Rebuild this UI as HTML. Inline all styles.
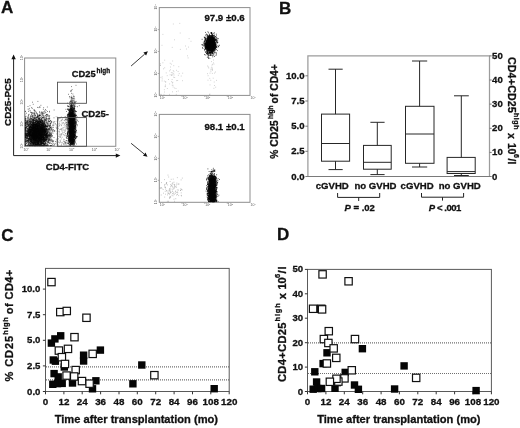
<!DOCTYPE html><html><head><meta charset="utf-8"><title>Figure</title>
<style>html,body{margin:0;padding:0;background:#fff}svg{display:block;filter:blur(0.4px)}text{font-family:"Liberation Sans",sans-serif;font-weight:bold;fill:#111;stroke:#111;stroke-width:0.3px}</style></head><body>
<svg width="520" height="428" viewBox="0 0 520 428">
<rect width="520" height="428" fill="#fff"/>
<g opacity="0.999">
<text x="0.9" y="13" font-size="17">A</text>
<text x="278.9" y="14" font-size="17">B</text>
<text x="1.2" y="240.8" font-size="17">C</text>
<text x="276.9" y="240" font-size="17">D</text>
<path d="M46.3 130.4h0.8M37.1 136.2h0.8M32.5 133.5h0.8M36.9 121.9h0.8M42.6 137.5h0.8M33.4 132.4h0.8M39.7 131.8h0.8M35.5 123.9h0.8M40.0 134.3h0.8M38.4 123.4h0.8M46.1 134.5h0.8M34.7 145.7h0.8M36.6 123.9h0.8M34.6 118.4h0.8M42.8 130.8h0.8M32.7 140.6h0.8M27.6 137.0h0.8M25.3 129.1h0.8M30.1 143.1h0.8M46.8 131.3h0.8M41.6 132.3h0.8M40.1 128.5h0.8M27.3 121.6h0.8M39.0 145.7h0.8M38.4 130.0h0.8M47.6 135.1h0.8M37.4 135.2h0.8M36.1 131.5h0.8M28.8 136.8h0.8M36.3 141.4h0.8M34.8 120.9h0.8M36.3 144.7h0.8M34.7 127.6h0.8M30.2 126.6h0.8M35.2 125.7h0.8M45.3 131.6h0.8M37.5 143.0h0.8M45.3 132.1h0.8M38.7 138.4h0.8M35.8 121.8h0.8M40.5 139.4h0.8M39.2 127.4h0.8M35.8 129.6h0.8M35.2 142.1h0.8M45.4 137.9h0.8M39.9 138.0h0.8M36.8 133.0h0.8M33.1 133.1h0.8M49.5 139.2h0.8M35.0 130.4h0.8M32.0 136.0h0.8M39.1 124.0h0.8M39.6 129.7h0.8M44.9 134.5h0.8M46.5 130.5h0.8M35.3 135.5h0.8M42.8 137.2h0.8M30.0 134.7h0.8M37.0 130.7h0.8M33.2 145.0h0.8M34.7 127.9h0.8M40.4 134.4h0.8M36.5 138.7h0.8M39.6 135.9h0.8M42.3 135.4h0.8M33.4 131.1h0.8M34.0 134.9h0.8M30.8 121.4h0.8M37.4 124.7h0.8M25.9 136.0h0.8M32.9 136.8h0.8M33.9 126.1h0.8M29.9 130.1h0.8M35.3 128.1h0.8M35.3 123.4h0.8M37.0 121.7h0.8M35.8 138.1h0.8M43.0 144.8h0.8M28.2 138.5h0.8M43.6 140.0h0.8M31.7 136.2h0.8M47.3 123.6h0.8M39.5 140.8h0.8M33.0 137.3h0.8M30.9 128.1h0.8M32.3 134.8h0.8M36.4 139.8h0.8M31.6 132.6h0.8M42.3 137.2h0.8M29.5 137.9h0.8M34.2 136.0h0.8M38.6 141.5h0.8M37.5 121.3h0.8M29.2 138.3h0.8M35.4 141.0h0.8M38.4 128.6h0.8M42.9 128.2h0.8M25.4 145.7h0.8M26.2 137.7h0.8M42.1 134.5h0.8M27.4 140.2h0.8M28.8 124.6h0.8M34.8 138.7h0.8M38.6 138.9h0.8M34.4 132.4h0.8M30.5 131.4h0.8M40.2 131.5h0.8M39.5 129.7h0.8M33.6 133.8h0.8M35.8 137.4h0.8M37.9 145.0h0.8M35.6 132.0h0.8M31.1 133.7h0.8M40.7 128.6h0.8M36.6 138.2h0.8M36.2 130.1h0.8M42.3 134.1h0.8M39.1 141.2h0.8M43.3 131.2h0.8M33.9 135.4h0.8M36.1 121.0h0.8M44.0 133.6h0.8M41.0 125.8h0.8M44.1 129.6h0.8M36.3 124.3h0.8M35.9 132.0h0.8M35.8 136.4h0.8M37.2 139.9h0.8M34.3 126.9h0.8M36.8 137.6h0.8M43.8 138.9h0.8M27.0 136.0h0.8M45.1 133.9h0.8M34.0 135.5h0.8M34.1 137.7h0.8M36.8 142.7h0.8M39.7 128.7h0.8M40.3 139.7h0.8M33.7 130.7h0.8M24.8 139.5h0.8M33.6 119.5h0.8M27.0 132.0h0.8M41.1 132.9h0.8M39.5 126.2h0.8M29.4 139.3h0.8M39.6 133.3h0.8M44.1 127.2h0.8M34.5 140.3h0.8M47.2 133.6h0.8M46.3 129.5h0.8M38.7 132.4h0.8M28.0 135.2h0.8M42.1 132.5h0.8M36.5 142.7h0.8M29.9 123.6h0.8M33.2 125.6h0.8M44.4 135.5h0.8M32.0 129.4h0.8M52.9 129.5h0.8M32.6 135.5h0.8M40.4 135.0h0.8M31.8 125.8h0.8M40.2 133.1h0.8M27.7 141.2h0.8M41.2 131.9h0.8M35.4 135.0h0.8M33.0 124.6h0.8M38.7 124.0h0.8M39.1 124.0h0.8M36.3 132.6h0.8M46.9 126.5h0.8M29.0 129.2h0.8M30.6 129.6h0.8M39.2 138.6h0.8M46.2 128.6h0.8M51.7 145.7h0.8M35.7 118.4h0.8M36.4 134.0h0.8M24.8 134.0h0.8M35.8 128.3h0.8M40.4 140.1h0.8M34.2 135.0h0.8M33.2 128.3h0.8M37.3 137.0h0.8M33.7 118.9h0.8M40.2 123.0h0.8M37.6 145.2h0.8M36.8 125.6h0.8M28.7 141.2h0.8M36.8 137.1h0.8M42.1 133.2h0.8M35.1 127.2h0.8M24.8 123.5h0.8M36.5 132.3h0.8M39.1 132.7h0.8M37.8 138.7h0.8M31.9 131.6h0.8M27.9 139.9h0.8M37.1 136.7h0.8M45.5 140.6h0.8M36.5 138.7h0.8M28.9 136.4h0.8M37.7 122.8h0.8M44.4 128.9h0.8M40.7 130.7h0.8M42.4 142.2h0.8M32.2 123.4h0.8M36.1 139.1h0.8M34.8 129.5h0.8M39.6 115.3h0.8M33.2 124.4h0.8M38.5 128.6h0.8M30.6 131.2h0.8M28.7 133.4h0.8M33.1 131.0h0.8M32.9 139.5h0.8M36.3 137.0h0.8M39.6 128.2h0.8M40.1 135.8h0.8M38.6 130.9h0.8M34.5 138.7h0.8M49.1 128.0h0.8M39.9 131.1h0.8M41.3 136.4h0.8M42.8 115.1h0.8M33.5 127.0h0.8M36.3 128.7h0.8M33.3 138.0h0.8M47.5 114.9h0.8M35.1 135.6h0.8M36.9 131.2h0.8M29.3 127.3h0.8M40.9 140.6h0.8M37.4 128.0h0.8M37.4 131.9h0.8M39.9 134.3h0.8M33.4 134.8h0.8M30.3 138.9h0.8M43.5 125.7h0.8M39.2 127.0h0.8M42.9 139.5h0.8M35.6 140.1h0.8M34.5 129.3h0.8M33.7 132.6h0.8M35.1 134.5h0.8M33.4 138.5h0.8M42.6 130.2h0.8M28.9 138.3h0.8M43.3 132.4h0.8M29.7 135.3h0.8M45.4 121.1h0.8M39.6 131.4h0.8M32.1 136.8h0.8M29.6 135.5h0.8M44.2 134.7h0.8M32.0 121.8h0.8M29.7 121.3h0.8M45.8 131.9h0.8M31.0 124.9h0.8M30.9 131.3h0.8M29.7 144.6h0.8M32.7 128.3h0.8M38.6 143.1h0.8M44.3 130.3h0.8M38.3 134.5h0.8M39.8 135.2h0.8M31.6 125.2h0.8M37.9 125.7h0.8M44.5 133.8h0.8M31.1 131.4h0.8M34.0 132.6h0.8M42.2 124.0h0.8M26.4 135.7h0.8M35.9 134.6h0.8M39.4 132.3h0.8M41.4 127.6h0.8M37.2 128.0h0.8M30.5 137.6h0.8M40.1 120.7h0.8M30.6 135.4h0.8M42.9 129.1h0.8M35.8 124.2h0.8M50.9 136.6h0.8M41.9 137.8h0.8M42.1 137.5h0.8M35.0 138.4h0.8M37.3 142.1h0.8M32.8 129.9h0.8M40.6 141.9h0.8M37.7 128.8h0.8M36.2 130.2h0.8M47.5 139.4h0.8M44.0 135.5h0.8M33.8 141.2h0.8M46.1 137.3h0.8M36.7 140.6h0.8M34.8 138.5h0.8M32.9 127.1h0.8M40.0 135.7h0.8M47.5 131.7h0.8M37.0 126.0h0.8M26.4 121.7h0.8M39.5 125.7h0.8M43.2 142.9h0.8M35.3 144.4h0.8M38.1 140.9h0.8M35.6 139.8h0.8M31.6 137.6h0.8M34.3 132.6h0.8M40.4 134.6h0.8M36.5 138.3h0.8M41.4 124.4h0.8M40.0 137.9h0.8M32.7 136.0h0.8M29.5 143.0h0.8M35.5 133.0h0.8M43.6 132.6h0.8M40.2 126.6h0.8M33.7 124.3h0.8M35.7 140.3h0.8M38.1 139.3h0.8M31.1 127.7h0.8M34.3 137.3h0.8M38.9 133.4h0.8M40.4 132.5h0.8M36.8 142.1h0.8M33.6 134.7h0.8M45.9 134.2h0.8M40.8 129.5h0.8M47.8 118.7h0.8M30.5 126.5h0.8M45.9 135.8h0.8M35.4 125.0h0.8M38.9 134.3h0.8M33.0 123.7h0.8M30.7 134.9h0.8M38.6 134.0h0.8M36.0 121.8h0.8M37.1 126.7h0.8M37.1 136.6h0.8M33.1 126.7h0.8M42.4 135.8h0.8M33.3 113.7h0.8M36.6 137.7h0.8M43.2 129.0h0.8M33.3 130.6h0.8M41.6 125.7h0.8M36.2 127.4h0.8M38.4 123.2h0.8M39.0 130.2h0.8M35.6 137.0h0.8M43.3 122.3h0.8M42.5 137.2h0.8M35.2 142.8h0.8M37.9 142.0h0.8M33.6 127.8h0.8M43.7 145.7h0.8M40.4 139.4h0.8M34.2 124.8h0.8M35.6 143.4h0.8M26.5 130.2h0.8M26.2 134.2h0.8M41.8 125.3h0.8M34.6 142.2h0.8M36.4 125.3h0.8M29.5 120.2h0.8M41.2 128.6h0.8M42.8 139.2h0.8M33.2 130.0h0.8M41.2 134.5h0.8M38.4 122.6h0.8M41.9 127.7h0.8M24.8 129.4h0.8M39.2 145.7h0.8M34.8 124.7h0.8M48.8 134.6h0.8M35.4 126.4h0.8M31.3 143.3h0.8M35.4 130.0h0.8M34.0 143.8h0.8M33.6 137.6h0.8M38.4 135.1h0.8M32.0 137.8h0.8M45.9 133.2h0.8M31.7 125.0h0.8M37.9 131.7h0.8M36.3 133.6h0.8M28.6 138.7h0.8M38.2 133.0h0.8M38.2 139.6h0.8M37.2 127.9h0.8M43.4 130.6h0.8M32.8 123.2h0.8M36.9 126.6h0.8M34.0 136.5h0.8M37.1 140.2h0.8M38.6 130.8h0.8M35.0 130.2h0.8M40.5 133.6h0.8M34.6 139.1h0.8M37.4 130.4h0.8M28.4 136.4h0.8M38.2 133.8h0.8M34.4 128.0h0.8M35.6 135.0h0.8M36.2 132.5h0.8M34.3 135.7h0.8M38.2 128.5h0.8M41.1 138.7h0.8M41.4 132.6h0.8M35.8 125.8h0.8M41.1 119.4h0.8M34.7 131.3h0.8M41.7 133.5h0.8M31.5 124.1h0.8M32.8 134.2h0.8M37.2 132.2h0.8M33.0 132.1h0.8M42.5 126.2h0.8M37.1 144.2h0.8M40.0 130.5h0.8M40.6 128.5h0.8M36.9 143.8h0.8M47.5 122.2h0.8M40.8 145.7h0.8M33.8 135.2h0.8M45.3 130.2h0.8M39.4 133.1h0.8M26.1 135.8h0.8M35.8 139.6h0.8M48.6 138.0h0.8M34.8 136.5h0.8M38.0 140.3h0.8M28.8 125.8h0.8M25.4 137.5h0.8M36.8 129.3h0.8M32.8 129.7h0.8M31.7 131.4h0.8M34.1 142.7h0.8M38.7 128.1h0.8M33.6 141.4h0.8M39.4 135.4h0.8M40.9 144.0h0.8M30.1 128.6h0.8M27.1 136.8h0.8M34.8 129.1h0.8M32.6 138.1h0.8M36.1 130.0h0.8M43.9 126.6h0.8M29.8 145.7h0.8M34.8 129.9h0.8M32.8 132.6h0.8M41.3 138.5h0.8M39.9 131.7h0.8M28.5 135.4h0.8M45.4 140.6h0.8M35.9 138.8h0.8M34.7 133.1h0.8M30.0 131.4h0.8M37.7 132.4h0.8M41.2 145.7h0.8M44.3 131.5h0.8M32.8 129.2h0.8M31.4 133.7h0.8M39.2 134.7h0.8M38.0 134.5h0.8M36.1 128.6h0.8M46.5 140.4h0.8M31.8 127.5h0.8M33.6 133.7h0.8M43.9 140.2h0.8M42.9 140.7h0.8M43.1 138.4h0.8M39.4 132.7h0.8M27.1 132.6h0.8M47.0 129.9h0.8M33.4 140.2h0.8M37.3 130.3h0.8M45.6 137.6h0.8M41.1 129.8h0.8M39.7 136.0h0.8M41.2 141.1h0.8M43.2 134.6h0.8M40.7 125.9h0.8M40.5 138.0h0.8M34.7 128.4h0.8M36.5 125.5h0.8M38.8 135.4h0.8M31.6 133.8h0.8M42.9 140.5h0.8M42.5 132.5h0.8M35.0 130.9h0.8M40.2 145.7h0.8M44.7 144.0h0.8M44.4 122.9h0.8M35.8 130.6h0.8M43.9 144.6h0.8M33.2 133.8h0.8M40.0 130.3h0.8M33.4 129.0h0.8M41.8 127.5h0.8M43.2 134.1h0.8M41.1 143.7h0.8M33.1 128.1h0.8M39.3 126.7h0.8M32.8 132.8h0.8M37.8 125.3h0.8M34.7 137.3h0.8M44.4 120.6h0.8M44.2 139.3h0.8M30.8 123.8h0.8M39.2 130.7h0.8M37.6 139.2h0.8M34.8 134.6h0.8M39.5 139.3h0.8M46.7 144.7h0.8M38.2 131.9h0.8M50.1 137.7h0.8M39.3 126.3h0.8M41.2 128.4h0.8M34.3 124.7h0.8M34.0 133.9h0.8M28.5 127.6h0.8M36.4 125.2h0.8M29.9 128.0h0.8M29.0 137.5h0.8M31.3 138.6h0.8M42.0 125.6h0.8M37.1 130.4h0.8M30.5 131.3h0.8M35.5 138.2h0.8M42.6 126.3h0.8M34.6 137.0h0.8M43.4 117.4h0.8M44.0 132.4h0.8M45.4 130.7h0.8M32.2 133.8h0.8M43.4 133.7h0.8M24.8 138.0h0.8M27.9 127.1h0.8M30.4 121.4h0.8M29.9 127.0h0.8M33.5 133.1h0.8M35.0 123.7h0.8M35.9 139.9h0.8M42.2 134.4h0.8M40.3 139.4h0.8M44.5 144.7h0.8M35.1 131.7h0.8M45.1 143.8h0.8M45.5 118.0h0.8M35.6 112.0h0.8M41.0 133.9h0.8M37.2 132.6h0.8M44.2 131.6h0.8M42.7 137.2h0.8M38.9 136.6h0.8M37.5 126.3h0.8M40.9 138.2h0.8M36.1 138.3h0.8M41.9 125.0h0.8M36.1 130.6h0.8M31.8 135.6h0.8M32.2 130.6h0.8M38.2 135.8h0.8M38.7 145.7h0.8M34.1 135.2h0.8M30.1 136.7h0.8M43.3 141.5h0.8M33.3 131.7h0.8M43.9 132.9h0.8M42.2 127.1h0.8M44.6 140.3h0.8M39.5 128.2h0.8M36.0 134.5h0.8M38.4 132.8h0.8M35.7 134.8h0.8M44.7 120.2h0.8M29.2 123.3h0.8M33.0 122.0h0.8M40.0 134.1h0.8M35.5 129.0h0.8M37.8 134.7h0.8M38.7 128.7h0.8M40.5 123.8h0.8M43.9 113.2h0.8M33.6 125.6h0.8M41.3 123.7h0.8M47.1 123.3h0.8M48.2 136.5h0.8M37.0 136.4h0.8M49.2 139.4h0.8M24.8 141.4h0.8M38.2 122.8h0.8M41.1 125.5h0.8M37.9 135.0h0.8M33.2 137.8h0.8M31.2 134.8h0.8M33.8 132.3h0.8M47.6 134.2h0.8M30.8 132.7h0.8M32.6 133.7h0.8M37.8 134.1h0.8M37.3 129.9h0.8M39.4 140.5h0.8M33.4 133.1h0.8M37.2 141.8h0.8M42.9 128.7h0.8M37.3 123.6h0.8M31.5 133.6h0.8M40.4 139.8h0.8M35.1 124.6h0.8M39.1 132.4h0.8M39.2 134.6h0.8M40.9 137.8h0.8M41.6 130.5h0.8M42.4 130.2h0.8M37.4 145.7h0.8M38.9 125.8h0.8M45.2 140.1h0.8M43.3 134.8h0.8M38.8 132.0h0.8M33.0 143.6h0.8M34.8 130.3h0.8M34.4 145.7h0.8M41.8 131.1h0.8M36.6 136.9h0.8M41.8 122.9h0.8M41.9 132.1h0.8M33.0 130.9h0.8M41.3 145.1h0.8M37.7 137.2h0.8M32.3 136.7h0.8M41.5 123.7h0.8M34.0 138.7h0.8M27.0 131.0h0.8M40.2 122.3h0.8M34.7 133.9h0.8M41.9 125.1h0.8M43.1 135.5h0.8M43.6 141.2h0.8M38.8 136.7h0.8M27.1 124.6h0.8M31.2 131.2h0.8M42.1 121.7h0.8M35.1 124.8h0.8M28.2 143.2h0.8M37.4 144.3h0.8M43.5 127.4h0.8M26.5 145.7h0.8M34.6 125.9h0.8M40.7 134.4h0.8M33.1 131.2h0.8M37.8 134.0h0.8M41.1 131.2h0.8M35.0 137.5h0.8M38.6 140.7h0.8M35.5 132.9h0.8M30.4 143.4h0.8M29.1 134.8h0.8M31.9 135.7h0.8M41.0 122.7h0.8M35.7 121.9h0.8M44.7 130.6h0.8M28.0 128.9h0.8M44.2 143.3h0.8M44.0 128.3h0.8M36.0 144.3h0.8M32.8 131.3h0.8M31.5 125.8h0.8M43.6 137.7h0.8M39.4 137.3h0.8M42.6 143.5h0.8M36.8 131.3h0.8M31.1 140.6h0.8M34.0 123.6h0.8M35.4 133.7h0.8M41.5 140.1h0.8M32.8 128.2h0.8M35.0 125.5h0.8M36.3 136.5h0.8M37.1 122.9h0.8M30.2 142.0h0.8M31.2 138.4h0.8M40.4 131.4h0.8M31.3 134.9h0.8M31.9 132.3h0.8M37.5 128.8h0.8M35.6 131.5h0.8M30.0 132.2h0.8M33.3 121.5h0.8M35.0 131.6h0.8M33.5 119.9h0.8M41.2 138.0h0.8M40.5 135.6h0.8M29.8 134.3h0.8M31.7 145.7h0.8M34.0 137.9h0.8M28.2 125.7h0.8M33.9 138.1h0.8M39.9 135.4h0.8M26.5 141.0h0.8M31.7 144.2h0.8M47.3 139.0h0.8M42.4 125.2h0.8M51.3 134.9h0.8M42.5 127.8h0.8M36.5 125.7h0.8M35.5 133.6h0.8M38.3 142.7h0.8M39.6 135.1h0.8M37.1 145.7h0.8M33.6 141.3h0.8M25.9 127.7h0.8M39.2 132.4h0.8M53.7 145.7h0.8M28.4 126.4h0.8M36.1 145.0h0.8M43.2 135.7h0.8M29.0 127.9h0.8M24.8 123.4h0.8M39.3 138.7h0.8M29.6 134.2h0.8M46.0 134.6h0.8M35.2 137.6h0.8M39.9 134.1h0.8M33.9 130.7h0.8M37.4 129.9h0.8M44.4 139.4h0.8M43.0 145.7h0.8M45.7 142.9h0.8M39.0 132.3h0.8M49.8 129.1h0.8M33.4 127.8h0.8M38.1 136.3h0.8M42.7 132.0h0.8M27.2 135.6h0.8M42.4 133.7h0.8M36.2 137.2h0.8M44.9 133.1h0.8M28.9 129.8h0.8M36.0 121.6h0.8M41.2 128.5h0.8M39.7 134.8h0.8M35.1 144.3h0.8M33.7 129.1h0.8M38.5 139.1h0.8M36.9 127.0h0.8M40.8 137.5h0.8M48.5 132.1h0.8M38.1 129.8h0.8M28.5 134.0h0.8M41.6 126.8h0.8M33.1 125.7h0.8M44.4 129.3h0.8M40.1 127.8h0.8M37.3 129.4h0.8M24.8 134.0h0.8M39.8 119.7h0.8M35.9 130.6h0.8M30.8 131.8h0.8M26.0 135.2h0.8M43.5 125.2h0.8M36.5 142.9h0.8M37.6 130.1h0.8M31.8 134.7h0.8M36.1 137.7h0.8M28.4 140.6h0.8M34.6 137.7h0.8M32.8 124.9h0.8M33.7 127.2h0.8M34.8 137.8h0.8M42.9 134.8h0.8M33.8 130.5h0.8M40.2 141.0h0.8M35.1 132.7h0.8M32.7 134.9h0.8M42.2 114.3h0.8M38.3 129.9h0.8M24.8 135.6h0.8M36.4 135.9h0.8M29.2 145.7h0.8M37.5 131.2h0.8M45.4 137.8h0.8M41.5 141.2h0.8M25.3 144.5h0.8M34.9 135.4h0.8M42.0 128.8h0.8M38.7 138.5h0.8M36.6 136.8h0.8M27.9 125.6h0.8M30.4 135.9h0.8M36.0 133.1h0.8M42.4 138.2h0.8M30.5 140.2h0.8M36.7 138.9h0.8M25.7 123.2h0.8M40.2 121.6h0.8M39.1 135.7h0.8M37.7 135.8h0.8M38.4 136.5h0.8M34.6 133.4h0.8M53.3 141.0h0.8M40.3 136.1h0.8M32.8 135.0h0.8M35.5 139.7h0.8M31.8 117.9h0.8M33.7 138.1h0.8M50.6 140.3h0.8M31.4 132.1h0.8M31.5 132.3h0.8M31.9 122.6h0.8M39.4 134.8h0.8M35.9 135.8h0.8M48.3 134.3h0.8M34.8 139.2h0.8M27.7 138.5h0.8M32.5 128.1h0.8M37.5 144.5h0.8M32.7 139.8h0.8M39.0 124.3h0.8M42.0 128.0h0.8M28.6 128.3h0.8M32.8 137.4h0.8M32.8 143.4h0.8M38.1 128.8h0.8M32.2 135.0h0.8M25.5 119.1h0.8M31.9 137.7h0.8M37.9 133.6h0.8M35.7 119.1h0.8M35.1 121.8h0.8M41.6 133.4h0.8M36.4 136.1h0.8M38.7 135.0h0.8M38.8 129.6h0.8M29.4 135.8h0.8M45.0 140.2h0.8M35.7 137.5h0.8M34.4 136.0h0.8M33.5 134.4h0.8M48.1 138.6h0.8M45.3 128.4h0.8M33.0 133.2h0.8M40.0 132.1h0.8M42.5 129.9h0.8M44.5 139.9h0.8M30.6 137.3h0.8M35.6 140.2h0.8M33.9 135.6h0.8M39.9 115.3h0.8M26.3 134.3h0.8M36.2 140.2h0.8M38.1 125.1h0.8M38.7 128.5h0.8M35.6 130.1h0.8M38.8 124.1h0.8M30.6 118.8h0.8M48.9 126.9h0.8M32.0 125.9h0.8M33.3 130.6h0.8M40.3 134.7h0.8M38.7 129.6h0.8M36.5 141.5h0.8M36.7 135.5h0.8M25.5 136.9h0.8M38.3 142.0h0.8M24.8 133.6h0.8M36.2 134.0h0.8M33.3 134.8h0.8M40.7 133.7h0.8M35.1 132.0h0.8M34.6 133.6h0.8M32.8 120.2h0.8M44.4 121.8h0.8M36.1 124.7h0.8M35.1 127.0h0.8M36.5 127.8h0.8M29.5 135.3h0.8M44.2 135.6h0.8M37.3 126.3h0.8M36.2 136.2h0.8M33.0 139.2h0.8M36.4 135.6h0.8M33.9 130.0h0.8M37.9 135.8h0.8M38.6 126.5h0.8M32.5 133.1h0.8M26.2 140.1h0.8M38.4 133.5h0.8M32.6 138.6h0.8M35.1 145.7h0.8M38.8 123.3h0.8M40.7 129.7h0.8M33.7 131.6h0.8M35.9 134.8h0.8M40.8 136.1h0.8M32.5 124.2h0.8M32.0 135.5h0.8M41.4 145.0h0.8M29.0 133.6h0.8M35.3 130.5h0.8M37.3 131.5h0.8M35.1 128.8h0.8M38.8 140.1h0.8M45.7 129.6h0.8M30.6 131.4h0.8M31.9 139.9h0.8M32.0 133.6h0.8M29.0 130.8h0.8M37.6 143.2h0.8M32.7 135.5h0.8M24.9 125.1h0.8M32.0 129.8h0.8M38.9 137.3h0.8M27.5 136.6h0.8M30.3 145.2h0.8M38.3 134.1h0.8M35.5 132.9h0.8M36.5 128.5h0.8M40.7 134.9h0.8M40.7 132.7h0.8M40.3 128.1h0.8M56.5 128.4h0.8M34.0 139.4h0.8M43.4 127.8h0.8M27.2 123.8h0.8M31.0 127.9h0.8M35.6 139.9h0.8M42.6 129.0h0.8M39.5 138.9h0.8M44.4 132.0h0.8M32.3 138.0h0.8M45.0 129.6h0.8M47.4 144.4h0.8M35.0 122.7h0.8M33.2 130.7h0.8M39.5 122.0h0.8M50.1 145.7h0.8M32.4 120.8h0.8M35.5 135.8h0.8M44.0 137.7h0.8M35.4 120.1h0.8M39.3 138.6h0.8M34.7 134.9h0.8M37.6 131.4h0.8M30.0 135.3h0.8M28.5 142.3h0.8M31.4 136.3h0.8M32.4 135.5h0.8M35.3 136.5h0.8M32.0 122.3h0.8M34.9 130.7h0.8M28.0 128.5h0.8M27.1 133.8h0.8M34.4 133.1h0.8M51.0 134.1h0.8M38.5 137.1h0.8M35.7 129.1h0.8M41.4 139.8h0.8M24.8 131.9h0.8M34.6 129.3h0.8M43.4 129.5h0.8M41.3 129.4h0.8M34.2 137.8h0.8M32.3 131.9h0.8M30.3 127.1h0.8M40.5 136.8h0.8M30.0 125.2h0.8M50.7 128.7h0.8M31.6 136.4h0.8M32.1 130.6h0.8M41.4 139.6h0.8M35.3 141.8h0.8M35.6 131.4h0.8M36.4 130.9h0.8M39.4 134.8h0.8M32.1 134.2h0.8M33.4 129.2h0.8M35.6 139.7h0.8M38.0 141.3h0.8M45.2 132.7h0.8M33.0 127.8h0.8M38.0 138.7h0.8M45.3 124.3h0.8M41.6 140.0h0.8M50.1 134.2h0.8M36.3 123.0h0.8M32.1 125.7h0.8M30.8 127.1h0.8M27.9 132.4h0.8M38.6 138.0h0.8M35.9 140.0h0.8M42.5 123.0h0.8M35.0 124.8h0.8M31.0 134.3h0.8M35.8 142.7h0.8M48.0 135.8h0.8M35.4 132.1h0.8M36.5 136.9h0.8M32.4 136.9h0.8M35.2 140.1h0.8M44.2 144.6h0.8M35.7 124.2h0.8M27.1 131.2h0.8M28.6 122.3h0.8M34.6 126.6h0.8M40.4 145.7h0.8M35.3 135.2h0.8M27.8 134.4h0.8M32.7 125.9h0.8M26.2 143.7h0.8M27.6 125.2h0.8M36.7 135.1h0.8M38.3 133.9h0.8M31.6 138.3h0.8M37.7 123.6h0.8M45.6 131.0h0.8M42.0 123.6h0.8M30.0 129.4h0.8M32.8 139.9h0.8M27.6 134.3h0.8M31.0 136.7h0.8M37.8 129.6h0.8M49.1 133.0h0.8M42.8 124.5h0.8M36.0 133.9h0.8M37.5 131.0h0.8M32.0 112.9h0.8M33.5 127.2h0.8M35.3 139.0h0.8M49.1 136.8h0.8M42.4 137.5h0.8M40.8 137.2h0.8M35.3 131.2h0.8M38.6 145.2h0.8M41.1 144.0h0.8M29.5 135.1h0.8M39.0 136.8h0.8M29.1 121.2h0.8M24.9 130.8h0.8M49.9 134.9h0.8M30.0 135.7h0.8M35.1 134.6h0.8M34.3 124.9h0.8M33.9 138.2h0.8M38.6 141.5h0.8M30.9 140.4h0.8M37.2 134.8h0.8M43.9 132.7h0.8M38.4 137.8h0.8M40.6 139.0h0.8M44.2 137.1h0.8M34.5 145.7h0.8M36.8 136.2h0.8M32.9 119.3h0.8M32.7 134.1h0.8M40.0 133.9h0.8M41.5 140.3h0.8M42.6 133.8h0.8M37.5 132.3h0.8M32.2 143.2h0.8M30.1 133.3h0.8M38.4 119.6h0.8M41.3 131.5h0.8M38.4 131.6h0.8M28.5 135.1h0.8M37.7 140.4h0.8M39.8 122.7h0.8M43.3 139.0h0.8M41.4 137.0h0.8M33.2 137.3h0.8M35.1 145.7h0.8M35.8 126.5h0.8M35.2 143.3h0.8M33.9 117.7h0.8M45.3 135.9h0.8M34.3 138.5h0.8M31.9 126.0h0.8M42.5 130.4h0.8M40.1 133.9h0.8M41.8 134.5h0.8M25.6 138.3h0.8M34.5 139.6h0.8M37.7 143.2h0.8M35.4 120.2h0.8M35.3 137.2h0.8M35.2 130.7h0.8M45.4 132.8h0.8M43.0 134.8h0.8M29.0 127.6h0.8M35.3 135.8h0.8M32.6 124.4h0.8M31.4 130.3h0.8M32.1 129.9h0.8M47.5 135.6h0.8M32.5 133.7h0.8M45.9 138.0h0.8M36.5 124.8h0.8M27.6 131.5h0.8M36.5 123.0h0.8M29.6 133.5h0.8M24.8 122.4h0.8M36.8 137.4h0.8M38.9 140.3h0.8M45.9 139.7h0.8M35.6 145.7h0.8M46.5 140.0h0.8M32.5 136.4h0.8M25.4 131.6h0.8M24.8 131.0h0.8M42.9 133.9h0.8M46.2 133.8h0.8M37.7 131.8h0.8M40.1 133.6h0.8M43.9 144.5h0.8M39.3 126.4h0.8M40.3 142.8h0.8M40.8 135.8h0.8M42.5 142.6h0.8M24.8 143.9h0.8M41.5 137.1h0.8M34.1 135.4h0.8M40.6 124.1h0.8M41.4 134.4h0.8M45.4 138.4h0.8M36.2 134.3h0.8M40.8 134.9h0.8M40.3 129.2h0.8M30.2 130.1h0.8M29.2 128.8h0.8M39.2 123.1h0.8M30.3 138.8h0.8M34.2 133.8h0.8M30.3 127.0h0.8M35.5 144.7h0.8M39.7 122.8h0.8M39.7 140.0h0.8M41.1 125.8h0.8M36.8 145.7h0.8M32.0 136.1h0.8M33.0 125.5h0.8M34.8 140.7h0.8M43.7 128.1h0.8M34.6 128.0h0.8M25.6 137.9h0.8M45.9 143.8h0.8M34.6 142.7h0.8M43.3 131.7h0.8M37.2 131.5h0.8M38.6 145.7h0.8M32.1 126.1h0.8M42.1 134.3h0.8M26.7 127.3h0.8M32.6 130.0h0.8M39.1 140.5h0.8M36.4 135.0h0.8M33.1 140.7h0.8M44.8 132.3h0.8M33.2 145.7h0.8M42.5 128.1h0.8M27.8 132.1h0.8M44.0 130.4h0.8M35.9 130.8h0.8M41.0 143.2h0.8M30.3 132.1h0.8M36.2 129.9h0.8M30.6 139.5h0.8M38.2 138.8h0.8M45.8 131.6h0.8M40.4 131.4h0.8M36.9 136.3h0.8M36.4 124.1h0.8M45.8 135.1h0.8M30.9 119.5h0.8M37.2 138.4h0.8M43.0 141.5h0.8M35.2 138.3h0.8M28.7 135.1h0.8M42.5 130.1h0.8M36.5 134.8h0.8M38.1 143.9h0.8M31.3 142.9h0.8M30.4 129.7h0.8M33.0 133.5h0.8M34.6 137.3h0.8M37.4 145.7h0.8M39.5 132.4h0.8M39.5 138.0h0.8M36.3 126.7h0.8M32.9 135.3h0.8M42.1 137.3h0.8M36.9 137.8h0.8M34.6 135.8h0.8M45.3 141.5h0.8M45.0 131.6h0.8M38.5 127.4h0.8M42.5 131.3h0.8M30.0 130.8h0.8M38.8 119.5h0.8M29.4 140.6h0.8M37.9 133.8h0.8M28.3 144.5h0.8M43.1 138.7h0.8M31.1 137.9h0.8M43.8 131.9h0.8M36.0 130.9h0.8M40.7 132.5h0.8M35.6 124.5h0.8M28.0 140.2h0.8M46.2 139.8h0.8M45.3 130.5h0.8M37.1 136.5h0.8M36.4 145.1h0.8M29.9 130.2h0.8M35.4 129.4h0.8M42.0 120.8h0.8M43.7 140.0h0.8M39.1 143.2h0.8M50.5 135.2h0.8M41.4 136.6h0.8M40.3 130.7h0.8M33.3 138.1h0.8M34.5 140.2h0.8M41.8 131.2h0.8M39.4 134.6h0.8M36.6 141.6h0.8M37.6 135.7h0.8M26.6 138.1h0.8M29.4 131.6h0.8M46.4 145.7h0.8M35.3 125.9h0.8M39.7 131.5h0.8M39.3 125.3h0.8M43.7 144.4h0.8M29.4 129.1h0.8M33.6 139.0h0.8M26.5 135.6h0.8M36.2 129.0h0.8M41.4 121.3h0.8M29.8 129.0h0.8M41.4 131.9h0.8M32.8 137.4h0.8M34.8 130.0h0.8M35.8 136.5h0.8M52.6 127.1h0.8M39.1 133.2h0.8M36.1 144.3h0.8M41.9 138.7h0.8M35.0 128.7h0.8M39.2 132.4h0.8M34.4 138.7h0.8M30.8 129.5h0.8M42.0 133.8h0.8M41.3 128.7h0.8M41.5 129.7h0.8M45.2 139.6h0.8M40.2 144.5h0.8M39.6 130.2h0.8M46.3 136.7h0.8M44.5 135.4h0.8M44.2 128.7h0.8M30.6 125.2h0.8M42.0 121.5h0.8M27.7 125.1h0.8M39.0 137.4h0.8M33.2 139.7h0.8M39.5 142.5h0.8M43.0 130.0h0.8M38.9 133.4h0.8M40.3 135.9h0.8M37.9 139.2h0.8M38.1 139.4h0.8M38.0 133.5h0.8M42.9 140.9h0.8M44.7 138.7h0.8M36.6 135.8h0.8M38.7 123.0h0.8M31.5 144.6h0.8M37.5 115.8h0.8M37.1 135.6h0.8M30.9 145.7h0.8M44.1 139.9h0.8M36.7 137.7h0.8M42.5 137.7h0.8M34.0 135.8h0.8M38.5 136.5h0.8M31.9 136.3h0.8M37.8 136.1h0.8M38.9 125.0h0.8M42.5 139.4h0.8M30.2 133.8h0.8M32.9 131.5h0.8M43.3 137.9h0.8M48.7 135.0h0.8M31.4 135.1h0.8M24.8 145.7h0.8M39.0 137.2h0.8M38.4 128.7h0.8M36.8 129.1h0.8M34.6 136.4h0.8M30.7 144.9h0.8M31.4 139.5h0.8M33.8 125.9h0.8M39.4 135.1h0.8M36.0 133.5h0.8M33.7 136.7h0.8M34.5 134.0h0.8M43.3 125.1h0.8M33.9 129.3h0.8M32.6 124.9h0.8M35.5 134.7h0.8M36.4 123.2h0.8M40.8 138.2h0.8M37.4 127.0h0.8M32.2 145.7h0.8M46.5 136.7h0.8M31.8 141.8h0.8M37.9 144.5h0.8M33.7 136.6h0.8M35.7 138.5h0.8M33.4 139.5h0.8M34.8 127.7h0.8M40.1 135.1h0.8M25.1 133.2h0.8M37.5 134.7h0.8M48.3 129.3h0.8M36.8 122.4h0.8M28.8 129.8h0.8M36.2 132.2h0.8M40.4 138.3h0.8M42.5 132.4h0.8M39.6 128.8h0.8M38.9 136.7h0.8M34.1 112.3h0.8M33.2 145.7h0.8M36.3 129.3h0.8M37.5 140.8h0.8M38.7 132.1h0.8M29.7 131.5h0.8M30.2 135.8h0.8M45.3 140.4h0.8M33.5 127.0h0.8M29.1 136.4h0.8M40.0 138.7h0.8M38.7 125.5h0.8M26.1 140.8h0.8M32.1 145.7h0.8M25.0 126.1h0.8M31.6 135.2h0.8M40.5 129.8h0.8M40.1 124.8h0.8M34.0 125.4h0.8M33.7 129.2h0.8M38.5 145.7h0.8M29.1 132.0h0.8M40.6 133.8h0.8M44.7 126.6h0.8M41.1 128.2h0.8M41.3 134.5h0.8M38.1 129.5h0.8M26.4 126.1h0.8M40.7 131.6h0.8M40.9 124.6h0.8M40.3 140.0h0.8M24.8 135.5h0.8M47.6 128.4h0.8M42.4 133.6h0.8M41.6 130.8h0.8M32.4 130.6h0.8M34.7 129.5h0.8M31.9 140.7h0.8M33.5 125.4h0.8M31.6 136.6h0.8M24.8 136.7h0.8M40.8 141.8h0.8M34.3 128.0h0.8M37.8 134.4h0.8M44.2 133.8h0.8M34.4 124.7h0.8M35.7 133.9h0.8M43.4 134.1h0.8M44.4 141.6h0.8M32.6 125.9h0.8M33.3 131.9h0.8M32.3 138.1h0.8M40.6 141.4h0.8M38.4 130.6h0.8M39.1 127.5h0.8M37.7 128.5h0.8M43.3 115.9h0.8M41.6 139.3h0.8M36.6 135.7h0.8M38.0 142.0h0.8M46.1 133.6h0.8M46.0 129.3h0.8M39.2 136.4h0.8M29.8 135.7h0.8M33.1 138.7h0.8M31.9 121.8h0.8M29.6 133.6h0.8M38.6 135.7h0.8M32.6 138.7h0.8M33.8 132.0h0.8M42.4 132.4h0.8M26.4 138.2h0.8M36.9 130.9h0.8M44.1 129.3h0.8M40.5 134.4h0.8M51.4 121.6h0.8M38.0 135.8h0.8M43.0 130.7h0.8M33.3 142.7h0.8M34.5 135.3h0.8M36.6 136.0h0.8M29.3 129.9h0.8M36.6 134.2h0.8M43.0 136.8h0.8M40.1 133.1h0.8M43.9 129.5h0.8M36.3 123.7h0.8M31.0 139.1h0.8M36.6 121.2h0.8M36.6 131.9h0.8M30.5 135.7h0.8M35.3 133.5h0.8M42.1 129.4h0.8M42.9 131.7h0.8M35.4 142.0h0.8M39.0 130.8h0.8M36.2 134.9h0.8M28.7 137.8h0.8M36.8 124.9h0.8M31.6 139.1h0.8M29.8 145.7h0.8M30.9 134.8h0.8M24.8 132.9h0.8M33.9 136.6h0.8M37.9 131.2h0.8M48.8 138.4h0.8M32.7 135.6h0.8M24.8 129.5h0.8M43.7 129.6h0.8M37.5 125.7h0.8M41.1 134.0h0.8M36.7 139.4h0.8M45.8 138.5h0.8M26.9 135.8h0.8M38.1 125.6h0.8M27.6 130.5h0.8M34.9 132.7h0.8M32.5 134.2h0.8M38.2 131.2h0.8M38.7 129.2h0.8M27.7 133.1h0.8M41.5 145.7h0.8M24.8 129.8h0.8M31.6 134.9h0.8M31.6 133.9h0.8M42.1 128.2h0.8M36.1 143.8h0.8M41.5 122.4h0.8M48.2 128.6h0.8M38.3 130.4h0.8M34.0 128.6h0.8M40.1 128.0h0.8M29.5 129.4h0.8M36.6 119.9h0.8M41.0 128.4h0.8M40.7 142.3h0.8M38.4 136.7h0.8M34.1 128.8h0.8M26.0 131.9h0.8M33.6 117.6h0.8M38.1 143.2h0.8M38.9 140.9h0.8M35.1 126.5h0.8M37.0 130.9h0.8M30.3 140.0h0.8M37.6 128.9h0.8M37.7 132.2h0.8M40.1 143.8h0.8M33.2 125.4h0.8M44.4 145.7h0.8M33.2 127.2h0.8M29.9 133.2h0.8M37.3 131.5h0.8M41.4 127.9h0.8M33.4 125.0h0.8M44.4 140.4h0.8M44.0 127.7h0.8M44.2 135.2h0.8M40.7 137.1h0.8M34.9 132.2h0.8M28.1 129.7h0.8M35.5 125.7h0.8M37.3 141.8h0.8M34.0 127.0h0.8M32.0 134.6h0.8M46.5 134.4h0.8M37.1 125.2h0.8M38.6 137.5h0.8M34.5 133.2h0.8M33.1 138.2h0.8M44.2 135.9h0.8M39.6 133.7h0.8M33.2 128.3h0.8M34.5 134.1h0.8M36.7 140.0h0.8M40.9 143.2h0.8M41.1 131.8h0.8M37.3 122.7h0.8M46.1 129.6h0.8M34.5 145.4h0.8M30.8 129.3h0.8M36.4 129.6h0.8M37.3 135.0h0.8M40.3 132.7h0.8M40.7 131.2h0.8M40.2 141.2h0.8M27.2 132.0h0.8M37.8 121.0h0.8M24.8 135.5h0.8M33.2 138.6h0.8M36.8 133.3h0.8M34.9 134.1h0.8M31.8 130.1h0.8M41.2 131.8h0.8M39.6 133.4h0.8M34.9 127.1h0.8M41.5 128.0h0.8M38.9 123.2h0.8M38.3 136.0h0.8M33.3 122.8h0.8M35.9 134.1h0.8M33.9 129.0h0.8M41.9 132.7h0.8M34.5 139.0h0.8M36.7 128.8h0.8M41.7 131.1h0.8M42.0 129.0h0.8M38.6 141.5h0.8M39.3 136.7h0.8M39.3 139.0h0.8M37.3 136.4h0.8M35.6 145.7h0.8M32.0 138.8h0.8M31.4 137.0h0.8M44.1 126.3h0.8M46.6 127.2h0.8M32.3 135.6h0.8M30.7 139.8h0.8M39.5 115.7h0.8M28.9 128.7h0.8M39.1 126.4h0.8M32.8 137.5h0.8M31.3 135.3h0.8M29.2 139.9h0.8M44.7 125.9h0.8M24.8 122.4h0.8M42.1 129.6h0.8M42.6 124.6h0.8M31.5 132.6h0.8M42.6 131.9h0.8M31.0 135.3h0.8M37.2 136.6h0.8M35.7 129.3h0.8M36.8 117.2h0.8M38.2 141.3h0.8M39.8 127.1h0.8M28.2 141.9h0.8M33.9 131.9h0.8M38.0 129.5h0.8M36.9 143.1h0.8M34.0 145.7h0.8M38.8 135.4h0.8M42.0 139.3h0.8M42.6 137.0h0.8M33.5 143.9h0.8M35.9 127.9h0.8M41.7 137.6h0.8M36.6 133.8h0.8M40.0 145.7h0.8M36.3 125.1h0.8M33.6 136.7h0.8M35.6 129.0h0.8M40.8 138.1h0.8M35.6 135.2h0.8M33.2 129.4h0.8M34.8 124.5h0.8M38.6 132.8h0.8M33.9 134.0h0.8M37.4 128.4h0.8M33.4 128.1h0.8M44.1 122.3h0.8M36.2 138.6h0.8M30.6 126.9h0.8M31.1 121.3h0.8M43.0 131.3h0.8M30.2 128.6h0.8M37.2 130.5h0.8M31.2 135.9h0.8M31.2 130.0h0.8M37.0 127.8h0.8M36.5 128.3h0.8M50.8 129.8h0.8M39.8 126.9h0.8M29.8 131.6h0.8M34.0 130.2h0.8M35.8 138.1h0.8M46.5 145.5h0.8M36.2 144.3h0.8M45.3 128.2h0.8M33.1 131.6h0.8M46.6 131.3h0.8M34.4 141.2h0.8M34.7 131.1h0.8M39.0 133.2h0.8M24.8 123.9h0.8M39.6 122.7h0.8M42.4 131.6h0.8M37.0 133.8h0.8M25.7 127.4h0.8M29.8 133.6h0.8M44.1 130.5h0.8M36.0 119.3h0.8M33.5 130.4h0.8M34.6 135.9h0.8M43.4 131.9h0.8M37.8 121.8h0.8M39.0 132.3h0.8M25.9 134.3h0.8M32.0 138.7h0.8M38.2 132.6h0.8M45.2 131.0h0.8M34.0 132.3h0.8M36.3 126.6h0.8M38.9 134.9h0.8M32.8 122.0h0.8M42.5 140.8h0.8M40.8 138.8h0.8M45.9 134.7h0.8M45.1 131.7h0.8M31.4 132.8h0.8M34.5 136.0h0.8M46.4 135.6h0.8M42.2 145.7h0.8M46.4 133.6h0.8M32.7 145.7h0.8M30.5 121.1h0.8M25.4 140.7h0.8M28.3 131.4h0.8M35.8 141.6h0.8M28.8 133.4h0.8M38.2 142.3h0.8M35.2 134.9h0.8M35.0 140.3h0.8M41.8 130.5h0.8M39.6 123.4h0.8M36.9 127.3h0.8M34.2 139.8h0.8M48.6 134.5h0.8M35.8 131.0h0.8M40.8 132.0h0.8M42.1 143.3h0.8M40.1 130.7h0.8M40.9 128.7h0.8M26.8 140.8h0.8M47.4 142.0h0.8M34.6 111.0h0.8M32.6 137.3h0.8M34.4 142.4h0.8M32.1 136.4h0.8M37.9 134.9h0.8M28.7 132.5h0.8M38.1 130.5h0.8M29.2 129.9h0.8M31.2 135.4h0.8M42.0 135.3h0.8M38.6 131.9h0.8M37.6 120.2h0.8M36.9 138.9h0.8M33.5 137.6h0.8M28.1 133.4h0.8M35.4 136.1h0.8M37.3 145.7h0.8M24.8 123.4h0.8M32.7 133.6h0.8M32.8 128.5h0.8M27.6 124.0h0.8M31.6 143.0h0.8M31.9 145.7h0.8M42.4 131.1h0.8M41.0 139.8h0.8M29.7 122.3h0.8M44.7 126.7h0.8M41.3 137.5h0.8M27.1 137.3h0.8M39.6 141.5h0.8M36.3 136.0h0.8M38.6 131.5h0.8M45.7 139.4h0.8M45.1 135.4h0.8M43.0 126.7h0.8M33.0 139.7h0.8M35.2 130.4h0.8M37.4 122.5h0.8M37.4 136.3h0.8M34.7 125.6h0.8M46.3 135.8h0.8M30.7 129.1h0.8M27.4 121.5h0.8M25.7 127.5h0.8M38.8 137.9h0.8M35.8 139.8h0.8M39.7 125.4h0.8M31.7 134.9h0.8M40.3 140.2h0.8M28.7 120.1h0.8M47.8 131.2h0.8M42.1 133.3h0.8M28.7 142.4h0.8M39.2 142.9h0.8M40.0 126.6h0.8M36.4 139.8h0.8M32.7 134.4h0.8M43.1 125.0h0.8M34.5 134.4h0.8M42.0 132.6h0.8M32.6 136.9h0.8M33.2 136.0h0.8M38.7 131.9h0.8M41.5 141.1h0.8M29.3 136.7h0.8M35.8 131.3h0.8M37.2 141.1h0.8M35.9 131.2h0.8M29.7 132.2h0.8M36.7 127.0h0.8M35.0 136.5h0.8M44.6 131.5h0.8M48.0 140.0h0.8M41.7 137.4h0.8M37.4 129.4h0.8M36.5 134.0h0.8M37.8 143.8h0.8M48.2 137.2h0.8M42.6 129.1h0.8M25.9 133.0h0.8M38.4 143.0h0.8M50.6 135.5h0.8M44.4 141.1h0.8M38.3 139.3h0.8M39.3 144.1h0.8M31.2 118.5h0.8M37.9 140.0h0.8M43.1 130.1h0.8M40.2 129.6h0.8M41.0 129.0h0.8M31.2 140.1h0.8M30.2 124.2h0.8M41.7 134.6h0.8M24.8 141.7h0.8M30.3 130.9h0.8M36.6 145.7h0.8M37.1 139.9h0.8M36.5 137.3h0.8M29.3 133.9h0.8M33.8 127.2h0.8M38.9 140.8h0.8M39.9 131.8h0.8M41.3 126.6h0.8M39.0 137.4h0.8M36.7 132.3h0.8M37.9 130.2h0.8M36.0 138.8h0.8M26.5 142.2h0.8M39.8 135.3h0.8M31.6 131.2h0.8M33.9 138.4h0.8M40.7 141.5h0.8M37.5 120.5h0.8M31.8 131.4h0.8M39.0 123.9h0.8M36.0 134.2h0.8M33.8 132.5h0.8M49.8 133.6h0.8M48.1 135.3h0.8M33.1 137.3h0.8M34.8 133.3h0.8M24.8 136.0h0.8M33.8 141.1h0.8M37.6 131.1h0.8M31.1 133.7h0.8M34.9 128.5h0.8M47.3 132.6h0.8M41.9 143.2h0.8M39.2 137.7h0.8M39.7 139.8h0.8M40.1 136.8h0.8M37.7 130.4h0.8M34.5 129.4h0.8M38.0 142.1h0.8M31.7 129.5h0.8M31.4 133.1h0.8M42.6 131.3h0.8M38.6 118.3h0.8M36.1 136.7h0.8M33.5 122.8h0.8M39.4 132.8h0.8M46.9 129.7h0.8M36.0 131.0h0.8M37.4 121.6h0.8M44.4 137.6h0.8M35.6 131.1h0.8M39.7 135.8h0.8M34.5 132.4h0.8M38.8 130.7h0.8M35.0 130.7h0.8M34.9 125.0h0.8M31.7 135.9h0.8M41.2 133.2h0.8M24.8 123.8h0.8M39.1 144.5h0.8M43.6 132.2h0.8M34.9 130.7h0.8M46.5 135.0h0.8M31.8 139.7h0.8M41.5 120.4h0.8M33.4 140.1h0.8M41.9 125.5h0.8M36.9 139.3h0.8M38.8 126.7h0.8M35.9 137.9h0.8M39.7 127.3h0.8M49.9 135.0h0.8M28.7 131.5h0.8M24.8 129.2h0.8M36.8 145.7h0.8M38.1 136.0h0.8M41.2 135.0h0.8M33.7 142.5h0.8M39.9 143.7h0.8M42.7 127.6h0.8M34.5 131.1h0.8M34.9 136.6h0.8M36.1 128.6h0.8M45.2 142.6h0.8M37.3 126.9h0.8M33.7 128.9h0.8M32.2 127.5h0.8M38.4 135.7h0.8M39.5 127.8h0.8M38.8 145.7h0.8M38.4 131.3h0.8M52.1 135.8h0.8M33.7 139.5h0.8M33.2 131.5h0.8M42.7 129.9h0.8M29.0 138.4h0.8M41.7 124.9h0.8M35.2 140.9h0.8M38.5 139.2h0.8M36.5 129.8h0.8M34.1 131.9h0.8M38.2 116.5h0.8M26.7 134.0h0.8M40.9 129.7h0.8M37.3 127.0h0.8M29.7 135.0h0.8M36.9 130.7h0.8M30.1 134.4h0.8M36.9 132.3h0.8M36.6 131.6h0.8M40.1 136.5h0.8M47.0 143.0h0.8M37.0 126.0h0.8M40.6 130.0h0.8M45.5 124.3h0.8M34.8 143.7h0.8M37.1 138.4h0.8M40.7 130.6h0.8M41.7 128.2h0.8M35.3 145.7h0.8M36.1 136.1h0.8M31.2 142.3h0.8M32.1 129.0h0.8M33.8 127.6h0.8M29.3 131.8h0.8M34.4 133.0h0.8M31.7 127.9h0.8M35.3 133.6h0.8M31.9 133.4h0.8M35.7 140.4h0.8M40.4 136.8h0.8M42.4 129.5h0.8M44.3 134.8h0.8M34.3 136.2h0.8M31.1 145.0h0.8M38.3 124.0h0.8M30.8 130.3h0.8M33.9 136.5h0.8M41.7 140.1h0.8M39.9 127.6h0.8M43.0 141.4h0.8M26.4 129.9h0.8M35.0 128.6h0.8M42.6 136.5h0.8M37.2 125.7h0.8M25.8 127.6h0.8M32.4 127.8h0.8M25.4 123.7h0.8M34.5 135.6h0.8M34.0 132.0h0.8M36.4 133.0h0.8M43.4 128.3h0.8M37.9 125.0h0.8M43.2 138.1h0.8M42.2 134.2h0.8M36.2 125.2h0.8M38.5 142.2h0.8M24.8 144.7h0.8M32.4 136.5h0.8M32.4 132.5h0.8M41.3 132.3h0.8M46.7 133.7h0.8M40.4 129.5h0.8M34.1 130.9h0.8M39.6 144.2h0.8M37.0 125.2h0.8M33.5 124.7h0.8M39.5 133.7h0.8M31.0 131.2h0.8M42.0 136.5h0.8M33.8 138.3h0.8M39.0 130.0h0.8M37.9 145.6h0.8M30.9 140.1h0.8M36.1 137.6h0.8M39.1 135.3h0.8M36.0 133.5h0.8M40.6 136.5h0.8M28.9 136.4h0.8M44.0 139.3h0.8M38.0 121.8h0.8M40.1 137.8h0.8M44.9 127.4h0.8M35.6 130.1h0.8M35.4 122.4h0.8M34.3 130.7h0.8M34.8 143.7h0.8M33.4 130.6h0.8M43.0 129.8h0.8M43.4 136.3h0.8M33.4 128.9h0.8M37.6 132.2h0.8M37.3 129.7h0.8M40.0 129.1h0.8M34.2 132.2h0.8M29.9 131.4h0.8M35.7 124.1h0.8M27.0 141.4h0.8M35.3 132.5h0.8M33.3 143.6h0.8M35.6 121.8h0.8M39.4 127.1h0.8M39.1 132.5h0.8M43.7 136.5h0.8M34.7 142.6h0.8M51.8 130.0h0.8M42.8 135.9h0.8M39.3 125.4h0.8M31.5 142.6h0.8M37.7 130.0h0.8M46.8 141.4h0.8M40.9 127.2h0.8M36.8 143.1h0.8M25.7 123.2h0.8M32.5 139.8h0.8M38.2 136.6h0.8M38.0 134.2h0.8M43.6 145.7h0.8M39.5 142.1h0.8M34.5 144.0h0.8M37.5 134.7h0.8M34.4 128.6h0.8M33.9 127.2h0.8M29.8 145.6h0.8M39.4 140.0h0.8M39.8 124.3h0.8M37.1 127.8h0.8M32.5 132.8h0.8M37.9 134.2h0.8M37.7 131.7h0.8M37.1 141.8h0.8M49.1 140.9h0.8M35.7 136.2h0.8M42.3 140.2h0.8M43.8 141.7h0.8M39.2 131.8h0.8M28.4 140.6h0.8M40.4 128.0h0.8M37.0 130.9h0.8M34.5 145.0h0.8M34.9 145.7h0.8M36.2 128.8h0.8M37.6 145.7h0.8M36.0 136.9h0.8M24.8 137.4h0.8M29.2 132.7h0.8M44.5 131.9h0.8M40.9 132.0h0.8M35.0 135.3h0.8M42.9 134.1h0.8M36.8 127.2h0.8M27.4 134.3h0.8M35.8 135.3h0.8M42.7 138.9h0.8M32.0 135.2h0.8M38.4 131.9h0.8M24.8 128.2h0.8M36.3 138.4h0.8M35.1 124.2h0.8M44.4 133.2h0.8M34.2 136.9h0.8M40.7 132.9h0.8M33.5 129.6h0.8M41.2 132.5h0.8M39.5 120.8h0.8M34.0 130.8h0.8M34.1 120.5h0.8M34.2 143.7h0.8M38.4 129.8h0.8M32.7 124.4h0.8M38.0 128.1h0.8M34.5 139.2h0.8M42.0 137.4h0.8M27.4 129.6h0.8M43.3 125.5h0.8M43.7 133.1h0.8M42.0 130.5h0.8M30.1 126.6h0.8M44.8 131.1h0.8M29.8 138.6h0.8M28.0 132.2h0.8M38.5 135.2h0.8M39.0 132.6h0.8M24.8 134.8h0.8M36.4 131.9h0.8M39.4 138.3h0.8M37.8 143.1h0.8M48.9 135.1h0.8M34.7 124.7h0.8M39.9 121.5h0.8M46.1 139.7h0.8M33.7 137.7h0.8M31.7 125.9h0.8M40.9 126.5h0.8M38.0 132.4h0.8M45.4 135.3h0.8M45.5 138.9h0.8M32.3 125.5h0.8M24.8 133.4h0.8M24.8 127.8h0.8M24.8 129.1h0.8M40.5 127.4h0.8M33.5 130.1h0.8M38.1 123.4h0.8M37.2 132.5h0.8M30.8 126.6h0.8M43.3 137.9h0.8M38.9 127.6h0.8M34.6 124.5h0.8M26.7 130.0h0.8M33.2 124.8h0.8M29.7 135.5h0.8M33.9 122.6h0.8M47.9 121.6h0.8M37.7 126.4h0.8M40.3 133.5h0.8M42.2 132.6h0.8M32.2 142.6h0.8M36.2 131.6h0.8M35.6 128.2h0.8M38.4 144.1h0.8M44.8 135.0h0.8M40.1 138.0h0.8M32.9 142.9h0.8M37.9 121.0h0.8M39.9 127.0h0.8M38.1 137.5h0.8M34.7 134.8h0.8M44.0 123.9h0.8M25.9 132.2h0.8M35.1 145.7h0.8M42.0 136.5h0.8M35.9 120.2h0.8M29.0 130.8h0.8M37.4 130.1h0.8M37.0 137.5h0.8M32.4 130.1h0.8M30.9 140.9h0.8M25.0 136.8h0.8M40.7 119.5h0.8M33.6 140.0h0.8M31.3 129.0h0.8M36.1 141.5h0.8M39.8 128.3h0.8M28.6 122.9h0.8M38.2 118.5h0.8M33.0 136.7h0.8M29.5 130.6h0.8M35.6 137.7h0.8M28.7 133.2h0.8M35.9 133.4h0.8M27.4 136.1h0.8M31.5 132.0h0.8M31.5 145.5h0.8M36.6 145.7h0.8M32.7 130.9h0.8M44.5 130.3h0.8M38.7 140.4h0.8M34.2 128.3h0.8M34.9 139.5h0.8M38.7 141.3h0.8M34.8 129.7h0.8M30.0 130.8h0.8M33.0 132.0h0.8M31.0 128.1h0.8M34.5 139.2h0.8M34.4 129.0h0.8M42.0 141.7h0.8M34.6 131.1h0.8M26.2 122.5h0.8M36.0 142.0h0.8M46.6 138.2h0.8M33.6 136.2h0.8M28.1 132.3h0.8M29.7 132.9h0.8M44.3 145.7h0.8M37.5 135.5h0.8M27.1 128.5h0.8M44.8 140.5h0.8M41.0 135.8h0.8M45.5 131.2h0.8M35.3 145.7h0.8M31.5 135.8h0.8M34.2 142.7h0.8M34.9 130.6h0.8M34.6 138.2h0.8M30.7 123.1h0.8M35.7 130.5h0.8M39.4 130.6h0.8M32.9 134.8h0.8M38.7 139.6h0.8M36.7 120.9h0.8M36.1 132.9h0.8M35.8 136.4h0.8M34.8 140.2h0.8M34.7 142.1h0.8M30.1 117.3h0.8M30.9 145.7h0.8M34.9 132.2h0.8M37.9 130.1h0.8M37.9 133.7h0.8M48.0 140.9h0.8M37.9 137.6h0.8M39.8 125.8h0.8M42.7 128.8h0.8M40.9 134.0h0.8M41.6 142.4h0.8M39.8 129.9h0.8M34.7 136.8h0.8M34.2 130.5h0.8M35.8 130.7h0.8M39.4 130.1h0.8M37.0 128.2h0.8M26.8 138.3h0.8M42.0 129.8h0.8M41.0 135.1h0.8M30.0 140.9h0.8M25.3 132.7h0.8M40.6 125.8h0.8M45.5 129.2h0.8M43.6 131.9h0.8M40.4 132.8h0.8M49.9 135.9h0.8M42.4 138.0h0.8M37.7 131.6h0.8M39.0 139.9h0.8M41.8 136.9h0.8M36.0 138.0h0.8M31.2 133.3h0.8M25.3 128.9h0.8M35.9 124.1h0.8M30.4 139.7h0.8M39.7 140.7h0.8M43.5 137.8h0.8M41.4 135.5h0.8M44.1 123.5h0.8M36.0 140.4h0.8M41.7 134.1h0.8M35.1 139.2h0.8M36.0 126.2h0.8M43.5 131.1h0.8M38.0 122.9h0.8M24.8 136.6h0.8M46.3 118.6h0.8M34.1 137.3h0.8M38.0 134.0h0.8M36.8 127.3h0.8M43.1 140.0h0.8M39.0 118.5h0.8M46.4 133.3h0.8M39.9 145.7h0.8M44.3 133.0h0.8M43.0 137.6h0.8M33.7 134.5h0.8M27.1 123.3h0.8M38.1 143.0h0.8M31.5 141.6h0.8M37.9 145.5h0.8M35.0 145.7h0.8M39.6 132.1h0.8M38.5 121.6h0.8M39.0 131.6h0.8M39.9 131.5h0.8M24.8 116.4h0.8M33.3 125.2h0.8M41.9 126.5h0.8M39.5 132.5h0.8M45.6 134.2h0.8M38.1 126.8h0.8M39.0 138.0h0.8M36.3 138.3h0.8M31.1 132.1h0.8M39.2 131.5h0.8M43.8 137.8h0.8M33.4 127.4h0.8M36.9 128.7h0.8M34.7 126.1h0.8M41.3 134.7h0.8M38.6 139.0h0.8M24.8 133.8h0.8M35.5 138.1h0.8M39.8 137.0h0.8M44.2 121.2h0.8M30.9 141.6h0.8M45.0 128.2h0.8M43.2 139.3h0.8M29.2 129.5h0.8M38.8 133.1h0.8M47.0 137.6h0.8M42.0 129.2h0.8M30.0 129.5h0.8M44.8 145.7h0.8M32.4 132.6h0.8M24.8 142.1h0.8M29.8 139.5h0.8M44.1 124.7h0.8M32.0 138.3h0.8M44.6 130.1h0.8M31.0 135.8h0.8M44.0 126.2h0.8M32.5 141.2h0.8M38.0 128.1h0.8M36.9 136.7h0.8M42.6 135.5h0.8M36.8 122.4h0.8M39.9 136.9h0.8M38.0 133.6h0.8M37.6 139.8h0.8M34.8 125.5h0.8M41.9 131.0h0.8M35.3 136.3h0.8M35.4 133.0h0.8M30.6 142.1h0.8M29.3 142.2h0.8M29.7 128.8h0.8M34.5 139.3h0.8M38.0 130.4h0.8M29.8 140.0h0.8M37.0 136.2h0.8M35.8 130.1h0.8M40.6 135.4h0.8M43.2 134.7h0.8M28.9 138.5h0.8M37.1 131.9h0.8M24.8 127.7h0.8M37.8 129.3h0.8M38.3 137.4h0.8M36.7 127.3h0.8M39.3 135.9h0.8M35.5 120.9h0.8M29.9 138.7h0.8M35.4 121.6h0.8M35.8 133.7h0.8M40.4 136.3h0.8M38.9 128.3h0.8M27.4 129.3h0.8M44.5 123.4h0.8M41.8 123.4h0.8M29.4 134.0h0.8M32.2 131.7h0.8M30.3 134.2h0.8M41.5 123.6h0.8M39.8 135.8h0.8M41.1 118.2h0.8M41.7 125.6h0.8M35.3 130.3h0.8M31.0 127.5h0.8M32.6 134.4h0.8M40.7 131.3h0.8M41.0 134.2h0.8M43.1 124.5h0.8M37.4 132.9h0.8M37.4 135.5h0.8M41.1 134.2h0.8M39.5 131.3h0.8M35.8 129.1h0.8M42.6 138.4h0.8M43.8 130.1h0.8M35.6 145.7h0.8M42.6 123.7h0.8M40.7 135.5h0.8M34.7 131.4h0.8M31.9 129.7h0.8M32.3 125.5h0.8M34.5 127.4h0.8M40.6 140.0h0.8M35.7 131.0h0.8M40.2 132.4h0.8M47.9 115.8h0.8M24.8 125.9h0.8M39.3 138.3h0.8M34.0 133.3h0.8M35.0 136.4h0.8M47.9 118.3h0.8M49.1 140.2h0.8M34.9 136.5h0.8M36.5 136.4h0.8M39.3 138.4h0.8M31.1 137.3h0.8M33.0 131.3h0.8M41.2 130.4h0.8M38.4 135.5h0.8M37.3 125.3h0.8M39.5 134.6h0.8M49.2 126.5h0.8M42.7 130.6h0.8M35.1 144.7h0.8M36.0 138.7h0.8M37.5 127.4h0.8M35.6 130.5h0.8M35.6 145.7h0.8M39.4 122.0h0.8M47.4 135.9h0.8M41.9 143.8h0.8M32.2 135.7h0.8M36.0 131.2h0.8M35.2 134.2h0.8M43.4 138.6h0.8M38.5 141.4h0.8M24.8 133.8h0.8M38.9 135.6h0.8M44.8 134.7h0.8M44.6 132.4h0.8M40.8 134.3h0.8M35.5 137.0h0.8M40.2 127.7h0.8M42.3 131.9h0.8M37.5 115.8h0.8M36.8 121.0h0.8M41.8 128.4h0.8M34.5 132.4h0.8M29.5 133.8h0.8M30.1 132.2h0.8M41.7 142.0h0.8M45.0 132.1h0.8M31.6 136.8h0.8M45.7 127.8h0.8M44.5 132.7h0.8M24.8 134.0h0.8M47.5 138.3h0.8M42.9 136.2h0.8M27.5 118.0h0.8M31.0 131.0h0.8M31.3 128.2h0.8M41.3 143.2h0.8M27.4 126.5h0.8M36.4 132.2h0.8M24.8 145.7h0.8M40.9 135.9h0.8M26.1 135.5h0.8M30.3 136.9h0.8M38.6 133.8h0.8M39.3 129.7h0.8M37.9 117.6h0.8M41.0 132.3h0.8M51.2 134.2h0.8M24.8 143.7h0.8M32.8 126.0h0.8M36.6 142.0h0.8M47.8 131.0h0.8M38.1 135.0h0.8M33.2 130.2h0.8M36.1 133.1h0.8M42.9 120.7h0.8M39.6 136.0h0.8M44.6 130.9h0.8M34.8 134.2h0.8M33.7 129.5h0.8M33.1 129.1h0.8M31.1 129.4h0.8M32.4 128.6h0.8M29.3 139.7h0.8M38.6 133.1h0.8M30.7 137.7h0.8M35.4 132.7h0.8M37.3 132.7h0.8M42.3 128.2h0.8M33.1 134.4h0.8M35.7 137.0h0.8M42.0 142.5h0.8M42.2 131.6h0.8M35.9 131.0h0.8M43.3 131.9h0.8M32.1 126.6h0.8M41.0 127.7h0.8M24.8 138.2h0.8M38.7 138.5h0.8M42.4 136.9h0.8M39.1 133.9h0.8M32.5 119.5h0.8M25.9 136.0h0.8M41.4 133.7h0.8M32.6 137.7h0.8M36.8 133.6h0.8M34.9 125.8h0.8M31.3 136.1h0.8M46.0 145.2h0.8M35.9 136.5h0.8M36.4 134.6h0.8M39.3 139.5h0.8M30.6 145.3h0.8M36.2 127.1h0.8M49.9 127.7h0.8M36.7 128.8h0.8M43.6 115.9h0.8M38.8 123.1h0.8M45.7 145.7h0.8M41.8 128.5h0.8M43.5 145.7h0.8M38.4 131.1h0.8M45.2 124.8h0.8M35.3 133.2h0.8M37.6 140.9h0.8M36.1 126.3h0.8M29.1 132.6h0.8M39.6 139.9h0.8M40.4 124.5h0.8M40.1 129.2h0.8M44.2 131.6h0.8M35.4 129.9h0.8M42.4 132.9h0.8M52.4 141.3h0.8M30.4 133.4h0.8M42.8 138.9h0.8M40.4 135.3h0.8M28.3 123.7h0.8M41.5 129.5h0.8M37.1 137.9h0.8M26.4 121.2h0.8M40.0 129.8h0.8M35.0 141.1h0.8M35.5 133.2h0.8M38.6 122.2h0.8M46.7 136.3h0.8M33.9 141.1h0.8M31.7 129.0h0.8M30.0 132.0h0.8M32.7 135.3h0.8M33.2 135.3h0.8M39.4 136.1h0.8M39.0 134.1h0.8M32.3 120.4h0.8M38.9 124.3h0.8M38.8 133.2h0.8M36.6 133.6h0.8M40.1 127.1h0.8M38.7 140.6h0.8M41.3 140.8h0.8M35.3 133.0h0.8M47.4 136.8h0.8M38.3 140.1h0.8M32.0 132.6h0.8M39.4 133.1h0.8M45.3 136.4h0.8M41.8 128.1h0.8M36.8 133.3h0.8M39.8 136.7h0.8M36.9 137.3h0.8M48.6 133.7h0.8M33.3 141.5h0.8M45.2 134.8h0.8M42.3 120.1h0.8M39.6 132.4h0.8M49.2 135.1h0.8M47.2 132.4h0.8M35.4 130.1h0.8M30.4 129.9h0.8M43.1 123.5h0.8M37.5 140.9h0.8M38.4 137.0h0.8M38.9 137.0h0.8M26.3 143.5h0.8M39.0 130.0h0.8M35.3 132.7h0.8M40.8 125.9h0.8M30.0 125.1h0.8M42.0 127.7h0.8M37.7 126.2h0.8M36.7 130.4h0.8M33.0 141.1h0.8M37.6 127.4h0.8M50.4 127.5h0.8M30.5 122.7h0.8M46.0 135.1h0.8M38.9 141.0h0.8M37.8 138.5h0.8M46.4 135.4h0.8M41.6 135.2h0.8M37.9 143.2h0.8M40.4 135.7h0.8M26.6 128.0h0.8M33.3 133.7h0.8M39.3 134.9h0.8M36.3 136.1h0.8M39.1 139.7h0.8M27.3 140.5h0.8M48.0 141.3h0.8M34.8 127.9h0.8M36.8 142.7h0.8M38.7 120.6h0.8M24.8 135.1h0.8M50.4 123.3h0.8M33.5 133.8h0.8M38.8 139.4h0.8M28.1 134.3h0.8M33.3 139.0h0.8M39.1 140.9h0.8M30.1 126.2h0.8M32.9 130.4h0.8M32.9 125.2h0.8M33.6 122.7h0.8M42.3 130.2h0.8M29.7 134.5h0.8M27.8 135.8h0.8M34.8 144.8h0.8M39.8 128.2h0.8M41.7 134.2h0.8M40.5 113.1h0.8M34.2 130.4h0.8M43.9 126.2h0.8M38.7 132.2h0.8M29.0 129.6h0.8M39.8 132.0h0.8M35.7 132.8h0.8M37.2 135.4h0.8M36.2 123.6h0.8M35.5 133.8h0.8M45.8 126.6h0.8M45.4 129.7h0.8M45.6 119.7h0.8M35.1 117.8h0.8M28.5 130.3h0.8M39.3 128.0h0.8M37.9 127.7h0.8M45.6 129.3h0.8M47.6 145.0h0.8M31.5 136.6h0.8M34.0 142.8h0.8M38.4 145.2h0.8M35.6 131.2h0.8M32.2 134.0h0.8M38.9 133.6h0.8M38.3 138.1h0.8M36.2 128.9h0.8M31.0 129.5h0.8M34.7 139.9h0.8M41.7 128.4h0.8M40.0 127.3h0.8M41.3 122.6h0.8M42.1 132.1h0.8M38.0 132.5h0.8M30.8 134.1h0.8M36.7 138.3h0.8M40.2 141.4h0.8M39.8 125.8h0.8M41.1 125.4h0.8M32.7 133.8h0.8M32.1 130.7h0.8M42.4 129.3h0.8M31.7 124.8h0.8M52.5 130.4h0.8M36.9 133.7h0.8M43.0 129.6h0.8M31.7 130.8h0.8M32.4 123.9h0.8M26.3 133.6h0.8M34.4 142.5h0.8M33.9 131.0h0.8M43.5 122.3h0.8M41.1 127.9h0.8M30.4 135.8h0.8M37.4 125.9h0.8M38.1 143.6h0.8M41.3 134.2h0.8M33.7 132.8h0.8M39.4 131.9h0.8M39.3 139.8h0.8M28.5 134.5h0.8M39.6 131.6h0.8M33.2 143.3h0.8M36.3 132.8h0.8M33.8 131.4h0.8M35.1 132.7h0.8M28.4 122.8h0.8M33.3 131.1h0.8M33.5 138.0h0.8M36.6 138.1h0.8M38.0 118.7h0.8M39.4 142.9h0.8M37.6 132.9h0.8M30.3 134.9h0.8M31.0 121.9h0.8M38.0 138.8h0.8M35.2 132.2h0.8M33.0 143.8h0.8M38.9 131.1h0.8M35.1 134.2h0.8M42.8 129.8h0.8M31.8 135.4h0.8M36.0 123.7h0.8M36.0 131.2h0.8M34.4 134.3h0.8M38.0 144.3h0.8M40.2 138.8h0.8M34.2 133.3h0.8M33.0 128.7h0.8M41.3 145.7h0.8M40.6 135.9h0.8M39.7 138.5h0.8M36.3 132.9h0.8M40.2 143.8h0.8M37.1 122.4h0.8M41.0 134.6h0.8M32.3 127.8h0.8M24.8 128.2h0.8M35.5 136.6h0.8M36.4 126.8h0.8M34.4 133.6h0.8M40.0 135.2h0.8M41.4 120.7h0.8M37.8 135.2h0.8M31.5 134.7h0.8M33.9 125.4h0.8M29.6 136.9h0.8M40.0 140.5h0.8M40.9 136.5h0.8M30.8 132.1h0.8M35.3 145.7h0.8M32.0 125.0h0.8M31.2 140.0h0.8M33.3 138.2h0.8M34.0 140.2h0.8M28.3 130.5h0.8M40.1 131.9h0.8M31.8 142.8h0.8M29.0 127.9h0.8M43.1 144.6h0.8M36.8 125.2h0.8M29.7 127.8h0.8M36.3 142.2h0.8M41.9 139.7h0.8M34.1 138.3h0.8M41.3 139.0h0.8M36.8 130.8h0.8M43.0 143.7h0.8M35.6 135.8h0.8M42.9 143.5h0.8M46.6 133.7h0.8M44.0 125.7h0.8M24.8 130.7h0.8M38.9 123.7h0.8M36.1 134.7h0.8M36.8 135.3h0.8M43.1 131.8h0.8M34.3 137.1h0.8M42.8 130.7h0.8M44.4 138.4h0.8M34.8 133.3h0.8M32.5 138.0h0.8M37.5 145.7h0.8M24.8 125.6h0.8M34.1 136.9h0.8M34.9 128.8h0.8M39.2 130.7h0.8M38.2 139.3h0.8M42.3 123.4h0.8M32.8 136.4h0.8M35.9 128.5h0.8M40.2 134.1h0.8M39.4 139.4h0.8M34.8 140.2h0.8M37.9 135.3h0.8M42.6 123.1h0.8M27.8 126.1h0.8M41.7 134.3h0.8M33.9 126.8h0.8M27.6 135.5h0.8M36.8 136.0h0.8M41.9 135.4h0.8M44.3 130.9h0.8M45.2 136.3h0.8M34.0 134.7h0.8M48.8 125.4h0.8M33.6 130.8h0.8M37.8 133.9h0.8M47.1 132.2h0.8M40.5 130.2h0.8M30.8 132.5h0.8M35.5 137.8h0.8M44.1 130.6h0.8M42.8 126.9h0.8M46.4 124.0h0.8M34.1 135.1h0.8M34.8 126.2h0.8M40.7 127.0h0.8M42.1 124.0h0.8M42.5 138.7h0.8M39.6 140.1h0.8M35.7 133.0h0.8M43.1 126.7h0.8M35.3 132.0h0.8M35.5 131.6h0.8M24.8 133.2h0.8M38.2 141.3h0.8M41.0 129.5h0.8M35.2 127.3h0.8M34.7 129.3h0.8M42.6 135.7h0.8M39.9 130.9h0.8M35.8 136.5h0.8M32.3 136.6h0.8M41.4 129.5h0.8M36.7 127.8h0.8M45.7 136.2h0.8M42.7 131.9h0.8M32.0 132.8h0.8M44.3 143.8h0.8M41.0 133.3h0.8M39.0 140.4h0.8M31.3 139.2h0.8M32.4 135.2h0.8M40.9 135.3h0.8M37.5 141.8h0.8M34.8 131.3h0.8M31.9 134.8h0.8M41.1 132.9h0.8M26.6 136.4h0.8M40.4 128.1h0.8M35.7 133.8h0.8M32.8 135.3h0.8M37.4 126.2h0.8M24.8 127.6h0.8M44.6 141.2h0.8M35.2 126.7h0.8M44.8 138.0h0.8M43.7 145.4h0.8M39.3 134.1h0.8M32.8 134.5h0.8M31.5 140.4h0.8M35.7 143.6h0.8M35.0 136.4h0.8M32.6 139.2h0.8M32.4 141.9h0.8M39.9 121.7h0.8M29.4 135.1h0.8M36.6 145.7h0.8M32.1 132.2h0.8M36.9 135.0h0.8M46.3 133.0h0.8M28.2 143.7h0.8M39.2 124.0h0.8M33.3 131.6h0.8M37.6 138.7h0.8M35.6 130.2h0.8M31.6 132.5h0.8M37.3 136.6h0.8M25.1 127.8h0.8M39.5 144.4h0.8M41.9 118.8h0.8M26.3 137.2h0.8M37.1 133.9h0.8M47.7 126.7h0.8M43.5 134.2h0.8M33.7 120.1h0.8M30.5 143.4h0.8M37.4 138.7h0.8M40.1 132.5h0.8M41.5 135.6h0.8M35.9 131.5h0.8M32.9 135.4h0.8M35.9 140.7h0.8M35.2 127.7h0.8M26.7 138.4h0.8M50.6 133.3h0.8M24.8 139.5h0.8M33.2 138.0h0.8M38.9 138.1h0.8M37.6 131.8h0.8M42.8 131.7h0.8M43.3 129.7h0.8M37.7 128.7h0.8M42.0 129.2h0.8M32.4 139.6h0.8M38.7 133.0h0.8M31.4 133.2h0.8M39.1 137.8h0.8M33.0 136.7h0.8M26.5 133.9h0.8M31.9 138.1h0.8M34.5 145.7h0.8M37.7 135.5h0.8M24.8 124.5h0.8M42.4 129.0h0.8M42.9 128.8h0.8M40.1 128.2h0.8M39.2 137.7h0.8M41.7 128.6h0.8M29.7 137.0h0.8M38.0 137.7h0.8M30.2 138.2h0.8M35.9 126.5h0.8M34.3 139.3h0.8M37.7 134.4h0.8M37.3 130.9h0.8M43.5 133.6h0.8M28.9 124.1h0.8M33.8 131.0h0.8M40.8 116.6h0.8M41.0 141.1h0.8M34.2 141.6h0.8M33.1 132.4h0.8M34.1 143.9h0.8M43.2 140.6h0.8M30.6 134.1h0.8M30.6 134.5h0.8M40.0 142.5h0.8M36.1 135.0h0.8M36.1 126.5h0.8M46.1 136.0h0.8M44.9 139.0h0.8M29.9 129.5h0.8M40.7 139.1h0.8M40.7 133.6h0.8M41.7 127.1h0.8M35.5 126.0h0.8M42.4 136.0h0.8M40.8 131.8h0.8M24.8 128.3h0.8M37.7 133.9h0.8M42.0 140.9h0.8M33.8 138.7h0.8M27.2 137.9h0.8M25.1 136.8h0.8M24.8 136.8h0.8M45.8 132.4h0.8M40.8 140.8h0.8M24.8 120.8h0.8M37.0 126.3h0.8M34.6 145.7h0.8M47.4 137.8h0.8M33.1 137.2h0.8M38.9 132.5h0.8M46.3 120.9h0.8M45.9 130.8h0.8M44.4 132.8h0.8M33.8 129.2h0.8M38.5 136.0h0.8M54.2 144.3h0.8M36.8 125.5h0.8M37.6 137.6h0.8M27.4 133.8h0.8M44.4 130.6h0.8M27.9 138.8h0.8M46.2 132.3h0.8M38.0 141.6h0.8M40.2 129.1h0.8M35.2 133.2h0.8M37.1 141.7h0.8M31.3 136.5h0.8M36.3 119.9h0.8M41.3 134.8h0.8M29.8 121.8h0.8M42.5 145.1h0.8M37.7 132.3h0.8M41.3 129.4h0.8M34.2 140.2h0.8M30.6 141.6h0.8M38.8 142.6h0.8M26.5 142.6h0.8M36.6 138.1h0.8M32.5 126.9h0.8M43.7 137.1h0.8M40.3 138.4h0.8M40.6 123.2h0.8M35.4 131.5h0.8M48.7 142.9h0.8M32.1 123.8h0.8M41.3 137.8h0.8M45.1 126.1h0.8M46.8 135.2h0.8M44.6 135.8h0.8M34.8 128.5h0.8M45.1 112.1h0.8M43.5 138.6h0.8M33.2 139.1h0.8M36.5 125.1h0.8M35.5 137.8h0.8M37.4 128.7h0.8M41.1 138.8h0.8M44.2 135.3h0.8M45.8 128.9h0.8M34.6 124.0h0.8M36.7 134.1h0.8M36.9 125.0h0.8M42.8 122.1h0.8M31.5 113.5h0.8M42.9 139.0h0.8M35.8 135.8h0.8M29.7 126.2h0.8M31.3 135.7h0.8M34.6 134.7h0.8M30.7 124.3h0.8M39.3 135.5h0.8M39.4 129.2h0.8M38.4 122.9h0.8M30.6 135.7h0.8M31.4 125.2h0.8M31.4 144.8h0.8M34.4 135.6h0.8M36.0 145.7h0.8M36.4 140.8h0.8M42.5 136.6h0.8M37.1 123.3h0.8M40.3 145.7h0.8M40.2 145.7h0.8M41.3 140.1h0.8M34.4 133.0h0.8M40.0 141.6h0.8M31.2 124.1h0.8M36.5 133.1h0.8M39.9 145.5h0.8M33.9 145.7h0.8M40.5 134.0h0.8M27.4 144.0h0.8M47.4 137.1h0.8M40.1 130.9h0.8M26.0 128.4h0.8M28.7 124.4h0.8M32.2 129.8h0.8M40.0 142.6h0.8M35.8 139.1h0.8M35.0 131.5h0.8M39.0 129.3h0.8M38.4 130.3h0.8M31.9 129.0h0.8M45.7 135.2h0.8M34.3 134.7h0.8M32.5 130.3h0.8M34.8 122.1h0.8M35.9 136.4h0.8M38.4 132.4h0.8M42.9 127.9h0.8M43.2 140.0h0.8M38.0 143.6h0.8M32.3 135.1h0.8M36.0 128.3h0.8M35.0 136.2h0.8M39.1 137.7h0.8M33.0 132.8h0.8M36.2 129.0h0.8M36.7 119.2h0.8M30.2 130.1h0.8M34.7 137.7h0.8M33.6 144.6h0.8M28.5 145.6h0.8M31.4 125.8h0.8M32.6 129.2h0.8M35.1 130.3h0.8M39.3 138.5h0.8M30.8 141.6h0.8M38.1 133.4h0.8M41.5 132.7h0.8M44.9 125.3h0.8M43.6 130.2h0.8M40.9 130.4h0.8M46.1 135.9h0.8M41.0 126.3h0.8M28.5 135.0h0.8M45.3 134.5h0.8M28.5 144.7h0.8M33.9 138.4h0.8M32.2 128.7h0.8M38.4 115.9h0.8M31.2 130.6h0.8M34.4 122.5h0.8M42.9 131.8h0.8M35.7 120.7h0.8M36.1 137.4h0.8M41.3 137.0h0.8M36.1 131.5h0.8M37.5 137.4h0.8M35.2 131.5h0.8M38.6 131.3h0.8M37.9 133.8h0.8M31.3 142.8h0.8M40.1 127.0h0.8M31.1 129.7h0.8M33.0 126.4h0.8M37.6 130.7h0.8M31.0 142.9h0.8M34.4 134.9h0.8M28.9 125.6h0.8M30.7 138.9h0.8M40.2 131.2h0.8M34.6 134.9h0.8M31.4 131.1h0.8M41.5 126.9h0.8M39.8 132.0h0.8M37.2 131.7h0.8M40.9 138.4h0.8M39.2 122.1h0.8M36.9 140.4h0.8M30.6 122.7h0.8M35.0 138.0h0.8M29.1 134.9h0.8M34.6 132.4h0.8M38.4 131.5h0.8M33.0 133.8h0.8M44.7 136.6h0.8M40.0 126.7h0.8M33.4 124.1h0.8M41.3 139.3h0.8M38.6 137.8h0.8M33.9 130.4h0.8M43.0 130.2h0.8M41.9 143.6h0.8M30.0 127.1h0.8M45.7 139.3h0.8M45.0 143.9h0.8M34.7 145.7h0.8M44.1 139.7h0.8M38.3 130.7h0.8M32.2 123.7h0.8M31.8 128.0h0.8M37.5 128.5h0.8M26.7 134.1h0.8M25.1 130.8h0.8M40.2 123.0h0.8M29.7 132.6h0.8M43.8 132.1h0.8M33.9 134.7h0.8M26.7 123.1h0.8M40.2 138.2h0.8M39.7 133.9h0.8M38.9 121.5h0.8M30.4 130.4h0.8M41.8 134.3h0.8M36.6 125.6h0.8M37.1 135.5h0.8M39.7 132.2h0.8M47.9 125.4h0.8M41.5 124.7h0.8M29.4 137.8h0.8M34.3 128.2h0.8M36.8 145.7h0.8M33.3 131.0h0.8M43.5 129.6h0.8M50.1 124.9h0.8M35.5 139.8h0.8M35.4 130.1h0.8M28.8 132.4h0.8M41.5 131.6h0.8M31.2 142.1h0.8M41.5 137.1h0.8M35.5 127.6h0.8M43.1 133.7h0.8M34.6 132.1h0.8M38.8 138.8h0.8M36.5 130.7h0.8M30.3 131.4h0.8M35.5 135.3h0.8M36.5 129.7h0.8M36.0 137.3h0.8M36.1 132.1h0.8M35.2 131.0h0.8M38.5 137.2h0.8M35.0 132.0h0.8M38.8 138.1h0.8M44.3 124.5h0.8M41.3 130.1h0.8M40.1 139.2h0.8M46.9 130.0h0.8M42.3 117.4h0.8M37.0 118.9h0.8M32.7 125.9h0.8M28.6 133.1h0.8M30.6 125.7h0.8M32.2 129.8h0.8M39.4 130.3h0.8M31.4 122.0h0.8M39.8 135.0h0.8M40.0 128.8h0.8M43.2 136.8h0.8M49.1 130.8h0.8M41.2 143.7h0.8M35.3 133.0h0.8M33.8 131.4h0.8M41.1 134.5h0.8M30.8 145.7h0.8M32.7 140.8h0.8M37.0 137.7h0.8M39.9 138.5h0.8M41.1 144.6h0.8M33.0 124.8h0.8M27.5 120.0h0.8M39.5 121.9h0.8M27.8 134.9h0.8M35.1 133.8h0.8M24.8 124.9h0.8M28.1 133.0h0.8M36.3 135.7h0.8M43.3 145.7h0.8M33.7 137.7h0.8M41.6 132.4h0.8M31.1 138.8h0.8M41.6 136.8h0.8M32.6 118.6h0.8M30.8 141.1h0.8M43.2 126.5h0.8M38.0 141.7h0.8M44.0 127.2h0.8M35.6 132.8h0.8M30.5 144.6h0.8M26.8 135.9h0.8M42.4 136.2h0.8M40.8 118.5h0.8M37.0 135.3h0.8M38.3 124.7h0.8M35.4 127.9h0.8M44.5 129.0h0.8M36.0 132.2h0.8M35.6 144.5h0.8M44.9 135.9h0.8M34.9 130.5h0.8M26.4 133.9h0.8M38.5 132.3h0.8M31.6 141.2h0.8M41.1 134.5h0.8M45.6 135.1h0.8M47.0 132.3h0.8M37.7 129.6h0.8M41.9 130.3h0.8M39.1 134.4h0.8M32.7 145.7h0.8M43.0 132.0h0.8M41.6 135.8h0.8M34.5 145.6h0.8M41.6 137.6h0.8M39.9 138.0h0.8M41.2 135.3h0.8M38.1 134.5h0.8M28.6 132.5h0.8M43.9 143.8h0.8M38.2 128.5h0.8M42.7 128.4h0.8M31.3 124.5h0.8M25.7 145.7h0.8M37.2 114.9h0.8M32.4 122.4h0.8M41.7 129.3h0.8M32.7 137.7h0.8M45.8 128.4h0.8M36.5 127.0h0.8M41.9 135.0h0.8M37.5 128.0h0.8M45.0 131.4h0.8M43.3 141.4h0.8M30.4 132.1h0.8M38.2 126.3h0.8M36.2 135.5h0.8M27.6 131.4h0.8M38.5 130.3h0.8M33.5 124.2h0.8M36.8 134.7h0.8M36.2 142.3h0.8M36.8 130.6h0.8M46.4 138.0h0.8M42.9 141.9h0.8M33.9 127.1h0.8M46.0 121.0h0.8M33.9 143.9h0.8M33.1 138.4h0.8M32.4 145.7h0.8M36.4 138.8h0.8M29.5 138.3h0.8M40.7 130.5h0.8M40.7 132.1h0.8M39.1 130.2h0.8M34.4 125.4h0.8M39.4 132.2h0.8M33.0 144.3h0.8M37.0 132.6h0.8M32.9 139.7h0.8M37.8 128.1h0.8M35.5 137.4h0.8M37.5 141.2h0.8M42.6 145.7h0.8M33.3 133.3h0.8M35.6 132.0h0.8M37.3 131.3h0.8M42.0 125.5h0.8M37.3 137.7h0.8M42.5 133.5h0.8M38.7 134.0h0.8M39.7 132.5h0.8M41.0 142.5h0.8M48.6 131.5h0.8M41.7 135.5h0.8M39.4 130.8h0.8M37.7 137.4h0.8M37.2 131.1h0.8M43.9 134.5h0.8M35.8 133.9h0.8M35.9 128.8h0.8M39.9 132.2h0.8M30.1 140.3h0.8M35.1 124.2h0.8M36.5 129.0h0.8M38.0 125.8h0.8M34.6 122.8h0.8M29.3 134.1h0.8M33.7 143.4h0.8M32.8 134.5h0.8M29.8 143.1h0.8M37.0 123.5h0.8M38.1 130.2h0.8M48.7 140.6h0.8M32.5 138.1h0.8M39.5 131.2h0.8M35.0 131.8h0.8M31.5 135.4h0.8M34.1 132.9h0.8M34.9 128.8h0.8M47.5 135.4h0.8M40.6 145.7h0.8M36.7 128.9h0.8M27.4 124.2h0.8M40.4 124.5h0.8M25.6 133.8h0.8M36.4 144.5h0.8M28.9 140.2h0.8M24.8 141.8h0.8M38.4 127.3h0.8M43.7 134.6h0.8M40.2 133.8h0.8M43.2 137.8h0.8M31.6 127.8h0.8M32.2 138.7h0.8M40.3 135.4h0.8M35.7 129.8h0.8M38.8 139.0h0.8M41.2 144.2h0.8M46.5 131.2h0.8M51.0 143.4h0.8M38.6 136.0h0.8M40.0 130.2h0.8M33.3 133.9h0.8M34.9 115.0h0.8M40.5 121.2h0.8M38.8 131.3h0.8M33.5 138.6h0.8M32.4 127.3h0.8M38.6 135.0h0.8M33.1 128.6h0.8M32.9 135.7h0.8M39.3 138.9h0.8M36.3 127.7h0.8M40.9 145.7h0.8M45.8 126.9h0.8M41.1 132.8h0.8M36.3 131.8h0.8M32.4 123.7h0.8M39.4 126.9h0.8M33.9 131.1h0.8M37.5 130.7h0.8M36.1 130.8h0.8M38.4 135.9h0.8M45.1 137.3h0.8M33.8 137.3h0.8M42.1 129.9h0.8M33.9 118.9h0.8M45.3 134.6h0.8M44.5 123.7h0.8M24.8 135.7h0.8M32.3 134.8h0.8M32.7 139.0h0.8M35.2 132.6h0.8M39.7 130.8h0.8M34.9 141.8h0.8M36.5 135.2h0.8M39.8 134.4h0.8M39.9 145.7h0.8M43.1 124.6h0.8M24.9 128.0h0.8M24.8 116.1h0.8M31.3 127.4h0.8M38.0 136.7h0.8M49.1 129.0h0.8M33.7 135.1h0.8M43.1 132.0h0.8M32.0 116.1h0.8M41.7 132.1h0.8M45.6 145.5h0.8M47.5 136.7h0.8M41.9 124.9h0.8M39.4 131.3h0.8M42.8 130.1h0.8M35.7 128.2h0.8M47.1 134.4h0.8M31.4 131.0h0.8M29.8 141.5h0.8M43.8 134.6h0.8M38.6 124.1h0.8M45.6 133.3h0.8M48.3 129.8h0.8M39.6 139.3h0.8M41.4 132.8h0.8M42.9 136.1h0.8M37.1 126.8h0.8M44.1 133.8h0.8M39.6 133.2h0.8M38.9 131.2h0.8M51.2 145.4h0.8M40.7 135.4h0.8M40.7 128.0h0.8M40.3 133.0h0.8M34.6 129.1h0.8M33.2 136.7h0.8M37.0 128.4h0.8M39.2 134.5h0.8M36.4 143.0h0.8M35.5 124.9h0.8M37.8 127.1h0.8M41.5 137.3h0.8M35.2 136.8h0.8M34.7 130.6h0.8M27.1 120.0h0.8M34.6 144.9h0.8M30.3 133.0h0.8M33.3 136.9h0.8M32.3 132.8h0.8M39.1 130.2h0.8M36.0 132.1h0.8M39.7 137.5h0.8M41.0 136.3h0.8M31.4 130.8h0.8M39.7 133.8h0.8M41.6 125.3h0.8M32.0 128.1h0.8M38.5 129.4h0.8M32.0 135.6h0.8M34.6 126.5h0.8M39.1 132.8h0.8M39.5 137.1h0.8M33.6 131.6h0.8M36.1 137.7h0.8M36.6 140.1h0.8M33.8 133.4h0.8M43.8 124.5h0.8M30.0 137.8h0.8M40.9 139.6h0.8M41.3 140.0h0.8M34.1 133.5h0.8M39.8 125.8h0.8M30.0 129.7h0.8M42.1 138.2h0.8M29.9 129.8h0.8M33.8 133.9h0.8M37.8 133.4h0.8M31.8 140.3h0.8M42.3 126.8h0.8M35.9 140.1h0.8M38.6 136.3h0.8M34.4 142.4h0.8M31.0 139.2h0.8M46.2 128.7h0.8M44.0 138.7h0.8M33.4 134.4h0.8M44.4 130.7h0.8M34.5 115.5h0.8M28.0 131.0h0.8M36.1 137.2h0.8M41.5 145.7h0.8M40.6 145.7h0.8M40.9 142.0h0.8M32.6 136.4h0.8M42.1 139.6h0.8M34.5 133.3h0.8M30.2 135.7h0.8M31.3 139.7h0.8M38.3 138.0h0.8M40.1 136.4h0.8M41.3 134.0h0.8M28.3 141.6h0.8M33.0 139.4h0.8M39.8 136.0h0.8M37.8 135.3h0.8M38.0 133.7h0.8M36.3 135.4h0.8M40.2 130.9h0.8M38.2 125.1h0.8M32.6 122.7h0.8M35.5 135.9h0.8M40.6 125.0h0.8M41.2 127.1h0.8M34.7 130.4h0.8M45.3 134.6h0.8M48.0 139.7h0.8M35.5 136.1h0.8M44.1 128.1h0.8M34.4 133.3h0.8M35.2 131.9h0.8M46.0 134.5h0.8M35.3 131.1h0.8M29.8 138.6h0.8M33.6 145.7h0.8M39.4 129.9h0.8M30.5 130.6h0.8M39.1 129.9h0.8M40.3 137.9h0.8M39.9 136.8h0.8M37.0 129.4h0.8M30.3 123.4h0.8M34.5 137.7h0.8M36.9 127.0h0.8M41.7 127.4h0.8M30.7 127.4h0.8M33.4 133.0h0.8M30.3 123.4h0.8M39.1 135.1h0.8M39.4 138.2h0.8M37.1 144.6h0.8M35.8 133.1h0.8M43.8 135.9h0.8M36.0 133.4h0.8M30.6 137.6h0.8M35.7 136.2h0.8M43.9 138.3h0.8M38.2 135.9h0.8M37.6 144.0h0.8M26.8 130.7h0.8M32.6 136.1h0.8M35.9 134.1h0.8M47.0 135.2h0.8M41.4 131.0h0.8M33.3 127.2h0.8M44.4 126.7h0.8M34.4 145.7h0.8M38.9 133.8h0.8M35.7 126.4h0.8M38.9 139.9h0.8M32.2 130.5h0.8M45.7 131.3h0.8M40.9 145.7h0.8M32.4 133.1h0.8M32.2 119.6h0.8M43.9 137.3h0.8M35.4 136.4h0.8M33.8 124.6h0.8M33.6 128.8h0.8M31.6 140.2h0.8M32.4 126.7h0.8M37.8 136.4h0.8M45.7 135.2h0.8M29.6 127.9h0.8M41.9 129.4h0.8M39.4 145.2h0.8M29.1 124.1h0.8M35.8 133.3h0.8M41.5 123.4h0.8M40.0 131.9h0.8M27.8 131.9h0.8M39.4 144.7h0.8M33.5 137.9h0.8M29.8 140.1h0.8M37.3 143.3h0.8M29.7 126.3h0.8M27.7 144.6h0.8M34.3 122.0h0.8M32.8 138.7h0.8M40.2 136.1h0.8M29.7 132.3h0.8M26.2 123.9h0.8M40.0 139.0h0.8M35.6 121.9h0.8M31.6 131.0h0.8M45.3 129.3h0.8M28.9 125.9h0.8M32.1 129.9h0.8M35.4 145.7h0.8M33.6 119.8h0.8M42.3 128.4h0.8M32.6 129.7h0.8M38.4 134.2h0.8M39.3 131.2h0.8M37.1 126.4h0.8M31.0 129.5h0.8M34.3 122.4h0.8M30.2 141.2h0.8M43.0 143.6h0.8M42.9 139.0h0.8M46.1 137.4h0.8M35.0 131.5h0.8M38.5 136.1h0.8M36.0 131.2h0.8M36.5 128.3h0.8M48.9 136.7h0.8M26.0 139.0h0.8M32.4 132.0h0.8M36.9 139.2h0.8M36.7 135.3h0.8M36.2 145.7h0.8M36.7 127.8h0.8M29.8 133.6h0.8M34.5 134.7h0.8M39.3 126.1h0.8M37.3 128.9h0.8M33.1 127.5h0.8M35.6 129.0h0.8M33.1 131.2h0.8M29.8 141.9h0.8M40.3 131.1h0.8M38.5 127.5h0.8M37.4 123.8h0.8M36.5 134.2h0.8M34.9 138.2h0.8M32.5 134.3h0.8M39.9 136.8h0.8M36.7 144.1h0.8M41.1 137.6h0.8M33.0 134.0h0.8M34.0 145.7h0.8M38.9 128.7h0.8M41.5 140.5h0.8M33.8 134.6h0.8M50.4 133.8h0.8M38.8 145.7h0.8M36.8 126.0h0.8M31.8 134.4h0.8M41.1 127.9h0.8M25.8 137.1h0.8M35.7 130.3h0.8M32.0 140.6h0.8M35.9 125.1h0.8M31.4 130.6h0.8M28.9 130.1h0.8M43.1 138.9h0.8M42.3 139.7h0.8M37.7 135.8h0.8M27.4 138.3h0.8M40.2 135.0h0.8M38.1 126.6h0.8M34.3 123.4h0.8M34.2 131.8h0.8M33.3 140.9h0.8M32.3 135.6h0.8M37.9 132.3h0.8M39.9 136.0h0.8M34.8 141.9h0.8M36.1 137.4h0.8M31.3 127.6h0.8M37.8 145.7h0.8M30.0 125.9h0.8M32.7 130.7h0.8M37.2 140.1h0.8M35.8 137.2h0.8M37.3 126.0h0.8M33.4 136.3h0.8M38.5 144.4h0.8M38.7 130.4h0.8M28.3 124.2h0.8M40.0 134.7h0.8M50.0 125.7h0.8M42.2 131.0h0.8M24.8 120.6h0.8M39.2 128.3h0.8M32.1 142.4h0.8M35.6 134.5h0.8M43.2 127.3h0.8M42.3 122.2h0.8M27.3 142.5h0.8M47.3 138.8h0.8M31.4 128.5h0.8M30.1 122.7h0.8M38.3 127.2h0.8M46.2 116.6h0.8M33.2 119.9h0.8M27.1 145.7h0.8M49.3 135.7h0.8M41.3 137.4h0.8M37.5 101.4h0.8M24.8 137.1h0.8M24.8 145.1h0.8M43.4 134.5h0.8M39.9 138.2h0.8M32.3 145.7h0.8M35.0 122.5h0.8M51.4 132.7h0.8M39.6 143.0h0.8M54.1 131.1h0.8M37.8 117.8h0.8M37.2 145.7h0.8M31.0 122.5h0.8M24.8 118.9h0.8M26.7 131.5h0.8M39.2 111.7h0.8M40.3 144.1h0.8M43.6 124.0h0.8M43.4 126.4h0.8M28.3 117.6h0.8M25.3 128.1h0.8M41.7 113.8h0.8M24.8 142.8h0.8M29.5 145.7h0.8M40.0 117.4h0.8M44.3 141.4h0.8M24.8 128.9h0.8M47.7 116.4h0.8M40.3 134.7h0.8M52.3 144.3h0.8M33.8 117.3h0.8M34.2 132.3h0.8M36.8 127.1h0.8M29.5 143.8h0.8M33.9 124.0h0.8M38.6 132.7h0.8M36.8 143.2h0.8M29.0 134.0h0.8M45.0 126.9h0.8M38.1 137.8h0.8M41.1 131.6h0.8M27.3 122.6h0.8M37.2 128.5h0.8M34.6 126.2h0.8M24.8 137.5h0.8M28.8 145.7h0.8M40.8 125.3h0.8M29.4 127.5h0.8M45.0 131.9h0.8M24.8 139.4h0.8M33.1 139.6h0.8M37.2 123.8h0.8M33.5 138.8h0.8M32.6 144.7h0.8M30.9 145.6h0.8M26.7 120.9h0.8M41.8 145.7h0.8M34.7 139.3h0.8M29.8 121.6h0.8M37.3 145.7h0.8M34.9 115.7h0.8M24.8 130.6h0.8M41.8 127.8h0.8M38.3 123.7h0.8M46.8 136.2h0.8M25.9 125.1h0.8M46.4 130.8h0.8M24.8 127.2h0.8M32.8 104.3h0.8M40.3 144.7h0.8M32.3 122.1h0.8M34.8 126.2h0.8M35.9 135.9h0.8M24.8 127.4h0.8M51.3 129.3h0.8M37.2 134.0h0.8M29.9 116.8h0.8M54.4 130.8h0.8M28.3 139.3h0.8M33.2 121.4h0.8M32.3 117.1h0.8M28.3 139.4h0.8M37.2 127.8h0.8M46.6 137.5h0.8M33.1 115.9h0.8M32.0 143.1h0.8M28.9 145.7h0.8M34.6 117.1h0.8M32.7 144.8h0.8M31.4 135.0h0.8M42.2 125.0h0.8M44.7 144.6h0.8M42.6 113.1h0.8M38.8 137.9h0.8M43.5 145.7h0.8M38.7 131.2h0.8M24.8 119.1h0.8M45.4 119.3h0.8M34.5 114.0h0.8M34.1 118.5h0.8M40.1 129.9h0.8M39.1 115.4h0.8M34.7 139.0h0.8M24.8 124.5h0.8M35.5 138.7h0.8M41.1 136.8h0.8M39.0 138.3h0.8M35.1 129.4h0.8M27.0 128.5h0.8M34.3 145.7h0.8M27.5 133.2h0.8M34.1 131.2h0.8M45.0 130.1h0.8M29.1 131.8h0.8M44.2 134.0h0.8M42.1 117.3h0.8M44.0 126.1h0.8M27.0 134.1h0.8M25.2 133.7h0.8M49.3 125.4h0.8M29.6 142.0h0.8M41.9 139.6h0.8M24.8 122.6h0.8M51.4 122.8h0.8M33.0 132.2h0.8M38.4 129.1h0.8M24.8 136.4h0.8M27.4 140.5h0.8M46.6 120.1h0.8M37.8 145.7h0.8M50.4 140.7h0.8M32.7 135.3h0.8M29.3 145.7h0.8M39.7 145.1h0.8M24.8 125.6h0.8M32.6 127.1h0.8M26.8 135.7h0.8M29.8 145.7h0.8M33.8 126.4h0.8M31.1 137.0h0.8M39.5 121.5h0.8M24.8 127.6h0.8M30.1 131.1h0.8M29.8 134.1h0.8M27.6 133.7h0.8M34.9 140.7h0.8M35.6 137.4h0.8M34.4 129.1h0.8M31.3 118.2h0.8M38.3 130.9h0.8M49.3 135.8h0.8M51.6 145.7h0.8M39.0 121.1h0.8M35.1 141.5h0.8M36.5 142.3h0.8M34.1 132.4h0.8M44.4 138.0h0.8M39.7 134.0h0.8M41.7 130.7h0.8M45.0 125.7h0.8M30.4 115.4h0.8M29.9 135.5h0.8M33.2 143.1h0.8M34.3 121.0h0.8M34.5 126.0h0.8M35.5 119.9h0.8M35.9 112.6h0.8M38.1 130.1h0.8M35.7 123.3h0.8M36.5 133.4h0.8M24.8 141.2h0.8M35.8 136.3h0.8M49.2 119.1h0.8M29.1 121.8h0.8M37.4 121.4h0.8M30.1 145.7h0.8M35.1 135.6h0.8M45.2 145.7h0.8M25.7 135.4h0.8M43.3 142.7h0.8M31.8 127.3h0.8M38.7 132.1h0.8M34.6 125.5h0.8M36.2 128.7h0.8M39.1 125.3h0.8M29.0 127.0h0.8M35.4 142.2h0.8M34.0 110.5h0.8M54.8 143.7h0.8M41.9 136.4h0.8M37.5 145.7h0.8M27.4 139.2h0.8M43.3 145.7h0.8M36.5 145.7h0.8M40.8 121.8h0.8M28.4 143.9h0.8M27.8 128.8h0.8M50.8 122.2h0.8M41.9 145.7h0.8M49.8 139.8h0.8M31.5 145.7h0.8M41.4 132.4h0.8M28.6 110.0h0.8M40.5 127.3h0.8M24.8 140.9h0.8M39.3 125.7h0.8M34.0 137.5h0.8M41.6 122.8h0.8M44.7 129.9h0.8M29.3 130.6h0.8M37.7 143.6h0.8M42.9 109.3h0.8M27.5 139.8h0.8M39.6 122.2h0.8M33.3 145.7h0.8M24.8 144.4h0.8M46.0 125.8h0.8M35.2 135.5h0.8M38.0 136.1h0.8M47.0 125.5h0.8M37.4 136.5h0.8M33.9 131.5h0.8M49.1 111.3h0.8M39.7 126.5h0.8M28.2 129.6h0.8M40.4 140.1h0.8M31.3 138.4h0.8M49.0 133.7h0.8M43.2 136.6h0.8M42.7 122.4h0.8M47.2 136.6h0.8M52.1 140.2h0.8M30.4 143.7h0.8M48.5 142.6h0.8M35.1 127.9h0.8M48.4 124.3h0.8M44.6 133.4h0.8M32.3 128.4h0.8M33.3 137.2h0.8M32.2 131.3h0.8M35.6 136.0h0.8M45.6 117.2h0.8M40.9 125.1h0.8M35.9 130.7h0.8M50.1 145.7h0.8M35.6 129.7h0.8M49.1 137.2h0.8M52.5 125.1h0.8M46.7 127.2h0.8M24.8 139.7h0.8M29.9 139.2h0.8M35.1 144.6h0.8M26.6 116.3h0.8M49.5 143.0h0.8M38.3 115.8h0.8M44.3 145.7h0.8M34.6 128.0h0.8M30.7 136.5h0.8M36.8 116.5h0.8M31.6 141.4h0.8M28.3 134.3h0.8M45.5 139.3h0.8M24.8 137.5h0.8M28.3 111.5h0.8M39.6 115.3h0.8M35.2 143.9h0.8M41.5 130.2h0.8M44.5 132.1h0.8M43.5 142.7h0.8M29.0 145.7h0.8M35.9 132.1h0.8M38.5 128.6h0.8M33.5 136.8h0.8M32.1 136.1h0.8M42.9 125.6h0.8M34.4 136.7h0.8M36.7 137.7h0.8M36.5 128.0h0.8M35.2 134.5h0.8M46.3 114.5h0.8M33.1 127.4h0.8M30.6 126.6h0.8M46.3 141.5h0.8M32.2 116.9h0.8M40.3 136.1h0.8M27.5 133.3h0.8M40.3 137.9h0.8M32.9 136.4h0.8M35.7 139.8h0.8M39.0 137.6h0.8M37.1 128.8h0.8M38.8 140.0h0.8M34.0 134.9h0.8M56.4 125.0h0.8M26.5 121.9h0.8M34.7 131.4h0.8M24.8 111.7h0.8M43.2 117.4h0.8M42.4 143.5h0.8M24.8 136.9h0.8M37.3 128.0h0.8M40.0 130.8h0.8M41.3 145.7h0.8M39.4 119.3h0.8M48.1 142.5h0.8M48.5 135.3h0.8M44.1 145.7h0.8M36.5 125.4h0.8M48.5 128.1h0.8M46.2 126.3h0.8M33.4 134.5h0.8M39.7 124.0h0.8M50.1 127.4h0.8M42.7 122.6h0.8M32.4 126.0h0.8M38.5 133.3h0.8M38.9 131.9h0.8M44.5 140.7h0.8M33.8 133.1h0.8M40.9 138.8h0.8M41.3 128.4h0.8M34.7 132.5h0.8M41.2 121.3h0.8M29.5 127.8h0.8M38.0 125.3h0.8M33.8 123.8h0.8M41.3 112.1h0.8M37.1 125.1h0.8M37.4 133.5h0.8M24.8 142.6h0.8M42.9 145.7h0.8M43.4 140.6h0.8M41.5 145.7h0.8M26.7 130.7h0.8M30.0 140.3h0.8M39.3 145.7h0.8M38.4 130.0h0.8M35.9 124.3h0.8M24.8 131.4h0.8M33.8 127.3h0.8M28.2 132.6h0.8M29.0 134.3h0.8M35.3 128.5h0.8M24.8 134.9h0.8M44.0 130.3h0.8M32.6 137.7h0.8M43.3 127.3h0.8M49.0 135.7h0.8M40.3 121.9h0.8M35.1 132.2h0.8M42.7 126.7h0.8M30.5 143.2h0.8M38.0 141.0h0.8M38.0 125.6h0.8M37.0 107.4h0.8M44.9 137.1h0.8M46.4 129.4h0.8M52.8 143.7h0.8M24.8 114.1h0.8M39.2 117.9h0.8M36.0 129.8h0.8M34.7 145.7h0.8M41.6 137.9h0.8M39.0 145.7h0.8M47.6 124.8h0.8M41.6 124.3h0.8M35.8 130.7h0.8M26.1 113.2h0.8M27.5 137.0h0.8M24.8 137.5h0.8M24.8 123.7h0.8M32.8 138.9h0.8M37.1 120.7h0.8M32.4 134.0h0.8M45.7 134.2h0.8M36.2 128.9h0.8M49.6 123.4h0.8M33.4 135.0h0.8M47.2 114.4h0.8M44.8 143.0h0.8M39.1 112.7h0.8M31.4 130.0h0.8M39.3 119.1h0.8M35.1 138.5h0.8M32.7 128.4h0.8M33.3 117.3h0.8M34.2 129.3h0.8M43.0 123.5h0.8M26.6 126.5h0.8M30.0 137.0h0.8M32.5 115.9h0.8M41.8 130.7h0.8M38.4 135.4h0.8M45.5 122.3h0.8M42.0 132.1h0.8M37.5 130.4h0.8M33.3 133.5h0.8M37.2 138.2h0.8M48.9 121.6h0.8M52.5 142.2h0.8M27.9 130.1h0.8M37.0 143.1h0.8M29.3 145.7h0.8M28.4 127.8h0.8M32.1 119.1h0.8M28.0 125.6h0.8M34.9 125.3h0.8M29.6 105.7h0.8M34.8 145.7h0.8M50.2 143.0h0.8M33.9 136.6h0.8M32.8 126.8h0.8M38.3 141.6h0.8M33.1 124.9h0.8M36.8 116.7h0.8M43.9 141.6h0.8M46.5 139.2h0.8M32.3 129.1h0.8M29.6 134.6h0.8M54.4 121.7h0.8M42.3 145.2h0.8M28.8 145.7h0.8M31.8 130.5h0.8M40.4 140.8h0.8M43.4 129.1h0.8M31.9 108.3h0.8M33.1 144.1h0.8M30.8 137.6h0.8M42.7 133.2h0.8M32.7 126.0h0.8M36.7 114.0h0.8M48.2 121.1h0.8M32.1 125.4h0.8M34.8 135.3h0.8M46.7 133.8h0.8M49.7 127.9h0.8M42.6 139.5h0.8M38.3 138.2h0.8M29.0 144.8h0.8M43.6 133.3h0.8M34.4 140.0h0.8M28.5 139.0h0.8M44.6 145.7h0.8M36.5 145.2h0.8M42.2 115.6h0.8M26.9 126.3h0.8M46.5 145.7h0.8M35.2 136.0h0.8M39.0 106.9h0.8M46.0 145.7h0.8M24.8 122.3h0.8M36.5 130.8h0.8M45.6 143.4h0.8M32.8 138.4h0.8M32.1 128.6h0.8M39.1 137.1h0.8M32.2 145.7h0.8M38.8 131.7h0.8M43.4 125.4h0.8M39.7 107.2h0.8M24.8 128.0h0.8M33.4 128.1h0.8M32.0 137.5h0.8M46.9 126.6h0.8M45.5 135.5h0.8M27.6 118.2h0.8M37.6 142.4h0.8M29.8 110.7h0.8M45.0 143.2h0.8M35.4 142.6h0.8M53.5 123.2h0.8M34.1 127.9h0.8M45.9 123.2h0.8M34.7 144.4h0.8M45.4 142.3h0.8M29.9 136.2h0.8M32.7 141.0h0.8M41.3 138.9h0.8M36.0 133.3h0.8M40.4 129.8h0.8M39.9 122.2h0.8M28.0 114.8h0.8M36.2 140.2h0.8M40.8 112.2h0.8M40.6 132.3h0.8M36.1 134.2h0.8M42.0 145.5h0.8M47.3 145.7h0.8M42.1 126.1h0.8M48.0 120.0h0.8M44.1 121.9h0.8M32.9 144.1h0.8M32.6 142.6h0.8M42.5 130.7h0.8M43.4 138.0h0.8M38.7 125.8h0.8M44.1 128.9h0.8M37.1 136.5h0.8M36.8 134.6h0.8M39.9 134.9h0.8M38.6 145.7h0.8M33.8 127.9h0.8M27.7 109.1h0.8M42.8 136.8h0.8M48.8 117.9h0.8M31.5 126.5h0.8M52.8 141.1h0.8M36.1 131.8h0.8M39.9 121.0h0.8M40.1 121.4h0.8M38.2 138.7h0.8M39.6 125.1h0.8M35.2 139.7h0.8M33.4 118.6h0.8M35.2 126.8h0.8M35.7 131.7h0.8M34.6 128.3h0.8M44.4 137.4h0.8M44.7 132.4h0.8M34.2 134.6h0.8M25.8 120.6h0.8M43.7 126.8h0.8M31.9 120.9h0.8M40.6 119.8h0.8M46.6 133.5h0.8M24.8 126.5h0.8M29.1 136.8h0.8M41.1 126.7h0.8M32.0 135.7h0.8M32.1 144.4h0.8M31.8 134.8h0.8M24.8 135.0h0.8M32.1 133.9h0.8M45.6 129.6h0.8M24.8 111.2h0.8M37.5 122.5h0.8M27.8 141.2h0.8M35.0 140.3h0.8M43.9 127.2h0.8M37.8 119.5h0.8M39.8 130.7h0.8M49.0 139.2h0.8M35.3 124.2h0.8M34.9 130.9h0.8M42.5 140.9h0.8M27.2 120.7h0.8M39.2 119.0h0.8M35.8 113.5h0.8M34.0 126.4h0.8M34.0 124.5h0.8M40.3 139.4h0.8M42.2 128.1h0.8M34.1 124.3h0.8M30.8 129.1h0.8M35.1 128.7h0.8M38.3 139.0h0.8M31.5 128.5h0.8M40.8 132.8h0.8M30.3 119.4h0.8M41.6 120.5h0.8M39.8 121.2h0.8M50.2 120.7h0.8M50.7 138.2h0.8M47.5 143.0h0.8M40.9 128.2h0.8M55.8 127.2h0.8M38.3 118.2h0.8M36.8 137.0h0.8M31.5 132.7h0.8M34.7 128.0h0.8M41.8 139.8h0.8M31.2 114.6h0.8M40.6 120.8h0.8M33.4 123.4h0.8M44.7 145.7h0.8M32.4 145.7h0.8M38.2 128.1h0.8M45.6 145.7h0.8M35.1 128.2h0.8M51.4 139.9h0.8M24.8 129.7h0.8M30.7 125.6h0.8M37.8 126.6h0.8M33.7 145.7h0.8M24.8 132.8h0.8M41.5 117.2h0.8M28.0 120.2h0.8M43.5 120.7h0.8M40.7 119.6h0.8M27.1 135.5h0.8M43.3 118.1h0.8M28.8 133.6h0.8M29.2 119.8h0.8M28.3 134.0h0.8M24.8 145.7h0.8M49.2 143.3h0.8M35.0 124.4h0.8M40.8 120.2h0.8M53.5 125.0h0.8M46.0 138.9h0.8M33.2 128.7h0.8M30.2 132.0h0.8M41.3 131.1h0.8M34.0 131.3h0.8M46.4 139.8h0.8M40.6 124.9h0.8M33.0 135.8h0.8M33.6 124.3h0.8M47.4 132.1h0.8M38.5 125.2h0.8M38.9 138.9h0.8M38.8 116.5h0.8M32.8 136.2h0.8M38.4 140.7h0.8M34.2 130.4h0.8M43.7 130.4h0.8M43.3 113.7h0.8M29.0 139.9h0.8M42.9 138.3h0.8M43.7 139.9h0.8M27.8 145.7h0.8M43.3 119.2h0.8M26.1 134.7h0.8M31.1 135.7h0.8M34.1 116.0h0.8M29.8 126.9h0.8M36.3 138.4h0.8M31.2 135.2h0.8M34.6 129.4h0.8M24.8 125.7h0.8M25.0 137.2h0.8M44.9 134.9h0.8M52.6 133.2h0.8M42.9 127.3h0.8M39.2 120.6h0.8M34.0 140.8h0.8M36.3 127.3h0.8M35.4 135.5h0.8M47.1 115.8h0.8M36.2 129.3h0.8M34.5 130.3h0.8M40.4 142.1h0.8M24.8 118.9h0.8M37.2 116.3h0.8M39.9 122.1h0.8M35.2 119.0h0.8M29.0 145.7h0.8M33.6 144.6h0.8M35.9 136.7h0.8M29.8 135.3h0.8M32.0 102.2h0.8M24.8 129.1h0.8M41.4 122.6h0.8M27.7 124.6h0.8M49.1 112.0h0.8M41.2 141.6h0.8M25.3 121.0h0.8M32.9 123.5h0.8M43.6 131.0h0.8M31.8 133.8h0.8M45.7 126.5h0.8M29.5 139.4h0.8M49.8 145.7h0.8M42.6 128.8h0.8M42.8 136.2h0.8M41.3 130.4h0.8M44.7 139.6h0.8M26.6 138.0h0.8M28.8 132.2h0.8M35.6 135.8h0.8M32.8 127.5h0.8M32.7 126.3h0.8M25.5 136.3h0.8M32.2 134.6h0.8M36.7 135.3h0.8M41.4 118.4h0.8M35.9 133.1h0.8M31.4 124.7h0.8M39.8 143.9h0.8M41.2 138.2h0.8M39.4 145.7h0.8M37.3 140.3h0.8M36.9 116.0h0.8M24.8 145.7h0.8M37.5 122.4h0.8M33.1 120.3h0.8M36.9 125.0h0.8M41.6 145.7h0.8M40.8 131.9h0.8M37.3 145.1h0.8M26.5 122.0h0.8M32.6 119.6h0.8M41.0 127.7h0.8M29.4 136.9h0.8M36.3 135.5h0.8M37.0 126.2h0.8M28.6 136.0h0.8M29.7 141.6h0.8M39.1 131.1h0.8M30.6 145.7h0.8M35.0 136.9h0.8M32.0 143.0h0.8M40.5 141.8h0.8M43.7 130.3h0.8M30.2 132.3h0.8M32.1 128.0h0.8M50.7 141.0h0.8M39.9 138.5h0.8M44.5 134.2h0.8M37.1 133.3h0.8M41.4 145.7h0.8M28.6 132.8h0.8M33.5 145.7h0.8M33.6 144.8h0.8M42.6 137.2h0.8M46.2 136.6h0.8M35.5 145.7h0.8M28.7 114.3h0.8M31.8 139.4h0.8M32.6 133.5h0.8M45.3 139.4h0.8M41.2 143.5h0.8M38.4 143.3h0.8M39.7 145.7h0.8M46.7 133.7h0.8M47.4 142.1h0.8M45.0 136.6h0.8M29.4 128.3h0.8M45.6 145.7h0.8M26.4 124.3h0.8M24.8 120.1h0.8M43.2 127.1h0.8M42.3 145.7h0.8M24.8 134.4h0.8M41.0 137.6h0.8M46.7 144.7h0.8M43.1 124.1h0.8M47.8 145.7h0.8M30.1 132.5h0.8M41.6 130.0h0.8M40.7 136.6h0.8M47.6 130.3h0.8M37.6 145.7h0.8M47.4 129.2h0.8M29.2 133.1h0.8M43.0 131.2h0.8M27.8 121.1h0.8M33.1 133.3h0.8M40.5 144.2h0.8M32.6 124.6h0.8M24.8 122.6h0.8M36.0 129.6h0.8M36.3 134.4h0.8M34.8 118.1h0.8M39.3 135.8h0.8M31.4 145.7h0.8M24.8 117.1h0.8M33.0 126.4h0.8M30.2 134.5h0.8M46.5 137.6h0.8M39.3 145.7h0.8M25.6 130.2h0.8M38.2 128.9h0.8M36.5 129.9h0.8M32.4 120.2h0.8M28.9 128.8h0.8M40.7 137.0h0.8M43.3 107.7h0.8M30.0 120.1h0.8M37.2 131.8h0.8M33.9 141.5h0.8M33.4 132.8h0.8M41.4 136.3h0.8M34.6 145.3h0.8M42.9 141.2h0.8M39.0 133.6h0.8M31.0 112.4h0.8M28.1 116.0h0.8M36.8 117.1h0.8M33.0 122.2h0.8M37.1 129.6h0.8M48.1 140.6h0.8M49.5 132.6h0.8M24.8 141.4h0.8M52.7 127.6h0.8M48.5 129.9h0.8M38.1 130.4h0.8M32.3 127.0h0.8M24.8 133.2h0.8M38.2 138.7h0.8M36.8 135.8h0.8M55.0 141.6h0.8M36.1 134.2h0.8M37.3 144.5h0.8M33.1 142.2h0.8M40.5 105.3h0.8M40.9 126.0h0.8M29.9 131.5h0.8M39.6 145.7h0.8M37.7 122.9h0.8M36.2 136.3h0.8M29.7 129.2h0.8M24.8 119.3h0.8M33.7 138.9h0.8M29.9 123.1h0.8M36.4 121.5h0.8M32.7 122.4h0.8M50.8 126.9h0.8M48.2 132.8h0.8M51.2 121.8h0.8M38.5 107.6h0.8M47.5 137.7h0.8M34.2 145.7h0.8M49.9 132.1h0.8M30.7 116.6h0.8M45.5 112.8h0.8M35.6 145.7h0.8M40.0 119.0h0.8M30.3 144.4h0.8M28.7 127.0h0.8M25.9 131.0h0.8M32.2 141.8h0.8M29.2 127.3h0.8M24.8 144.7h0.8M46.8 128.8h0.8M38.3 136.1h0.8M45.7 115.0h0.8M29.9 145.7h0.8M46.5 137.4h0.8M37.4 140.0h0.8M44.3 140.4h0.8M28.7 131.8h0.8M40.4 134.7h0.8M28.9 129.4h0.8M29.4 127.4h0.8M39.0 137.4h0.8M42.0 141.8h0.8M38.5 119.1h0.8M37.7 127.2h0.8M24.8 125.4h0.8M40.5 142.0h0.8M36.3 117.7h0.8M36.8 124.3h0.8M47.3 119.0h0.8M44.0 129.3h0.8M40.3 124.5h0.8M41.4 131.6h0.8M35.7 120.8h0.8M32.7 112.6h0.8M41.3 128.6h0.8M49.1 116.4h0.8M49.9 136.2h0.8M33.5 136.6h0.8M27.0 117.9h0.8M47.0 111.5h0.8M37.3 145.4h0.8M38.1 145.1h0.8M35.4 124.9h0.8M46.6 140.6h0.8M36.6 145.6h0.8M28.1 142.1h0.8M34.1 134.0h0.8M38.1 133.6h0.8M41.6 145.7h0.8M48.7 132.7h0.8M37.9 121.9h0.8M50.7 141.2h0.8M32.4 133.7h0.8M49.5 124.9h0.8M39.6 131.9h0.8M35.1 132.7h0.8M24.8 141.9h0.8M33.8 133.2h0.8M26.1 145.7h0.8M42.1 112.4h0.8M32.5 128.5h0.8M29.5 118.2h0.8M26.7 123.1h0.8M38.5 134.0h0.8M47.5 130.0h0.8M24.8 130.1h0.8M45.9 119.7h0.8M38.6 134.9h0.8M28.9 129.5h0.8M29.0 145.7h0.8M42.4 132.1h0.8M42.7 138.4h0.8M30.2 118.4h0.8M25.6 118.8h0.8M43.7 142.6h0.8M49.4 118.2h0.8M37.1 143.9h0.8M51.5 128.3h0.8M34.2 127.7h0.8M40.7 139.7h0.8M45.1 127.1h0.8M48.9 121.6h0.8M42.3 145.3h0.8M46.2 136.1h0.8M34.2 131.0h0.8M31.4 124.9h0.8M29.3 142.9h0.8M27.8 124.8h0.8M48.1 135.7h0.8M51.2 145.7h0.8M40.9 143.0h0.8M28.4 134.4h0.8M51.6 136.8h0.8M39.9 145.7h0.8M44.2 117.7h0.8M46.9 107.0h0.8M41.7 136.1h0.8M34.0 124.4h0.8M34.2 145.7h0.8M28.9 124.2h0.8M36.2 128.3h0.8M51.6 135.7h0.8M36.5 139.9h0.8M40.3 130.6h0.8M35.4 131.0h0.8M36.7 128.3h0.8M37.3 145.2h0.8M27.8 136.3h0.8M43.8 131.5h0.8M37.5 143.8h0.8M34.5 138.4h0.8M42.2 134.4h0.8M39.6 140.7h0.8M49.5 121.8h0.8M46.2 125.7h0.8M30.7 134.3h0.8M39.3 115.0h0.8M50.9 127.9h0.8M43.3 136.4h0.8M42.7 133.3h0.8M40.3 133.2h0.8M35.1 143.6h0.8M39.1 135.9h0.8M33.3 126.1h0.8M39.2 118.3h0.8M49.3 128.6h0.8M35.3 127.4h0.8M38.8 137.6h0.8M43.4 125.7h0.8M28.9 131.0h0.8M36.7 125.0h0.8M47.5 122.1h0.8M30.7 141.6h0.8M34.5 130.3h0.8M30.9 119.8h0.8M31.8 115.3h0.8M43.3 135.0h0.8M52.6 131.3h0.8M33.2 142.0h0.8M33.4 142.0h0.8M33.6 114.1h0.8M34.8 129.0h0.8M41.6 127.6h0.8M39.5 134.4h0.8M30.6 121.0h0.8M31.6 115.9h0.8M38.1 138.2h0.8M34.9 125.5h0.8M28.1 138.2h0.8M45.7 110.5h0.8M53.4 145.7h0.8M33.2 131.7h0.8M38.6 135.6h0.8M34.4 135.8h0.8M42.3 145.7h0.8M36.8 125.5h0.8M45.2 131.5h0.8M38.5 132.7h0.8M34.5 127.4h0.8M33.6 124.4h0.8M33.9 145.7h0.8M36.8 124.1h0.8M29.5 143.4h0.8M32.6 133.3h0.8M24.8 111.5h0.8M39.2 115.4h0.8M39.0 140.1h0.8M30.7 126.7h0.8M33.7 124.7h0.8M34.1 127.4h0.8M35.4 132.1h0.8M41.1 136.0h0.8M37.6 124.1h0.8M41.0 139.3h0.8M38.2 128.0h0.8M53.7 110.0h0.8M42.0 133.8h0.8M48.8 145.7h0.8M42.2 127.3h0.8M41.6 120.6h0.8M37.9 124.4h0.8M41.0 114.9h0.8M34.7 133.6h0.8M35.5 128.5h0.8M31.5 129.4h0.8M48.5 126.1h0.8M27.4 121.9h0.8M33.9 138.4h0.8M35.2 139.2h0.8M47.9 123.3h0.8M39.0 128.9h0.8M44.4 139.6h0.8M40.2 121.0h0.8M34.6 130.8h0.8M36.6 125.7h0.8M39.1 135.8h0.8M39.6 124.2h0.8M34.2 120.5h0.8M31.6 137.5h0.8M35.5 129.9h0.8M45.3 126.1h0.8M37.2 117.5h0.8M44.1 129.9h0.8M43.2 138.9h0.8M36.8 136.9h0.8M26.1 126.5h0.8M24.8 140.9h0.8M41.8 145.2h0.8M47.5 145.7h0.8M35.7 117.4h0.8M34.1 145.7h0.8M41.5 143.0h0.8M43.2 137.3h0.8M34.8 120.9h0.8M44.1 123.0h0.8M50.0 137.1h0.8M42.4 132.0h0.8M24.8 123.3h0.8M44.6 119.6h0.8M28.0 145.7h0.8M24.8 130.9h0.8M40.0 145.7h0.8M45.5 136.0h0.8M24.8 129.1h0.8M24.8 134.3h0.8M26.5 141.4h0.8M42.2 126.5h0.8M40.5 133.8h0.8M38.1 131.9h0.8M43.0 132.4h0.8M34.4 135.4h0.8M31.9 143.6h0.8M43.7 111.9h0.8M35.0 130.5h0.8M36.7 136.5h0.8M47.5 145.7h0.8M24.8 140.3h0.8M24.8 141.9h0.8M40.7 124.0h0.8M33.5 127.0h0.8M46.7 126.2h0.8M34.0 135.7h0.8M50.0 126.1h0.8M39.4 124.6h0.8M45.2 120.5h0.8M40.2 135.6h0.8M34.3 142.8h0.8M51.8 131.8h0.8M39.8 133.6h0.8M46.4 139.6h0.8M37.9 131.1h0.8M31.4 129.1h0.8M37.4 145.7h0.8M44.0 111.0h0.8M33.2 143.6h0.8M46.0 114.5h0.8M36.4 145.7h0.8M31.7 127.7h0.8M37.9 121.7h0.8M45.5 133.5h0.8M38.7 125.1h0.8M45.3 128.3h0.8M31.0 130.0h0.8M26.9 126.0h0.8M55.1 123.9h0.8M30.1 131.7h0.8M39.6 135.6h0.8M39.0 115.3h0.8M33.5 110.0h0.8M42.6 135.6h0.8M43.6 116.5h0.8M24.8 132.2h0.8M29.3 119.9h0.8M30.6 116.4h0.8M24.8 134.9h0.8M39.4 138.8h0.8M39.4 132.3h0.8M40.4 128.4h0.8M37.9 129.7h0.8M24.8 135.0h0.8M50.4 145.7h0.8M35.2 134.8h0.8M38.6 145.7h0.8M50.0 123.9h0.8M30.9 126.9h0.8M32.4 145.7h0.8M24.8 120.5h0.8M25.9 124.8h0.8M41.9 120.8h0.8M43.3 145.7h0.8M38.4 143.3h0.8M35.3 134.9h0.8M34.9 142.4h0.8M39.7 138.0h0.8M44.1 141.6h0.8M29.6 134.2h0.8M31.4 127.7h0.8M37.0 137.4h0.8M36.9 129.3h0.8M47.3 136.0h0.8M24.8 135.4h0.8M33.6 138.0h0.8M43.1 145.7h0.8M34.4 140.1h0.8M35.8 125.0h0.8M25.0 134.3h0.8M48.5 129.5h0.8M45.5 132.4h0.8M43.6 130.0h0.8M41.5 121.8h0.8M42.9 145.7h0.8M45.7 126.4h0.8M24.8 133.6h0.8M28.3 130.4h0.8M45.0 109.5h0.8M35.1 130.1h0.8M42.9 135.7h0.8M50.5 136.0h0.8M42.7 112.0h0.8M37.2 128.6h0.8M36.8 141.9h0.8M27.6 106.5h0.8M51.6 130.0h0.8M34.2 145.7h0.8M43.6 133.7h0.8M39.7 139.0h0.8M30.2 133.0h0.8M53.6 137.5h0.8M39.9 145.7h0.8M39.4 145.7h0.8M40.2 130.1h0.8M40.7 135.1h0.8M26.7 145.7h0.8M41.7 145.7h0.8M31.8 128.5h0.8M27.8 130.5h0.8M42.7 145.7h0.8M34.1 129.0h0.8M45.4 137.2h0.8M32.4 127.7h0.8M32.4 144.1h0.8M33.1 128.8h0.8M46.8 126.4h0.8M45.8 118.1h0.8M32.5 145.7h0.8M42.3 123.1h0.8M28.3 115.9h0.8M40.2 129.5h0.8M39.8 131.2h0.8M25.4 134.5h0.8M27.7 134.1h0.8M35.1 134.3h0.8M34.7 111.2h0.8M42.2 113.7h0.8M30.0 124.5h0.8M38.7 119.8h0.8M36.0 132.6h0.8M52.6 125.3h0.8M39.4 138.4h0.8M36.0 133.8h0.8M45.1 125.4h0.8M24.8 129.1h0.8M39.8 137.0h0.8M41.4 143.6h0.8M38.0 126.1h0.8M28.5 118.9h0.8M45.0 125.8h0.8M30.9 145.7h0.8M26.9 140.4h0.8M29.3 126.5h0.8M33.1 135.5h0.8M34.4 140.9h0.8M32.3 145.7h0.8M34.1 113.5h0.8M29.4 122.1h0.8M39.4 117.8h0.8M46.4 122.5h0.8M33.0 142.3h0.8M24.8 145.7h0.8M30.1 112.2h0.8M49.2 129.4h0.8M24.8 137.8h0.8M50.1 145.7h0.8M42.0 121.5h0.8M32.8 139.9h0.8M40.7 128.6h0.8M48.9 118.6h0.8M50.4 120.4h0.8M33.1 130.7h0.8M43.6 143.9h0.8M24.8 122.2h0.8M31.4 130.2h0.8M30.6 120.4h0.8M49.5 138.9h0.8M37.4 141.1h0.8M35.3 115.9h0.8M24.8 137.9h0.8M36.6 130.7h0.8M29.0 133.1h0.8M39.2 145.7h0.8M47.7 125.3h0.8M52.3 141.3h0.8M49.8 130.1h0.8M45.7 115.6h0.8M47.1 124.3h0.8M40.8 125.0h0.8M37.5 132.6h0.8M26.7 133.4h0.8M45.4 132.9h0.8M46.9 145.7h0.8M38.5 145.7h0.8M39.0 120.3h0.8M44.0 119.6h0.8M37.9 145.7h0.8M31.7 120.4h0.8M34.4 136.5h0.8M44.5 126.0h0.8M32.3 138.2h0.8M36.8 142.5h0.8M30.7 145.7h0.8M39.7 131.4h0.8M24.8 128.6h0.8M36.6 143.6h0.8M38.8 121.6h0.8M26.0 141.1h0.8M27.8 145.7h0.8M39.5 126.6h0.8M30.6 145.7h0.8M36.2 133.7h0.8M24.8 133.4h0.8M28.9 108.4h0.8M35.4 130.5h0.8M27.1 145.7h0.8M27.7 122.5h0.8M39.5 135.0h0.8M39.5 129.0h0.8M49.9 123.3h0.8M24.8 120.9h0.8M36.0 132.5h0.8M53.7 130.8h0.8M33.4 126.1h0.8M30.4 139.1h0.8M27.3 145.7h0.8M29.4 124.8h0.8M37.6 114.7h0.8M38.3 131.5h0.8M48.3 139.2h0.8M24.8 135.5h0.8M28.9 121.5h0.8M30.2 145.7h0.8M33.6 131.7h0.8M44.6 145.7h0.8M34.0 133.1h0.8M39.3 132.5h0.8M35.4 119.9h0.8M32.9 123.3h0.8M28.9 125.9h0.8M36.6 124.6h0.8M33.8 140.8h0.8M43.2 121.5h0.8M24.8 145.7h0.8M35.5 145.7h0.8M36.7 145.7h0.8M40.7 130.8h0.8M32.5 129.8h0.8M29.6 134.6h0.8M36.7 137.0h0.8M41.6 120.3h0.8M39.6 131.9h0.8M45.9 145.7h0.8M33.8 109.8h0.8M36.7 130.9h0.8M28.9 135.7h0.8M35.1 138.2h0.8M26.7 134.2h0.8M35.3 129.2h0.8M45.0 125.2h0.8M33.7 139.2h0.8M24.8 138.4h0.8M31.0 107.7h0.8M48.5 145.7h0.8M37.7 120.8h0.8M24.8 134.4h0.8M49.3 115.6h0.8M36.3 145.7h0.8M43.3 129.2h0.8M53.6 117.8h0.8M41.0 141.8h0.8M25.5 125.9h0.8M33.2 145.7h0.8M36.2 129.9h0.8M32.1 145.7h0.8M53.3 122.1h0.8M30.6 137.3h0.8M38.5 135.1h0.8M30.8 112.5h0.8M38.1 121.4h0.8M39.2 135.8h0.8M31.9 133.6h0.8M27.9 131.6h0.8M41.0 131.9h0.8M24.8 137.4h0.8M30.6 141.5h0.8M37.8 131.3h0.8M41.1 124.8h0.8M37.5 127.8h0.8M41.7 140.9h0.8M30.4 127.1h0.8M30.5 145.7h0.8M30.7 130.8h0.8M35.2 122.1h0.8M41.7 128.7h0.8M45.8 122.2h0.8M40.0 145.7h0.8M44.5 131.5h0.8M44.7 119.3h0.8M41.3 135.5h0.8M41.5 137.2h0.8M43.2 125.5h0.8M33.0 121.1h0.8M41.3 113.2h0.8M36.3 123.2h0.8M38.8 145.7h0.8M32.8 142.7h0.8M48.5 120.1h0.8M35.8 134.1h0.8M30.3 127.1h0.8M35.3 133.2h0.8M32.8 143.2h0.8M41.7 130.8h0.8M39.6 114.2h0.8M25.0 117.9h0.8M38.7 145.7h0.8M33.2 119.9h0.8M29.5 133.6h0.8M26.6 122.5h0.8M42.4 143.9h0.8M38.0 131.2h0.8M34.5 137.2h0.8M24.8 133.5h0.8M38.7 128.1h0.8M34.1 135.5h0.8M33.2 137.8h0.8M30.6 135.5h0.8M44.3 121.1h0.8M45.1 135.4h0.8M39.3 144.6h0.8M40.6 122.6h0.8M42.2 143.0h0.8M34.3 129.0h0.8M35.0 126.7h0.8M30.6 139.0h0.8M45.8 118.4h0.8M35.9 128.5h0.8M42.9 142.2h0.8M40.4 143.3h0.8M44.6 138.2h0.8M41.3 142.5h0.8M33.0 120.6h0.8M44.1 141.1h0.8M50.4 130.9h0.8M28.1 135.6h0.8M48.8 125.9h0.8M36.2 126.2h0.8M25.2 143.8h0.8M33.9 145.7h0.8M34.0 114.3h0.8M29.8 122.0h0.8M31.6 129.3h0.8M34.2 145.7h0.8M24.8 121.4h0.8M37.9 139.0h0.8M37.9 131.2h0.8M41.4 129.6h0.8M34.8 135.2h0.8M25.5 131.6h0.8M30.8 134.0h0.8M35.5 143.8h0.8M41.4 134.4h0.8M30.7 136.9h0.8M24.8 140.2h0.8M43.8 133.4h0.8M42.4 117.6h0.8M33.1 122.6h0.8M41.7 137.2h0.8M49.5 121.1h0.8M30.0 135.7h0.8M32.2 124.9h0.8M42.0 131.5h0.8M32.5 142.3h0.8M36.1 117.5h0.8M35.4 131.4h0.8M31.5 141.6h0.8M39.3 138.4h0.8M44.1 129.0h0.8M35.4 132.7h0.8M34.3 145.7h0.8M30.5 118.7h0.8M41.7 130.0h0.8M26.3 139.1h0.8M43.5 123.6h0.8M28.2 140.0h0.8M43.1 139.8h0.8M35.1 140.6h0.8M50.7 139.5h0.8M43.1 143.7h0.8M41.7 132.6h0.8M40.7 142.0h0.8M40.4 139.3h0.8M34.8 131.6h0.8M26.3 141.3h0.8M40.7 122.4h0.8M41.5 124.7h0.8M41.9 145.7h0.8M38.9 125.3h0.8M34.2 134.8h0.8M34.4 138.7h0.8M24.8 145.7h0.8M36.5 131.8h0.8M47.7 141.6h0.8M24.8 118.4h0.8M44.4 128.0h0.8M30.3 139.6h0.8M36.3 135.7h0.8M30.8 127.2h0.8M35.7 134.3h0.8M45.2 115.8h0.8M30.8 124.2h0.8M38.0 124.3h0.8M37.6 142.3h0.8M38.1 143.4h0.8M36.9 113.8h0.8M36.7 134.3h0.8M31.9 130.0h0.8M47.0 136.0h0.8M28.5 119.0h0.8M42.1 137.2h0.8M27.7 129.5h0.8M37.6 141.1h0.8M43.4 145.7h0.8M31.7 113.9h0.8M36.3 141.4h0.8M28.3 121.1h0.8M38.9 131.8h0.8M47.2 126.8h0.8M44.2 118.7h0.8M40.9 145.7h0.8M35.1 145.7h0.8M43.5 143.7h0.8M40.6 141.8h0.8M24.8 130.2h0.8M33.6 132.5h0.8M69.9 119.2h0.8M73.5 114.9h0.8M73.1 99.0h0.8M66.9 117.0h0.8M71.1 112.7h0.8M71.7 124.1h0.8M68.3 118.3h0.8M70.7 130.8h0.8M69.4 138.2h0.8M71.1 115.9h0.8M73.3 143.8h0.8M74.2 109.8h0.8M71.0 134.0h0.8M71.2 109.2h0.8M69.7 135.8h0.8M70.8 121.7h0.8M74.5 127.0h0.8M71.2 103.6h0.8M68.7 122.9h0.8M70.1 117.2h0.8M70.9 127.5h0.8M72.3 138.6h0.8M69.3 129.6h0.8M73.3 115.9h0.8M72.2 126.2h0.8M70.5 131.5h0.8M72.1 138.7h0.8M74.3 134.5h0.8M69.4 141.9h0.8M70.9 130.9h0.8M72.5 120.7h0.8M71.5 121.1h0.8M69.2 109.3h0.8M70.5 113.1h0.8M73.7 104.3h0.8M71.7 125.2h0.8M70.4 120.8h0.8M70.3 132.5h0.8M69.9 131.0h0.8M69.4 125.6h0.8M74.0 134.4h0.8M70.8 130.1h0.8M73.3 125.8h0.8M71.1 119.7h0.8M72.4 121.0h0.8M71.8 139.1h0.8M73.1 129.4h0.8M74.6 128.4h0.8M71.6 131.8h0.8M68.7 132.6h0.8M72.5 140.8h0.8M74.9 104.0h0.8M72.6 127.9h0.8M71.1 138.8h0.8M71.7 122.3h0.8M68.0 128.9h0.8M69.7 136.1h0.8M72.4 123.2h0.8M74.3 136.7h0.8M74.8 115.1h0.8M71.1 108.7h0.8M70.3 109.4h0.8M69.6 109.6h0.8M69.5 124.2h0.8M70.1 117.8h0.8M68.8 129.2h0.8M73.7 96.9h0.8M67.7 117.0h0.8M74.2 130.0h0.8M73.3 115.4h0.8M70.3 121.2h0.8M71.9 124.0h0.8M70.6 132.3h0.8M74.2 136.6h0.8M73.0 132.4h0.8M73.0 131.4h0.8M69.5 141.1h0.8M73.3 141.1h0.8M70.3 123.5h0.8M73.0 110.4h0.8M74.6 126.2h0.8M70.8 99.0h0.8M69.4 119.0h0.8M70.9 128.6h0.8M74.7 121.2h0.8M69.1 133.3h0.8M71.3 127.9h0.8M71.0 132.9h0.8M74.1 126.5h0.8M69.6 141.8h0.8M70.4 130.5h0.8M70.0 140.9h0.8M71.7 112.7h0.8M69.5 131.2h0.8M70.1 112.9h0.8M68.9 106.7h0.8M72.1 140.1h0.8M71.2 143.6h0.8M71.9 131.6h0.8M67.9 131.6h0.8M73.3 108.0h0.8M71.5 138.2h0.8M74.4 128.5h0.8M74.6 126.9h0.8M70.1 115.3h0.8M71.5 122.3h0.8M70.2 120.8h0.8M71.4 115.8h0.8M72.2 117.5h0.8M71.1 116.2h0.8M70.7 131.6h0.8M74.4 133.3h0.8M68.2 121.9h0.8M71.4 120.7h0.8M69.7 121.5h0.8M70.0 117.1h0.8M70.8 109.6h0.8M71.7 89.6h0.8M69.1 140.2h0.8M73.4 136.7h0.8M70.7 114.4h0.8M70.7 118.2h0.8M69.2 114.6h0.8M71.7 114.1h0.8M68.7 137.2h0.8M70.1 109.6h0.8M72.8 131.9h0.8M73.3 126.5h0.8M68.9 131.5h0.8M68.0 109.6h0.8M75.9 127.1h0.8M71.8 135.1h0.8M71.2 124.7h0.8M70.1 133.6h0.8M70.8 123.5h0.8M70.1 122.8h0.8M70.5 125.5h0.8M68.3 124.3h0.8M71.3 116.5h0.8M70.7 121.1h0.8M70.1 125.3h0.8M69.8 129.2h0.8M69.6 111.1h0.8M72.5 124.0h0.8M70.7 111.0h0.8M69.1 132.8h0.8M71.8 110.4h0.8M71.2 108.4h0.8M70.6 140.5h0.8M73.6 116.1h0.8M73.4 132.5h0.8M72.3 126.4h0.8M73.5 117.4h0.8M74.8 125.1h0.8M70.8 117.9h0.8M71.7 120.2h0.8M69.5 113.6h0.8M71.0 114.1h0.8M69.3 120.7h0.8M71.8 133.2h0.8M69.5 138.8h0.8M71.5 126.9h0.8M70.2 135.5h0.8M69.3 139.8h0.8M72.1 123.0h0.8M67.6 121.9h0.8M74.3 110.7h0.8M71.6 109.5h0.8M69.3 119.5h0.8M70.5 106.0h0.8M70.1 132.0h0.8M70.7 139.5h0.8M73.2 123.0h0.8M72.0 114.7h0.8M69.4 134.3h0.8M68.5 120.0h0.8M71.4 127.4h0.8M72.8 116.5h0.8M68.1 128.1h0.8M72.3 142.8h0.8M71.8 122.0h0.8M72.0 131.3h0.8M75.3 124.0h0.8M72.0 119.8h0.8M73.9 132.3h0.8M71.5 125.9h0.8M74.3 132.4h0.8M70.5 131.3h0.8M71.4 134.3h0.8M71.7 116.4h0.8M72.2 141.8h0.8M71.4 126.8h0.8M68.2 135.3h0.8M72.4 125.8h0.8M72.3 117.1h0.8M74.5 127.4h0.8M70.3 119.4h0.8M72.6 135.7h0.8M74.5 118.9h0.8M71.9 132.3h0.8M69.5 144.6h0.8M69.0 120.7h0.8M70.2 143.9h0.8M72.0 130.0h0.8M69.1 125.4h0.8M72.7 122.3h0.8M69.1 127.6h0.8M72.3 111.8h0.8M72.9 128.9h0.8M69.8 114.3h0.8M74.2 137.2h0.8M70.6 97.0h0.8M66.7 126.7h0.8M71.2 133.2h0.8M72.2 119.8h0.8M70.4 116.9h0.8M72.6 145.7h0.8M74.1 134.4h0.8M72.0 113.2h0.8M72.3 118.6h0.8M73.4 134.2h0.8M71.5 117.9h0.8M73.0 124.2h0.8M71.1 115.4h0.8M69.2 124.3h0.8M72.0 132.6h0.8M70.1 118.7h0.8M71.1 86.6h0.8M71.3 120.5h0.8M71.9 121.4h0.8M67.2 123.1h0.8M71.3 128.3h0.8M69.3 134.3h0.8M69.4 112.9h0.8M73.6 102.6h0.8M69.1 123.2h0.8M73.9 134.7h0.8M69.9 117.1h0.8M73.1 137.8h0.8M72.6 114.3h0.8M70.4 125.3h0.8M73.2 116.3h0.8M65.8 123.1h0.8M71.7 120.4h0.8M71.0 123.6h0.8M72.8 117.2h0.8M70.4 144.1h0.8M72.0 134.9h0.8M70.8 101.0h0.8M72.6 121.0h0.8M73.0 138.5h0.8M68.8 114.2h0.8M75.0 115.6h0.8M71.2 136.7h0.8M75.6 123.3h0.8M70.3 107.0h0.8M71.5 127.3h0.8M74.2 128.0h0.8M70.8 114.7h0.8M73.4 129.5h0.8M70.9 141.2h0.8M71.6 120.0h0.8M71.2 123.6h0.8M71.8 116.0h0.8M75.3 110.9h0.8M70.1 138.0h0.8M72.0 140.4h0.8M70.8 121.3h0.8M71.5 133.6h0.8M71.4 129.1h0.8M71.6 124.3h0.8M72.4 124.6h0.8M75.7 136.2h0.8M68.6 135.6h0.8M71.0 120.8h0.8M72.3 117.0h0.8M73.9 119.2h0.8M68.9 116.6h0.8M75.7 137.2h0.8M72.7 113.0h0.8M75.5 122.3h0.8M73.2 133.5h0.8M71.6 129.9h0.8M70.2 115.1h0.8M72.0 127.3h0.8M72.0 115.1h0.8M68.6 125.7h0.8M71.6 126.8h0.8M70.8 105.8h0.8M72.2 112.9h0.8M69.2 126.1h0.8M69.6 132.0h0.8M70.5 133.8h0.8M72.0 122.3h0.8M70.0 134.4h0.8M67.7 115.4h0.8M68.8 139.3h0.8M73.1 139.5h0.8M72.7 139.5h0.8M70.9 109.7h0.8M72.5 122.0h0.8M69.7 126.0h0.8M70.5 124.3h0.8M70.7 132.7h0.8M73.7 137.1h0.8M71.5 143.6h0.8M69.3 122.8h0.8M70.9 105.5h0.8M70.2 108.9h0.8M73.2 134.0h0.8M72.4 117.6h0.8M72.2 125.4h0.8M70.1 134.1h0.8M73.0 135.8h0.8M72.5 115.3h0.8M68.2 132.5h0.8M71.1 119.3h0.8M72.0 124.3h0.8M71.7 109.1h0.8M71.7 131.8h0.8M72.0 131.2h0.8M73.1 137.0h0.8M73.0 130.2h0.8M71.6 136.7h0.8M69.5 115.8h0.8M67.0 131.6h0.8M69.3 135.4h0.8M70.7 121.1h0.8M72.1 118.8h0.8M75.2 115.9h0.8M72.8 115.9h0.8M68.8 117.5h0.8M72.4 114.2h0.8M70.1 130.9h0.8M69.5 135.3h0.8M70.6 123.0h0.8M73.1 130.0h0.8M70.9 129.4h0.8M72.7 121.1h0.8M71.2 142.5h0.8M70.4 124.3h0.8M71.4 142.6h0.8M74.7 115.4h0.8M71.3 130.4h0.8M73.5 121.4h0.8M74.0 103.7h0.8M74.2 108.1h0.8M71.8 138.0h0.8M73.2 135.2h0.8M72.1 142.0h0.8M68.9 130.7h0.8M70.2 136.0h0.8M70.6 137.7h0.8M74.9 116.8h0.8M69.3 128.9h0.8M69.4 111.7h0.8M72.5 111.8h0.8M72.5 126.2h0.8M71.3 103.4h0.8M69.2 133.7h0.8M65.3 119.2h0.8M74.4 128.6h0.8M70.6 127.8h0.8M72.1 127.2h0.8M70.2 123.7h0.8M69.3 117.2h0.8M70.3 144.1h0.8M73.8 134.3h0.8M72.8 125.6h0.8M76.1 144.0h0.8M69.7 133.0h0.8M70.6 139.8h0.8M71.3 121.3h0.8M73.2 140.9h0.8M73.9 135.4h0.8M69.5 127.8h0.8M71.2 136.0h0.8M69.8 101.8h0.8M69.6 138.5h0.8M72.9 123.9h0.8M71.3 133.8h0.8M72.2 117.0h0.8M73.5 126.1h0.8M72.8 126.9h0.8M75.3 128.0h0.8M73.5 122.8h0.8M71.7 123.5h0.8M70.4 116.2h0.8M71.8 135.7h0.8M73.0 125.9h0.8M71.9 114.9h0.8M69.4 116.4h0.8M70.7 142.0h0.8M69.6 139.7h0.8M75.3 123.1h0.8M73.2 130.8h0.8M69.1 131.9h0.8M71.1 122.2h0.8M72.8 117.1h0.8M72.1 121.5h0.8M70.9 116.2h0.8M66.4 126.2h0.8M74.0 122.7h0.8M69.7 136.9h0.8M73.6 126.1h0.8M73.3 126.5h0.8M70.6 90.5h0.8M71.0 140.7h0.8M71.7 142.5h0.8M70.8 127.5h0.8M71.2 126.6h0.8M70.9 117.5h0.8M74.8 142.1h0.8M73.2 127.8h0.8M69.2 123.4h0.8M69.1 131.2h0.8M72.2 137.2h0.8M72.8 126.8h0.8M71.1 139.1h0.8M66.9 128.2h0.8M74.4 115.4h0.8M68.7 132.6h0.8M71.5 142.5h0.8M70.2 128.5h0.8M70.1 128.7h0.8M69.1 114.9h0.8M69.5 131.6h0.8M72.9 131.0h0.8M75.0 135.6h0.8M71.6 125.8h0.8M72.1 118.6h0.8M72.5 124.2h0.8M73.0 115.7h0.8M70.4 128.2h0.8M73.1 119.3h0.8M71.0 124.7h0.8M70.6 139.7h0.8M65.5 109.3h0.8M71.2 119.5h0.8M68.4 116.2h0.8M72.2 122.8h0.8M72.0 128.9h0.8M68.9 115.7h0.8M71.3 145.2h0.8M70.7 111.7h0.8M70.4 136.3h0.8M72.4 114.9h0.8M72.1 117.1h0.8M70.2 117.8h0.8M68.0 106.5h0.8M72.6 118.6h0.8M68.7 119.2h0.8M70.2 121.1h0.8M71.2 128.2h0.8M72.6 122.5h0.8M72.2 126.8h0.8M70.6 137.7h0.8M72.3 126.4h0.8M71.8 142.1h0.8M74.8 115.7h0.8M71.7 113.5h0.8M70.9 101.9h0.8M68.7 112.6h0.8M70.9 133.1h0.8M69.2 139.2h0.8M67.7 114.3h0.8M69.7 108.7h0.8M73.2 127.1h0.8M73.3 142.5h0.8M71.2 122.1h0.8M69.3 111.8h0.8M70.3 141.7h0.8M68.4 108.9h0.8M72.3 115.1h0.8M72.7 112.7h0.8M70.3 116.7h0.8M70.7 137.9h0.8M70.9 126.1h0.8M69.7 128.1h0.8M72.0 137.6h0.8M69.0 130.7h0.8M70.1 130.6h0.8M73.3 118.1h0.8M70.0 119.5h0.8M72.2 134.5h0.8M73.3 121.3h0.8M72.6 128.1h0.8M73.1 127.0h0.8M71.8 108.9h0.8M73.3 108.2h0.8M71.3 137.4h0.8M69.0 139.8h0.8M71.1 123.9h0.8M70.7 119.1h0.8M68.2 131.5h0.8M72.1 114.0h0.8M72.9 118.1h0.8M68.7 127.9h0.8M69.3 134.6h0.8M70.6 133.3h0.8M70.2 135.2h0.8M73.7 128.5h0.8M70.3 139.6h0.8M71.9 115.6h0.8M69.0 137.1h0.8M70.6 132.9h0.8M72.3 107.8h0.8M69.7 130.4h0.8M66.4 122.5h0.8M72.1 125.4h0.8M72.2 124.5h0.8M72.8 128.8h0.8M73.5 140.8h0.8M69.6 120.3h0.8M69.2 141.9h0.8M67.3 106.0h0.8M72.2 102.8h0.8M71.1 112.4h0.8M70.6 115.3h0.8M74.6 127.9h0.8M71.1 127.4h0.8M71.2 133.0h0.8M70.3 140.5h0.8M72.3 128.0h0.8M70.2 125.9h0.8M72.8 143.1h0.8M74.3 119.0h0.8M70.3 104.6h0.8M73.6 98.3h0.8M67.5 116.9h0.8M71.2 108.9h0.8M71.2 124.4h0.8M71.2 123.9h0.8M73.0 129.8h0.8M76.1 136.6h0.8M74.5 135.5h0.8M73.0 122.3h0.8M71.3 144.2h0.8M70.0 139.1h0.8M71.5 125.1h0.8M70.6 121.0h0.8M69.8 109.0h0.8M71.9 125.4h0.8M73.9 119.5h0.8M69.1 136.0h0.8M74.0 108.2h0.8M72.1 129.3h0.8M76.2 130.6h0.8M70.2 134.7h0.8M73.5 136.9h0.8M69.0 117.3h0.8M69.8 112.2h0.8M71.5 126.3h0.8M71.7 115.3h0.8M72.8 139.4h0.8M69.0 139.1h0.8M70.8 140.6h0.8M70.7 109.3h0.8M71.2 121.6h0.8M72.9 135.4h0.8M74.4 141.9h0.8M68.4 140.7h0.8M72.0 121.7h0.8M71.0 132.3h0.8M71.7 141.8h0.8M72.6 127.3h0.8M72.4 126.9h0.8M67.9 131.2h0.8M73.3 113.1h0.8M71.7 116.3h0.8M69.9 136.1h0.8M72.7 141.8h0.8M71.4 142.2h0.8M66.9 136.2h0.8M71.9 120.1h0.8M74.4 129.4h0.8M71.4 140.2h0.8M69.7 121.5h0.8M73.2 116.8h0.8M70.1 118.0h0.8M73.2 111.1h0.8M73.7 117.4h0.8M71.5 107.6h0.8M68.6 138.4h0.8M73.1 115.5h0.8M72.2 100.2h0.8M70.4 131.6h0.8M73.2 118.5h0.8M71.5 139.7h0.8M67.2 133.8h0.8M72.3 128.3h0.8M70.2 115.9h0.8M70.0 135.8h0.8M74.3 116.9h0.8M70.4 129.4h0.8M71.1 135.7h0.8M69.6 114.8h0.8M70.2 118.3h0.8M71.6 136.9h0.8M71.8 114.4h0.8M73.7 114.5h0.8M73.4 129.7h0.8M69.4 117.8h0.8M70.9 129.2h0.8M71.2 136.8h0.8M70.7 128.7h0.8M70.6 133.4h0.8M73.6 126.0h0.8M72.1 122.6h0.8M72.5 126.7h0.8M72.2 121.7h0.8M70.7 124.9h0.8M68.7 140.2h0.8M70.5 135.3h0.8M70.9 122.5h0.8M72.3 124.0h0.8M70.0 121.4h0.8M70.6 130.4h0.8M70.3 127.5h0.8M70.0 141.5h0.8M74.1 119.2h0.8M73.6 120.8h0.8M74.2 130.5h0.8M74.0 123.9h0.8M69.1 130.9h0.8M74.1 106.0h0.8M70.7 120.7h0.8M72.5 112.2h0.8M70.5 118.0h0.8M70.8 127.8h0.8M68.4 137.6h0.8M66.6 141.0h0.8M70.3 134.6h0.8M70.8 127.8h0.8M71.8 138.9h0.8M71.2 133.0h0.8M72.6 141.5h0.8M72.1 130.6h0.8M71.3 102.6h0.8M70.5 144.5h0.8M70.9 143.9h0.8M74.3 122.9h0.8M70.1 115.3h0.8M70.5 121.9h0.8M72.5 140.8h0.8M71.1 112.6h0.8M71.8 138.3h0.8M73.2 119.4h0.8M70.8 130.7h0.8M68.7 138.2h0.8M72.7 134.2h0.8M66.8 115.3h0.8M73.0 138.6h0.8M70.4 137.4h0.8M70.2 114.3h0.8M71.2 129.7h0.8M68.8 117.3h0.8M68.2 136.1h0.8M67.4 115.3h0.8M70.6 130.6h0.8M69.9 123.7h0.8M66.9 143.1h0.8M72.3 133.7h0.8M70.1 116.9h0.8M73.1 120.3h0.8M71.9 131.7h0.8M71.9 134.5h0.8M72.7 137.1h0.8M70.4 131.5h0.8M72.4 131.0h0.8M72.2 119.2h0.8M70.8 125.9h0.8M74.7 141.4h0.8M74.1 107.4h0.8M72.9 116.2h0.8M71.4 99.2h0.8M70.9 117.2h0.8M72.0 130.6h0.8M71.7 123.6h0.8M73.7 111.3h0.8M72.0 128.0h0.8M71.7 117.2h0.8M71.6 138.9h0.8M71.3 119.4h0.8M74.1 137.2h0.8M71.5 131.7h0.8M71.2 123.5h0.8M73.9 142.8h0.8M70.3 136.5h0.8M68.7 127.1h0.8M73.2 142.6h0.8M73.5 115.6h0.8M73.1 139.1h0.8M70.1 103.5h0.8M71.2 137.9h0.8M68.4 126.4h0.8M71.2 115.1h0.8M71.8 103.6h0.8M70.6 118.3h0.8M72.7 132.5h0.8M72.7 121.9h0.8M71.3 113.9h0.8M73.4 134.8h0.8M71.2 125.4h0.8M72.0 125.3h0.8M74.1 110.9h0.8M75.1 133.1h0.8M68.5 136.0h0.8M70.7 127.4h0.8M69.1 109.5h0.8M71.6 133.3h0.8M71.6 118.0h0.8M71.9 127.9h0.8M68.7 124.1h0.8M71.8 128.1h0.8M69.7 143.7h0.8M69.2 113.7h0.8M71.2 135.8h0.8M70.8 130.6h0.8M72.4 143.4h0.8M70.0 101.0h0.8M73.4 123.0h0.8M70.2 127.1h0.8M69.4 119.3h0.8M68.9 130.1h0.8M70.9 124.0h0.8M74.9 133.7h0.8M71.4 112.4h0.8M69.4 112.4h0.8M69.1 111.9h0.8M71.1 124.6h0.8M68.7 110.6h0.8M76.5 125.0h0.8M70.9 129.5h0.8M69.9 143.2h0.8M72.2 125.3h0.8M69.3 128.9h0.8M69.8 136.4h0.8M70.1 130.4h0.8M70.1 132.1h0.8M71.4 119.6h0.8M71.0 121.7h0.8M70.6 112.1h0.8M73.7 113.3h0.8M67.0 134.3h0.8M73.2 96.1h0.8M69.2 128.9h0.8M73.6 132.2h0.8M71.8 107.0h0.8M68.3 106.1h0.8M69.0 115.5h0.8M70.8 122.4h0.8M68.6 118.1h0.8M69.9 126.8h0.8M74.3 113.7h0.8M70.3 136.5h0.8M71.8 139.9h0.8M70.7 138.0h0.8M71.5 105.3h0.8M71.6 129.9h0.8M73.4 107.6h0.8M74.6 138.7h0.8M72.9 140.0h0.8M67.2 133.6h0.8M69.8 142.2h0.8M74.1 114.6h0.8M72.5 126.0h0.8M72.2 131.1h0.8M73.0 116.7h0.8M70.2 119.4h0.8M69.6 128.8h0.8M69.9 128.8h0.8M71.5 116.8h0.8M72.1 127.4h0.8M73.5 116.1h0.8M72.5 125.5h0.8M70.9 135.0h0.8M73.1 134.6h0.8M69.9 140.7h0.8M72.2 137.1h0.8M71.1 113.3h0.8M71.3 131.7h0.8M70.5 114.1h0.8M71.8 125.2h0.8M69.3 124.0h0.8M70.5 114.5h0.8M71.9 125.4h0.8M72.9 141.2h0.8M69.5 132.6h0.8M73.4 105.8h0.8M73.3 127.6h0.8M72.8 114.0h0.8M72.8 126.8h0.8M73.3 135.7h0.8M71.1 140.0h0.8M68.3 139.5h0.8M69.6 123.3h0.8M73.3 129.1h0.8M70.8 136.7h0.8M74.1 118.7h0.8M73.3 117.1h0.8M70.6 113.9h0.8M73.9 142.4h0.8M66.8 120.2h0.8M73.3 139.9h0.8M72.5 118.1h0.8M71.0 126.5h0.8M70.0 135.7h0.8M69.8 107.7h0.8M69.6 120.2h0.8M71.8 105.6h0.8M70.9 125.4h0.8M69.8 138.5h0.8M70.0 114.0h0.8M72.9 126.5h0.8M71.5 128.7h0.8M70.5 140.1h0.8M73.7 136.2h0.8M72.4 125.8h0.8M70.3 129.3h0.8M73.1 114.4h0.8M70.2 115.1h0.8M71.2 137.9h0.8M72.9 116.0h0.8M72.8 137.5h0.8M70.3 143.2h0.8M74.2 108.9h0.8M72.9 119.4h0.8M72.8 134.5h0.8M71.8 128.9h0.8M70.9 113.0h0.8M71.0 109.3h0.8M74.6 123.9h0.8M72.4 127.6h0.8M70.5 118.2h0.8M71.2 116.9h0.8M69.2 122.1h0.8M70.7 116.4h0.8M67.2 136.0h0.8M68.1 114.7h0.8M69.8 129.8h0.8M75.5 129.9h0.8M71.2 133.2h0.8M72.3 129.7h0.8M70.4 122.2h0.8M75.3 142.9h0.8M72.7 134.6h0.8M70.4 131.9h0.8M70.6 133.7h0.8M71.4 133.6h0.8M69.4 132.8h0.8M70.9 116.9h0.8M72.3 136.9h0.8M68.5 116.7h0.8M73.8 123.2h0.8M73.8 139.4h0.8M71.7 112.4h0.8M72.7 133.2h0.8M71.9 138.3h0.8M70.4 119.8h0.8M73.1 126.1h0.8M71.9 136.6h0.8M70.8 139.3h0.8M68.8 116.7h0.8M70.4 126.9h0.8M73.5 133.1h0.8M72.7 119.2h0.8M70.6 137.1h0.8M74.0 117.3h0.8M71.0 124.3h0.8M71.3 107.1h0.8M71.2 131.6h0.8M68.6 133.3h0.8M72.1 135.0h0.8M73.2 129.8h0.8M71.1 131.0h0.8M76.1 123.2h0.8M69.0 128.5h0.8M71.9 118.7h0.8M70.9 138.0h0.8M72.6 127.4h0.8M71.7 129.3h0.8M72.4 114.7h0.8M70.0 140.6h0.8M72.2 127.5h0.8M72.8 100.8h0.8M71.1 141.7h0.8M68.1 125.0h0.8M68.2 94.3h0.8M69.3 117.3h0.8M71.3 122.9h0.8M68.6 125.9h0.8M71.1 136.6h0.8M71.4 96.2h0.8M69.2 124.7h0.8M72.6 115.4h0.8M69.1 126.5h0.8M71.9 134.4h0.8M74.9 128.0h0.8M68.4 112.8h0.8M71.1 93.3h0.8M73.8 116.5h0.8M71.4 133.0h0.8M69.6 145.6h0.8M71.0 97.7h0.8M68.4 123.1h0.8M70.6 133.2h0.8M71.5 120.0h0.8M70.1 138.4h0.8M70.9 112.3h0.8M67.7 143.5h0.8M73.7 133.7h0.8M70.3 128.0h0.8M71.5 123.1h0.8M70.9 114.0h0.8M71.0 140.2h0.8M72.0 118.5h0.8M72.2 142.9h0.8M70.7 128.5h0.8M69.7 132.9h0.8M73.6 139.6h0.8M68.1 139.2h0.8M72.8 104.6h0.8M69.1 119.9h0.8M70.5 119.1h0.8M72.2 115.8h0.8M71.5 139.6h0.8M70.7 125.8h0.8M72.5 111.3h0.8M71.7 107.1h0.8M70.2 131.0h0.8M70.5 117.0h0.8M69.0 136.0h0.8M71.3 130.4h0.8M75.3 135.0h0.8M72.1 103.0h0.8M72.5 126.9h0.8M70.6 118.3h0.8M68.1 137.5h0.8M70.5 118.6h0.8M71.9 103.1h0.8M69.7 126.7h0.8M69.1 130.2h0.8M71.2 139.1h0.8M72.6 128.3h0.8M69.8 138.4h0.8M74.8 110.3h0.8M70.3 121.9h0.8M71.0 140.5h0.8M69.0 122.7h0.8M73.0 120.0h0.8M67.8 143.3h0.8M70.9 136.8h0.8M71.8 131.6h0.8M72.5 142.8h0.8M72.5 123.8h0.8M69.3 132.4h0.8M72.4 108.4h0.8M70.6 116.1h0.8M67.2 134.9h0.8M75.3 130.3h0.8M72.1 125.4h0.8M72.6 127.5h0.8M73.3 123.0h0.8M71.2 116.2h0.8M70.1 137.3h0.8M72.3 116.6h0.8M73.2 119.8h0.8M73.9 108.6h0.8M69.0 130.2h0.8M73.3 135.5h0.8M68.2 139.6h0.8M72.5 121.5h0.8M70.2 130.1h0.8M72.7 128.5h0.8M73.0 132.5h0.8M72.4 120.1h0.8M73.1 132.1h0.8M72.9 113.1h0.8M71.7 106.1h0.8M74.2 128.6h0.8M71.3 128.7h0.8M70.3 113.9h0.8M71.9 139.5h0.8M70.0 106.3h0.8M71.4 132.0h0.8M71.4 113.7h0.8M74.8 117.4h0.8M75.1 117.6h0.8M68.8 122.0h0.8M69.7 137.2h0.8M73.1 135.1h0.8M72.1 114.5h0.8M75.0 127.2h0.8M73.4 111.1h0.8M71.2 118.5h0.8M76.8 116.9h0.8M68.6 132.1h0.8M72.5 126.5h0.8M73.9 140.0h0.8M72.9 142.0h0.8M70.1 119.6h0.8M69.1 126.7h0.8M73.1 140.0h0.8M71.0 129.5h0.8M71.3 120.4h0.8M72.2 125.3h0.8M71.2 129.0h0.8M74.5 139.2h0.8M74.2 128.5h0.8M68.5 119.7h0.8M72.5 113.7h0.8M71.3 131.2h0.8M68.6 138.3h0.8M71.9 120.0h0.8M71.7 138.2h0.8M69.9 121.6h0.8M72.1 120.3h0.8M74.2 143.5h0.8M69.9 132.8h0.8M69.2 119.9h0.8M70.1 123.0h0.8M72.2 132.4h0.8M74.5 145.5h0.8M70.1 131.8h0.8M69.7 144.4h0.8M69.8 117.4h0.8M70.2 129.9h0.8M74.9 134.2h0.8M73.1 117.7h0.8M66.6 119.9h0.8M70.3 124.2h0.8M71.5 116.2h0.8M69.8 110.5h0.8M70.5 140.7h0.8M70.5 130.9h0.8M71.9 117.7h0.8M74.4 108.7h0.8M65.5 119.6h0.8M71.9 133.4h0.8M74.5 127.9h0.8M72.1 123.3h0.8M71.2 126.5h0.8M72.5 116.8h0.8M73.4 136.5h0.8M73.4 137.8h0.8M72.5 117.7h0.8M68.7 122.8h0.8M72.3 121.9h0.8M73.3 116.5h0.8M69.6 123.6h0.8M67.0 133.5h0.8M72.1 127.5h0.8M73.5 127.2h0.8M68.9 126.9h0.8M73.0 114.9h0.8M69.5 114.2h0.8M71.0 111.7h0.8M72.9 130.3h0.8M69.0 117.0h0.8M72.4 122.3h0.8M70.3 117.8h0.8M74.2 143.8h0.8M70.5 119.1h0.8M71.7 130.7h0.8M72.1 107.3h0.8M70.3 109.7h0.8M71.2 127.7h0.8M70.7 140.6h0.8M73.7 124.9h0.8M70.2 130.2h0.8M70.5 115.5h0.8M70.1 119.8h0.8M70.7 126.7h0.8M72.4 112.5h0.8M70.9 120.4h0.8M70.7 129.2h0.8M70.2 125.4h0.8M70.9 133.9h0.8M72.8 144.1h0.8M70.6 138.3h0.8M73.4 116.4h0.8M75.7 138.3h0.8M71.2 118.2h0.8M74.3 129.3h0.8M68.6 136.8h0.8M70.7 131.5h0.8M72.8 111.4h0.8M72.3 145.0h0.8M69.7 124.5h0.8M72.8 125.4h0.8M76.6 120.6h0.8M72.9 139.2h0.8M69.3 119.5h0.8M69.8 124.0h0.8M70.0 139.0h0.8M71.8 114.1h0.8M74.6 137.8h0.8M73.2 125.8h0.8M75.5 124.4h0.8M71.9 132.3h0.8M72.4 124.8h0.8M74.6 138.8h0.8M71.6 132.1h0.8M74.5 134.2h0.8M74.0 126.5h0.8M69.6 117.5h0.8M70.9 122.9h0.8M71.1 107.8h0.8M70.9 136.7h0.8M71.9 133.1h0.8M70.1 119.0h0.8M74.2 139.0h0.8M72.7 117.5h0.8M73.1 121.4h0.8M73.1 109.2h0.8M69.2 115.7h0.8M73.1 103.2h0.8M70.1 115.2h0.8M75.0 119.2h0.8M68.5 112.9h0.8M73.7 137.2h0.8M69.7 136.2h0.8M71.5 134.8h0.8M72.9 126.6h0.8M69.3 104.5h0.8M70.5 113.3h0.8M72.7 123.5h0.8M68.7 129.5h0.8M67.4 133.4h0.8M72.1 117.2h0.8M73.2 136.3h0.8M74.3 117.7h0.8M72.3 131.0h0.8M72.0 140.2h0.8M73.5 131.7h0.8M71.6 114.6h0.8M72.6 109.7h0.8M66.2 140.5h0.8M71.4 138.5h0.8M69.7 117.1h0.8M69.5 133.5h0.8M71.6 129.1h0.8M71.0 106.5h0.8M74.7 131.3h0.8M74.6 126.6h0.8M73.1 125.4h0.8M75.3 114.1h0.8M71.6 120.2h0.8M67.8 134.2h0.8M69.0 111.0h0.8M72.4 117.2h0.8M71.6 137.3h0.8M71.5 123.6h0.8M71.2 119.0h0.8M67.6 118.1h0.8M72.2 123.3h0.8M72.2 126.8h0.8M72.7 128.0h0.8M70.7 122.5h0.8M70.5 124.7h0.8M72.5 121.4h0.8M67.5 115.8h0.8M70.8 105.4h0.8M70.7 141.8h0.8M74.0 114.3h0.8M74.2 120.1h0.8M74.6 118.9h0.8M71.2 132.7h0.8M70.3 91.4h0.8M71.8 98.1h0.8M72.9 115.2h0.8M71.0 140.2h0.8M66.0 111.5h0.8M72.1 123.1h0.8M70.6 106.8h0.8M68.1 130.7h0.8M69.7 142.1h0.8M70.9 130.6h0.8M70.4 128.6h0.8M70.9 116.2h0.8M71.5 137.5h0.8M69.4 140.2h0.8M72.5 118.6h0.8M70.6 110.6h0.8M68.5 138.2h0.8M69.3 121.5h0.8M69.6 117.8h0.8M73.0 136.6h0.8M71.6 131.9h0.8M70.6 115.8h0.8M71.4 132.7h0.8M70.4 127.9h0.8M70.6 103.2h0.8M72.5 128.5h0.8M71.7 109.8h0.8M71.3 136.2h0.8M71.2 128.6h0.8M70.6 131.2h0.8M72.7 122.8h0.8M71.1 124.6h0.8M72.4 121.2h0.8M68.0 141.0h0.8M73.9 101.7h0.8M70.5 140.5h0.8M69.2 137.5h0.8M72.9 131.5h0.8M73.9 117.7h0.8M73.5 134.5h0.8M72.7 126.8h0.8M71.3 101.2h0.8M71.2 138.0h0.8M74.2 120.0h0.8M70.7 131.8h0.8M72.7 117.6h0.8M73.5 110.5h0.8M73.1 126.0h0.8M67.6 121.5h0.8M71.4 120.8h0.8M67.0 103.2h0.8M73.2 141.3h0.8M72.7 131.0h0.8M70.6 127.8h0.8M68.8 127.7h0.8M70.1 139.1h0.8M69.4 118.0h0.8M72.2 116.4h0.8M71.3 135.0h0.8M74.7 137.8h0.8M69.7 123.9h0.8M68.6 134.1h0.8M75.3 132.7h0.8M69.9 121.7h0.8M68.5 126.6h0.8M72.5 120.1h0.8M74.4 129.5h0.8M71.5 111.9h0.8M72.3 135.1h0.8M72.8 119.9h0.8M70.0 114.5h0.8M71.5 119.8h0.8M73.0 120.0h0.8M70.6 128.3h0.8M75.1 121.9h0.8M68.7 137.1h0.8M69.4 138.2h0.8M70.5 116.3h0.8M70.0 140.4h0.8M70.7 113.2h0.8M72.6 120.3h0.8M74.9 111.5h0.8M68.4 135.7h0.8M69.9 119.2h0.8M68.6 138.3h0.8M71.5 125.2h0.8M70.1 118.1h0.8M69.8 115.8h0.8M70.5 138.3h0.8M72.0 131.3h0.8M69.8 113.8h0.8M71.4 120.2h0.8M68.9 128.9h0.8M74.6 119.0h0.8M71.3 117.0h0.8M74.1 128.5h0.8M75.1 120.2h0.8M71.7 113.1h0.8M68.5 113.6h0.8M72.2 115.2h0.8M69.3 134.4h0.8M72.9 117.2h0.8M69.9 124.8h0.8M72.5 141.5h0.8M72.1 129.9h0.8M68.5 128.3h0.8M74.3 119.3h0.8M77.0 106.7h0.8M69.5 139.7h0.8M71.3 124.0h0.8M69.5 111.5h0.8M71.5 136.4h0.8M71.5 122.3h0.8M72.2 144.6h0.8M73.0 120.6h0.8M72.6 136.7h0.8M69.6 125.6h0.8M67.5 124.5h0.8M71.2 104.8h0.8M71.2 132.8h0.8M72.8 113.8h0.8M74.4 134.6h0.8M72.0 131.7h0.8M70.6 118.7h0.8M71.6 112.3h0.8M70.6 125.1h0.8M71.7 142.2h0.8M70.2 114.4h0.8M72.3 123.5h0.8M69.9 117.4h0.8M69.0 140.4h0.8M71.8 118.3h0.8M72.2 135.3h0.8M72.3 130.1h0.8M69.1 131.0h0.8M68.1 143.4h0.8M68.6 144.0h0.8M73.8 122.7h0.8M73.1 116.9h0.8M72.4 126.3h0.8M74.0 114.8h0.8M73.4 127.1h0.8M73.9 141.4h0.8M71.5 126.7h0.8M75.0 121.3h0.8M74.4 136.3h0.8M69.6 131.3h0.8M73.0 131.9h0.8M74.5 135.6h0.8M76.1 115.2h0.8M70.6 121.1h0.8M72.2 123.8h0.8M72.2 132.3h0.8M69.7 115.9h0.8M71.1 110.8h0.8M71.7 133.4h0.8M68.8 117.4h0.8M72.0 117.5h0.8M70.4 120.0h0.8M69.8 130.4h0.8M69.8 116.5h0.8M73.0 111.7h0.8M73.4 116.2h0.8M70.7 123.8h0.8M71.0 138.9h0.8M67.1 136.7h0.8M71.3 100.9h0.8M74.6 120.5h0.8M72.4 123.1h0.8M73.5 118.0h0.8M71.7 115.4h0.8M70.1 116.2h0.8M71.3 144.3h0.8M73.8 131.2h0.8M73.0 119.9h0.8M69.7 118.0h0.8M69.9 114.9h0.8M72.8 127.0h0.8M72.2 134.8h0.8M74.6 125.9h0.8M69.7 133.3h0.8M67.7 125.4h0.8M71.5 135.1h0.8M68.6 111.3h0.8M70.5 135.0h0.8M70.7 119.9h0.8M71.5 136.2h0.8M75.7 101.4h0.8M72.9 118.2h0.8M70.9 125.7h0.8M70.1 120.2h0.8M73.9 131.4h0.8M71.3 118.4h0.8M69.1 139.6h0.8M72.2 113.6h0.8M69.5 111.0h0.8M72.6 128.5h0.8M74.9 121.8h0.8M69.4 133.8h0.8M72.1 121.7h0.8M70.7 140.1h0.8M70.8 128.7h0.8M73.6 135.4h0.8M67.3 132.5h0.8M70.0 120.8h0.8M74.1 144.9h0.8M70.3 109.3h0.8M69.2 135.6h0.8M70.7 114.5h0.8M71.8 141.1h0.8M72.2 112.7h0.8M73.1 121.6h0.8M74.2 126.3h0.8M73.0 131.2h0.8M72.5 129.7h0.8M72.6 116.7h0.8M69.4 124.3h0.8M72.7 130.7h0.8M74.2 130.2h0.8M70.6 125.4h0.8M72.7 123.2h0.8M73.3 123.5h0.8M71.7 101.8h0.8M71.8 118.7h0.8M69.5 118.3h0.8M70.3 117.9h0.8M72.5 135.8h0.8M74.8 131.4h0.8M69.6 127.8h0.8M74.2 126.0h0.8M71.1 142.0h0.8M69.8 138.9h0.8M67.2 129.2h0.8M70.9 119.0h0.8M72.3 113.3h0.8M68.9 131.3h0.8M71.3 119.4h0.8M71.6 141.1h0.8M72.5 109.9h0.8M72.1 125.3h0.8M71.6 112.5h0.8M73.1 118.3h0.8M72.4 120.1h0.8M71.0 131.6h0.8M70.8 117.1h0.8M71.1 98.0h0.8M67.1 119.6h0.8M71.6 135.3h0.8M69.8 123.8h0.8M73.0 124.3h0.8M71.7 115.0h0.8M72.2 130.1h0.8M70.0 111.6h0.8M72.3 129.3h0.8M71.4 133.4h0.8M68.1 140.8h0.8M67.9 116.9h0.8M68.1 109.3h0.8M71.9 132.3h0.8M72.1 123.2h0.8M71.5 113.6h0.8M72.9 144.1h0.8M72.9 138.7h0.8M68.8 129.8h0.8M69.8 118.4h0.8M70.9 112.5h0.8M72.5 121.3h0.8M72.6 122.7h0.8M70.0 131.8h0.8M74.2 130.9h0.8M72.3 142.4h0.8M71.9 113.6h0.8M71.4 130.0h0.8M72.1 132.1h0.8M67.8 116.8h0.8M69.9 139.5h0.8M70.0 123.0h0.8M72.6 130.2h0.8M72.5 121.1h0.8M70.7 137.3h0.8M78.9 105.7h0.8M66.1 124.7h0.8M69.9 141.9h0.8M75.2 122.8h0.8M72.9 134.3h0.8M68.2 135.7h0.8M73.0 124.8h0.8M72.3 119.0h0.8M73.9 132.5h0.8M73.8 144.2h0.8M71.4 118.0h0.8M70.2 112.7h0.8M70.6 117.2h0.8M70.8 137.1h0.8M69.0 131.8h0.8M71.5 131.6h0.8M71.1 129.6h0.8M70.0 127.0h0.8M66.3 137.2h0.8M72.3 134.3h0.8M69.6 119.9h0.8M69.8 103.5h0.8M73.2 137.1h0.8M69.6 126.1h0.8M73.3 106.3h0.8M71.0 113.5h0.8M67.6 130.2h0.8M70.9 117.8h0.8M70.0 140.6h0.8M71.6 106.0h0.8M70.8 121.3h0.8M72.0 131.6h0.8M72.7 119.7h0.8M71.6 143.5h0.8M73.6 120.5h0.8M69.4 131.9h0.8M71.2 127.1h0.8M72.0 121.5h0.8M72.0 140.0h0.8M74.7 124.5h0.8M70.8 115.2h0.8M72.8 138.3h0.8M71.1 117.3h0.8M71.5 125.0h0.8M68.9 113.1h0.8M71.4 134.2h0.8M70.2 110.7h0.8M75.8 130.3h0.8M70.2 143.1h0.8M72.6 136.5h0.8M74.3 115.3h0.8M73.1 128.8h0.8M69.9 132.8h0.8M70.3 138.5h0.8M74.2 123.1h0.8M69.0 122.2h0.8M71.5 108.8h0.8M73.8 132.2h0.8M68.1 114.5h0.8M69.8 138.3h0.8M69.5 119.6h0.8M70.3 111.8h0.8M72.5 130.4h0.8M69.4 119.0h0.8M70.0 137.0h0.8M73.5 116.9h0.8M73.3 131.3h0.8M70.6 127.1h0.8M69.5 117.9h0.8M68.9 141.5h0.8M71.9 116.0h0.8M71.4 128.6h0.8M72.7 116.8h0.8M71.8 103.3h0.8M72.0 119.3h0.8M68.4 120.6h0.8M72.6 135.0h0.8M67.7 115.3h0.8M74.3 133.1h0.8M68.6 117.3h0.8M70.6 121.9h0.8M69.1 121.5h0.8M73.8 114.1h0.8M71.1 133.3h0.8M72.6 126.8h0.8M72.5 132.2h0.8M69.3 120.6h0.8M69.8 131.7h0.8M69.0 117.5h0.8M69.7 137.6h0.8M72.6 115.2h0.8M72.2 119.5h0.8M72.5 94.0h0.8M69.6 119.3h0.8M69.4 138.4h0.8M73.5 127.3h0.8M71.9 118.6h0.8M71.7 143.6h0.8M71.0 138.4h0.8M72.4 130.0h0.8M73.6 105.2h0.8M70.7 129.9h0.8M70.2 127.6h0.8M68.5 114.6h0.8M70.7 133.7h0.8M69.2 114.8h0.8M68.2 124.3h0.8M71.7 119.9h0.8M71.7 122.5h0.8M71.4 119.2h0.8M68.2 129.1h0.8M69.6 112.4h0.8M70.3 120.3h0.8M75.1 125.8h0.8M72.3 138.8h0.8M73.2 128.2h0.8M71.2 103.3h0.8M69.2 136.2h0.8M75.2 114.0h0.8M71.9 124.7h0.8M72.0 124.0h0.8M73.0 123.8h0.8M71.0 140.9h0.8M71.9 125.3h0.8M68.8 126.9h0.8M71.7 133.2h0.8M68.8 122.5h0.8M68.3 123.5h0.8M72.1 132.8h0.8M69.3 141.2h0.8M70.3 119.6h0.8M71.2 116.1h0.8M71.0 123.5h0.8M73.9 118.8h0.8M71.1 116.8h0.8M72.4 118.2h0.8M72.8 128.0h0.8M68.2 120.0h0.8M68.4 131.2h0.8M72.0 116.0h0.8M70.2 134.7h0.8M69.1 118.3h0.8M72.8 140.7h0.8M72.0 139.1h0.8M70.4 129.1h0.8M72.4 133.9h0.8M65.9 128.0h0.8M71.1 128.1h0.8M73.2 135.2h0.8M72.6 124.1h0.8M71.3 135.6h0.8M73.6 144.7h0.8M72.4 128.7h0.8M70.6 124.5h0.8M71.7 125.8h0.8M72.7 110.3h0.8M72.2 128.8h0.8M70.2 133.1h0.8M65.3 116.9h0.8M75.3 138.1h0.8M70.6 111.1h0.8M67.0 136.0h0.8M69.2 137.6h0.8M71.8 124.7h0.8M67.5 121.0h0.8M72.1 138.2h0.8M70.9 111.7h0.8M73.9 131.3h0.8M69.6 142.6h0.8M71.4 112.2h0.8M74.1 132.6h0.8M72.7 108.0h0.8M70.4 120.1h0.8M70.9 110.6h0.8M71.5 135.9h0.8M67.7 140.3h0.8M72.2 114.3h0.8M72.2 135.6h0.8M69.9 119.8h0.8M69.9 136.9h0.8M71.5 117.9h0.8M73.6 119.6h0.8M70.0 125.0h0.8M70.6 138.2h0.8M70.3 136.7h0.8M71.2 122.5h0.8M72.4 101.1h0.8M69.3 133.1h0.8M67.1 108.8h0.8M70.8 122.9h0.8M74.0 102.3h0.8M69.6 123.7h0.8M72.7 128.0h0.8M71.6 133.3h0.8M69.1 119.0h0.8M71.7 117.7h0.8M69.9 119.7h0.8M70.4 110.7h0.8M70.6 116.2h0.8M69.0 118.7h0.8M70.9 133.0h0.8M74.2 128.6h0.8M72.0 111.2h0.8M73.9 140.3h0.8M69.2 121.2h0.8M76.4 137.0h0.8M72.4 130.5h0.8M71.9 131.1h0.8M70.1 125.8h0.8M69.3 124.5h0.8M71.4 110.2h0.8M74.0 106.6h0.8M71.8 122.2h0.8M76.1 111.5h0.8M70.6 114.3h0.8M68.4 115.6h0.8M70.3 143.3h0.8M73.9 115.9h0.8M73.7 126.4h0.8M69.1 129.0h0.8M69.7 127.3h0.8M73.6 122.2h0.8M67.8 122.5h0.8M72.5 125.2h0.8M69.4 117.1h0.8M70.6 123.5h0.8M70.3 134.9h0.8M72.9 131.2h0.8M73.9 135.4h0.8M70.2 132.8h0.8M73.6 96.3h0.8M72.4 117.5h0.8M69.4 120.1h0.8M69.8 112.6h0.8M71.9 108.0h0.8M70.6 115.8h0.8M70.5 141.2h0.8M73.0 138.0h0.8M72.0 125.8h0.8M68.8 110.1h0.8M73.6 133.0h0.8M72.6 128.4h0.8M72.2 112.9h0.8M72.5 119.5h0.8M68.5 137.8h0.8M71.5 121.2h0.8M69.7 129.6h0.8M70.5 139.2h0.8M74.6 131.4h0.8M70.4 132.0h0.8M74.2 126.1h0.8M70.8 126.1h0.8M71.2 140.9h0.8M72.9 120.2h0.8M72.4 142.7h0.8M68.3 120.0h0.8M72.1 127.8h0.8M69.9 117.8h0.8M70.7 110.6h0.8M71.9 122.6h0.8M70.2 125.7h0.8M67.4 127.2h0.8M71.2 133.9h0.8M71.0 119.1h0.8M70.0 120.1h0.8M69.1 128.3h0.8M71.0 106.1h0.8M71.3 122.5h0.8M70.5 121.6h0.8M73.3 130.1h0.8M70.9 123.3h0.8M71.5 127.7h0.8M68.5 138.7h0.8M70.7 130.6h0.8M75.7 128.9h0.8M67.6 145.6h0.8M72.9 118.6h0.8M71.7 138.2h0.8M71.1 132.3h0.8M71.1 115.9h0.8M71.5 132.7h0.8M68.3 118.7h0.8M74.3 121.6h0.8M72.0 122.7h0.8M73.9 120.6h0.8M72.3 127.5h0.8M72.7 116.6h0.8M72.7 109.5h0.8M71.8 135.0h0.8M74.4 135.9h0.8M72.0 116.9h0.8M71.9 123.1h0.8M70.1 122.3h0.8M70.9 126.4h0.8M73.7 100.6h0.8M70.4 117.6h0.8M72.9 128.0h0.8M71.4 115.8h0.8M68.4 118.2h0.8M72.8 118.9h0.8M71.4 137.7h0.8M71.2 116.1h0.8M73.4 137.7h0.8M72.0 129.7h0.8M69.3 115.0h0.8M71.9 138.8h0.8M70.0 129.6h0.8M69.7 130.7h0.8M74.5 135.9h0.8M67.1 109.6h0.8M70.4 116.6h0.8M70.3 145.5h0.8M72.9 130.9h0.8M73.6 103.6h0.8M69.9 137.9h0.8M66.2 117.9h0.8M75.0 125.6h0.8M69.7 137.5h0.8M70.8 129.2h0.8M70.7 108.8h0.8M70.6 108.9h0.8M71.6 109.5h0.8M69.5 131.5h0.8M72.4 134.4h0.8M72.9 126.8h0.8M69.9 131.6h0.8M69.7 132.3h0.8M73.5 109.5h0.8M74.1 118.6h0.8M72.5 130.9h0.8M73.0 129.6h0.8M67.4 114.4h0.8M71.9 130.3h0.8M71.7 122.4h0.8M71.2 132.6h0.8M73.1 130.7h0.8M73.4 118.1h0.8M71.4 131.2h0.8M70.9 144.3h0.8M74.3 99.0h0.8M70.5 112.8h0.8M70.2 120.4h0.8M73.2 145.1h0.8M71.1 142.3h0.8M74.8 121.1h0.8M74.6 138.2h0.8M73.3 127.1h0.8M71.9 120.2h0.8M71.7 126.0h0.8M70.7 125.1h0.8M75.7 131.3h0.8M72.0 127.9h0.8M72.3 142.5h0.8M72.0 124.7h0.8M71.5 127.1h0.8M68.9 117.1h0.8M72.4 138.2h0.8M73.4 132.4h0.8M69.3 118.8h0.8M67.5 119.2h0.8M70.4 124.3h0.8M71.1 140.7h0.8M72.5 113.6h0.8M70.1 143.0h0.8M72.2 144.0h0.8M69.7 113.8h0.8M67.7 115.9h0.8M73.6 136.3h0.8M71.4 115.9h0.8M70.4 113.8h0.8M69.9 118.5h0.8M72.6 101.2h0.8M68.8 137.5h0.8M71.8 115.5h0.8M73.7 124.8h0.8M70.6 119.1h0.8M72.8 124.7h0.8M74.3 135.5h0.8M75.9 117.4h0.8M73.4 117.0h0.8M69.6 113.7h0.8M68.7 137.0h0.8M71.0 132.8h0.8M75.2 114.8h0.8M71.1 124.3h0.8M73.3 116.8h0.8M72.5 124.5h0.8M75.6 85.3h0.8M71.5 137.0h0.8M71.1 118.9h0.8M70.2 142.9h0.8M72.1 123.6h0.8M72.4 124.3h0.8M71.8 130.6h0.8M72.8 133.8h0.8M72.0 130.9h0.8M70.7 129.4h0.8M71.4 124.2h0.8M70.9 143.3h0.8M72.1 116.7h0.8M71.7 111.4h0.8M75.1 128.7h0.8M71.9 123.7h0.8M69.7 127.2h0.8M71.0 117.7h0.8M68.4 124.0h0.8M71.1 133.6h0.8M72.2 141.3h0.8M70.5 126.0h0.8M74.0 128.1h0.8M71.8 108.9h0.8M70.1 116.9h0.8M73.1 116.5h0.8M72.8 119.8h0.8M71.2 125.4h0.8M72.3 120.7h0.8M69.8 145.7h0.8M73.6 136.0h0.8M68.4 118.6h0.8M70.9 138.5h0.8M69.2 138.3h0.8M71.3 135.8h0.8M68.1 116.4h0.8M71.9 111.6h0.8M71.4 116.4h0.8M68.9 110.2h0.8M72.1 129.3h0.8M68.1 125.0h0.8M70.4 133.1h0.8M71.5 119.5h0.8M70.7 100.2h0.8M72.6 144.5h0.8M68.8 123.1h0.8M68.2 141.0h0.8M74.1 132.0h0.8M68.7 110.3h0.8M74.6 102.7h0.8M72.5 125.6h0.8M73.1 141.2h0.8M71.1 126.4h0.8M69.6 124.6h0.8M71.3 123.7h0.8M71.5 134.1h0.8M70.3 145.7h0.8M69.1 125.9h0.8M72.5 141.1h0.8M70.1 126.9h0.8M72.8 128.5h0.8M72.1 114.9h0.8M74.3 106.2h0.8M73.2 139.1h0.8M67.0 133.7h0.8M72.2 109.3h0.8M71.6 115.5h0.8M76.1 118.9h0.8M71.0 118.8h0.8M70.9 136.8h0.8M70.8 127.3h0.8M71.2 110.1h0.8M70.1 118.7h0.8M74.9 122.6h0.8M72.1 116.0h0.8M72.5 137.5h0.8M73.9 133.8h0.8M68.8 129.9h0.8M74.5 125.0h0.8M70.8 142.5h0.8M72.2 111.3h0.8M70.4 131.4h0.8M70.2 123.2h0.8M70.5 127.6h0.8M72.3 113.1h0.8M72.3 136.7h0.8M71.8 133.4h0.8M73.6 144.0h0.8M70.7 125.9h0.8M68.8 141.4h0.8M69.6 130.3h0.8M70.7 112.5h0.8M73.5 139.7h0.8M72.9 113.2h0.8M73.1 141.7h0.8M72.6 132.3h0.8M70.0 118.4h0.8M70.4 117.9h0.8M67.5 120.7h0.8M71.7 119.6h0.8M70.0 136.8h0.8M71.8 126.6h0.8M72.0 113.5h0.8M70.2 111.0h0.8M75.3 126.1h0.8M70.8 121.6h0.8M69.6 112.4h0.8M73.8 127.6h0.8M70.0 127.1h0.8M74.9 126.2h0.8M73.0 126.5h0.8M68.9 121.3h0.8M71.0 118.2h0.8M73.4 123.8h0.8M72.6 136.9h0.8M73.2 138.0h0.8M72.8 119.8h0.8M72.5 119.7h0.8M70.8 118.6h0.8M70.9 106.9h0.8M72.1 141.6h0.8M72.9 129.1h0.8M72.9 134.1h0.8M69.9 118.2h0.8M70.5 116.1h0.8M76.0 119.9h0.8M72.8 133.0h0.8M70.9 124.4h0.8M69.1 122.5h0.8M71.7 124.6h0.8M72.3 120.8h0.8M70.8 137.9h0.8M69.3 136.3h0.8M74.2 137.4h0.8M70.9 121.1h0.8M72.1 129.8h0.8M72.2 127.8h0.8M70.5 119.3h0.8M72.8 127.4h0.8M70.1 130.8h0.8M70.1 125.8h0.8M75.0 132.4h0.8M71.7 134.7h0.8M72.1 141.0h0.8M69.9 113.9h0.8M72.9 119.3h0.8M72.3 108.8h0.8M71.6 127.6h0.8M72.8 137.0h0.8M72.2 118.8h0.8M69.2 119.0h0.8M71.2 126.9h0.8M70.2 122.6h0.8M69.5 144.0h0.8M72.5 113.2h0.8M67.1 106.0h0.8M72.1 132.1h0.8M70.9 137.8h0.8M74.0 111.8h0.8M73.0 115.2h0.8M72.8 125.7h0.8M72.3 105.9h0.8M68.0 120.6h0.8M70.4 129.8h0.8M69.3 142.0h0.8M71.6 110.2h0.8M72.0 119.5h0.8M70.7 121.1h0.8M70.1 115.8h0.8M71.6 126.5h0.8M70.7 113.0h0.8M70.4 132.2h0.8M75.7 124.2h0.8M70.5 126.7h0.8M70.1 117.1h0.8M71.4 125.9h0.8M71.3 140.8h0.8M73.1 116.5h0.8M75.1 111.4h0.8M69.1 115.1h0.8M74.9 123.5h0.8M72.2 113.7h0.8M70.4 125.3h0.8M69.8 121.1h0.8M74.1 108.9h0.8M68.6 122.6h0.8M69.9 127.7h0.8M74.0 116.0h0.8M69.9 139.7h0.8M73.8 120.3h0.8M71.6 120.9h0.8M70.7 114.5h0.8M72.8 128.2h0.8M67.7 128.3h0.8M69.2 117.0h0.8M72.5 121.3h0.8M70.2 124.0h0.8M67.6 114.7h0.8M75.8 122.7h0.8M71.2 113.5h0.8M72.8 117.5h0.8M72.3 138.6h0.8M71.4 112.8h0.8M70.1 107.9h0.8M71.2 114.6h0.8M67.4 132.6h0.8M69.6 134.1h0.8M73.2 108.5h0.8M70.9 119.6h0.8M70.5 134.8h0.8M71.5 132.3h0.8M72.2 131.7h0.8M72.9 133.6h0.8M71.1 138.5h0.8M70.1 129.7h0.8M69.2 134.0h0.8M70.4 122.4h0.8M68.4 117.2h0.8M71.7 128.8h0.8M70.3 121.6h0.8M72.3 131.3h0.8M70.9 133.2h0.8M70.1 144.2h0.8M69.9 136.4h0.8M72.3 116.2h0.8M69.6 122.6h0.8M71.3 114.4h0.8M74.2 121.4h0.8M73.8 134.5h0.8M71.5 129.7h0.8M71.9 124.4h0.8M72.4 129.7h0.8M72.4 118.1h0.8M70.7 114.0h0.8M69.9 125.4h0.8M68.3 140.1h0.8M73.8 121.1h0.8M73.7 117.4h0.8M74.4 137.1h0.8M71.3 131.6h0.8M73.1 139.5h0.8M73.4 142.7h0.8M72.7 139.5h0.8M74.2 124.0h0.8M71.9 130.0h0.8M70.1 131.7h0.8M74.9 135.4h0.8M69.1 118.0h0.8M72.8 135.9h0.8M70.7 137.2h0.8M73.4 123.8h0.8M69.9 120.1h0.8M71.0 119.6h0.8M70.0 126.7h0.8M73.4 128.6h0.8M70.2 114.2h0.8M68.8 114.1h0.8M69.5 139.5h0.8M71.1 110.1h0.8M71.2 142.0h0.8M69.2 136.7h0.8M74.6 127.5h0.8M67.7 123.9h0.8M70.8 119.5h0.8M70.0 121.0h0.8M70.3 128.3h0.8M71.0 113.4h0.8M68.7 139.1h0.8M69.5 129.3h0.8M70.3 143.5h0.8M69.3 141.9h0.8M72.2 117.9h0.8M69.4 119.9h0.8M73.9 125.0h0.8M68.8 113.5h0.8M74.6 120.0h0.8M70.7 115.1h0.8M75.5 130.9h0.8M71.8 106.9h0.8M71.6 135.9h0.8M72.6 120.4h0.8M64.8 143.0h0.8M69.1 126.7h0.8M69.9 130.8h0.8M68.6 137.6h0.8M72.7 124.1h0.8M76.8 125.8h0.8M66.2 138.3h0.8M69.5 142.5h0.8M71.7 117.9h0.8M70.0 113.0h0.8M72.8 132.0h0.8M70.8 140.1h0.8M72.7 128.1h0.8M74.5 118.1h0.8M71.6 122.0h0.8M72.7 106.0h0.8M70.7 114.6h0.8M69.3 144.7h0.8M72.3 131.0h0.8M71.4 116.1h0.8M70.7 140.8h0.8M70.2 135.5h0.8M69.9 115.9h0.8M72.1 127.4h0.8M71.2 125.3h0.8M68.5 130.4h0.8M70.9 134.6h0.8M73.7 115.6h0.8M73.3 123.0h0.8M71.0 133.5h0.8M71.9 122.2h0.8M70.6 134.2h0.8M75.4 140.2h0.8M72.6 143.5h0.8M70.8 126.4h0.8M73.4 131.8h0.8M70.5 125.5h0.8M70.6 112.4h0.8M68.5 129.1h0.8M69.7 135.1h0.8M70.0 141.4h0.8M70.1 121.0h0.8M69.5 97.8h0.8M71.4 131.7h0.8M69.8 121.9h0.8M74.5 124.5h0.8M70.5 127.0h0.8M68.9 137.0h0.8M72.5 142.4h0.8M71.3 121.6h0.8M71.3 142.5h0.8M70.6 121.9h0.8M74.2 137.0h0.8M70.0 122.7h0.8M73.3 123.7h0.8M71.5 120.1h0.8M73.0 134.0h0.8M71.5 114.6h0.8M75.3 125.3h0.8M70.5 124.0h0.8M72.0 133.0h0.8M70.9 118.5h0.8M71.6 122.6h0.8M69.6 119.0h0.8M70.4 126.7h0.8M69.3 127.4h0.8M69.7 120.5h0.8M72.2 140.4h0.8M72.2 137.7h0.8M72.0 122.8h0.8M71.3 126.4h0.8M69.7 134.5h0.8M71.9 126.5h0.8M69.6 127.1h0.8M68.8 136.6h0.8M73.5 139.8h0.8M71.9 134.9h0.8M71.3 135.4h0.8M74.8 117.8h0.8M71.1 112.8h0.8M74.2 139.9h0.8M69.6 139.7h0.8M68.7 129.6h0.8M69.1 136.7h0.8M72.9 123.7h0.8M72.6 122.3h0.8M71.1 135.3h0.8M68.4 136.6h0.8M69.9 117.6h0.8M72.7 134.0h0.8M72.1 139.0h0.8M69.6 115.2h0.8M71.6 104.8h0.8M76.0 137.0h0.8M71.0 108.2h0.8M68.6 114.3h0.8M71.2 136.2h0.8M72.3 138.0h0.8M74.4 118.8h0.8M71.7 124.9h0.8M69.1 137.6h0.8M71.0 129.5h0.8M73.6 122.2h0.8M70.2 121.7h0.8M73.6 123.9h0.8M68.9 133.4h0.8M71.4 104.2h0.8M71.3 133.1h0.8M69.4 125.2h0.8M71.7 140.2h0.8M73.1 125.0h0.8M70.8 117.5h0.8M70.4 129.0h0.8M72.3 138.7h0.8M73.3 137.1h0.8M73.6 142.5h0.8M70.9 109.3h0.8M70.5 131.2h0.8M73.3 118.3h0.8M73.1 136.1h0.8M75.1 137.0h0.8M71.6 132.8h0.8M72.2 118.3h0.8M71.2 120.4h0.8M70.4 123.0h0.8M77.1 136.6h0.8M72.2 136.0h0.8M70.6 128.8h0.8M71.5 120.4h0.8M71.6 123.9h0.8M69.9 125.1h0.8M68.4 117.5h0.8M69.8 102.1h0.8M70.1 119.4h0.8M72.0 125.5h0.8M72.1 140.5h0.8M66.9 118.4h0.8M68.9 132.2h0.8M69.3 117.2h0.8M74.5 112.1h0.8M72.3 110.3h0.8M70.4 129.2h0.8M70.7 109.6h0.8M71.0 143.1h0.8M68.2 121.7h0.8M73.4 124.3h0.8M72.7 132.1h0.8M71.7 131.0h0.8M71.4 119.9h0.8M70.8 123.3h0.8M70.5 106.8h0.8M68.6 133.7h0.8M72.6 132.9h0.8M69.3 120.1h0.8M71.3 134.0h0.8M70.6 129.1h0.8M70.5 133.8h0.8M72.2 128.2h0.8M71.0 118.8h0.8M69.3 121.6h0.8M72.6 121.0h0.8M74.0 139.8h0.8M71.7 121.4h0.8M72.0 122.0h0.8M70.9 118.3h0.8M74.5 123.8h0.8M72.2 125.5h0.8M69.8 121.3h0.8M73.5 120.2h0.8M75.1 131.6h0.8M72.0 118.0h0.8M69.4 121.9h0.8M68.0 142.8h0.8M69.4 117.6h0.8M75.8 116.0h0.8M69.8 127.5h0.8M68.9 124.0h0.8M71.1 135.2h0.8M72.7 105.1h0.8M70.9 116.5h0.8M70.7 115.3h0.8M71.9 122.9h0.8M73.9 141.3h0.8M72.3 131.0h0.8M70.4 131.4h0.8M70.5 127.1h0.8M71.8 136.6h0.8M69.3 129.4h0.8M71.8 122.2h0.8M74.1 127.9h0.8M71.0 132.4h0.8M70.6 120.0h0.8M72.2 113.8h0.8M69.7 119.5h0.8M74.1 134.8h0.8M73.5 111.8h0.8M73.1 126.5h0.8M71.8 126.7h0.8M71.8 117.2h0.8M72.4 143.2h0.8M69.2 139.9h0.8M70.3 121.4h0.8M70.8 110.3h0.8M73.5 109.5h0.8M75.2 136.8h0.8M71.3 133.5h0.8M71.9 111.8h0.8M71.8 110.5h0.8M70.3 140.8h0.8M70.4 122.4h0.8M71.6 142.0h0.8M73.7 128.6h0.8M68.9 137.9h0.8M73.1 133.8h0.8M69.2 118.5h0.8M73.0 125.0h0.8M71.0 131.4h0.8M69.2 120.6h0.8M68.6 122.3h0.8M70.8 116.2h0.8M73.1 136.4h0.8M70.0 132.1h0.8M71.6 124.0h0.8M69.6 133.5h0.8M69.5 127.8h0.8M70.4 143.2h0.8M69.2 118.5h0.8M71.6 123.9h0.8M68.2 118.8h0.8M74.3 122.1h0.8M70.2 120.9h0.8M70.0 119.1h0.8M73.3 109.2h0.8M70.6 133.6h0.8M73.4 120.0h0.8M69.6 141.0h0.8M69.7 130.3h0.8M69.8 105.2h0.8M74.5 126.9h0.8M67.9 122.2h0.8M71.6 139.2h0.8M74.8 121.9h0.8M70.1 121.3h0.8M73.5 137.7h0.8M72.7 121.1h0.8M72.6 122.7h0.8M71.6 141.1h0.8M70.7 135.1h0.8M69.8 130.7h0.8M71.6 121.9h0.8M72.6 124.9h0.8M70.8 114.8h0.8M73.3 119.6h0.8M72.8 113.8h0.8M72.0 120.9h0.8M70.7 127.9h0.8M72.5 133.5h0.8M71.7 122.5h0.8M75.3 117.1h0.8M71.9 122.4h0.8M72.6 111.5h0.8M68.9 134.3h0.8M71.6 108.9h0.8M74.5 136.8h0.8M72.2 111.4h0.8M73.2 121.0h0.8M70.8 143.8h0.8M70.4 116.0h0.8M71.9 133.6h0.8M69.2 96.5h0.8M70.8 136.5h0.8M75.7 121.5h0.8M71.2 135.6h0.8M70.3 127.6h0.8M74.1 114.1h0.8M72.2 123.9h0.8M70.5 130.1h0.8M71.5 110.1h0.8M71.1 125.8h0.8M70.2 130.9h0.8M71.7 129.3h0.8M71.6 133.1h0.8M70.4 130.3h0.8M70.8 117.6h0.8M74.1 141.2h0.8M74.5 105.7h0.8M71.7 130.1h0.8M66.9 132.4h0.8M71.4 117.5h0.8M68.6 142.0h0.8M70.4 123.3h0.8M68.3 110.5h0.8M74.8 129.3h0.8M71.3 122.4h0.8M74.1 135.4h0.8M67.2 134.3h0.8M74.7 113.0h0.8M71.8 123.8h0.8M73.2 117.4h0.8M70.9 123.6h0.8M70.6 126.9h0.8M67.2 116.9h0.8M70.7 127.8h0.8M67.3 114.2h0.8M70.5 120.8h0.8M68.5 123.3h0.8M70.6 138.8h0.8M75.4 122.7h0.8M72.5 119.8h0.8M72.1 118.5h0.8M72.1 118.7h0.8M70.9 133.4h0.8M69.7 113.2h0.8M72.9 137.6h0.8M71.8 121.9h0.8M69.0 140.1h0.8M73.9 120.9h0.8M74.5 132.1h0.8M71.0 124.9h0.8M73.0 143.2h0.8M71.0 142.5h0.8M72.8 98.2h0.8M70.1 133.9h0.8M69.7 139.6h0.8M73.2 141.2h0.8M74.0 126.0h0.8M72.2 138.9h0.8M72.9 135.6h0.8M73.4 130.6h0.8M72.4 131.9h0.8M77.8 121.6h0.8M73.9 122.0h0.8M71.0 114.7h0.8M71.1 126.8h0.8M71.6 132.5h0.8M72.2 140.8h0.8M69.8 119.0h0.8M71.8 135.3h0.8M70.0 131.9h0.8M70.6 128.1h0.8M74.0 123.0h0.8M72.3 142.3h0.8M71.2 124.9h0.8M73.3 114.9h0.8M72.7 123.2h0.8M74.0 140.6h0.8M73.2 122.3h0.8M69.4 118.6h0.8M71.8 111.7h0.8M68.6 122.4h0.8M74.3 125.3h0.8M71.7 128.7h0.8M70.6 114.5h0.8M71.5 121.9h0.8M69.4 133.9h0.8M71.7 138.7h0.8M74.4 130.2h0.8M70.5 122.5h0.8M71.8 115.3h0.8M71.2 130.1h0.8M72.7 117.3h0.8M73.7 132.3h0.8M67.3 138.5h0.8M71.2 138.6h0.8M69.3 116.0h0.8M69.7 109.7h0.8M72.9 145.7h0.8M74.4 123.3h0.8M70.2 112.0h0.8M73.1 108.3h0.8M68.8 129.9h0.8M71.8 119.1h0.8M72.1 98.8h0.8M69.5 112.6h0.8M72.9 124.7h0.8M72.9 136.4h0.8M70.7 108.4h0.8M70.2 133.9h0.8M73.0 118.8h0.8M72.9 126.5h0.8M72.4 114.9h0.8M73.8 121.2h0.8M71.9 127.7h0.8M71.9 137.8h0.8M70.6 135.6h0.8M72.2 118.3h0.8M72.0 126.5h0.8M75.0 116.6h0.8M73.6 135.7h0.8M70.6 122.2h0.8M69.2 122.9h0.8M69.3 133.4h0.8M71.3 137.7h0.8M69.7 128.5h0.8M69.7 131.4h0.8M70.0 111.1h0.8M71.2 127.1h0.8M68.9 129.1h0.8M69.0 102.3h0.8M72.5 127.6h0.8M70.9 114.2h0.8M71.5 105.5h0.8M74.4 136.9h0.8M69.8 107.7h0.8M71.4 124.5h0.8M75.4 115.3h0.8M74.7 127.4h0.8M73.9 137.9h0.8M68.4 125.6h0.8M70.1 131.1h0.8M71.6 133.0h0.8M69.2 130.2h0.8M69.4 129.0h0.8M74.1 133.1h0.8M67.8 122.6h0.8M69.6 143.8h0.8M70.0 139.5h0.8M76.4 132.8h0.8M71.2 118.9h0.8M70.0 119.2h0.8M69.5 137.0h0.8M70.2 119.8h0.8M74.0 116.3h0.8M70.9 137.2h0.8M72.4 122.5h0.8M69.8 118.4h0.8M73.8 133.2h0.8M75.3 102.2h0.8M71.8 136.3h0.8M70.4 108.8h0.8M68.9 123.4h0.8M72.6 110.5h0.8M70.2 114.8h0.8M74.7 126.3h0.8M72.6 103.9h0.8M69.0 135.0h0.8M69.6 141.5h0.8M69.3 128.2h0.8M72.9 111.5h0.8M74.6 131.2h0.8M72.1 107.7h0.8M70.1 139.1h0.8M73.9 140.0h0.8M71.1 139.7h0.8M72.1 130.3h0.8M68.9 128.3h0.8M71.6 128.0h0.8M72.2 133.9h0.8M69.0 137.1h0.8M73.0 119.0h0.8M72.8 139.4h0.8M72.8 122.0h0.8M64.4 141.5h0.8M75.0 125.6h0.8M70.6 118.3h0.8M71.1 125.2h0.8M68.8 140.8h0.8M70.6 141.1h0.8M70.8 113.7h0.8M73.6 115.6h0.8M69.1 127.0h0.8M71.9 125.1h0.8M72.3 123.1h0.8M70.9 135.7h0.8M71.3 129.2h0.8M72.1 110.1h0.8M68.2 119.2h0.8M70.6 122.2h0.8M70.2 136.7h0.8M71.7 138.0h0.8M75.5 131.7h0.8M69.6 119.8h0.8M75.1 138.7h0.8M70.2 129.1h0.8M71.5 133.9h0.8M72.4 143.9h0.8M67.8 133.0h0.8M74.7 126.5h0.8M71.8 137.8h0.8M71.8 117.5h0.8M75.1 138.5h0.8M70.8 124.7h0.8M72.1 119.8h0.8M68.6 134.1h0.8M72.7 117.2h0.8M71.1 115.1h0.8M70.9 121.2h0.8M71.0 116.3h0.8M73.2 132.2h0.8M70.4 128.8h0.8M72.9 110.1h0.8M71.9 140.2h0.8M67.4 109.4h0.8M72.1 110.5h0.8M72.1 120.4h0.8M70.1 145.6h0.8M70.1 101.8h0.8M71.3 135.2h0.8M72.4 137.3h0.8M72.2 110.8h0.8M68.5 122.1h0.8M71.4 126.7h0.8M68.6 113.4h0.8M71.7 138.1h0.8M72.0 113.2h0.8M69.8 123.5h0.8M70.7 139.7h0.8M66.8 128.0h0.8M70.5 134.3h0.8M67.1 125.1h0.8M70.9 114.4h0.8M71.8 143.8h0.8M71.5 112.3h0.8M73.2 130.4h0.8M71.8 143.4h0.8M71.9 133.9h0.8M70.9 142.8h0.8M72.9 129.2h0.8M70.3 138.7h0.8M74.7 123.8h0.8M71.0 115.6h0.8M72.4 137.9h0.8M71.2 125.8h0.8M73.1 115.4h0.8M69.9 138.6h0.8M72.2 115.1h0.8M69.8 131.1h0.8M74.6 115.4h0.8M70.2 135.2h0.8M71.0 108.8h0.8M68.8 145.7h0.8M70.0 116.6h0.8M69.0 132.7h0.8M68.5 114.1h0.8M73.2 133.6h0.8M69.1 115.3h0.8M69.4 121.0h0.8M71.9 130.2h0.8M76.1 136.9h0.8M66.7 136.7h0.8M72.8 113.4h0.8M71.4 123.7h0.8M72.8 131.7h0.8M71.0 115.8h0.8M72.5 120.8h0.8M73.5 124.3h0.8M70.2 138.8h0.8M67.3 134.5h0.8M68.5 137.2h0.8M70.9 134.3h0.8M72.0 134.6h0.8M72.6 121.9h0.8M69.3 130.1h0.8M71.1 90.9h0.8M70.5 131.4h0.8M72.0 141.6h0.8M71.7 115.5h0.8M69.6 136.0h0.8M73.3 141.7h0.8M69.2 118.8h0.8M75.0 134.0h0.8M71.2 125.9h0.8M72.4 103.1h0.8M70.9 132.7h0.8M73.2 140.6h0.8M69.5 121.6h0.8M68.5 120.1h0.8M72.8 139.3h0.8M66.7 128.9h0.8M68.0 126.0h0.8M72.9 134.0h0.8M72.1 141.8h0.8M72.8 131.8h0.8M69.0 132.3h0.8M64.8 142.8h0.8M67.6 132.1h0.8M69.0 111.5h0.8M76.7 124.6h0.8M68.0 124.4h0.8M70.8 123.7h0.8M70.8 123.8h0.8M73.7 116.0h0.8M72.1 113.2h0.8M71.5 142.3h0.8M73.5 118.1h0.8M70.1 105.7h0.8M72.4 114.0h0.8M72.4 134.9h0.8M68.8 113.8h0.8M70.1 132.4h0.8M69.7 137.2h0.8M70.4 127.4h0.8M71.1 119.8h0.8M69.8 115.8h0.8M70.9 136.0h0.8M69.4 110.7h0.8M69.8 119.5h0.8M72.7 117.5h0.8M71.2 132.5h0.8M71.1 127.4h0.8M70.0 137.8h0.8M67.8 138.6h0.8M68.2 131.9h0.8M72.2 129.9h0.8M76.0 121.9h0.8M74.2 118.9h0.8M70.6 130.2h0.8M71.2 138.3h0.8M71.0 127.1h0.8M71.4 126.3h0.8M71.3 106.5h0.8M69.5 110.0h0.8M72.4 132.6h0.8M75.7 111.7h0.8M69.4 121.4h0.8M70.4 140.4h0.8M72.2 137.6h0.8M69.5 113.3h0.8M71.5 123.6h0.8M70.4 114.0h0.8M68.3 114.5h0.8M74.4 125.9h0.8M67.6 130.1h0.8M72.5 126.3h0.8M71.8 131.7h0.8M72.1 121.5h0.8M71.7 119.2h0.8M74.5 122.2h0.8M73.2 133.6h0.8M71.1 113.9h0.8M72.0 143.3h0.8M73.6 125.9h0.8M75.0 132.3h0.8M69.5 118.4h0.8M71.3 133.8h0.8M68.7 121.5h0.8M70.5 121.5h0.8M71.5 97.6h0.8M69.7 129.9h0.8M71.0 118.7h0.8M73.4 115.7h0.8M70.9 135.5h0.8M70.7 138.3h0.8M67.9 128.3h0.8M71.4 134.0h0.8M70.4 124.4h0.8M73.2 119.4h0.8M68.9 120.1h0.8M71.8 115.9h0.8M70.2 111.1h0.8M73.0 112.5h0.8M71.7 137.6h0.8M68.8 121.2h0.8M69.7 124.5h0.8M75.2 129.3h0.8M73.1 118.3h0.8M71.8 132.8h0.8M70.8 138.0h0.8M71.0 104.1h0.8M70.2 133.0h0.8M70.2 138.4h0.8M71.2 139.0h0.8M72.0 127.4h0.8M68.0 122.2h0.8M68.1 122.1h0.8M71.4 115.3h0.8M70.5 114.7h0.8M70.0 108.3h0.8M73.4 112.2h0.8M72.3 118.0h0.8M70.2 127.0h0.8M69.2 136.4h0.8M71.8 120.1h0.8M72.4 131.1h0.8M66.5 135.4h0.8M72.2 124.8h0.8M74.7 119.2h0.8M72.1 134.9h0.8M73.1 125.0h0.8M69.7 130.4h0.8M71.9 134.8h0.8M72.4 131.6h0.8M74.5 131.8h0.8M70.6 132.7h0.8M71.0 129.9h0.8M74.7 102.0h0.8M70.0 133.1h0.8M71.9 139.4h0.8M71.3 135.4h0.8M69.2 113.6h0.8M72.4 115.9h0.8M71.0 116.3h0.8M70.9 114.9h0.8M74.4 122.9h0.8M66.6 124.5h0.8M71.8 139.8h0.8M71.1 131.9h0.8M71.9 121.4h0.8M70.9 107.0h0.8M70.1 116.3h0.8M71.4 137.3h0.8M72.3 137.0h0.8M72.7 143.1h0.8M70.4 114.9h0.8M72.3 125.7h0.8M71.0 133.7h0.8M70.1 127.7h0.8M72.7 124.6h0.8M72.1 129.7h0.8M72.8 143.4h0.8M71.0 138.4h0.8M68.5 128.2h0.8M73.2 131.1h0.8M71.3 125.7h0.8M69.7 106.0h0.8M69.1 137.7h0.8M72.6 131.2h0.8M71.9 121.0h0.8M73.2 120.8h0.8M71.6 135.4h0.8M70.0 117.0h0.8M70.4 116.4h0.8M72.2 136.8h0.8M69.4 126.7h0.8M71.0 135.2h0.8M70.4 134.6h0.8M70.5 131.0h0.8M77.3 120.1h0.8M67.5 125.8h0.8M71.9 127.5h0.8M69.3 136.1h0.8M75.4 106.6h0.8M70.8 136.3h0.8M71.0 110.1h0.8M72.2 119.8h0.8M72.6 142.8h0.8M71.1 135.8h0.8M73.8 114.9h0.8M71.4 136.8h0.8M73.4 114.0h0.8M70.7 121.4h0.8M69.6 113.8h0.8M70.4 134.7h0.8M69.7 126.7h0.8M68.3 125.6h0.8M69.9 115.1h0.8M69.1 138.9h0.8M72.5 128.8h0.8M74.3 112.6h0.8M69.3 117.6h0.8M71.6 125.9h0.8M69.6 121.9h0.8M73.2 141.2h0.8M73.9 110.6h0.8M70.3 117.4h0.8M72.7 124.6h0.8M67.9 106.6h0.8M72.1 124.7h0.8M73.1 118.6h0.8M71.9 112.5h0.8M72.7 138.0h0.8M73.7 140.7h0.8M76.0 115.4h0.8M71.6 144.4h0.8M71.4 112.6h0.8M72.8 134.1h0.8M69.9 108.4h0.8M73.1 141.5h0.8M69.7 126.0h0.8M71.6 143.2h0.8M69.8 140.3h0.8M69.1 141.6h0.8M71.5 128.4h0.8M69.6 142.2h0.8M69.1 129.2h0.8M70.8 132.3h0.8M69.5 138.8h0.8M71.8 129.9h0.8M72.3 130.9h0.8M72.2 139.9h0.8M74.9 129.7h0.8M71.3 113.2h0.8" stroke="#000" stroke-width="0.85" stroke-opacity="0.7" fill="none"/>
<path d="M64.0 117.3h0.8M68.1 137.7h0.8M58.8 124.1h0.8M67.4 143.7h0.8M55.9 139.5h0.8M63.1 134.5h0.8M60.2 141.5h0.8M63.7 125.3h0.8M58.5 136.2h0.8M59.3 142.3h0.8M67.6 141.9h0.8M60.6 145.5h0.8M63.2 143.5h0.8M64.0 142.6h0.8M65.3 145.4h0.8M67.9 130.3h0.8M64.6 131.3h0.8M63.8 135.7h0.8M64.7 119.3h0.8M64.8 123.3h0.8M59.3 134.2h0.8M58.0 126.2h0.8M63.2 130.0h0.8M67.8 125.1h0.8M56.4 144.0h0.8M65.6 142.8h0.8M66.5 125.7h0.8M60.8 133.5h0.8M68.5 117.4h0.8M67.8 125.2h0.8M65.9 120.3h0.8M57.5 133.9h0.8M56.9 125.6h0.8M61.9 137.2h0.8M58.0 118.9h0.8M56.9 143.1h0.8M61.1 144.9h0.8M63.2 144.4h0.8M60.7 134.5h0.8M58.1 119.8h0.8M63.9 135.0h0.8M64.0 127.1h0.8M58.8 132.7h0.8M67.9 129.0h0.8M65.6 118.8h0.8M58.2 118.6h0.8M57.2 130.4h0.8M60.9 116.7h0.8M55.9 131.2h0.8M64.2 132.5h0.8M62.9 141.4h0.8M68.4 135.0h0.8M57.2 137.5h0.8M68.1 134.1h0.8M66.2 137.8h0.8M59.0 125.6h0.8M59.1 143.0h0.8M64.9 142.4h0.8M63.0 122.5h0.8M64.9 133.9h0.8M65.5 133.7h0.8M61.8 128.5h0.8M65.4 122.2h0.8M65.0 129.0h0.8M60.6 137.1h0.8M67.2 126.4h0.8M61.2 125.7h0.8M68.0 144.0h0.8M58.5 124.6h0.8M59.2 123.3h0.8M67.6 127.6h0.8M58.0 138.8h0.8M68.0 126.2h0.8M56.9 127.6h0.8M66.2 143.0h0.8M64.2 120.6h0.8M63.5 141.3h0.8M60.9 125.5h0.8M65.7 121.9h0.8M64.8 120.6h0.8M67.3 136.0h0.8M59.9 135.9h0.8M58.9 125.9h0.8M63.9 145.3h0.8M63.4 123.2h0.8M62.7 127.5h0.8M56.8 116.9h0.8M57.4 127.8h0.8M59.7 137.4h0.8M61.1 142.9h0.8M65.7 119.5h0.8M59.1 118.3h0.8M57.6 121.6h0.8M64.4 124.5h0.8M59.4 146.1h0.8M61.2 138.9h0.8M60.0 117.8h0.8M62.2 123.3h0.8M58.0 146.1h0.8M61.5 124.0h0.8M67.7 116.4h0.8M60.8 128.8h0.8M67.4 135.6h0.8M58.6 131.5h0.8M57.7 128.0h0.8M66.5 146.3h0.8M59.6 140.4h0.8M61.0 130.8h0.8M65.8 119.5h0.8M62.9 146.2h0.8M56.7 133.0h0.8M66.8 136.4h0.8M61.5 134.6h0.8M62.8 128.0h0.8M64.6 116.8h0.8M58.0 128.6h0.8M61.1 135.2h0.8M63.8 123.8h0.8M67.5 120.7h0.8M65.4 142.8h0.8M56.1 142.4h0.8M67.2 131.5h0.8M60.5 124.4h0.8M56.3 141.2h0.8M58.7 135.0h0.8M61.1 129.4h0.8M62.5 132.6h0.8M64.8 135.6h0.8M66.1 145.4h0.8M60.6 121.1h0.8M66.2 137.5h0.8M68.1 124.2h0.8M66.5 134.0h0.8M61.2 120.3h0.8M65.7 122.9h0.8M60.0 140.2h0.8M55.7 116.7h0.8M59.0 129.6h0.8M58.6 131.0h0.8M65.9 136.0h0.8M65.4 130.3h0.8M64.6 131.3h0.8M57.4 122.4h0.8M62.5 143.2h0.8M61.6 120.0h0.8M57.5 146.0h0.8M60.8 120.4h0.8M62.2 119.3h0.8M65.1 125.6h0.8M66.4 125.2h0.8M61.7 122.4h0.8M65.3 127.0h0.8M67.0 131.9h0.8M58.5 136.6h0.8M62.4 129.9h0.8M57.9 144.8h0.8M68.4 119.3h0.8M65.0 140.8h0.8M61.0 129.0h0.8M59.7 137.2h0.8M61.8 142.5h0.8M68.5 119.4h0.8M63.7 120.4h0.8M57.8 138.9h0.8M68.0 116.8h0.8M61.9 131.1h0.8M59.7 136.6h0.8M57.0 123.5h0.8M57.9 118.5h0.8M63.6 144.3h0.8M57.2 131.7h0.8M64.0 139.4h0.8M60.9 133.9h0.8M64.5 143.9h0.8M60.1 134.9h0.8M62.6 132.3h0.8M65.7 137.3h0.8M56.9 138.7h0.8M56.8 121.3h0.8M59.6 118.2h0.8M61.9 118.9h0.8M57.3 126.7h0.8M57.4 129.8h0.8M68.4 122.0h0.8M66.4 135.8h0.8M56.3 146.2h0.8M59.9 129.3h0.8M56.2 129.0h0.8M56.0 141.0h0.8M58.3 141.3h0.8M58.8 131.7h0.8M60.3 142.3h0.8M57.1 120.0h0.8M56.5 139.0h0.8M64.8 130.0h0.8M64.0 130.2h0.8M63.4 140.0h0.8M66.7 124.5h0.8M58.1 120.2h0.8M67.0 123.4h0.8M56.1 134.0h0.8M64.9 143.8h0.8M66.4 137.5h0.8M56.9 121.5h0.8M65.2 133.6h0.8M67.8 142.3h0.8M59.3 121.8h0.8M60.0 129.4h0.8M57.7 123.4h0.8M63.2 139.2h0.8M61.2 145.0h0.8M65.7 144.5h0.8M63.2 117.5h0.8M67.7 128.0h0.8M65.4 142.9h0.8M56.7 126.9h0.8M67.9 132.2h0.8M62.4 133.6h0.8M56.6 144.0h0.8M58.2 142.6h0.8" stroke="#555" stroke-width="0.7" stroke-opacity="0.6" fill="none"/>
<rect x="24.6" y="58.0" width="91.2" height="88.3" fill="none" stroke="#8c8c8c" stroke-width="1"/>
<rect x="57.5" y="82.2" width="29" height="21.1" fill="none" stroke="#505050" stroke-width="0.9"/>
<rect x="57.5" y="117.6" width="29" height="28.7" fill="none" stroke="#505050" stroke-width="0.9"/>
<path d="M13.6 155.6V58M13.6 155.6H117" stroke="#222" stroke-width="1" fill="none"/>
<path d="M13.6 54.6l2.2 4.6h-4.4zM120.4 155.6l-4.6 -2.2v4.4z" fill="#111"/>
<text x="0" y="0" font-size="3.6" style="font-weight:normal;fill:#555;stroke:none" transform="translate(22.8 60.2) rotate(-90)">10<tspan dy="-1.2" font-size="2.4">4</tspan></text>
<text x="23.4" y="150.6" font-size="3.6" style="font-weight:normal;fill:#555;stroke:none">10<tspan dy="-1.2" font-size="2.4">0</tspan></text>
<text x="0" y="0" font-size="3.6" style="font-weight:normal;fill:#555;stroke:none" transform="translate(22.8 82.3) rotate(-90)">10<tspan dy="-1.2" font-size="2.4">3</tspan></text>
<text x="46.2" y="150.6" font-size="3.6" style="font-weight:normal;fill:#555;stroke:none">10<tspan dy="-1.2" font-size="2.4">1</tspan></text>
<text x="0" y="0" font-size="3.6" style="font-weight:normal;fill:#555;stroke:none" transform="translate(22.8 104.4) rotate(-90)">10<tspan dy="-1.2" font-size="2.4">2</tspan></text>
<text x="69.0" y="150.6" font-size="3.6" style="font-weight:normal;fill:#555;stroke:none">10<tspan dy="-1.2" font-size="2.4">2</tspan></text>
<text x="0" y="0" font-size="3.6" style="font-weight:normal;fill:#555;stroke:none" transform="translate(22.8 126.4) rotate(-90)">10<tspan dy="-1.2" font-size="2.4">1</tspan></text>
<text x="91.8" y="150.6" font-size="3.6" style="font-weight:normal;fill:#555;stroke:none">10<tspan dy="-1.2" font-size="2.4">3</tspan></text>
<text x="0" y="0" font-size="3.6" style="font-weight:normal;fill:#555;stroke:none" transform="translate(22.8 148.5) rotate(-90)">10<tspan dy="-1.2" font-size="2.4">0</tspan></text>
<text x="114.6" y="150.6" font-size="3.6" style="font-weight:normal;fill:#555;stroke:none">10<tspan dy="-1.2" font-size="2.4">4</tspan></text>
<text x="71.8" y="76.6" font-size="9.3">CD25<tspan dy="-3.2" font-size="6.4" dx="1">high</tspan></text>
<text x="81.5" y="116.7" font-size="9.5">CD25-</text>
<text x="45.8" y="169.8" font-size="9.5">CD4-FITC</text>
<text font-size="9.9" transform="translate(11.2 126) rotate(-90)">CD25-PC5</text>
<rect x="159.3" y="7.6" width="90.7" height="87.8" fill="none" stroke="#8e8e8e" stroke-width="1"/>
<text font-size="3.5" style="font-weight:normal;fill:#5c5c5c;stroke:none" transform="translate(157.2 9.6) rotate(-90)">10<tspan dy="-1.1" font-size="2.2">4</tspan></text>
<text x="159.8" y="99.4" font-size="3.5" style="font-weight:normal;fill:#5c5c5c;stroke:none">10<tspan dy="-1.1" font-size="2.2">0</tspan></text>
<text font-size="3.5" style="font-weight:normal;fill:#5c5c5c;stroke:none" transform="translate(157.2 31.6) rotate(-90)">10<tspan dy="-1.1" font-size="2.2">3</tspan></text>
<text x="182.5" y="99.4" font-size="3.5" style="font-weight:normal;fill:#5c5c5c;stroke:none">10<tspan dy="-1.1" font-size="2.2">1</tspan></text>
<path d="M159.3 29.6h-1.5M182.0 95.4v1.5" stroke="#999" stroke-width="0.8"/>
<text font-size="3.5" style="font-weight:normal;fill:#5c5c5c;stroke:none" transform="translate(157.2 53.5) rotate(-90)">10<tspan dy="-1.1" font-size="2.2">2</tspan></text>
<text x="205.2" y="99.4" font-size="3.5" style="font-weight:normal;fill:#5c5c5c;stroke:none">10<tspan dy="-1.1" font-size="2.2">2</tspan></text>
<path d="M159.3 51.5h-1.5M204.7 95.4v1.5" stroke="#999" stroke-width="0.8"/>
<text font-size="3.5" style="font-weight:normal;fill:#5c5c5c;stroke:none" transform="translate(157.2 75.5) rotate(-90)">10<tspan dy="-1.1" font-size="2.2">1</tspan></text>
<text x="227.8" y="99.4" font-size="3.5" style="font-weight:normal;fill:#5c5c5c;stroke:none">10<tspan dy="-1.1" font-size="2.2">3</tspan></text>
<path d="M159.3 73.5h-1.5M227.3 95.4v1.5" stroke="#999" stroke-width="0.8"/>
<text font-size="3.5" style="font-weight:normal;fill:#5c5c5c;stroke:none" transform="translate(157.2 97.4) rotate(-90)">10<tspan dy="-1.1" font-size="2.2">0</tspan></text>
<text x="250.5" y="99.4" font-size="3.5" style="font-weight:normal;fill:#5c5c5c;stroke:none">10<tspan dy="-1.1" font-size="2.2">4</tspan></text>
<path d="M211.6 49.9h0.8M210.3 46.5h0.8M208.3 49.2h0.8M209.7 44.7h0.8M208.4 39.3h0.8M204.0 54.6h0.8M213.7 40.8h0.8M209.5 37.7h0.8M212.2 45.8h0.8M212.1 41.6h0.8M211.9 44.0h0.8M206.7 49.3h0.8M208.8 47.0h0.8M212.2 48.0h0.8M212.5 44.0h0.8M205.7 45.9h0.8M217.0 42.8h0.8M212.2 44.5h0.8M209.3 44.6h0.8M214.1 47.8h0.8M210.5 45.5h0.8M204.4 37.5h0.8M204.1 43.3h0.8M213.7 48.9h0.8M208.7 46.2h0.8M211.0 50.2h0.8M206.1 38.2h0.8M210.4 41.5h0.8M206.1 43.0h0.8M215.4 45.2h0.8M208.0 48.2h0.8M207.0 44.0h0.8M209.5 45.7h0.8M210.4 46.4h0.8M208.3 44.4h0.8M212.5 39.9h0.8M212.9 45.3h0.8M206.6 47.2h0.8M210.8 39.8h0.8M211.4 38.2h0.8M207.6 40.7h0.8M211.4 51.4h0.8M209.9 45.8h0.8M211.0 45.8h0.8M212.6 43.2h0.8M211.7 46.6h0.8M208.5 45.9h0.8M214.2 35.2h0.8M208.9 48.9h0.8M212.3 44.6h0.8M211.3 41.2h0.8M211.4 45.4h0.8M211.3 41.8h0.8M210.5 37.0h0.8M212.1 50.3h0.8M207.3 43.8h0.8M205.4 47.4h0.8M208.8 43.8h0.8M208.2 39.7h0.8M211.5 44.9h0.8M212.5 46.9h0.8M207.8 51.1h0.8M204.8 46.6h0.8M212.0 50.0h0.8M206.6 45.5h0.8M207.1 53.0h0.8M204.2 44.9h0.8M211.6 41.0h0.8M207.8 55.8h0.8M208.8 42.5h0.8M211.1 44.0h0.8M205.8 39.2h0.8M208.0 42.1h0.8M211.0 42.7h0.8M209.5 46.3h0.8M209.3 45.1h0.8M211.7 43.5h0.8M209.7 48.7h0.8M212.4 56.8h0.8M211.8 45.2h0.8M212.5 46.0h0.8M212.7 43.0h0.8M208.4 36.3h0.8M212.8 38.5h0.8M214.2 41.2h0.8M207.5 40.6h0.8M208.9 46.7h0.8M210.5 42.0h0.8M216.1 35.9h0.8M210.9 46.2h0.8M212.0 52.3h0.8M210.9 37.3h0.8M213.9 40.8h0.8M207.9 45.7h0.8M208.1 42.7h0.8M211.4 39.3h0.8M211.8 38.7h0.8M208.3 37.0h0.8M211.9 48.4h0.8M210.6 44.3h0.8M207.7 51.9h0.8M208.9 42.7h0.8M211.3 41.1h0.8M206.9 52.7h0.8M210.1 41.0h0.8M211.2 39.7h0.8M206.2 34.1h0.8M210.9 51.5h0.8M206.1 45.6h0.8M206.4 49.7h0.8M210.3 47.6h0.8M208.9 40.7h0.8M209.2 47.0h0.8M210.4 39.9h0.8M214.8 45.7h0.8M210.8 43.0h0.8M210.1 46.1h0.8M208.1 57.4h0.8M209.5 39.5h0.8M212.4 42.2h0.8M208.4 37.6h0.8M208.6 44.0h0.8M206.2 44.2h0.8M214.1 45.9h0.8M209.8 39.9h0.8M213.2 43.7h0.8M214.8 37.0h0.8M209.4 44.9h0.8M210.4 45.9h0.8M211.9 34.8h0.8M214.4 46.9h0.8M214.5 45.9h0.8M210.7 33.1h0.8M211.2 38.8h0.8M213.8 40.7h0.8M211.4 46.8h0.8M210.1 41.2h0.8M217.8 38.5h0.8M208.7 39.8h0.8M213.4 47.4h0.8M209.6 41.1h0.8M209.4 47.5h0.8M214.3 42.4h0.8M210.1 53.6h0.8M214.6 45.5h0.8M209.6 46.1h0.8M209.2 45.6h0.8M211.6 46.8h0.8M211.1 48.7h0.8M212.5 44.3h0.8M208.2 42.8h0.8M215.1 46.5h0.8M214.3 40.9h0.8M213.3 54.8h0.8M208.1 50.3h0.8M209.2 44.5h0.8M209.0 43.8h0.8M210.6 39.3h0.8M212.0 42.9h0.8M208.7 52.2h0.8M212.1 41.2h0.8M210.5 42.4h0.8M205.8 47.7h0.8M206.5 43.5h0.8M204.8 46.3h0.8M209.4 45.6h0.8M210.3 45.2h0.8M210.2 41.2h0.8M205.1 52.0h0.8M209.0 50.5h0.8M212.6 43.2h0.8M208.7 46.4h0.8M211.8 44.9h0.8M210.7 46.3h0.8M209.1 38.9h0.8M211.9 40.7h0.8M211.5 43.1h0.8M207.4 39.1h0.8M207.8 42.9h0.8M209.9 47.3h0.8M209.2 42.3h0.8M207.6 45.7h0.8M207.5 42.3h0.8M211.6 47.8h0.8M212.6 47.2h0.8M211.2 44.1h0.8M213.6 43.6h0.8M206.3 45.8h0.8M209.3 47.0h0.8M209.8 41.3h0.8M211.8 44.2h0.8M208.2 38.0h0.8M207.8 48.3h0.8M214.6 47.5h0.8M207.5 42.1h0.8M210.0 46.1h0.8M208.0 47.7h0.8M212.6 41.4h0.8M208.6 46.9h0.8M212.9 46.8h0.8M207.4 37.4h0.8M210.8 48.4h0.8M212.3 40.0h0.8M211.5 46.6h0.8M208.6 38.7h0.8M215.8 46.1h0.8M212.5 53.6h0.8M211.9 41.4h0.8M209.5 49.9h0.8M210.7 42.3h0.8M215.2 45.5h0.8M211.6 48.6h0.8M206.2 43.0h0.8M211.1 43.7h0.8M212.4 40.4h0.8M207.8 44.4h0.8M210.3 38.6h0.8M211.0 49.7h0.8M209.5 40.5h0.8M215.4 52.8h0.8M209.9 48.0h0.8M208.8 44.3h0.8M207.2 44.0h0.8M214.5 45.4h0.8M212.6 38.1h0.8M211.8 44.3h0.8M212.7 40.7h0.8M210.7 36.8h0.8M208.6 49.7h0.8M210.8 40.1h0.8M213.5 46.6h0.8M210.1 45.8h0.8M209.7 47.1h0.8M215.2 36.6h0.8M211.3 33.8h0.8M210.3 40.9h0.8M212.0 45.4h0.8M213.0 45.3h0.8M213.2 38.3h0.8M206.7 36.5h0.8M209.0 41.1h0.8M214.0 49.1h0.8M211.6 44.7h0.8M212.6 40.1h0.8M212.2 41.9h0.8M214.7 44.8h0.8M210.5 41.9h0.8M212.1 48.7h0.8M214.0 43.1h0.8M211.4 42.8h0.8M211.5 45.2h0.8M209.0 42.3h0.8M214.0 47.9h0.8M209.8 43.7h0.8M212.2 42.7h0.8M212.2 45.8h0.8M209.0 34.8h0.8M213.8 48.6h0.8M205.4 45.1h0.8M208.1 46.0h0.8M215.6 55.4h0.8M212.1 47.9h0.8M209.2 47.4h0.8M212.2 48.6h0.8M210.2 41.9h0.8M212.8 48.0h0.8M210.1 43.1h0.8M204.7 38.0h0.8M210.1 45.5h0.8M206.8 42.9h0.8M208.8 42.1h0.8M213.3 48.8h0.8M205.4 48.6h0.8M211.4 42.7h0.8M212.3 45.0h0.8M213.5 45.3h0.8M208.6 40.6h0.8M213.4 35.7h0.8M211.4 54.9h0.8M212.2 46.2h0.8M208.6 36.7h0.8M209.4 49.6h0.8M201.7 39.3h0.8M208.9 43.1h0.8M206.3 47.7h0.8M207.0 44.7h0.8M206.1 45.2h0.8M208.9 36.5h0.8M209.3 47.7h0.8M212.9 48.2h0.8M207.8 49.2h0.8M210.6 46.0h0.8M212.7 37.6h0.8M212.2 38.7h0.8M212.2 43.1h0.8M212.0 42.3h0.8M208.5 46.9h0.8M209.5 50.8h0.8M209.7 50.8h0.8M206.7 48.0h0.8M209.7 47.7h0.8M208.6 45.6h0.8M211.6 40.9h0.8M211.0 42.8h0.8M207.3 47.7h0.8M209.8 37.4h0.8M211.6 43.0h0.8M210.4 44.6h0.8M211.4 40.9h0.8M208.4 48.5h0.8M208.8 43.4h0.8M205.2 46.2h0.8M210.3 45.6h0.8M213.5 46.6h0.8M211.0 50.8h0.8M212.9 47.4h0.8M210.9 45.5h0.8M213.6 40.7h0.8M208.3 42.2h0.8M207.8 41.7h0.8M211.4 49.1h0.8M210.8 46.5h0.8M212.2 52.8h0.8M210.3 44.6h0.8M210.6 44.4h0.8M205.4 46.9h0.8M214.5 39.2h0.8M211.1 52.6h0.8M213.1 48.9h0.8M207.7 45.3h0.8M210.3 42.7h0.8M207.7 40.5h0.8M206.8 40.5h0.8M209.6 42.8h0.8M209.0 44.4h0.8M212.6 37.9h0.8M211.2 40.2h0.8M214.2 44.0h0.8M210.9 46.8h0.8M213.9 39.1h0.8M210.6 40.9h0.8M215.0 39.9h0.8M212.1 42.5h0.8M214.2 42.9h0.8M208.5 48.5h0.8M208.5 41.4h0.8M216.0 53.0h0.8M208.9 43.5h0.8M216.5 46.2h0.8M209.8 43.6h0.8M210.5 44.0h0.8M208.9 41.8h0.8M211.2 44.2h0.8M209.8 47.8h0.8M213.5 44.7h0.8M206.0 47.1h0.8M215.5 38.1h0.8M212.0 41.7h0.8M214.6 36.5h0.8M208.4 43.8h0.8M209.5 46.4h0.8M214.2 41.0h0.8M207.9 52.9h0.8M211.9 38.3h0.8M203.0 45.9h0.8M209.6 49.6h0.8M210.3 49.9h0.8M214.8 39.9h0.8M208.6 43.7h0.8M210.4 43.4h0.8M213.6 46.6h0.8M213.1 40.2h0.8M204.1 42.1h0.8M208.4 44.4h0.8M209.5 41.4h0.8M211.7 43.8h0.8M209.1 45.4h0.8M208.3 53.9h0.8M213.3 39.0h0.8M205.6 44.7h0.8M209.4 41.7h0.8M207.5 39.9h0.8M215.6 46.8h0.8M210.5 40.6h0.8M207.7 40.4h0.8M209.7 38.9h0.8M209.6 45.9h0.8M207.8 37.1h0.8M213.9 41.0h0.8M210.2 49.7h0.8M211.6 44.0h0.8M209.5 39.0h0.8M209.4 45.7h0.8M212.8 40.3h0.8M211.5 49.8h0.8M211.6 48.4h0.8M208.0 41.2h0.8M213.9 49.6h0.8M210.7 40.6h0.8M212.2 40.8h0.8M210.3 52.8h0.8M212.6 46.3h0.8M209.5 35.6h0.8M212.2 43.8h0.8M212.1 37.8h0.8M210.0 47.0h0.8M213.3 41.9h0.8M205.9 43.7h0.8M210.5 47.3h0.8M210.8 48.0h0.8M210.1 39.8h0.8M211.8 43.4h0.8M210.5 47.6h0.8M211.8 43.8h0.8M212.0 49.5h0.8M210.7 38.5h0.8M211.3 44.6h0.8M211.2 32.8h0.8M205.3 39.2h0.8M209.1 40.9h0.8M208.0 40.9h0.8M208.8 40.5h0.8M207.5 43.4h0.8M210.9 42.8h0.8M207.7 42.6h0.8M214.6 44.1h0.8M208.2 44.9h0.8M207.4 41.1h0.8M213.2 49.9h0.8M209.8 41.4h0.8M213.7 44.6h0.8M212.9 38.5h0.8M208.3 40.4h0.8M205.1 32.4h0.8M212.0 43.2h0.8M209.5 44.0h0.8M209.9 45.3h0.8M207.9 51.0h0.8M210.5 41.4h0.8M206.7 45.2h0.8M212.9 41.3h0.8M209.6 38.9h0.8M206.4 53.5h0.8M209.4 44.5h0.8M214.2 45.4h0.8M213.2 36.9h0.8M214.6 44.7h0.8M214.0 42.8h0.8M210.0 46.9h0.8M211.0 44.7h0.8M213.0 45.2h0.8M210.8 46.2h0.8M209.3 43.7h0.8M214.0 42.5h0.8M209.9 41.8h0.8M208.0 40.4h0.8M213.4 49.6h0.8M207.2 46.9h0.8M212.2 48.6h0.8M210.8 49.1h0.8M213.7 36.0h0.8M216.4 46.8h0.8M212.8 51.4h0.8M212.4 40.9h0.8M213.0 49.4h0.8M210.1 44.2h0.8M202.5 45.5h0.8M211.3 39.9h0.8M208.4 44.0h0.8M207.5 47.1h0.8M207.1 45.9h0.8M207.7 46.4h0.8M208.0 45.4h0.8M210.8 37.9h0.8M211.0 45.0h0.8M210.0 42.2h0.8M212.6 43.2h0.8M211.2 43.1h0.8M208.9 41.0h0.8M210.9 42.6h0.8M209.8 44.3h0.8M211.7 36.4h0.8M208.1 42.9h0.8M211.6 41.9h0.8M207.7 44.0h0.8M209.5 50.5h0.8M210.2 50.7h0.8M211.7 34.8h0.8M210.2 45.9h0.8M211.8 50.6h0.8M208.9 43.5h0.8M208.5 46.1h0.8M207.9 40.8h0.8M207.9 43.3h0.8M207.2 50.7h0.8M208.4 39.4h0.8M211.4 49.0h0.8M206.1 44.2h0.8M209.5 37.5h0.8M206.5 47.5h0.8M209.1 43.4h0.8M208.2 43.9h0.8M208.0 48.5h0.8M211.1 46.9h0.8M210.5 37.8h0.8M216.6 40.5h0.8M210.0 39.6h0.8M209.8 40.2h0.8M211.2 50.1h0.8M208.6 43.2h0.8M210.8 43.0h0.8M211.9 49.8h0.8M205.4 48.9h0.8M208.5 42.9h0.8M207.2 50.4h0.8M209.9 46.3h0.8M210.3 45.2h0.8M211.7 49.5h0.8M215.1 42.7h0.8M207.5 48.5h0.8M211.9 44.7h0.8M214.8 39.2h0.8M205.0 45.3h0.8M210.6 40.5h0.8M206.8 41.0h0.8M210.8 43.1h0.8M210.6 42.9h0.8M212.7 43.0h0.8M209.2 38.7h0.8M212.7 39.7h0.8M206.0 47.9h0.8M208.1 46.8h0.8M210.6 41.0h0.8M212.1 42.2h0.8M215.6 38.8h0.8M208.8 37.6h0.8M214.3 41.6h0.8M210.4 46.9h0.8M204.6 43.5h0.8M211.2 45.6h0.8M209.0 43.3h0.8M204.9 40.1h0.8M208.1 45.4h0.8M206.5 41.8h0.8M205.5 43.0h0.8M213.1 45.0h0.8M210.7 37.9h0.8M207.0 46.2h0.8M210.5 55.2h0.8M212.6 46.5h0.8M211.4 46.7h0.8M210.9 39.2h0.8M211.7 46.8h0.8M208.0 43.1h0.8M208.9 43.3h0.8M210.9 39.2h0.8M209.8 37.6h0.8M213.0 44.8h0.8M211.1 41.9h0.8M211.0 35.7h0.8M209.5 43.4h0.8M208.9 39.5h0.8M214.2 45.9h0.8M210.7 42.3h0.8M216.0 44.9h0.8M207.3 48.7h0.8M213.5 38.2h0.8M214.2 44.4h0.8M213.9 41.3h0.8M213.5 39.1h0.8M207.3 42.5h0.8M208.5 38.7h0.8M208.4 40.1h0.8M208.0 42.0h0.8M208.9 48.5h0.8M207.8 47.1h0.8M212.1 47.7h0.8M210.2 41.3h0.8M207.0 48.4h0.8M210.4 42.0h0.8M206.4 46.5h0.8M211.9 45.0h0.8M206.8 46.8h0.8M212.0 38.1h0.8M212.0 48.0h0.8M210.2 40.0h0.8M214.5 39.3h0.8M211.6 48.1h0.8M211.4 33.6h0.8M208.8 43.0h0.8M208.2 49.0h0.8M209.7 50.4h0.8M211.0 32.9h0.8M206.6 50.5h0.8M205.3 48.2h0.8M211.8 50.3h0.8M212.6 43.2h0.8M211.5 45.0h0.8M211.7 39.0h0.8M211.2 53.0h0.8M210.6 43.9h0.8M211.5 49.2h0.8M207.7 39.6h0.8M212.0 44.8h0.8M210.2 44.3h0.8M206.0 41.3h0.8M211.1 48.6h0.8M210.5 47.0h0.8M211.5 41.3h0.8M207.0 48.0h0.8M208.1 39.5h0.8M209.2 35.8h0.8M207.5 39.3h0.8M213.3 42.9h0.8M210.8 46.3h0.8M211.7 50.4h0.8M210.5 47.4h0.8M208.0 41.4h0.8M210.7 41.8h0.8M210.5 42.0h0.8M211.6 44.0h0.8M208.8 43.9h0.8M209.8 46.6h0.8M212.2 39.5h0.8M213.4 43.5h0.8M209.1 45.7h0.8M212.4 42.0h0.8M209.8 39.2h0.8M212.1 45.4h0.8M210.9 43.3h0.8M210.7 36.9h0.8M210.3 52.1h0.8M207.8 46.1h0.8M202.6 44.4h0.8M208.1 45.9h0.8M205.9 40.3h0.8M208.0 44.1h0.8M211.5 42.0h0.8M209.4 43.1h0.8M213.3 42.9h0.8M212.4 43.2h0.8M209.8 42.1h0.8M210.4 39.8h0.8M208.7 43.3h0.8M210.0 48.1h0.8M209.8 46.7h0.8M214.7 44.8h0.8M208.9 41.4h0.8M216.1 37.6h0.8M211.1 43.1h0.8M213.9 45.7h0.8M210.1 40.6h0.8M207.7 43.0h0.8M207.7 49.6h0.8M207.5 50.2h0.8M209.4 49.6h0.8M211.0 41.7h0.8M211.2 45.7h0.8M213.6 37.8h0.8M210.7 50.1h0.8M214.2 39.3h0.8M212.6 48.8h0.8M213.9 48.4h0.8M210.2 40.7h0.8M209.5 37.5h0.8M213.2 45.0h0.8M211.7 51.7h0.8M211.8 41.1h0.8M207.3 40.3h0.8M211.0 43.1h0.8M211.0 41.3h0.8M212.8 35.6h0.8M207.9 53.6h0.8M212.5 48.3h0.8M211.3 46.8h0.8M209.2 41.3h0.8M214.4 39.8h0.8M213.5 35.2h0.8M209.6 43.3h0.8M208.1 39.4h0.8M210.8 47.6h0.8M208.2 46.2h0.8M207.7 42.7h0.8M210.2 52.0h0.8M212.2 40.9h0.8M211.6 38.4h0.8M208.8 49.9h0.8M211.2 47.7h0.8M210.7 36.2h0.8M210.0 49.3h0.8M209.7 47.2h0.8M211.3 42.8h0.8M206.7 51.7h0.8M208.9 48.3h0.8M207.5 47.0h0.8M206.2 46.4h0.8M208.5 40.2h0.8M210.3 45.9h0.8M214.9 45.0h0.8M212.3 39.8h0.8M209.8 47.2h0.8M213.3 48.7h0.8M212.4 40.8h0.8M212.8 47.0h0.8M207.5 38.7h0.8M208.8 44.1h0.8M210.1 39.4h0.8M207.4 38.6h0.8M211.4 49.9h0.8M218.3 46.8h0.8M209.5 45.6h0.8M211.3 41.9h0.8M210.1 40.2h0.8M213.0 41.5h0.8M211.5 47.7h0.8M206.8 40.8h0.8M211.1 45.3h0.8M208.5 46.8h0.8M213.3 45.4h0.8M208.9 50.0h0.8M208.9 42.4h0.8M213.0 46.1h0.8M206.4 45.0h0.8M216.0 40.0h0.8M211.1 33.4h0.8M208.2 44.8h0.8M211.9 55.1h0.8M212.2 44.0h0.8M215.2 43.8h0.8M211.1 48.7h0.8M211.3 41.2h0.8M213.1 43.4h0.8M210.4 45.9h0.8M208.4 44.6h0.8M211.6 52.0h0.8M209.3 43.5h0.8M213.2 44.3h0.8M209.1 45.7h0.8M208.2 42.7h0.8M210.0 41.7h0.8M209.1 49.8h0.8M205.4 43.8h0.8M209.6 49.0h0.8M211.1 46.5h0.8M213.0 47.3h0.8M207.6 41.1h0.8M210.8 48.1h0.8M209.8 43.0h0.8M211.6 49.9h0.8M210.7 48.2h0.8M214.0 47.8h0.8M211.4 46.9h0.8M210.4 55.3h0.8M209.7 42.0h0.8M210.2 43.5h0.8M209.5 51.8h0.8M213.9 40.5h0.8M210.3 44.2h0.8M204.3 42.9h0.8M210.8 45.0h0.8M208.9 46.5h0.8M204.3 41.6h0.8M214.7 40.0h0.8M209.4 52.6h0.8M209.1 40.6h0.8M214.0 48.2h0.8M214.2 44.8h0.8M210.6 36.3h0.8M209.4 50.5h0.8M212.4 42.7h0.8M209.5 52.4h0.8M211.2 44.1h0.8M212.5 46.7h0.8M209.7 37.8h0.8M213.2 44.6h0.8M206.4 53.5h0.8M212.9 39.5h0.8M212.1 42.0h0.8M209.6 42.3h0.8M209.9 42.9h0.8M216.9 50.6h0.8M206.0 48.8h0.8M209.7 42.1h0.8M209.2 47.6h0.8M207.5 48.5h0.8M210.5 50.9h0.8M210.8 48.7h0.8M202.4 44.7h0.8M210.7 40.8h0.8M212.3 52.0h0.8M207.2 39.3h0.8M212.1 42.9h0.8M215.2 45.3h0.8M213.1 38.3h0.8M210.9 43.4h0.8M212.1 48.5h0.8M209.1 40.2h0.8M206.9 49.5h0.8M208.2 48.3h0.8M209.4 45.6h0.8M209.4 45.0h0.8M207.9 39.6h0.8M213.7 46.4h0.8M206.6 41.8h0.8M210.1 42.0h0.8M211.7 48.2h0.8M212.1 38.3h0.8M204.7 44.3h0.8M211.0 45.6h0.8M209.6 40.5h0.8M209.1 41.8h0.8M212.6 44.2h0.8M210.9 42.7h0.8M212.5 49.0h0.8M208.8 41.3h0.8M209.8 44.7h0.8M212.3 43.4h0.8M210.0 52.7h0.8M214.0 56.4h0.8M208.6 45.2h0.8M209.5 44.0h0.8M206.9 38.2h0.8M210.1 43.0h0.8M209.0 44.2h0.8M207.0 40.9h0.8M211.1 44.8h0.8M208.8 58.2h0.8M215.0 45.5h0.8M208.0 36.8h0.8M208.3 46.6h0.8M207.9 48.2h0.8M210.6 43.6h0.8M209.4 44.2h0.8M205.8 40.3h0.8M211.8 41.9h0.8M208.3 40.4h0.8M212.7 46.5h0.8M208.5 50.9h0.8M210.5 47.5h0.8M210.5 45.0h0.8M209.4 41.3h0.8M208.7 42.6h0.8M208.5 45.8h0.8M207.1 44.1h0.8M206.9 54.0h0.8M209.6 43.7h0.8M213.2 43.1h0.8M208.5 45.2h0.8M212.7 47.4h0.8M212.8 43.9h0.8M212.7 41.6h0.8M212.2 47.1h0.8M215.8 41.1h0.8M214.8 47.4h0.8M210.0 44.4h0.8M214.2 41.2h0.8M211.5 52.6h0.8M207.1 40.8h0.8M207.4 46.0h0.8M205.5 52.2h0.8M211.6 50.1h0.8M210.1 43.8h0.8M207.2 45.5h0.8M210.2 45.7h0.8M205.6 41.2h0.8M210.7 43.9h0.8M209.6 44.7h0.8M206.5 45.9h0.8M208.6 49.9h0.8M210.5 48.5h0.8M209.9 45.5h0.8M209.2 42.3h0.8M207.5 43.9h0.8M212.9 45.7h0.8M208.5 43.1h0.8M209.9 38.6h0.8M209.5 41.4h0.8M216.9 42.3h0.8M212.2 41.9h0.8M209.0 43.8h0.8M209.8 38.1h0.8M206.9 47.2h0.8M207.7 48.3h0.8M208.3 44.0h0.8M206.7 42.9h0.8M204.8 49.1h0.8M214.8 45.9h0.8M207.5 46.0h0.8M208.1 39.2h0.8M211.4 45.5h0.8M206.6 47.7h0.8M211.5 40.5h0.8M210.2 40.0h0.8M211.1 48.3h0.8M213.8 45.1h0.8M208.2 42.7h0.8M214.2 42.6h0.8M211.3 45.7h0.8M211.3 41.5h0.8M208.5 41.2h0.8M210.1 42.7h0.8M211.7 43.2h0.8M205.9 41.3h0.8M210.1 46.0h0.8M208.4 40.2h0.8M210.9 43.4h0.8M214.5 42.8h0.8M211.9 42.1h0.8M207.3 45.2h0.8M209.8 47.3h0.8M211.5 36.1h0.8M210.5 42.2h0.8M209.7 43.0h0.8M207.1 48.5h0.8M203.4 43.6h0.8M207.7 38.2h0.8M206.2 41.0h0.8M206.6 42.5h0.8M209.5 42.0h0.8M204.2 44.3h0.8M210.6 41.7h0.8M210.9 44.7h0.8M207.4 48.3h0.8M210.5 46.6h0.8M209.7 48.1h0.8M210.7 42.3h0.8M206.0 41.9h0.8M207.4 39.5h0.8M211.7 48.9h0.8M211.8 47.9h0.8M207.9 47.7h0.8M207.4 39.0h0.8M208.8 41.5h0.8M210.8 45.5h0.8M210.2 46.4h0.8M208.2 39.8h0.8M211.0 49.2h0.8M211.6 42.0h0.8M212.0 43.4h0.8M209.7 43.4h0.8M209.5 49.4h0.8M212.4 47.4h0.8M207.2 51.1h0.8M207.8 47.3h0.8M201.4 44.7h0.8M212.3 44.0h0.8M208.1 38.4h0.8M210.9 47.8h0.8M212.5 42.8h0.8M213.8 47.6h0.8M213.3 46.0h0.8M213.2 44.5h0.8M211.0 40.7h0.8M205.1 43.8h0.8M209.6 40.2h0.8M208.9 42.0h0.8M211.4 42.1h0.8M210.2 54.2h0.8M206.6 42.9h0.8M214.9 40.5h0.8M211.5 40.8h0.8M209.3 44.5h0.8M211.4 46.4h0.8M208.3 42.6h0.8M210.0 46.0h0.8M207.6 42.8h0.8M208.1 46.5h0.8M213.3 33.3h0.8M208.6 45.2h0.8M209.1 35.7h0.8M212.3 47.8h0.8M210.4 40.6h0.8M209.7 41.8h0.8M209.2 46.0h0.8M212.7 46.2h0.8M209.1 41.3h0.8M211.7 38.4h0.8M207.6 45.2h0.8M208.1 44.0h0.8M209.3 45.4h0.8M212.2 43.5h0.8M209.6 47.0h0.8M212.9 46.1h0.8M209.0 49.1h0.8M208.0 42.2h0.8M209.5 47.5h0.8M207.7 41.2h0.8M212.2 53.3h0.8M209.4 40.8h0.8M207.2 48.3h0.8M209.4 50.1h0.8M208.1 42.1h0.8M210.3 41.8h0.8M209.4 47.0h0.8M208.8 38.9h0.8M208.5 47.0h0.8M210.4 47.4h0.8M210.0 44.5h0.8M210.2 44.3h0.8M209.5 35.5h0.8M213.1 50.5h0.8M210.7 46.9h0.8M208.9 44.1h0.8M213.8 40.1h0.8M213.7 48.5h0.8M205.8 44.9h0.8M213.2 43.4h0.8M211.6 38.4h0.8M212.2 46.0h0.8M213.4 40.0h0.8M210.6 46.2h0.8M209.5 44.7h0.8M213.7 44.3h0.8M207.4 44.5h0.8M209.1 41.8h0.8M212.7 43.8h0.8M208.0 39.2h0.8M210.0 48.3h0.8M211.2 46.2h0.8M207.0 47.1h0.8M208.8 48.2h0.8M213.2 43.7h0.8M206.5 47.6h0.8M210.6 43.5h0.8M208.2 41.0h0.8M210.6 43.7h0.8M212.6 35.8h0.8M210.0 50.0h0.8M211.8 39.1h0.8M211.7 41.5h0.8M208.3 41.2h0.8M207.2 43.1h0.8M210.9 42.3h0.8M208.1 44.2h0.8M207.5 42.8h0.8M209.0 47.4h0.8M210.0 54.9h0.8M210.1 48.6h0.8M210.0 43.7h0.8M205.2 46.5h0.8M208.2 43.0h0.8M210.5 47.3h0.8M205.3 44.4h0.8M210.4 40.6h0.8M209.2 43.4h0.8M211.3 40.3h0.8M208.5 47.4h0.8M209.7 39.1h0.8M213.7 45.5h0.8M210.4 41.8h0.8M213.4 39.9h0.8M209.3 47.6h0.8M209.9 42.5h0.8M212.0 45.9h0.8M210.0 40.5h0.8M210.4 42.0h0.8M212.1 42.6h0.8M213.6 53.0h0.8M215.4 44.6h0.8M209.4 40.6h0.8M208.9 43.6h0.8M204.2 41.2h0.8M207.5 39.8h0.8M209.2 52.6h0.8M208.5 53.9h0.8M208.6 41.1h0.8M211.4 45.2h0.8M214.3 44.4h0.8M211.5 42.9h0.8M207.3 45.0h0.8M214.8 47.1h0.8M210.3 43.1h0.8M208.7 52.4h0.8M210.6 43.5h0.8M207.4 41.3h0.8M209.4 46.8h0.8M211.5 33.3h0.8M208.6 48.5h0.8M213.1 51.1h0.8M213.2 46.5h0.8M209.6 45.7h0.8M211.6 44.7h0.8M210.8 44.7h0.8M211.0 45.7h0.8M211.1 42.8h0.8M209.4 46.9h0.8M207.8 43.1h0.8M211.3 51.1h0.8M209.0 37.4h0.8M208.4 49.4h0.8M208.8 49.1h0.8M205.1 38.4h0.8M209.1 45.2h0.8M213.8 38.3h0.8M210.1 47.4h0.8M212.6 44.5h0.8M211.2 42.5h0.8M212.1 48.2h0.8M210.0 49.3h0.8M210.3 41.3h0.8M211.9 48.8h0.8M210.0 45.7h0.8M209.2 46.4h0.8M208.2 40.5h0.8M214.4 46.4h0.8M207.4 43.0h0.8M208.2 47.0h0.8M208.8 39.7h0.8M209.3 35.7h0.8M209.3 37.7h0.8M208.1 47.0h0.8M213.7 47.3h0.8M212.3 34.9h0.8M208.1 47.1h0.8M212.3 42.9h0.8M208.3 47.4h0.8M207.5 42.0h0.8M207.4 36.1h0.8M210.6 48.4h0.8M211.7 41.1h0.8M211.9 40.0h0.8M202.9 42.2h0.8M211.6 37.6h0.8M209.4 44.5h0.8M211.0 50.4h0.8M207.9 41.0h0.8M210.8 48.5h0.8M210.7 42.4h0.8M209.6 50.3h0.8M212.3 46.7h0.8M210.9 48.6h0.8M212.0 45.6h0.8M209.4 43.5h0.8M211.1 37.4h0.8M208.4 39.8h0.8M211.4 50.6h0.8M212.6 45.0h0.8M206.9 51.9h0.8M211.7 48.9h0.8M211.2 47.1h0.8M213.5 42.6h0.8M212.2 35.6h0.8M212.8 47.2h0.8M210.5 48.2h0.8M218.1 46.4h0.8M210.8 41.5h0.8M210.7 42.1h0.8M213.1 43.5h0.8M211.1 46.4h0.8M211.3 45.0h0.8M211.0 42.8h0.8M211.6 45.6h0.8M210.0 42.4h0.8M215.2 44.0h0.8M214.6 48.8h0.8M208.7 45.7h0.8M209.6 44.3h0.8M211.1 51.5h0.8M209.5 49.7h0.8M208.5 45.2h0.8M211.7 45.3h0.8M205.7 43.3h0.8M207.2 45.4h0.8M210.6 41.6h0.8M213.2 47.9h0.8M209.3 55.4h0.8M210.7 49.0h0.8M209.8 38.5h0.8M213.5 46.8h0.8M205.6 44.9h0.8M210.2 47.3h0.8M211.2 45.5h0.8M214.0 41.7h0.8M209.5 43.1h0.8M211.0 43.3h0.8M209.6 41.0h0.8M208.4 45.3h0.8M208.8 44.3h0.8M212.9 46.3h0.8M213.3 37.2h0.8M208.8 43.1h0.8M210.8 44.7h0.8M208.9 46.8h0.8M211.2 40.0h0.8M211.5 39.9h0.8M214.9 43.5h0.8M210.3 48.0h0.8M208.1 37.9h0.8M209.2 50.1h0.8M212.3 40.0h0.8M208.7 49.3h0.8M215.2 39.9h0.8M209.8 44.2h0.8M205.7 46.5h0.8M212.4 45.4h0.8M208.5 43.9h0.8M211.7 42.5h0.8M209.5 43.5h0.8M212.9 49.7h0.8M212.1 44.3h0.8M211.3 45.8h0.8M208.3 49.4h0.8M208.7 45.0h0.8M207.9 42.2h0.8M212.6 42.2h0.8M206.8 35.6h0.8M207.8 41.8h0.8M210.2 39.5h0.8M209.9 41.0h0.8M211.1 44.2h0.8M208.5 41.0h0.8M209.8 44.8h0.8M208.6 46.7h0.8M208.8 39.7h0.8M211.6 38.8h0.8M213.9 42.9h0.8M209.9 51.1h0.8M207.6 48.8h0.8M210.7 45.3h0.8M213.4 50.8h0.8M211.6 46.2h0.8M209.8 40.1h0.8M207.2 48.1h0.8M210.4 40.8h0.8M209.6 46.0h0.8M209.6 45.6h0.8M212.1 49.2h0.8M207.5 42.9h0.8M210.7 44.5h0.8M211.8 37.5h0.8M207.6 48.4h0.8M214.8 44.2h0.8M207.4 37.9h0.8M212.0 51.3h0.8M212.7 42.4h0.8M211.5 37.7h0.8M208.2 43.1h0.8M208.4 38.1h0.8M213.2 46.7h0.8M206.7 53.7h0.8M214.7 44.8h0.8M210.7 37.4h0.8M213.5 43.1h0.8M212.9 45.7h0.8M210.0 42.7h0.8M206.4 44.9h0.8M210.2 41.7h0.8M204.1 39.1h0.8M210.9 46.5h0.8M215.3 39.6h0.8M208.4 45.0h0.8M209.4 39.2h0.8M212.1 47.2h0.8M208.8 41.5h0.8M214.2 42.9h0.8M206.5 45.0h0.8M204.8 44.0h0.8M209.5 43.0h0.8M209.3 49.8h0.8M208.1 41.5h0.8M210.2 44.1h0.8M210.2 45.0h0.8M209.4 39.7h0.8M209.1 48.4h0.8M211.0 47.3h0.8M207.7 50.2h0.8M212.9 41.6h0.8M208.0 42.8h0.8M214.7 50.2h0.8M204.4 49.3h0.8M214.0 41.6h0.8M212.0 43.2h0.8M211.4 47.4h0.8M209.0 36.4h0.8M213.0 45.6h0.8M205.6 48.9h0.8M213.1 38.7h0.8M211.3 41.6h0.8M210.3 49.2h0.8M211.3 45.6h0.8M209.4 47.2h0.8M212.1 49.2h0.8M214.1 42.0h0.8M211.1 37.2h0.8M213.5 38.7h0.8M211.5 37.6h0.8M211.0 36.4h0.8M211.1 46.1h0.8M208.4 49.2h0.8M212.2 39.4h0.8M207.9 49.9h0.8M206.5 49.6h0.8M211.5 38.9h0.8M207.3 45.8h0.8M210.7 43.3h0.8M213.1 47.8h0.8M207.6 39.9h0.8M208.0 41.0h0.8M208.3 46.4h0.8M204.4 49.4h0.8M211.9 41.6h0.8M212.3 46.1h0.8M208.9 50.1h0.8M209.8 43.5h0.8M211.6 41.0h0.8M213.6 49.7h0.8M207.7 47.8h0.8M213.9 44.4h0.8M213.8 50.4h0.8M211.1 49.3h0.8M213.7 43.8h0.8M209.4 52.3h0.8M208.5 50.3h0.8M209.9 47.0h0.8M210.5 42.0h0.8M211.8 46.8h0.8M208.7 46.1h0.8M209.2 45.3h0.8M207.7 40.7h0.8M214.5 48.8h0.8M209.9 45.8h0.8M210.7 44.6h0.8M214.3 45.7h0.8M209.0 38.2h0.8M206.5 50.9h0.8M211.6 48.2h0.8M211.9 41.9h0.8M209.0 43.5h0.8M204.8 37.2h0.8M208.9 40.2h0.8M209.3 46.0h0.8M215.3 49.6h0.8M208.1 40.2h0.8M211.4 43.3h0.8M210.8 44.6h0.8M211.7 36.2h0.8M210.7 37.3h0.8M212.6 42.4h0.8M208.4 46.9h0.8M212.2 44.3h0.8M212.6 39.4h0.8M211.3 46.4h0.8M209.6 47.6h0.8M212.3 51.1h0.8M209.4 40.3h0.8M208.7 46.0h0.8M211.2 45.0h0.8M207.6 43.7h0.8M213.2 47.5h0.8M208.1 46.0h0.8M208.9 44.7h0.8M208.6 42.1h0.8M208.7 42.9h0.8M207.9 47.8h0.8M209.8 46.9h0.8M210.4 43.7h0.8M206.7 39.1h0.8M209.5 39.1h0.8M211.9 42.2h0.8M207.7 43.1h0.8M211.0 43.1h0.8M215.2 48.6h0.8M210.1 41.4h0.8M206.6 46.0h0.8M212.9 43.6h0.8M208.3 43.7h0.8M208.4 43.7h0.8M211.6 43.1h0.8M211.5 47.8h0.8M207.5 40.1h0.8M210.4 32.8h0.8M212.7 42.6h0.8M210.5 46.9h0.8M205.5 48.7h0.8M211.7 34.3h0.8M207.4 52.8h0.8M212.0 48.7h0.8M210.1 48.5h0.8M205.9 40.6h0.8M214.8 48.2h0.8M209.6 46.7h0.8M208.5 38.7h0.8M212.5 42.9h0.8M210.8 46.5h0.8M211.3 49.0h0.8M209.0 42.3h0.8M212.3 48.9h0.8M207.3 37.9h0.8M208.4 44.8h0.8M210.9 39.8h0.8M211.0 50.7h0.8M204.5 45.4h0.8M210.7 42.5h0.8M211.7 47.5h0.8M207.1 44.7h0.8M212.0 43.6h0.8M211.4 46.6h0.8M213.5 46.9h0.8M212.1 49.8h0.8M210.7 51.2h0.8M207.1 45.5h0.8M211.1 45.4h0.8M208.7 45.9h0.8M207.9 42.5h0.8M207.9 47.5h0.8M210.6 40.1h0.8M206.2 43.3h0.8M210.5 52.1h0.8M212.9 37.9h0.8M213.3 46.8h0.8M216.0 49.4h0.8M213.8 42.3h0.8M208.0 46.2h0.8M211.9 48.6h0.8M205.1 42.3h0.8M206.6 48.3h0.8M211.7 48.2h0.8M210.4 35.9h0.8M210.7 45.9h0.8M209.0 45.8h0.8M209.9 46.6h0.8M208.1 38.4h0.8M212.6 55.6h0.8M206.8 40.4h0.8M211.2 42.6h0.8M213.1 43.9h0.8M212.3 40.6h0.8M208.8 45.1h0.8M209.0 36.2h0.8M212.6 52.1h0.8M208.4 38.0h0.8M214.8 44.4h0.8M213.1 44.8h0.8M213.7 41.3h0.8M215.6 40.5h0.8M212.5 47.9h0.8M207.2 47.1h0.8M209.1 46.3h0.8M212.1 36.2h0.8M212.6 39.3h0.8M212.5 49.5h0.8M208.2 37.1h0.8M211.6 48.4h0.8M208.6 43.0h0.8M211.0 49.5h0.8M208.0 42.6h0.8M209.2 39.2h0.8M208.8 44.8h0.8M211.1 50.8h0.8M212.3 41.5h0.8M209.8 42.8h0.8M202.1 47.4h0.8M212.0 43.0h0.8M214.7 42.1h0.8M208.0 40.3h0.8M211.5 49.5h0.8M213.3 38.2h0.8M211.8 35.7h0.8M210.3 36.1h0.8M211.0 46.4h0.8M214.6 42.6h0.8M212.4 43.6h0.8M210.4 38.2h0.8M205.6 52.1h0.8M207.8 43.1h0.8M210.3 42.5h0.8M211.4 48.1h0.8M211.9 49.5h0.8M219.2 45.3h0.8M212.7 47.1h0.8M209.6 48.3h0.8M209.0 39.2h0.8M211.9 50.5h0.8M207.2 47.7h0.8M212.2 41.6h0.8M208.2 32.8h0.8M209.3 47.7h0.8M213.5 53.9h0.8M211.5 42.5h0.8M213.4 48.9h0.8M204.3 45.5h0.8M209.0 52.8h0.8M211.4 48.1h0.8M208.9 43.9h0.8M205.2 43.1h0.8M215.7 46.5h0.8M208.7 40.5h0.8M212.6 45.5h0.8M209.9 42.1h0.8M212.7 37.0h0.8M208.7 42.3h0.8M208.8 48.4h0.8M212.8 41.5h0.8M212.0 42.6h0.8M208.2 41.6h0.8M208.8 45.6h0.8M209.9 39.7h0.8M205.5 45.4h0.8M212.7 40.9h0.8M211.7 49.2h0.8M208.9 48.7h0.8M209.2 43.1h0.8M207.5 41.3h0.8M209.2 52.9h0.8M208.2 44.8h0.8M210.0 42.6h0.8M208.8 42.7h0.8M207.7 38.6h0.8M208.6 49.2h0.8M210.2 41.4h0.8M213.6 44.3h0.8M210.2 41.5h0.8M212.6 42.2h0.8M207.3 34.7h0.8M207.1 44.3h0.8M208.8 40.2h0.8M210.4 43.1h0.8M207.1 42.8h0.8M210.0 39.8h0.8M210.8 53.2h0.8M209.3 48.6h0.8M210.5 41.6h0.8M211.3 46.5h0.8M213.3 49.3h0.8M213.7 42.4h0.8M208.6 48.2h0.8M205.7 46.9h0.8M211.8 45.6h0.8M205.6 40.1h0.8M205.2 47.8h0.8M208.0 42.5h0.8M211.5 48.0h0.8M207.8 42.1h0.8M209.9 47.1h0.8M211.6 50.7h0.8M208.7 39.6h0.8M207.2 45.5h0.8M210.5 47.5h0.8M207.8 36.9h0.8M207.7 41.4h0.8M212.7 42.5h0.8M211.5 45.0h0.8M209.8 43.7h0.8M206.7 46.6h0.8M213.9 45.1h0.8M207.3 42.0h0.8M207.3 45.1h0.8M208.1 45.0h0.8M213.0 41.6h0.8M202.5 48.5h0.8M210.1 44.4h0.8M217.4 39.9h0.8M210.4 39.9h0.8M211.2 50.4h0.8M208.8 45.5h0.8M208.9 40.7h0.8M213.2 41.7h0.8M208.0 46.4h0.8M212.1 46.7h0.8M206.9 38.2h0.8M211.7 51.1h0.8M207.3 44.9h0.8M209.9 45.2h0.8M214.4 42.4h0.8M211.1 45.2h0.8M209.1 47.2h0.8M212.3 44.4h0.8M212.9 41.1h0.8M209.8 41.1h0.8M211.4 44.4h0.8M212.6 48.6h0.8M212.2 46.6h0.8M211.7 51.0h0.8M206.0 47.2h0.8M210.4 39.0h0.8M209.1 40.3h0.8M210.9 46.2h0.8M210.8 39.7h0.8M208.4 43.9h0.8M208.4 40.1h0.8M205.9 43.2h0.8M212.4 42.6h0.8M210.7 38.6h0.8M208.5 50.6h0.8M206.7 53.7h0.8M208.9 37.3h0.8M210.0 44.4h0.8M211.7 48.1h0.8M209.3 46.3h0.8M211.8 47.9h0.8M214.7 47.6h0.8M210.6 45.3h0.8M212.3 38.9h0.8M212.5 43.7h0.8M208.7 48.7h0.8M213.0 39.4h0.8M209.3 41.7h0.8M205.3 47.4h0.8M210.5 37.3h0.8M212.2 50.2h0.8M208.8 42.8h0.8M210.6 50.3h0.8M207.9 46.8h0.8M213.2 44.5h0.8M210.1 41.4h0.8M208.7 43.4h0.8M207.3 45.6h0.8M216.5 47.6h0.8M208.3 43.6h0.8M209.2 37.8h0.8M215.9 34.2h0.8M209.0 43.2h0.8M207.9 48.6h0.8M208.2 39.7h0.8M211.0 44.1h0.8M204.8 41.7h0.8M209.4 53.9h0.8M210.4 55.4h0.8M208.1 40.9h0.8M211.9 50.5h0.8M205.3 45.1h0.8M207.0 46.1h0.8M207.8 45.8h0.8M210.3 40.3h0.8M214.4 47.7h0.8M208.4 39.3h0.8M208.8 40.1h0.8M209.0 49.8h0.8M206.5 46.3h0.8M213.1 41.9h0.8M212.3 48.6h0.8M217.0 42.1h0.8M211.2 42.2h0.8M207.2 47.8h0.8M214.2 40.1h0.8M208.6 36.3h0.8M210.6 48.0h0.8M208.7 45.4h0.8M209.1 40.4h0.8M209.0 49.8h0.8M214.2 43.9h0.8M208.7 36.9h0.8M212.7 48.5h0.8M208.1 45.5h0.8M211.1 45.8h0.8M215.4 43.1h0.8M213.3 50.1h0.8M213.1 45.1h0.8M212.1 44.7h0.8M214.5 51.9h0.8M208.2 46.6h0.8M210.3 41.9h0.8M207.9 56.0h0.8M212.1 42.7h0.8M212.6 43.4h0.8M213.4 44.3h0.8M206.4 47.5h0.8M212.2 37.0h0.8M212.2 46.4h0.8M211.2 43.9h0.8M215.4 46.2h0.8M205.0 44.6h0.8M211.4 45.0h0.8M212.7 43.5h0.8M209.0 38.5h0.8M211.5 49.0h0.8M210.2 41.5h0.8M209.0 44.7h0.8M206.5 44.2h0.8M204.7 40.8h0.8M212.8 47.2h0.8M210.1 46.3h0.8M211.4 37.8h0.8M208.8 51.5h0.8M209.8 45.5h0.8M208.8 42.7h0.8M210.5 42.7h0.8M209.4 53.2h0.8M208.2 58.4h0.8M214.2 32.9h0.8M209.5 52.6h0.8M210.7 40.4h0.8M210.8 46.8h0.8M209.2 37.5h0.8M212.1 42.5h0.8M213.9 47.8h0.8M210.7 38.3h0.8M211.0 43.9h0.8M216.6 41.2h0.8M209.7 40.8h0.8M209.8 42.4h0.8M213.6 51.4h0.8M209.7 44.4h0.8M211.5 33.0h0.8M212.0 39.7h0.8M207.5 45.5h0.8M205.7 42.8h0.8M209.9 45.0h0.8M214.1 40.9h0.8M210.9 46.6h0.8M210.5 43.8h0.8M207.5 31.8h0.8M208.0 46.3h0.8M207.4 44.8h0.8M215.8 47.6h0.8M210.3 46.1h0.8M208.9 49.0h0.8M210.2 44.0h0.8M203.9 41.0h0.8M207.7 42.9h0.8M205.6 48.6h0.8M213.6 45.3h0.8M213.5 43.9h0.8M208.6 37.6h0.8M211.8 44.1h0.8M212.0 43.3h0.8M207.5 40.0h0.8M210.4 46.1h0.8M210.8 42.7h0.8M213.8 44.4h0.8M208.6 41.3h0.8M208.9 44.9h0.8M209.9 45.0h0.8M208.7 46.4h0.8M212.1 47.8h0.8M211.9 40.7h0.8M210.2 40.6h0.8M212.2 45.0h0.8M210.1 43.2h0.8M207.1 44.7h0.8M217.6 45.3h0.8M207.7 46.4h0.8M209.3 43.8h0.8M209.6 42.3h0.8M212.8 39.0h0.8M209.0 47.5h0.8M213.4 45.4h0.8M214.4 52.5h0.8M204.1 37.7h0.8M209.6 37.8h0.8M212.5 44.6h0.8M208.2 44.8h0.8M211.9 49.2h0.8M206.2 49.8h0.8M208.5 40.6h0.8M211.9 44.6h0.8M206.9 43.0h0.8M207.9 46.4h0.8M216.0 40.0h0.8M214.4 43.4h0.8M207.3 52.5h0.8M210.7 45.3h0.8M208.4 49.3h0.8M209.1 44.2h0.8M211.6 50.0h0.8M212.1 45.5h0.8M210.1 40.8h0.8M213.0 50.1h0.8M212.0 47.6h0.8M210.1 44.8h0.8M207.0 49.8h0.8M216.1 39.3h0.8M207.1 46.0h0.8M212.7 39.8h0.8M210.9 44.7h0.8M208.8 43.2h0.8M210.5 42.8h0.8M213.3 47.2h0.8M205.3 47.6h0.8M207.1 36.8h0.8M213.1 43.1h0.8M210.4 46.0h0.8M207.1 52.0h0.8M207.5 54.6h0.8M211.4 46.1h0.8M210.2 43.6h0.8M207.7 43.3h0.8M208.5 45.5h0.8M207.8 46.9h0.8M208.0 42.4h0.8M212.8 43.7h0.8M212.9 44.8h0.8M206.4 39.2h0.8M207.4 35.5h0.8M210.2 48.3h0.8M213.1 38.2h0.8M209.2 42.0h0.8M205.2 35.1h0.8M209.7 45.0h0.8M209.1 37.4h0.8M213.9 44.7h0.8M210.2 40.3h0.8M207.6 52.9h0.8M215.8 47.3h0.8M208.1 35.8h0.8M209.6 40.7h0.8M210.1 46.9h0.8M207.7 43.8h0.8M209.6 43.3h0.8M205.0 39.4h0.8M209.1 40.9h0.8M211.8 48.3h0.8M209.5 53.4h0.8M212.4 47.7h0.8M209.2 42.8h0.8M211.2 38.8h0.8M210.4 38.8h0.8M208.9 49.5h0.8M210.0 43.1h0.8M212.0 37.9h0.8M211.3 43.7h0.8M209.4 44.4h0.8M210.8 45.3h0.8M204.7 40.6h0.8M212.1 38.6h0.8M213.6 42.9h0.8M206.9 57.3h0.8M212.0 48.0h0.8M208.1 45.0h0.8M206.5 44.2h0.8M210.4 48.3h0.8M210.5 48.0h0.8M212.2 53.2h0.8M212.5 42.2h0.8M211.9 38.7h0.8M209.6 46.6h0.8M211.8 43.9h0.8M207.6 44.6h0.8M204.9 48.4h0.8M212.0 38.7h0.8M210.6 44.3h0.8M209.2 48.0h0.8M210.2 36.2h0.8M204.3 50.7h0.8M210.3 39.4h0.8M206.6 51.8h0.8M212.2 36.5h0.8M208.4 42.2h0.8M211.6 41.3h0.8M211.4 43.2h0.8M206.6 44.8h0.8M210.5 41.7h0.8M206.4 41.9h0.8M205.3 39.1h0.8M209.8 39.9h0.8M210.1 39.6h0.8M213.9 47.1h0.8M210.5 43.1h0.8M206.9 42.6h0.8M210.6 35.4h0.8M212.4 43.9h0.8M207.9 45.5h0.8M212.9 42.8h0.8M211.3 46.2h0.8M209.4 41.9h0.8M212.1 49.0h0.8M209.9 41.0h0.8M213.1 41.8h0.8M209.2 44.9h0.8M212.3 43.5h0.8M206.2 41.7h0.8M212.1 47.1h0.8M212.4 42.6h0.8M209.5 47.4h0.8M208.5 49.7h0.8M206.7 50.7h0.8M207.2 44.5h0.8M209.3 39.0h0.8M213.0 45.9h0.8M211.5 50.7h0.8M213.5 47.1h0.8M211.5 47.4h0.8M211.1 42.0h0.8M212.2 37.9h0.8M207.1 44.4h0.8M210.0 46.8h0.8M208.5 44.5h0.8M209.3 51.8h0.8M208.4 46.9h0.8M210.2 49.8h0.8M210.1 41.5h0.8M207.9 38.6h0.8M204.4 46.9h0.8M205.2 38.9h0.8M209.6 38.6h0.8M209.8 42.3h0.8M204.5 47.0h0.8M210.1 43.3h0.8M204.7 43.9h0.8M209.6 47.9h0.8M211.9 50.7h0.8M207.1 49.4h0.8M213.5 41.3h0.8M209.7 42.3h0.8M209.8 44.7h0.8M211.7 43.6h0.8M206.1 46.5h0.8M209.1 45.5h0.8M212.3 37.8h0.8M206.2 43.8h0.8M209.7 45.8h0.8M207.3 47.4h0.8M211.3 37.8h0.8M216.4 43.2h0.8M211.6 48.1h0.8M209.6 39.6h0.8M210.1 40.2h0.8M209.1 45.3h0.8M208.6 46.9h0.8M211.7 46.7h0.8M213.9 50.7h0.8M211.1 44.1h0.8M212.1 48.3h0.8M206.2 47.5h0.8M210.6 46.5h0.8M215.9 54.2h0.8M206.8 47.4h0.8M212.9 40.5h0.8M211.0 49.2h0.8M211.0 48.2h0.8M207.0 45.7h0.8M208.4 50.7h0.8M206.1 41.9h0.8M207.8 38.5h0.8M214.7 48.1h0.8M210.2 42.0h0.8M209.3 41.0h0.8M211.9 46.4h0.8M213.1 45.6h0.8M210.9 37.9h0.8M213.1 46.5h0.8M212.4 52.1h0.8M209.1 34.2h0.8M210.0 49.0h0.8M211.5 46.6h0.8M209.1 46.3h0.8M209.9 52.6h0.8M211.0 36.0h0.8M206.7 42.1h0.8M210.6 50.2h0.8M213.1 41.3h0.8M210.7 45.9h0.8M205.4 55.0h0.8M208.4 48.4h0.8M212.0 35.8h0.8M214.4 50.2h0.8M210.5 52.9h0.8M211.8 47.8h0.8M213.7 36.7h0.8M213.3 45.5h0.8M211.2 38.0h0.8M213.6 46.3h0.8M208.6 44.4h0.8M214.0 47.8h0.8M208.8 42.9h0.8M216.9 38.3h0.8M210.7 47.9h0.8M213.8 40.2h0.8M213.6 45.9h0.8M210.4 52.7h0.8M215.0 47.8h0.8M212.0 40.1h0.8M208.2 41.6h0.8M214.2 37.6h0.8M210.8 37.3h0.8M208.3 37.0h0.8M207.9 49.9h0.8M211.5 47.5h0.8M210.1 42.5h0.8M210.9 47.9h0.8M207.0 47.4h0.8M210.4 50.1h0.8M210.9 44.2h0.8M210.1 39.9h0.8M211.6 39.9h0.8M211.7 47.2h0.8M210.5 49.1h0.8M210.0 43.6h0.8M206.1 42.6h0.8M210.8 52.8h0.8M206.4 47.0h0.8M209.1 46.2h0.8M215.5 41.8h0.8M214.1 37.8h0.8M209.1 45.5h0.8M207.3 41.0h0.8M208.0 55.1h0.8M211.3 44.7h0.8M211.7 37.7h0.8M211.4 44.5h0.8M210.8 44.0h0.8M210.0 43.9h0.8M208.9 43.0h0.8M206.3 42.8h0.8M207.5 42.3h0.8M205.9 46.2h0.8M211.8 40.8h0.8M205.9 48.2h0.8M211.6 46.1h0.8M212.0 45.1h0.8M209.3 49.2h0.8M206.3 52.0h0.8M210.2 43.9h0.8M206.7 44.1h0.8M208.6 44.4h0.8M214.2 49.1h0.8M210.1 43.1h0.8M208.4 49.7h0.8M207.0 43.8h0.8M203.8 37.1h0.8M211.4 42.6h0.8M210.2 43.9h0.8M214.2 38.8h0.8M217.5 42.3h0.8M211.8 46.2h0.8M216.1 42.0h0.8M210.2 41.2h0.8M212.1 46.8h0.8M206.3 34.8h0.8M208.7 46.5h0.8M207.5 37.7h0.8M209.3 41.1h0.8M212.3 44.4h0.8M209.8 40.8h0.8M208.2 45.4h0.8M212.0 48.5h0.8M211.1 48.1h0.8M205.4 45.1h0.8M209.4 41.1h0.8M214.3 45.1h0.8M208.3 49.3h0.8M209.6 40.1h0.8M211.5 45.9h0.8M207.7 49.2h0.8M214.8 48.4h0.8M208.5 49.8h0.8M213.6 44.9h0.8M213.3 41.2h0.8M209.8 44.5h0.8M209.7 40.9h0.8M205.3 48.5h0.8M206.0 44.3h0.8M213.0 42.1h0.8M212.5 53.0h0.8M212.3 49.5h0.8M212.8 48.8h0.8M210.0 47.9h0.8M209.9 36.9h0.8M215.0 46.6h0.8M211.1 43.2h0.8M211.1 32.7h0.8M207.5 47.4h0.8M208.5 41.7h0.8M209.6 38.8h0.8M206.9 47.2h0.8M214.4 44.9h0.8M210.2 41.6h0.8M210.1 52.3h0.8M210.1 47.5h0.8M208.6 49.4h0.8M210.7 45.5h0.8M210.4 40.3h0.8M207.3 47.1h0.8M212.4 45.6h0.8M208.1 45.7h0.8M213.7 47.0h0.8M206.8 44.1h0.8M209.9 46.2h0.8M211.6 40.0h0.8M208.9 39.1h0.8M208.4 46.6h0.8M208.8 43.9h0.8M208.5 43.6h0.8M206.3 45.9h0.8M209.5 46.5h0.8M210.4 40.5h0.8M213.2 49.1h0.8M211.3 45.6h0.8M211.2 42.4h0.8M209.0 47.6h0.8M209.4 43.7h0.8M207.5 54.7h0.8M212.3 42.5h0.8M215.9 41.9h0.8M212.1 37.9h0.8M211.3 49.2h0.8M205.8 43.3h0.8M205.0 43.7h0.8M207.1 43.7h0.8M209.1 47.1h0.8M206.0 46.6h0.8M208.2 47.2h0.8M208.1 48.7h0.8M212.5 49.3h0.8M208.9 47.8h0.8M206.4 44.9h0.8M212.0 45.8h0.8M213.2 40.0h0.8M211.8 42.2h0.8M206.0 44.2h0.8" stroke="#000" stroke-width="0.9" stroke-opacity="0.85" fill="none"/>
<path d="M161.8 76.9h0.8M160.2 65.4h0.8M172.4 82.3h0.8M161.8 78.9h0.8M161.7 80.9h0.8M171.7 79.5h0.8M165.1 81.9h0.8M170.9 64.2h0.8M170.9 72.6h0.8M178.4 66.7h0.8M172.7 87.0h0.8M170.0 69.8h0.8M164.3 60.2h0.8M175.8 94.4h0.8M173.6 75.0h0.8M172.3 61.0h0.8M165.1 85.0h0.8M171.8 85.2h0.8M164.0 92.0h0.8M168.1 79.5h0.8M166.9 88.5h0.8M172.0 74.9h0.8M164.3 67.8h0.8M169.2 94.4h0.8M163.9 89.7h0.8M160.9 94.4h0.8M164.8 86.7h0.8M165.8 72.9h0.8M170.2 67.0h0.8M163.2 68.8h0.8M173.4 65.7h0.8M177.9 75.3h0.8M159.9 94.4h0.8M173.3 77.2h0.8M159.9 65.3h0.8M159.9 63.7h0.8M171.1 81.7h0.8M180.8 76.0h0.8M169.7 74.8h0.8M176.0 91.6h0.8M162.5 62.8h0.8M160.5 77.4h0.8M182.0 80.7h0.8M176.0 70.3h0.8M173.5 71.7h0.8M173.3 73.7h0.8M172.2 91.8h0.8M163.9 81.1h0.8M169.8 63.3h0.8M177.8 91.0h0.8M174.3 77.5h0.8M172.6 85.3h0.8M182.3 73.2h0.8M177.3 80.5h0.8M165.4 81.9h0.8M169.3 83.9h0.8M169.0 70.9h0.8M166.8 75.7h0.8M176.3 80.6h0.8M172.8 70.6h0.8M164.8 86.2h0.8M171.2 75.2h0.8M163.6 94.4h0.8M171.1 75.0h0.8M178.8 73.6h0.8M174.3 88.0h0.8M172.1 83.0h0.8M172.2 72.9h0.8M175.6 88.5h0.8M177.7 71.5h0.8M213.2 60.0h0.8M208.3 54.7h0.8M210.5 71.7h0.8M207.9 67.0h0.8M209.6 84.9h0.8M211.6 65.1h0.8M207.3 56.6h0.8M215.2 72.0h0.8M212.8 78.2h0.8M212.2 70.2h0.8M208.3 57.8h0.8M207.6 80.2h0.8M209.4 78.4h0.8M210.4 80.3h0.8M211.0 55.2h0.8M213.6 64.1h0.8M211.9 73.4h0.8M209.6 94.2h0.8M213.1 62.9h0.8M214.2 85.5h0.8M211.8 69.7h0.8M211.6 69.7h0.8M214.0 73.1h0.8M212.0 64.3h0.8M215.3 87.2h0.8M209.2 94.4h0.8M209.6 53.5h0.8M207.7 75.7h0.8M211.4 67.2h0.8M211.0 61.6h0.8M210.3 69.9h0.8M210.3 58.4h0.8M208.4 68.0h0.8M207.3 66.0h0.8M213.5 88.3h0.8M209.6 73.2h0.8M213.8 82.0h0.8M210.8 68.2h0.8M216.2 80.4h0.8M212.2 68.2h0.8M214.2 52.2h0.8M207.2 73.7h0.8M161.6 45.3h0.8M187.1 55.8h0.8M188.7 38.6h0.8M162.5 34.4h0.8M187.7 57.9h0.8M174.2 39.8h0.8M190.6 41.3h0.8M185.1 46.0h0.8M179.8 33.0h0.8M179.4 23.4h0.8M171.8 47.4h0.8M186.0 49.0h0.8M172.9 24.0h0.8M188.1 47.1h0.8M179.9 49.4h0.8" stroke="#777" stroke-width="0.7" stroke-opacity="0.55" fill="none"/>
<text x="204.4" y="20.6" font-size="9.7">97.9 ±0.6</text>
<rect x="159.3" y="114.4" width="90.7" height="87.9" fill="none" stroke="#8e8e8e" stroke-width="1"/>
<text font-size="3.5" style="font-weight:normal;fill:#5c5c5c;stroke:none" transform="translate(157.2 116.4) rotate(-90)">10<tspan dy="-1.1" font-size="2.2">4</tspan></text>
<text x="159.8" y="206.3" font-size="3.5" style="font-weight:normal;fill:#5c5c5c;stroke:none">10<tspan dy="-1.1" font-size="2.2">0</tspan></text>
<text font-size="3.5" style="font-weight:normal;fill:#5c5c5c;stroke:none" transform="translate(157.2 138.4) rotate(-90)">10<tspan dy="-1.1" font-size="2.2">3</tspan></text>
<text x="182.5" y="206.3" font-size="3.5" style="font-weight:normal;fill:#5c5c5c;stroke:none">10<tspan dy="-1.1" font-size="2.2">1</tspan></text>
<path d="M159.3 136.4h-1.5M182.0 202.3v1.5" stroke="#999" stroke-width="0.8"/>
<text font-size="3.5" style="font-weight:normal;fill:#5c5c5c;stroke:none" transform="translate(157.2 160.4) rotate(-90)">10<tspan dy="-1.1" font-size="2.2">2</tspan></text>
<text x="205.2" y="206.3" font-size="3.5" style="font-weight:normal;fill:#5c5c5c;stroke:none">10<tspan dy="-1.1" font-size="2.2">2</tspan></text>
<path d="M159.3 158.4h-1.5M204.7 202.3v1.5" stroke="#999" stroke-width="0.8"/>
<text font-size="3.5" style="font-weight:normal;fill:#5c5c5c;stroke:none" transform="translate(157.2 182.3) rotate(-90)">10<tspan dy="-1.1" font-size="2.2">1</tspan></text>
<text x="227.8" y="206.3" font-size="3.5" style="font-weight:normal;fill:#5c5c5c;stroke:none">10<tspan dy="-1.1" font-size="2.2">3</tspan></text>
<path d="M159.3 180.3h-1.5M227.3 202.3v1.5" stroke="#999" stroke-width="0.8"/>
<text font-size="3.5" style="font-weight:normal;fill:#5c5c5c;stroke:none" transform="translate(157.2 204.3) rotate(-90)">10<tspan dy="-1.1" font-size="2.2">0</tspan></text>
<text x="250.5" y="206.3" font-size="3.5" style="font-weight:normal;fill:#5c5c5c;stroke:none">10<tspan dy="-1.1" font-size="2.2">4</tspan></text>
<path d="M213.5 199.7h0.8M213.9 196.8h0.8M209.7 180.6h0.8M211.2 178.9h0.8M213.0 186.5h0.8M209.3 196.7h0.8M215.4 179.3h0.8M210.9 193.1h0.8M213.1 191.2h0.8M207.4 197.7h0.8M210.2 188.8h0.8M212.1 177.5h0.8M214.0 178.3h0.8M214.9 181.8h0.8M211.4 183.9h0.8M213.4 186.7h0.8M212.7 193.4h0.8M209.9 184.4h0.8M210.8 186.8h0.8M215.5 184.7h0.8M211.0 191.5h0.8M209.1 198.5h0.8M212.8 178.9h0.8M213.0 193.4h0.8M213.1 193.9h0.8M211.9 200.3h0.8M215.0 179.2h0.8M212.3 199.8h0.8M212.2 189.3h0.8M216.3 199.7h0.8M214.5 192.4h0.8M209.0 184.1h0.8M211.6 181.4h0.8M211.3 191.5h0.8M211.3 181.5h0.8M213.5 182.3h0.8M210.4 195.8h0.8M212.6 199.8h0.8M214.4 187.4h0.8M213.2 188.7h0.8M212.5 192.1h0.8M212.5 201.6h0.8M213.3 194.3h0.8M211.8 191.9h0.8M210.1 188.1h0.8M213.0 178.3h0.8M212.2 182.6h0.8M209.3 177.9h0.8M210.2 181.4h0.8M211.7 182.8h0.8M209.1 186.9h0.8M211.2 186.3h0.8M212.2 182.1h0.8M213.0 191.9h0.8M213.5 199.3h0.8M212.7 189.6h0.8M209.3 198.8h0.8M211.6 200.1h0.8M212.0 186.0h0.8M209.8 188.3h0.8M212.4 180.1h0.8M213.6 193.4h0.8M209.4 176.7h0.8M214.4 190.8h0.8M214.2 192.5h0.8M214.1 200.7h0.8M213.1 200.7h0.8M213.4 199.4h0.8M212.1 186.3h0.8M213.2 190.6h0.8M213.0 196.8h0.8M211.0 189.7h0.8M210.3 199.2h0.8M214.3 198.1h0.8M210.3 178.8h0.8M213.0 192.6h0.8M212.3 197.3h0.8M210.4 190.5h0.8M211.6 186.8h0.8M212.1 195.8h0.8M208.7 181.2h0.8M215.0 178.4h0.8M210.8 180.2h0.8M212.4 177.2h0.8M210.9 195.0h0.8M212.7 189.9h0.8M213.0 199.8h0.8M210.0 199.9h0.8M212.4 195.2h0.8M211.5 196.7h0.8M209.4 176.4h0.8M213.3 192.7h0.8M212.9 191.6h0.8M209.3 182.1h0.8M213.8 182.8h0.8M209.5 198.9h0.8M212.6 179.0h0.8M215.3 177.5h0.8M210.5 196.0h0.8M211.3 196.6h0.8M213.8 190.4h0.8M214.6 182.3h0.8M209.9 183.6h0.8M209.6 179.9h0.8M209.6 190.3h0.8M212.9 189.3h0.8M211.4 196.2h0.8M211.5 195.4h0.8M212.4 190.9h0.8M213.5 182.0h0.8M205.7 191.1h0.8M214.4 188.6h0.8M211.1 179.7h0.8M211.8 192.0h0.8M212.7 192.3h0.8M213.4 180.8h0.8M211.7 193.4h0.8M215.6 197.6h0.8M210.9 184.8h0.8M210.7 190.9h0.8M213.6 182.5h0.8M214.7 197.9h0.8M208.6 192.1h0.8M214.4 182.3h0.8M210.1 201.6h0.8M213.1 198.6h0.8M211.6 191.3h0.8M210.2 195.3h0.8M212.2 179.2h0.8M210.6 181.3h0.8M213.9 180.8h0.8M208.5 194.6h0.8M211.4 195.8h0.8M211.5 176.9h0.8M211.8 190.4h0.8M210.4 196.8h0.8M211.4 190.7h0.8M213.3 201.6h0.8M211.3 188.8h0.8M209.8 200.4h0.8M214.5 201.6h0.8M209.1 193.8h0.8M210.3 181.0h0.8M212.1 189.3h0.8M210.4 193.2h0.8M209.8 179.7h0.8M210.2 187.3h0.8M214.2 187.4h0.8M214.9 180.3h0.8M211.3 180.5h0.8M211.9 186.0h0.8M214.4 184.9h0.8M210.5 180.0h0.8M210.1 197.8h0.8M208.8 193.9h0.8M213.1 201.6h0.8M209.9 180.7h0.8M209.4 193.0h0.8M212.8 196.1h0.8M213.9 182.0h0.8M212.6 201.6h0.8M208.5 190.9h0.8M208.9 176.6h0.8M209.7 185.5h0.8M211.5 200.6h0.8M212.4 201.6h0.8M209.2 199.5h0.8M215.5 191.8h0.8M212.4 187.2h0.8M215.4 178.6h0.8M213.9 194.6h0.8M212.3 188.3h0.8M213.4 196.9h0.8M213.6 182.7h0.8M211.4 187.7h0.8M209.5 180.7h0.8M211.3 198.9h0.8M213.1 189.6h0.8M213.8 179.9h0.8M209.9 179.6h0.8M211.1 195.9h0.8M210.9 190.2h0.8M211.1 194.5h0.8M210.8 199.7h0.8M214.2 189.5h0.8M212.0 200.2h0.8M214.2 176.0h0.8M211.8 192.2h0.8M211.4 184.7h0.8M211.1 188.4h0.8M214.5 200.4h0.8M210.9 197.4h0.8M210.5 183.7h0.8M212.7 196.4h0.8M208.9 185.8h0.8M211.3 177.9h0.8M214.5 184.1h0.8M212.4 188.5h0.8M211.5 177.8h0.8M214.3 181.3h0.8M208.7 188.0h0.8M214.3 176.3h0.8M209.5 194.7h0.8M210.3 185.0h0.8M214.5 200.4h0.8M210.3 190.2h0.8M211.6 194.5h0.8M209.2 178.9h0.8M212.2 191.6h0.8M212.2 178.2h0.8M211.5 181.3h0.8M213.4 184.5h0.8M211.2 187.9h0.8M212.7 191.4h0.8M211.1 187.2h0.8M213.9 195.5h0.8M207.8 181.4h0.8M211.1 184.6h0.8M211.8 201.1h0.8M211.3 197.3h0.8M211.6 191.6h0.8M212.9 184.9h0.8M216.4 196.8h0.8M213.2 181.4h0.8M209.5 185.6h0.8M210.1 196.1h0.8M211.6 184.8h0.8M212.7 193.4h0.8M210.9 185.4h0.8M212.2 195.3h0.8M210.1 185.7h0.8M209.6 196.6h0.8M211.4 201.6h0.8M214.2 176.7h0.8M209.8 185.1h0.8M210.3 186.6h0.8M213.5 194.8h0.8M212.7 188.0h0.8M211.9 187.0h0.8M215.3 185.2h0.8M211.6 182.8h0.8M212.4 196.3h0.8M212.6 179.7h0.8M213.8 191.7h0.8M218.5 195.2h0.8M210.5 192.4h0.8M214.7 184.2h0.8M212.9 179.5h0.8M209.0 189.3h0.8M211.7 183.4h0.8M211.7 193.6h0.8M211.7 198.6h0.8M209.9 190.0h0.8M213.1 192.5h0.8M211.5 178.4h0.8M210.8 196.1h0.8M211.6 185.6h0.8M213.4 183.9h0.8M211.7 183.9h0.8M213.7 184.8h0.8M213.8 187.6h0.8M212.8 188.4h0.8M213.9 198.1h0.8M216.3 198.8h0.8M209.1 191.1h0.8M214.0 198.6h0.8M211.0 196.1h0.8M212.2 186.2h0.8M212.2 179.7h0.8M209.1 175.7h0.8M213.2 189.4h0.8M209.8 190.4h0.8M210.6 184.1h0.8M213.6 178.0h0.8M213.1 183.7h0.8M214.0 193.2h0.8M212.5 188.3h0.8M211.6 195.6h0.8M212.8 183.9h0.8M212.1 188.4h0.8M213.0 201.1h0.8M213.7 176.6h0.8M212.6 191.6h0.8M211.2 180.9h0.8M209.4 194.7h0.8M212.5 192.8h0.8M210.2 192.3h0.8M210.4 176.9h0.8M212.7 180.4h0.8M212.5 188.1h0.8M211.1 183.7h0.8M214.7 195.3h0.8M208.7 184.0h0.8M209.4 193.7h0.8M212.5 189.3h0.8M213.5 189.6h0.8M213.9 187.2h0.8M214.3 183.3h0.8M211.5 177.0h0.8M215.6 182.2h0.8M210.5 184.4h0.8M213.4 188.1h0.8M210.7 197.2h0.8M213.0 197.3h0.8M211.7 190.4h0.8M210.8 197.9h0.8M215.5 188.1h0.8M208.1 196.3h0.8M213.9 189.0h0.8M210.6 201.6h0.8M211.4 191.9h0.8M213.1 197.9h0.8M213.8 197.0h0.8M216.2 191.6h0.8M212.0 180.1h0.8M210.9 187.9h0.8M209.8 191.4h0.8M211.2 188.9h0.8M209.9 197.3h0.8M211.8 178.8h0.8M214.2 200.8h0.8M210.8 180.5h0.8M212.3 199.7h0.8M213.7 181.3h0.8M212.5 180.4h0.8M210.0 198.9h0.8M212.5 194.4h0.8M214.2 195.5h0.8M212.9 196.6h0.8M212.7 189.1h0.8M211.9 197.5h0.8M212.9 196.4h0.8M211.4 182.1h0.8M210.8 184.9h0.8M215.1 200.7h0.8M209.9 192.1h0.8M212.1 197.2h0.8M210.6 185.6h0.8M209.8 193.6h0.8M214.4 197.9h0.8M210.7 200.4h0.8M215.8 194.2h0.8M212.6 189.7h0.8M210.3 194.1h0.8M211.2 200.6h0.8M211.7 183.9h0.8M211.3 192.2h0.8M213.0 182.6h0.8M211.4 199.2h0.8M213.8 192.2h0.8M211.2 200.1h0.8M211.6 185.8h0.8M212.4 200.6h0.8M210.4 200.6h0.8M209.7 199.6h0.8M212.5 187.9h0.8M214.2 201.6h0.8M210.7 194.8h0.8M212.0 185.5h0.8M215.1 192.4h0.8M212.0 200.4h0.8M211.9 201.6h0.8M210.7 191.9h0.8M213.5 194.9h0.8M212.6 191.9h0.8M210.1 195.8h0.8M213.4 184.0h0.8M212.6 192.2h0.8M213.3 194.8h0.8M212.0 192.6h0.8M213.3 187.2h0.8M213.7 193.0h0.8M211.6 194.9h0.8M212.0 201.6h0.8M212.6 185.8h0.8M210.7 200.7h0.8M210.3 182.5h0.8M208.4 176.9h0.8M212.3 196.2h0.8M210.2 195.1h0.8M211.7 190.6h0.8M209.8 189.7h0.8M214.2 190.0h0.8M216.7 184.5h0.8M215.5 180.1h0.8M212.4 184.8h0.8M213.7 178.7h0.8M213.5 195.8h0.8M214.2 192.7h0.8M208.8 181.3h0.8M216.0 187.2h0.8M210.4 191.4h0.8M208.8 199.4h0.8M208.8 191.7h0.8M213.6 195.4h0.8M211.6 189.2h0.8M211.2 195.5h0.8M211.9 198.5h0.8M214.7 194.0h0.8M213.3 201.6h0.8M215.5 197.1h0.8M212.0 182.6h0.8M214.1 176.3h0.8M212.5 196.6h0.8M214.8 191.8h0.8M210.5 194.2h0.8M214.4 178.4h0.8M217.3 180.1h0.8M211.8 196.7h0.8M212.3 189.6h0.8M210.0 181.2h0.8M211.9 187.4h0.8M211.5 176.8h0.8M211.4 179.9h0.8M213.5 200.0h0.8M211.8 193.8h0.8M212.6 186.8h0.8M214.5 192.7h0.8M210.9 179.0h0.8M214.7 195.4h0.8M210.0 180.1h0.8M208.8 180.1h0.8M211.1 188.0h0.8M210.5 187.9h0.8M211.7 191.3h0.8M215.1 186.7h0.8M209.8 179.9h0.8M208.7 197.8h0.8M213.1 198.8h0.8M215.7 191.4h0.8M209.2 191.3h0.8M211.7 186.1h0.8M212.3 194.0h0.8M207.7 187.4h0.8M213.2 177.6h0.8M212.8 195.8h0.8M211.4 186.2h0.8M212.3 201.0h0.8M208.0 190.2h0.8M211.3 200.6h0.8M212.5 199.3h0.8M210.0 180.5h0.8M210.6 179.3h0.8M212.9 186.4h0.8M215.6 180.0h0.8M214.8 194.3h0.8M214.3 182.7h0.8M212.7 191.1h0.8M211.3 197.5h0.8M209.6 198.4h0.8M211.6 178.9h0.8M209.3 191.6h0.8M210.7 185.9h0.8M211.4 178.9h0.8M211.9 199.1h0.8M211.8 189.0h0.8M212.8 185.5h0.8M212.8 191.6h0.8M210.0 181.1h0.8M208.9 189.4h0.8M212.2 181.9h0.8M208.4 193.7h0.8M210.2 187.7h0.8M209.3 183.3h0.8M212.0 187.0h0.8M211.5 198.8h0.8M212.3 197.9h0.8M213.5 199.4h0.8M211.2 195.3h0.8M212.9 188.8h0.8M213.3 198.9h0.8M213.8 195.5h0.8M207.0 190.8h0.8M210.0 180.4h0.8M213.8 192.0h0.8M214.2 178.8h0.8M208.7 194.6h0.8M211.2 189.7h0.8M211.4 182.9h0.8M211.0 199.3h0.8M213.1 188.0h0.8M213.3 187.2h0.8M213.7 188.3h0.8M215.2 195.3h0.8M214.5 197.8h0.8M213.4 193.2h0.8M213.4 180.6h0.8M213.9 201.6h0.8M211.5 191.7h0.8M210.2 193.4h0.8M211.2 188.1h0.8M213.0 195.1h0.8M211.6 199.2h0.8M211.3 189.3h0.8M211.0 196.7h0.8M210.7 192.1h0.8M210.3 194.6h0.8M210.5 201.1h0.8M209.5 184.3h0.8M211.4 197.8h0.8M215.0 192.8h0.8M211.7 195.6h0.8M215.0 192.5h0.8M212.2 198.7h0.8M211.0 188.3h0.8M212.0 185.3h0.8M215.1 196.4h0.8M214.6 185.1h0.8M210.9 195.4h0.8M212.7 178.0h0.8M214.5 199.5h0.8M212.9 185.0h0.8M211.0 178.8h0.8M209.5 199.6h0.8M210.3 184.2h0.8M208.6 196.2h0.8M208.8 193.1h0.8M211.6 188.0h0.8M211.0 193.0h0.8M214.7 180.1h0.8M212.3 194.9h0.8M214.8 187.0h0.8M213.0 184.8h0.8M213.7 176.7h0.8M214.8 178.8h0.8M212.1 180.5h0.8M210.6 180.5h0.8M210.9 184.4h0.8M212.3 187.2h0.8M217.6 196.2h0.8M212.1 193.2h0.8M210.0 201.0h0.8M212.8 192.8h0.8M213.6 199.1h0.8M211.2 194.6h0.8M213.1 194.9h0.8M209.4 199.4h0.8M211.7 186.8h0.8M214.8 200.5h0.8M211.3 193.4h0.8M209.7 193.4h0.8M208.7 196.4h0.8M209.1 188.8h0.8M214.2 181.3h0.8M211.4 189.6h0.8M216.5 188.3h0.8M214.1 192.7h0.8M215.5 198.7h0.8M206.2 185.7h0.8M213.2 177.6h0.8M214.2 197.2h0.8M212.3 189.6h0.8M212.0 197.9h0.8M210.0 186.0h0.8M209.4 195.3h0.8M212.6 199.8h0.8M212.1 201.2h0.8M211.8 177.6h0.8M212.2 187.1h0.8M211.6 193.5h0.8M211.3 188.5h0.8M208.4 188.6h0.8M214.7 199.4h0.8M214.9 177.7h0.8M212.4 176.9h0.8M215.4 192.4h0.8M212.1 196.6h0.8M211.5 182.4h0.8M211.3 195.5h0.8M211.5 196.3h0.8M212.8 182.2h0.8M213.6 185.1h0.8M212.4 192.4h0.8M211.5 200.3h0.8M212.4 182.4h0.8M211.2 186.0h0.8M209.0 186.6h0.8M211.0 194.7h0.8M212.7 194.5h0.8M212.1 191.3h0.8M214.2 192.7h0.8M211.1 184.3h0.8M213.9 187.4h0.8M212.0 186.9h0.8M212.3 179.5h0.8M214.5 196.8h0.8M210.0 183.7h0.8M210.4 176.7h0.8M214.4 181.9h0.8M214.0 191.1h0.8M213.3 192.6h0.8M210.7 179.3h0.8M207.0 182.6h0.8M210.0 195.8h0.8M208.9 186.7h0.8M213.1 201.6h0.8M210.4 190.7h0.8M208.2 179.5h0.8M213.3 183.6h0.8M210.5 185.0h0.8M212.5 183.0h0.8M212.7 201.0h0.8M213.4 190.4h0.8M215.0 183.1h0.8M210.7 197.9h0.8M209.1 192.3h0.8M212.2 189.4h0.8M210.0 190.0h0.8M210.2 191.7h0.8M210.5 188.8h0.8M214.5 184.4h0.8M213.5 200.1h0.8M210.5 180.9h0.8M214.3 200.6h0.8M215.0 190.4h0.8M213.3 183.1h0.8M212.3 182.0h0.8M213.2 194.2h0.8M211.5 195.4h0.8M210.6 179.9h0.8M211.7 177.1h0.8M211.2 188.9h0.8M211.7 190.7h0.8M213.3 184.6h0.8M213.5 179.6h0.8M210.6 186.3h0.8M214.5 197.9h0.8M209.8 199.6h0.8M211.2 187.8h0.8M212.2 180.4h0.8M211.0 187.8h0.8M214.0 183.7h0.8M208.2 201.2h0.8M216.3 188.3h0.8M209.9 201.6h0.8M213.2 179.5h0.8M214.3 191.8h0.8M209.2 198.1h0.8M212.1 179.7h0.8M213.4 200.6h0.8M209.3 182.7h0.8M210.2 201.0h0.8M212.5 182.4h0.8M209.6 188.2h0.8M211.8 178.0h0.8M210.9 200.6h0.8M212.1 191.3h0.8M210.0 199.5h0.8M207.7 183.7h0.8M210.2 186.2h0.8M212.1 179.4h0.8M211.9 182.9h0.8M212.3 177.3h0.8M209.8 200.5h0.8M207.8 198.4h0.8M212.0 180.9h0.8M211.6 187.1h0.8M212.1 182.1h0.8M209.3 182.0h0.8M211.8 194.0h0.8M210.0 196.4h0.8M215.8 201.0h0.8M208.7 195.8h0.8M213.8 183.8h0.8M209.6 182.0h0.8M211.7 200.7h0.8M211.9 197.2h0.8M213.2 176.3h0.8M213.6 179.1h0.8M212.2 201.6h0.8M210.0 185.1h0.8M212.0 198.5h0.8M211.7 186.6h0.8M210.6 180.9h0.8M211.6 201.5h0.8M214.5 193.3h0.8M212.0 184.9h0.8M210.4 201.2h0.8M214.4 190.3h0.8M215.6 186.2h0.8M215.0 191.6h0.8M211.9 186.3h0.8M211.8 193.8h0.8M212.7 178.1h0.8M211.5 188.1h0.8M208.2 190.0h0.8M214.1 185.1h0.8M209.7 187.5h0.8M209.6 191.3h0.8M211.2 196.5h0.8M214.3 201.6h0.8M211.5 191.4h0.8M214.0 179.8h0.8M213.1 185.3h0.8M213.7 194.4h0.8M210.2 193.2h0.8M209.0 179.3h0.8M209.8 191.9h0.8M215.6 197.5h0.8M209.5 182.6h0.8M215.0 179.8h0.8M211.7 180.2h0.8M209.6 183.4h0.8M210.5 178.9h0.8M214.0 187.2h0.8M211.3 198.6h0.8M210.6 194.1h0.8M214.0 197.0h0.8M210.9 194.1h0.8M210.9 187.6h0.8M214.0 199.1h0.8M213.5 191.0h0.8M212.3 201.0h0.8M210.8 189.6h0.8M210.9 189.1h0.8M216.8 191.8h0.8M209.5 177.9h0.8M207.9 199.1h0.8M212.0 198.3h0.8M210.9 182.5h0.8M213.8 182.4h0.8M210.9 185.8h0.8M213.1 191.3h0.8M211.7 197.0h0.8M210.9 200.7h0.8M212.5 182.0h0.8M210.5 180.1h0.8M215.9 185.0h0.8M213.9 184.9h0.8M212.5 182.1h0.8M213.4 195.2h0.8M211.0 189.7h0.8M212.3 178.4h0.8M212.8 177.7h0.8M214.2 193.8h0.8M213.0 191.1h0.8M213.0 178.7h0.8M215.5 185.3h0.8M212.7 179.3h0.8M210.0 183.5h0.8M212.6 197.0h0.8M212.2 187.4h0.8M213.8 180.1h0.8M208.3 188.4h0.8M214.7 191.1h0.8M209.5 175.6h0.8M214.6 201.1h0.8M213.3 196.9h0.8M210.2 198.0h0.8M210.8 176.9h0.8M211.1 200.4h0.8M212.3 180.4h0.8M209.8 177.0h0.8M211.1 185.3h0.8M213.5 199.7h0.8M212.1 188.1h0.8M211.7 196.8h0.8M213.4 181.8h0.8M210.0 183.5h0.8M209.7 182.8h0.8M211.3 185.1h0.8M212.4 199.2h0.8M210.5 184.2h0.8M211.9 182.9h0.8M212.5 188.7h0.8M213.0 180.4h0.8M213.4 185.6h0.8M211.1 193.1h0.8M214.6 195.5h0.8M212.5 185.8h0.8M211.3 183.8h0.8M214.3 194.5h0.8M211.1 199.0h0.8M209.6 192.7h0.8M212.6 199.1h0.8M208.7 199.1h0.8M210.7 178.8h0.8M212.0 184.7h0.8M212.9 193.9h0.8M213.5 191.2h0.8M212.7 190.4h0.8M212.6 198.1h0.8M210.5 184.0h0.8M212.7 188.4h0.8M211.1 195.4h0.8M211.3 191.0h0.8M210.8 188.4h0.8M214.7 199.6h0.8M214.5 185.7h0.8M207.7 190.1h0.8M211.1 199.5h0.8M209.8 185.3h0.8M211.7 195.0h0.8M214.4 187.9h0.8M212.0 186.4h0.8M213.9 180.7h0.8M210.3 195.7h0.8M215.1 186.4h0.8M216.0 178.3h0.8M212.1 180.9h0.8M206.1 179.6h0.8M208.9 201.4h0.8M209.5 176.5h0.8M213.7 191.6h0.8M211.6 199.2h0.8M209.7 184.0h0.8M213.2 178.2h0.8M210.9 183.4h0.8M208.7 192.6h0.8M207.8 195.5h0.8M213.4 179.5h0.8M213.4 193.4h0.8M210.0 201.1h0.8M209.6 198.6h0.8M211.0 200.7h0.8M216.2 200.5h0.8M212.6 176.9h0.8M210.8 201.0h0.8M210.6 179.2h0.8M213.1 194.9h0.8M213.8 177.1h0.8M209.6 191.4h0.8M210.9 198.1h0.8M211.9 201.5h0.8M211.8 188.4h0.8M212.1 194.9h0.8M211.5 192.5h0.8M215.4 185.4h0.8M210.8 175.5h0.8M213.9 191.0h0.8M211.0 178.1h0.8M215.9 200.7h0.8M211.2 199.8h0.8M211.6 191.3h0.8M214.1 200.6h0.8M210.3 184.0h0.8M213.7 189.3h0.8M211.6 186.8h0.8M211.7 181.0h0.8M210.1 189.0h0.8M212.8 199.8h0.8M210.7 179.2h0.8M212.1 198.5h0.8M211.5 189.9h0.8M212.3 199.9h0.8M211.5 198.0h0.8M214.1 185.8h0.8M209.5 190.8h0.8M211.9 197.6h0.8M214.1 180.9h0.8M213.3 196.8h0.8M213.9 187.7h0.8M209.9 194.9h0.8M214.7 201.6h0.8M210.9 197.9h0.8M211.9 188.8h0.8M210.5 181.6h0.8M213.5 200.2h0.8M213.6 182.1h0.8M208.6 188.2h0.8M207.4 178.2h0.8M213.4 195.9h0.8M210.9 198.1h0.8M213.4 187.4h0.8M212.3 181.5h0.8M211.9 184.0h0.8M211.5 195.2h0.8M209.3 181.5h0.8M210.7 191.5h0.8M212.9 178.1h0.8M213.0 183.3h0.8M214.4 186.6h0.8M211.4 199.2h0.8M211.4 189.8h0.8M212.5 183.3h0.8M207.1 195.2h0.8M214.2 193.6h0.8M211.3 194.8h0.8M211.7 193.8h0.8M212.2 191.4h0.8M209.8 184.1h0.8M212.8 201.5h0.8M210.0 188.9h0.8M206.4 178.3h0.8M213.2 197.9h0.8M216.5 185.6h0.8M213.2 178.3h0.8M213.1 188.6h0.8M211.8 193.9h0.8M216.2 192.1h0.8M215.0 196.8h0.8M210.9 182.7h0.8M211.7 197.8h0.8M209.7 189.4h0.8M212.0 180.4h0.8M208.6 186.3h0.8M210.5 185.3h0.8M211.9 195.7h0.8M208.2 183.0h0.8M210.4 183.5h0.8M213.4 197.1h0.8M213.7 201.6h0.8M209.9 192.4h0.8M211.4 191.9h0.8M211.4 195.1h0.8M211.6 186.8h0.8M211.5 194.4h0.8M209.9 200.2h0.8M214.2 183.4h0.8M211.9 190.0h0.8M210.1 185.5h0.8M212.2 179.5h0.8M213.3 187.3h0.8M213.0 180.5h0.8M216.0 177.5h0.8M209.9 185.1h0.8M210.7 197.9h0.8M209.7 183.6h0.8M209.2 182.2h0.8M214.3 190.4h0.8M212.1 181.4h0.8M211.7 179.5h0.8M213.9 192.7h0.8M211.0 187.2h0.8M209.1 180.4h0.8M211.6 184.3h0.8M210.2 189.4h0.8M209.1 180.4h0.8M215.4 194.1h0.8M212.5 191.3h0.8M213.1 178.9h0.8M215.3 183.1h0.8M212.0 193.5h0.8M213.3 178.6h0.8M211.1 191.6h0.8M208.1 177.6h0.8M213.3 192.2h0.8M214.5 177.7h0.8M211.0 197.0h0.8M211.4 178.8h0.8M208.5 179.2h0.8M209.6 195.6h0.8M214.9 198.3h0.8M210.8 193.7h0.8M210.4 187.8h0.8M211.4 195.9h0.8M209.8 179.3h0.8M209.4 185.2h0.8M208.8 188.1h0.8M212.2 195.7h0.8M210.7 179.8h0.8M210.9 181.3h0.8M213.2 178.1h0.8M215.7 178.5h0.8M210.7 182.6h0.8M209.3 176.6h0.8M209.5 194.8h0.8M213.9 195.1h0.8M209.9 190.2h0.8M212.8 199.3h0.8M214.8 186.7h0.8M211.8 194.0h0.8M211.5 189.4h0.8M212.7 201.6h0.8M215.3 194.2h0.8M210.6 176.8h0.8M211.9 196.9h0.8M210.9 183.6h0.8M211.4 193.4h0.8M209.6 189.9h0.8M214.9 187.9h0.8M213.2 195.2h0.8M212.7 178.2h0.8M213.6 199.2h0.8M213.0 177.2h0.8M214.4 193.5h0.8M210.9 182.5h0.8M211.6 200.2h0.8M211.5 199.5h0.8M212.3 192.7h0.8M209.3 188.7h0.8M217.7 178.6h0.8M210.3 178.8h0.8M211.7 200.3h0.8M214.8 185.6h0.8M211.2 197.7h0.8M213.6 191.2h0.8M214.3 185.3h0.8M208.0 201.6h0.8M210.1 194.6h0.8M212.5 182.8h0.8M209.7 181.9h0.8M214.5 179.5h0.8M214.4 192.8h0.8M213.5 185.3h0.8M210.8 191.8h0.8M210.8 181.0h0.8M213.2 177.4h0.8M208.3 201.3h0.8M210.1 201.2h0.8M213.5 189.5h0.8M212.0 194.8h0.8M208.9 201.6h0.8M212.7 182.5h0.8M213.4 192.3h0.8M210.9 179.8h0.8M208.2 174.9h0.8M209.7 197.3h0.8M211.8 197.9h0.8M211.2 187.1h0.8M208.8 185.9h0.8M210.5 181.4h0.8M211.0 184.4h0.8M212.8 181.7h0.8M208.9 180.1h0.8M209.8 175.2h0.8M214.0 189.8h0.8M208.9 195.4h0.8M207.2 184.8h0.8M208.9 192.1h0.8M210.6 187.2h0.8M210.1 182.6h0.8M211.5 178.6h0.8M211.2 201.3h0.8M209.4 179.1h0.8M213.5 200.6h0.8M209.8 187.8h0.8M213.9 190.6h0.8M209.7 193.3h0.8M211.5 188.7h0.8M214.2 188.2h0.8M210.9 188.9h0.8M213.0 189.5h0.8M214.0 193.3h0.8M208.8 188.9h0.8M209.8 192.9h0.8M211.5 175.9h0.8M208.8 197.7h0.8M211.5 181.0h0.8M212.3 182.1h0.8M211.4 193.5h0.8M210.5 183.4h0.8M212.0 194.1h0.8M210.8 186.9h0.8M211.6 191.3h0.8M210.1 194.2h0.8M214.7 200.6h0.8M214.5 184.1h0.8M213.2 188.8h0.8M211.5 179.1h0.8M213.0 185.6h0.8M212.5 200.5h0.8M211.2 185.8h0.8M214.2 181.3h0.8M215.3 184.9h0.8M206.9 192.0h0.8M213.2 185.0h0.8M212.4 192.9h0.8M212.7 199.4h0.8M210.5 199.0h0.8M212.7 176.5h0.8M211.1 191.8h0.8M208.8 198.4h0.8M211.4 187.7h0.8M215.9 201.6h0.8M211.6 196.4h0.8M211.1 192.1h0.8M209.6 180.9h0.8M214.3 180.8h0.8M212.8 191.6h0.8M211.1 182.7h0.8M215.0 199.5h0.8M212.0 196.6h0.8M213.1 177.7h0.8M210.9 191.7h0.8M215.4 183.7h0.8M209.5 186.5h0.8M214.1 184.8h0.8M211.1 184.0h0.8M209.5 197.5h0.8M213.0 196.4h0.8M209.9 197.7h0.8M210.7 194.5h0.8M213.0 187.6h0.8M213.8 185.7h0.8M215.7 195.8h0.8M211.3 185.6h0.8M212.2 191.5h0.8M206.3 189.2h0.8M211.7 189.1h0.8M208.7 197.7h0.8M210.8 201.0h0.8M211.4 184.5h0.8M212.7 178.3h0.8M212.6 192.2h0.8M213.1 192.5h0.8M209.8 196.8h0.8M207.4 199.5h0.8M214.7 188.7h0.8M211.3 181.8h0.8M213.0 200.9h0.8M210.2 186.5h0.8M210.6 181.9h0.8M210.8 177.8h0.8M211.0 192.5h0.8M212.8 199.7h0.8M211.1 197.7h0.8M211.2 185.0h0.8M211.8 195.1h0.8M211.4 189.6h0.8M211.1 192.9h0.8M214.4 178.5h0.8M212.1 188.0h0.8M215.8 190.2h0.8M212.2 193.1h0.8M210.0 192.0h0.8M209.6 184.1h0.8M211.7 200.5h0.8M209.6 184.1h0.8M211.0 186.7h0.8M210.1 188.0h0.8M214.3 192.9h0.8M212.2 176.1h0.8M211.4 192.4h0.8M210.8 187.1h0.8M209.9 175.0h0.8M210.3 183.8h0.8M211.5 182.6h0.8M214.3 194.4h0.8M212.9 187.8h0.8M210.9 179.0h0.8M212.0 195.3h0.8M212.9 182.2h0.8M209.1 201.6h0.8M211.8 199.8h0.8M210.1 192.2h0.8M210.1 180.6h0.8M213.2 186.9h0.8M212.8 193.7h0.8M213.2 183.9h0.8M209.9 179.3h0.8M212.1 194.0h0.8M213.2 177.4h0.8M210.2 198.2h0.8M212.0 186.7h0.8M211.2 180.7h0.8M214.6 194.6h0.8M210.7 192.7h0.8M209.9 196.1h0.8M212.5 184.7h0.8M210.1 190.2h0.8M212.9 194.9h0.8M213.5 194.6h0.8M212.9 194.9h0.8M213.0 193.8h0.8M210.8 179.4h0.8M213.8 193.6h0.8M212.1 188.4h0.8M213.2 193.4h0.8M209.8 186.2h0.8M211.3 183.9h0.8M206.5 187.6h0.8M207.3 184.5h0.8M215.4 181.2h0.8M212.5 186.1h0.8M208.9 178.3h0.8M210.1 186.2h0.8M209.8 200.8h0.8M215.6 187.4h0.8M211.8 198.8h0.8M210.0 187.8h0.8M213.4 190.6h0.8M212.8 194.4h0.8M214.2 184.9h0.8M212.1 185.2h0.8M212.7 184.9h0.8M211.3 196.7h0.8M212.3 179.7h0.8M209.9 181.6h0.8M209.7 191.6h0.8M211.7 178.7h0.8M213.0 187.4h0.8M216.5 200.5h0.8M212.1 184.0h0.8M211.8 179.1h0.8M213.4 177.8h0.8M208.9 187.3h0.8M210.6 198.6h0.8M214.8 181.1h0.8M211.6 197.6h0.8M212.5 177.6h0.8M211.1 199.9h0.8M212.6 180.0h0.8M216.0 191.6h0.8M210.0 200.6h0.8M212.5 187.2h0.8M210.7 192.3h0.8M212.5 179.0h0.8M212.0 199.1h0.8M214.6 197.1h0.8M213.4 180.9h0.8M209.6 186.2h0.8M212.6 196.5h0.8M213.1 181.3h0.8M212.1 195.9h0.8M211.5 193.1h0.8M208.4 191.0h0.8M211.8 179.1h0.8M212.6 192.6h0.8M214.0 179.5h0.8M211.1 177.0h0.8M209.5 191.9h0.8M211.6 194.9h0.8M212.4 194.1h0.8M211.8 182.4h0.8M208.5 198.1h0.8M211.3 197.8h0.8M211.0 187.3h0.8M208.8 185.3h0.8M211.3 199.1h0.8M209.5 188.3h0.8M210.6 199.3h0.8M213.2 199.5h0.8M213.6 199.0h0.8M212.9 186.2h0.8M212.6 199.5h0.8M208.4 180.9h0.8M210.0 187.4h0.8M211.9 192.4h0.8M215.2 185.1h0.8M212.0 195.1h0.8M209.2 200.8h0.8M210.1 193.4h0.8M211.1 181.8h0.8M214.1 180.1h0.8M213.5 181.4h0.8M211.9 183.7h0.8M210.8 192.9h0.8M209.7 173.7h0.8M210.7 179.2h0.8M210.4 194.7h0.8M210.2 193.4h0.8M211.5 191.8h0.8M211.9 177.5h0.8M210.5 184.1h0.8M215.3 190.5h0.8M210.8 194.8h0.8M210.5 200.2h0.8M208.5 191.0h0.8M211.6 197.2h0.8M216.2 185.3h0.8M210.9 180.3h0.8M212.9 188.2h0.8M213.9 187.5h0.8M215.0 181.8h0.8M214.2 179.2h0.8M209.5 194.1h0.8M212.8 176.5h0.8M214.2 194.4h0.8M213.2 201.2h0.8M210.9 193.6h0.8M211.2 178.4h0.8M211.3 197.8h0.8M208.9 196.3h0.8M211.9 201.1h0.8M215.4 188.9h0.8M212.9 199.8h0.8M212.8 184.5h0.8M210.5 197.3h0.8M209.5 185.4h0.8M211.3 178.7h0.8M212.6 184.2h0.8M210.1 184.1h0.8M212.1 194.7h0.8M212.1 190.2h0.8M214.9 199.6h0.8M212.2 179.4h0.8M215.2 177.9h0.8M212.9 198.0h0.8M209.5 180.0h0.8M212.3 196.7h0.8M212.9 191.0h0.8M210.7 190.1h0.8M212.4 186.5h0.8M215.8 180.0h0.8M209.6 177.3h0.8M211.1 198.7h0.8M213.2 196.3h0.8M210.5 197.8h0.8M210.6 194.0h0.8M214.2 188.0h0.8M212.1 181.7h0.8M210.0 175.8h0.8M211.5 188.0h0.8M211.7 184.9h0.8M212.0 177.0h0.8M212.7 185.3h0.8M209.5 180.4h0.8M214.3 193.6h0.8M209.8 201.6h0.8M213.4 196.8h0.8M213.8 194.9h0.8M211.2 197.7h0.8M211.4 189.0h0.8M213.3 179.7h0.8M213.8 197.4h0.8M212.6 182.3h0.8M208.7 179.2h0.8M210.9 180.0h0.8M213.9 181.7h0.8M209.0 185.5h0.8M209.5 189.5h0.8M212.8 190.5h0.8M210.6 194.3h0.8M211.1 188.3h0.8M211.1 191.4h0.8M210.8 190.0h0.8M212.6 188.4h0.8M214.6 194.7h0.8M210.0 196.0h0.8M212.0 176.5h0.8M210.5 194.2h0.8M213.3 200.9h0.8M211.5 201.1h0.8M216.9 182.9h0.8M212.6 190.8h0.8M212.3 185.4h0.8M214.6 191.9h0.8M211.1 192.2h0.8M210.8 176.5h0.8M212.2 179.7h0.8M210.8 189.3h0.8M208.4 189.0h0.8M210.5 194.6h0.8M211.3 181.8h0.8M213.5 196.8h0.8M211.0 182.7h0.8M208.8 187.2h0.8M209.3 197.6h0.8M214.9 182.1h0.8M212.2 180.5h0.8M214.4 180.3h0.8M217.6 201.5h0.8M209.7 185.9h0.8M211.2 178.7h0.8M208.0 182.7h0.8M210.6 188.1h0.8M210.5 182.8h0.8M214.5 192.5h0.8M211.4 195.4h0.8M210.4 191.5h0.8M216.6 183.0h0.8M208.1 188.3h0.8M214.3 180.3h0.8M212.7 192.1h0.8M210.7 199.5h0.8M210.3 191.3h0.8M211.5 178.9h0.8M211.8 181.8h0.8M212.1 180.8h0.8M212.4 182.0h0.8M212.3 177.2h0.8M211.4 194.8h0.8M213.2 194.5h0.8M212.1 186.4h0.8M208.3 198.9h0.8M210.7 181.7h0.8M215.2 184.3h0.8M213.3 177.7h0.8M216.0 181.8h0.8M211.0 188.2h0.8M209.8 191.8h0.8M212.8 198.1h0.8M211.0 182.5h0.8M211.5 190.9h0.8M209.6 179.7h0.8M211.7 190.4h0.8M213.6 182.3h0.8M211.9 182.4h0.8M212.3 189.1h0.8M211.8 193.0h0.8M214.3 197.0h0.8M213.9 185.4h0.8M210.9 184.0h0.8M209.6 186.6h0.8M211.8 195.9h0.8M211.8 185.1h0.8M212.7 180.3h0.8M209.6 183.6h0.8M214.7 191.0h0.8M215.2 192.2h0.8M209.6 194.5h0.8M211.7 191.5h0.8M210.7 195.9h0.8M211.0 186.9h0.8M215.5 181.3h0.8M212.3 196.4h0.8M212.1 178.0h0.8M214.0 181.4h0.8M208.0 178.5h0.8M215.1 176.8h0.8M216.1 187.5h0.8M212.6 183.6h0.8M207.8 183.7h0.8M211.4 188.8h0.8M215.2 193.7h0.8M211.1 179.4h0.8M208.7 194.6h0.8M211.9 197.1h0.8M208.0 184.1h0.8M211.7 184.7h0.8M211.2 190.7h0.8M210.9 188.2h0.8M214.2 189.2h0.8M212.5 183.5h0.8M214.6 185.3h0.8M212.2 189.1h0.8M210.7 190.5h0.8M211.2 198.1h0.8M211.1 194.2h0.8M208.2 188.5h0.8M212.9 179.9h0.8M212.7 198.3h0.8M213.2 188.4h0.8M211.1 184.9h0.8M213.0 178.6h0.8M210.1 182.1h0.8M211.4 199.2h0.8M211.4 178.7h0.8M210.9 191.2h0.8M212.1 199.6h0.8M214.8 195.6h0.8M214.9 197.4h0.8M210.9 186.9h0.8M214.3 194.0h0.8M207.3 184.3h0.8M212.3 192.6h0.8M210.7 184.1h0.8M211.4 186.2h0.8M213.3 191.2h0.8M214.1 198.5h0.8M212.9 196.3h0.8M210.6 195.7h0.8M210.5 193.9h0.8M213.4 180.0h0.8M211.5 192.0h0.8M210.9 199.1h0.8M211.4 185.1h0.8M208.9 189.0h0.8M213.6 186.7h0.8M210.5 179.7h0.8M211.8 179.7h0.8M215.1 176.6h0.8M216.0 200.1h0.8M207.6 198.8h0.8M212.5 191.7h0.8M209.2 192.0h0.8M210.0 184.9h0.8M211.7 194.8h0.8M213.1 180.7h0.8M212.8 198.4h0.8M210.6 200.2h0.8M211.7 195.2h0.8M216.6 193.4h0.8M212.9 200.7h0.8M208.3 185.6h0.8M212.8 184.1h0.8M209.1 185.7h0.8M211.2 183.5h0.8M214.8 184.5h0.8M212.3 179.0h0.8M209.5 191.1h0.8M215.3 182.3h0.8M210.8 184.7h0.8M211.6 195.3h0.8M214.5 192.2h0.8M214.3 178.7h0.8M214.1 176.6h0.8M210.7 201.6h0.8M209.9 186.7h0.8M211.1 195.3h0.8M213.4 189.7h0.8M213.9 200.8h0.8M214.3 194.5h0.8M213.2 179.5h0.8M209.4 196.8h0.8M211.4 181.5h0.8M214.0 184.7h0.8M208.6 189.8h0.8M209.4 180.0h0.8M211.6 181.1h0.8M211.6 186.0h0.8M211.7 191.3h0.8M214.1 192.9h0.8M212.9 179.8h0.8M212.9 200.6h0.8M212.2 185.0h0.8M214.2 191.8h0.8M214.9 186.4h0.8M215.7 184.5h0.8M212.5 181.9h0.8M212.8 178.8h0.8M209.5 189.8h0.8M210.6 195.8h0.8M210.1 185.5h0.8M215.8 201.6h0.8M214.4 183.0h0.8M208.5 186.9h0.8M214.3 187.9h0.8M210.8 184.0h0.8M210.6 182.0h0.8M212.9 185.8h0.8M208.6 178.7h0.8M208.6 190.1h0.8M214.7 187.8h0.8M212.7 191.3h0.8M211.5 188.5h0.8M213.3 194.3h0.8M212.7 194.0h0.8M209.7 199.8h0.8M212.7 179.3h0.8M211.6 183.1h0.8M212.0 194.6h0.8M210.2 196.8h0.8M210.1 180.4h0.8M215.8 183.5h0.8M211.9 188.9h0.8M212.5 186.8h0.8M215.6 197.4h0.8M212.6 186.8h0.8M213.2 196.4h0.8M208.9 180.8h0.8M213.2 185.6h0.8M215.4 197.8h0.8M212.7 201.5h0.8M209.8 180.0h0.8M208.0 198.2h0.8M212.6 192.3h0.8M208.1 178.0h0.8M211.1 195.4h0.8M210.5 188.1h0.8M210.1 188.9h0.8M214.1 187.1h0.8M209.3 191.4h0.8M212.3 183.7h0.8M212.9 200.2h0.8M210.4 177.7h0.8M210.4 198.4h0.8M213.6 186.6h0.8M211.0 200.6h0.8M211.3 198.6h0.8M214.2 178.4h0.8M213.5 185.4h0.8M215.9 189.8h0.8M212.8 192.1h0.8M211.3 176.2h0.8M213.9 184.9h0.8M212.3 198.9h0.8M213.9 201.5h0.8M212.1 185.5h0.8M211.3 181.5h0.8M212.3 196.4h0.8M213.0 197.0h0.8M214.2 198.4h0.8M216.6 196.2h0.8M211.8 191.9h0.8M209.9 182.0h0.8M210.0 192.5h0.8M210.7 197.6h0.8M212.8 201.6h0.8M209.8 193.4h0.8M210.9 191.2h0.8M212.4 199.3h0.8M210.9 190.1h0.8M207.3 197.8h0.8M213.2 201.6h0.8M212.9 181.4h0.8M215.6 176.2h0.8M219.1 179.5h0.8M212.4 190.2h0.8M206.9 193.1h0.8M210.3 188.7h0.8M212.2 193.3h0.8M213.2 175.1h0.8M207.1 183.8h0.8M213.9 201.4h0.8M212.3 186.5h0.8M212.7 177.2h0.8M212.6 199.0h0.8M209.4 186.7h0.8M213.2 180.3h0.8M212.3 184.3h0.8M209.6 184.1h0.8M213.1 184.2h0.8M212.0 179.2h0.8M213.4 188.6h0.8M211.9 190.6h0.8M209.4 193.7h0.8M210.8 188.5h0.8M210.8 185.7h0.8M211.6 200.3h0.8M213.7 200.6h0.8M210.3 192.0h0.8M212.8 193.7h0.8M209.5 188.6h0.8M214.9 190.1h0.8M211.3 190.7h0.8M211.3 180.2h0.8M210.3 192.9h0.8M215.5 182.1h0.8M208.3 193.6h0.8M214.2 182.7h0.8M212.8 192.2h0.8M208.5 196.7h0.8M211.9 191.0h0.8M209.7 193.9h0.8M211.3 190.5h0.8M210.7 194.5h0.8M213.5 177.3h0.8M213.5 189.1h0.8M213.7 199.7h0.8M210.0 190.4h0.8M211.7 182.0h0.8M208.9 184.4h0.8M212.3 184.8h0.8M209.8 197.7h0.8M211.0 200.4h0.8M207.2 181.9h0.8M210.8 194.4h0.8M210.5 194.1h0.8M209.8 192.4h0.8M212.4 183.6h0.8M210.5 176.4h0.8M211.6 189.0h0.8M212.1 178.1h0.8M210.3 186.6h0.8M211.6 187.5h0.8M210.6 176.7h0.8M209.8 196.1h0.8M210.7 192.6h0.8M211.6 187.5h0.8M212.1 201.6h0.8M214.3 181.5h0.8M214.1 199.1h0.8M210.9 196.6h0.8M214.8 199.4h0.8M213.4 193.7h0.8M210.6 197.3h0.8M210.3 184.1h0.8M214.0 194.9h0.8M211.1 199.3h0.8M214.0 190.6h0.8M217.2 182.8h0.8M210.0 200.2h0.8M212.6 198.3h0.8M214.2 188.2h0.8M211.3 198.4h0.8M209.2 195.8h0.8M214.3 181.1h0.8M213.9 201.2h0.8M214.1 189.4h0.8M210.0 186.5h0.8M210.1 177.5h0.8M211.7 178.5h0.8M210.8 195.6h0.8M212.6 177.8h0.8M214.2 183.8h0.8M212.2 201.3h0.8M211.9 195.0h0.8M214.6 186.1h0.8M211.1 196.5h0.8M206.4 180.1h0.8M211.1 182.7h0.8M214.6 177.5h0.8M213.8 185.1h0.8M213.2 192.9h0.8M210.5 197.7h0.8M211.6 190.1h0.8M210.8 181.3h0.8M210.9 179.2h0.8M212.6 176.7h0.8M210.0 196.9h0.8M214.4 188.7h0.8M211.0 199.7h0.8M213.5 184.8h0.8M214.7 184.6h0.8M208.2 192.2h0.8M210.4 188.7h0.8M211.0 185.1h0.8M207.6 191.3h0.8M212.7 189.3h0.8M212.2 197.7h0.8M213.8 193.3h0.8M211.0 177.4h0.8M212.9 180.0h0.8M209.8 189.3h0.8M212.6 196.3h0.8M208.3 196.9h0.8M212.4 183.0h0.8M211.3 178.9h0.8M213.6 195.9h0.8M217.5 180.9h0.8M212.3 191.7h0.8M212.7 185.3h0.8M212.5 180.4h0.8M212.7 178.5h0.8M210.1 190.6h0.8M210.5 180.3h0.8M207.4 200.3h0.8M210.7 190.2h0.8M214.7 199.7h0.8M210.7 201.1h0.8M209.2 182.0h0.8M212.9 182.4h0.8M214.2 201.4h0.8M211.7 201.6h0.8M212.1 193.5h0.8M214.3 175.8h0.8M208.6 191.5h0.8M215.3 187.9h0.8M210.7 192.0h0.8M212.1 195.5h0.8M207.7 195.8h0.8M213.4 182.3h0.8M213.3 183.3h0.8M213.2 183.9h0.8M212.0 183.2h0.8M214.5 179.7h0.8M212.0 183.0h0.8M213.6 177.0h0.8M211.2 192.7h0.8M212.3 191.8h0.8M214.9 179.7h0.8M210.3 190.4h0.8M212.0 180.1h0.8M209.5 189.0h0.8M212.0 185.3h0.8M211.4 183.2h0.8M211.8 199.7h0.8M211.7 187.4h0.8M213.2 188.5h0.8M211.5 185.1h0.8M213.5 185.2h0.8M211.7 195.2h0.8M210.4 184.6h0.8M213.8 191.2h0.8M212.5 186.7h0.8M211.8 184.8h0.8M208.0 200.7h0.8M211.0 183.4h0.8M212.1 184.9h0.8M212.5 195.9h0.8M207.2 175.9h0.8M208.8 193.3h0.8M214.8 179.9h0.8M211.1 180.4h0.8M213.5 197.2h0.8M212.0 198.8h0.8M210.4 179.7h0.8M209.3 197.3h0.8M211.6 181.5h0.8M213.4 199.8h0.8M212.1 194.8h0.8M208.5 199.3h0.8M210.2 182.2h0.8M211.3 191.4h0.8M212.1 183.5h0.8M213.8 184.7h0.8M216.0 201.2h0.8M208.7 197.7h0.8M213.9 189.0h0.8M213.1 186.9h0.8M214.0 179.8h0.8M211.7 201.3h0.8M207.3 186.6h0.8M210.7 201.6h0.8M215.1 183.3h0.8M212.2 196.4h0.8M209.0 189.3h0.8M214.0 196.6h0.8M213.0 196.5h0.8M209.6 195.2h0.8M210.9 192.0h0.8M210.9 190.9h0.8M211.4 178.4h0.8M210.3 195.5h0.8M208.7 186.7h0.8M212.4 200.4h0.8M214.0 184.9h0.8M211.3 185.1h0.8M213.3 178.4h0.8M208.6 177.8h0.8M208.3 193.5h0.8M210.9 191.3h0.8M212.5 178.6h0.8M211.8 189.5h0.8M215.1 185.5h0.8M213.1 195.2h0.8M210.7 179.7h0.8M212.9 196.4h0.8M212.9 168.3h0.8M214.9 190.4h0.8M211.8 179.7h0.8M212.8 188.6h0.8M214.7 198.8h0.8M212.6 183.0h0.8M213.4 171.4h0.8M212.8 182.2h0.8M213.0 194.1h0.8M209.7 195.0h0.8M209.2 192.2h0.8M207.5 168.9h0.8M211.3 200.1h0.8M210.7 194.0h0.8M211.1 174.8h0.8M211.8 184.5h0.8M211.1 195.8h0.8M212.2 191.7h0.8M209.2 177.2h0.8M210.0 175.2h0.8M214.5 182.7h0.8M212.8 186.7h0.8M210.0 178.2h0.8M213.2 195.7h0.8M209.8 186.2h0.8M211.1 180.4h0.8M209.8 193.1h0.8M210.6 199.1h0.8M212.5 189.0h0.8M211.6 192.1h0.8M210.9 192.6h0.8M211.9 195.0h0.8M212.6 171.6h0.8M213.4 194.2h0.8M211.2 190.2h0.8M213.7 196.2h0.8M211.1 173.5h0.8M211.8 196.1h0.8M211.4 194.5h0.8M211.2 194.7h0.8M211.5 185.1h0.8M210.5 190.5h0.8M212.8 177.2h0.8M211.2 194.3h0.8M210.3 189.8h0.8M213.6 190.0h0.8M213.2 194.2h0.8M213.7 194.7h0.8M213.7 194.8h0.8M211.1 198.6h0.8M212.0 182.0h0.8M212.7 196.9h0.8M213.4 183.7h0.8M212.3 173.5h0.8M211.1 188.9h0.8M210.4 194.2h0.8M214.5 189.8h0.8M213.9 193.7h0.8M213.5 182.9h0.8M207.5 195.4h0.8M213.1 190.6h0.8M211.3 192.9h0.8M210.8 191.4h0.8M207.8 188.7h0.8M209.5 193.0h0.8M214.2 194.2h0.8M213.2 183.4h0.8M214.0 186.0h0.8M211.0 188.5h0.8M213.6 195.5h0.8M214.0 173.6h0.8M213.8 195.4h0.8M210.3 194.0h0.8M210.8 192.6h0.8M212.0 191.1h0.8M212.5 200.2h0.8M208.7 195.4h0.8M213.4 186.3h0.8M210.4 195.4h0.8M211.3 183.9h0.8M213.4 189.7h0.8M213.1 190.3h0.8M215.7 181.3h0.8M212.3 192.0h0.8M208.1 196.4h0.8M209.4 197.1h0.8M213.1 187.6h0.8M213.4 194.7h0.8M213.6 174.2h0.8M212.0 199.4h0.8M209.1 181.4h0.8M207.5 194.6h0.8M210.2 190.4h0.8M211.0 193.6h0.8M212.9 199.5h0.8M214.4 192.7h0.8M214.3 187.8h0.8M209.2 175.2h0.8M209.3 194.9h0.8M209.2 190.2h0.8M212.3 199.6h0.8M212.6 171.9h0.8M211.5 196.1h0.8M212.3 192.8h0.8M213.6 184.2h0.8M212.1 197.3h0.8M214.2 176.5h0.8M213.8 190.5h0.8M211.8 171.7h0.8M213.1 180.3h0.8M210.0 195.3h0.8M212.6 182.5h0.8M210.6 180.5h0.8M214.9 182.7h0.8M213.7 190.3h0.8M206.0 188.2h0.8M213.2 183.0h0.8M213.2 191.5h0.8M213.1 189.7h0.8M208.0 200.1h0.8M214.1 192.5h0.8M210.5 184.0h0.8M213.9 197.1h0.8M213.0 200.1h0.8M213.8 184.9h0.8M209.7 193.8h0.8M209.3 183.7h0.8M212.2 188.0h0.8M210.0 189.7h0.8M212.0 197.3h0.8M209.1 193.1h0.8M208.4 189.9h0.8M212.1 189.7h0.8M208.4 184.9h0.8M213.0 190.6h0.8M211.3 194.6h0.8M212.2 193.7h0.8M211.7 196.3h0.8M214.9 195.1h0.8M211.4 187.5h0.8M212.9 198.1h0.8M215.0 196.1h0.8M213.6 194.6h0.8M210.8 191.3h0.8M212.9 192.2h0.8M211.6 197.5h0.8M210.2 194.8h0.8M211.6 197.9h0.8M210.8 195.2h0.8M210.6 189.0h0.8M215.2 199.5h0.8M211.3 172.2h0.8M211.0 195.8h0.8M214.1 197.8h0.8M210.5 190.1h0.8M212.4 194.1h0.8M211.9 185.2h0.8M210.4 197.5h0.8M212.6 194.1h0.8M215.7 195.4h0.8M208.4 195.6h0.8M210.2 195.2h0.8M207.3 177.8h0.8M211.4 176.8h0.8M207.5 191.2h0.8M209.9 196.8h0.8M211.9 178.3h0.8M217.3 182.3h0.8M214.1 194.0h0.8M213.0 188.4h0.8M213.3 189.0h0.8M209.9 186.2h0.8M212.9 196.6h0.8M213.6 186.7h0.8M209.7 194.2h0.8M214.3 182.0h0.8M209.9 184.2h0.8M212.8 193.8h0.8M210.6 193.0h0.8M207.9 184.9h0.8M208.6 189.3h0.8M213.5 190.6h0.8M212.1 197.2h0.8M213.6 194.9h0.8M211.4 190.2h0.8M208.0 185.1h0.8M211.5 191.0h0.8M209.5 188.1h0.8M211.8 183.9h0.8M212.3 195.8h0.8M211.1 190.5h0.8M215.3 189.9h0.8M212.0 192.7h0.8M210.4 198.8h0.8M213.1 183.2h0.8M211.9 191.2h0.8M210.4 192.1h0.8M210.2 184.0h0.8M211.9 194.1h0.8M208.8 192.8h0.8M210.6 199.3h0.8M212.3 189.8h0.8M214.7 195.3h0.8M213.2 193.2h0.8M213.5 195.3h0.8M207.3 199.2h0.8M214.0 184.8h0.8M212.0 192.8h0.8M210.8 188.7h0.8M212.1 197.6h0.8M208.1 193.3h0.8M214.0 190.3h0.8M211.3 171.5h0.8M208.7 186.1h0.8M208.7 195.6h0.8M209.7 188.9h0.8M212.4 187.7h0.8M206.7 179.1h0.8M216.0 196.3h0.8M209.7 193.5h0.8M213.3 179.8h0.8M208.6 200.3h0.8M212.4 191.3h0.8M212.2 199.6h0.8M212.6 190.6h0.8M213.8 170.7h0.8M212.7 194.8h0.8M206.7 197.0h0.8M212.8 182.9h0.8M210.3 196.8h0.8M210.1 190.4h0.8M213.2 184.2h0.8M216.1 190.2h0.8M214.2 192.8h0.8M209.6 188.0h0.8M211.6 199.9h0.8M212.4 198.0h0.8M209.3 194.5h0.8M214.7 197.3h0.8M213.2 184.0h0.8M213.7 185.0h0.8M211.6 175.1h0.8M209.9 189.1h0.8M212.5 186.0h0.8M213.2 184.1h0.8M207.5 191.8h0.8M212.2 198.6h0.8M210.7 199.5h0.8M216.3 189.6h0.8M212.4 189.0h0.8M208.4 179.7h0.8M212.4 196.4h0.8M212.1 189.3h0.8M212.8 191.3h0.8M212.2 194.4h0.8M212.8 198.9h0.8M208.7 187.1h0.8M212.0 178.5h0.8M214.3 195.9h0.8M212.5 194.2h0.8M211.2 191.5h0.8M211.6 192.1h0.8M211.1 194.3h0.8M213.1 181.9h0.8M215.8 193.5h0.8M211.9 194.3h0.8M212.7 188.3h0.8M210.2 193.7h0.8M212.4 190.0h0.8M212.7 177.4h0.8M209.6 198.7h0.8M209.7 189.9h0.8M210.3 195.8h0.8M211.0 190.8h0.8M211.6 180.9h0.8M212.4 182.9h0.8M215.1 182.8h0.8M213.2 184.9h0.8M211.9 185.4h0.8M211.2 179.9h0.8M213.7 185.1h0.8M212.2 189.1h0.8M211.6 195.3h0.8M209.0 191.6h0.8M212.9 180.3h0.8M213.1 199.7h0.8M212.9 194.1h0.8M212.2 187.1h0.8M209.2 188.8h0.8M212.2 198.2h0.8M211.1 188.9h0.8M211.7 190.0h0.8M209.8 191.0h0.8M211.4 169.8h0.8M214.6 199.5h0.8M210.4 197.6h0.8M211.8 173.0h0.8M212.2 198.4h0.8M212.5 195.8h0.8M209.6 198.2h0.8M211.1 199.6h0.8M211.7 188.1h0.8M207.7 187.3h0.8M213.7 186.6h0.8M214.6 195.6h0.8M212.2 191.1h0.8M213.0 182.3h0.8M213.8 189.3h0.8M214.0 190.1h0.8M214.4 186.1h0.8M209.0 196.8h0.8M209.4 196.2h0.8M209.3 194.1h0.8M211.9 174.6h0.8M212.7 170.3h0.8M212.6 195.7h0.8M211.8 189.7h0.8M212.0 177.3h0.8M209.9 191.3h0.8M211.6 196.1h0.8M211.4 194.9h0.8M213.5 193.8h0.8M211.3 175.6h0.8M206.6 194.8h0.8M209.7 197.5h0.8M212.3 193.8h0.8M207.4 193.8h0.8M207.7 195.9h0.8M214.0 192.5h0.8M211.5 187.4h0.8M212.0 193.5h0.8M211.0 193.1h0.8M210.3 175.5h0.8M212.6 192.4h0.8M213.2 194.8h0.8M211.0 190.5h0.8M208.8 194.0h0.8M212.4 188.5h0.8M213.2 191.3h0.8M209.4 196.6h0.8M214.6 189.3h0.8M212.9 193.0h0.8M215.2 196.0h0.8M211.0 193.3h0.8M209.6 189.1h0.8M212.4 195.5h0.8M214.3 200.0h0.8M210.9 184.1h0.8M210.4 190.3h0.8M211.4 192.1h0.8M211.3 197.8h0.8M210.5 179.3h0.8M209.2 194.4h0.8M214.3 185.9h0.8M209.4 196.3h0.8M208.8 187.7h0.8M208.2 192.4h0.8M212.9 186.0h0.8M209.6 198.9h0.8M212.1 185.1h0.8M211.0 171.7h0.8M210.7 195.0h0.8M212.5 183.5h0.8M213.6 197.0h0.8M217.3 194.5h0.8M212.8 195.5h0.8M213.5 191.5h0.8M213.1 191.4h0.8M213.5 184.6h0.8M210.3 196.0h0.8M214.3 178.4h0.8M213.3 189.6h0.8M209.0 181.9h0.8M213.0 184.3h0.8M210.6 194.6h0.8M212.0 171.2h0.8M211.8 189.6h0.8M212.0 181.8h0.8M215.8 195.8h0.8M212.2 190.6h0.8M213.2 189.2h0.8M213.8 174.4h0.8M210.1 193.7h0.8M210.1 192.2h0.8M209.2 192.1h0.8M212.3 188.5h0.8M207.2 190.8h0.8M211.1 184.7h0.8M212.0 185.8h0.8M212.2 198.7h0.8M209.2 179.6h0.8M210.4 194.9h0.8M212.9 199.5h0.8M212.6 175.6h0.8M211.8 188.1h0.8M210.7 197.7h0.8M213.1 177.1h0.8M213.6 186.6h0.8M210.5 194.5h0.8M212.0 194.2h0.8M211.3 181.8h0.8M212.6 198.9h0.8M215.2 199.2h0.8M212.6 181.2h0.8M213.1 189.6h0.8M215.1 192.1h0.8M214.9 192.2h0.8M212.2 197.8h0.8M212.0 188.2h0.8M210.1 173.2h0.8M210.5 199.4h0.8M210.9 171.5h0.8M214.6 191.0h0.8M212.8 186.5h0.8M210.2 194.6h0.8M214.3 179.7h0.8M213.8 192.3h0.8M213.0 200.2h0.8M216.4 183.3h0.8M213.9 186.7h0.8M212.0 185.8h0.8M211.2 185.4h0.8M210.2 183.6h0.8M211.8 199.1h0.8M209.0 194.5h0.8M216.3 174.7h0.8M212.2 190.9h0.8M215.3 196.3h0.8M208.9 192.8h0.8M213.5 190.1h0.8M212.0 201.0h0.8M206.6 188.4h0.8M212.0 193.4h0.8M212.2 179.0h0.8M212.2 196.7h0.8M212.2 192.9h0.8M211.1 194.3h0.8M213.5 196.6h0.8M214.1 192.4h0.8M213.6 194.9h0.8M211.3 197.7h0.8M211.0 178.4h0.8M209.6 187.3h0.8M213.8 193.7h0.8M211.4 194.7h0.8M211.2 174.8h0.8M211.2 188.8h0.8M213.7 191.2h0.8M209.4 198.8h0.8M209.7 190.1h0.8M212.5 193.7h0.8M209.6 186.2h0.8M210.2 198.2h0.8M213.1 181.6h0.8M215.1 195.4h0.8M212.5 181.3h0.8M210.3 198.8h0.8M211.0 189.5h0.8M213.3 183.2h0.8M213.9 190.7h0.8M214.9 197.4h0.8M210.3 199.2h0.8M212.5 186.8h0.8M212.9 190.8h0.8M210.5 190.9h0.8M212.5 198.4h0.8M212.2 200.4h0.8M208.5 189.5h0.8M212.6 199.4h0.8M210.2 197.2h0.8M210.1 187.0h0.8M211.4 195.5h0.8M214.7 190.0h0.8M213.4 177.8h0.8M213.4 182.2h0.8M213.4 192.9h0.8M213.3 182.1h0.8M209.9 188.2h0.8M212.7 182.6h0.8M214.3 193.3h0.8M214.2 191.1h0.8M208.9 196.9h0.8M210.1 180.2h0.8M212.4 192.1h0.8M211.3 199.4h0.8M214.0 187.6h0.8M209.8 177.1h0.8M209.9 189.4h0.8M211.6 185.8h0.8M214.2 180.2h0.8M211.3 182.7h0.8M209.9 185.5h0.8M210.4 184.6h0.8M213.3 199.1h0.8M207.9 190.3h0.8M210.8 184.1h0.8M208.9 185.2h0.8M211.6 176.9h0.8M213.8 197.6h0.8M213.4 192.1h0.8M210.5 197.0h0.8M210.9 188.2h0.8M213.6 188.1h0.8M208.3 187.2h0.8M209.7 197.0h0.8M211.2 193.8h0.8M210.8 195.0h0.8M213.6 196.8h0.8M211.4 182.4h0.8M212.1 184.2h0.8M210.3 171.8h0.8M213.0 189.3h0.8M209.9 194.0h0.8M209.6 192.1h0.8M212.5 175.3h0.8M212.0 186.4h0.8M213.8 196.3h0.8M211.9 185.7h0.8M211.8 188.8h0.8M208.6 185.5h0.8M210.2 173.8h0.8M216.0 189.8h0.8M215.1 192.1h0.8M209.6 198.2h0.8M215.2 198.6h0.8M210.4 187.3h0.8M210.2 195.1h0.8M210.5 185.3h0.8M214.5 194.4h0.8M212.1 197.2h0.8M216.8 187.6h0.8M212.0 192.4h0.8M211.8 188.0h0.8M212.6 193.7h0.8M206.3 189.4h0.8M212.3 184.2h0.8M214.2 184.4h0.8M209.8 196.2h0.8M212.7 185.6h0.8M215.1 186.4h0.8M210.8 187.8h0.8M213.9 186.9h0.8M212.7 185.1h0.8M210.7 184.8h0.8M212.7 184.2h0.8M207.8 186.5h0.8M213.6 185.0h0.8M212.1 184.3h0.8M211.6 185.5h0.8M209.4 185.0h0.8M214.7 200.9h0.8M216.4 194.4h0.8M211.9 187.0h0.8M212.3 183.3h0.8M212.4 192.9h0.8M212.1 190.7h0.8M212.2 186.8h0.8M215.2 197.6h0.8M214.3 185.2h0.8M211.6 185.9h0.8M208.0 199.0h0.8M212.8 190.0h0.8M211.4 199.0h0.8M211.8 189.3h0.8M212.8 192.6h0.8M211.1 191.7h0.8M213.7 199.3h0.8M213.9 190.4h0.8M210.8 197.2h0.8M213.1 180.9h0.8M208.4 191.4h0.8M210.8 192.6h0.8M209.4 193.4h0.8M210.9 197.5h0.8M212.8 182.8h0.8M211.7 194.6h0.8M214.8 180.2h0.8M213.5 196.6h0.8M211.4 190.3h0.8M209.0 195.2h0.8M212.3 186.9h0.8M212.4 199.9h0.8M207.3 190.8h0.8M210.1 188.8h0.8M210.1 190.1h0.8M213.8 169.9h0.8M213.2 185.1h0.8M211.5 190.2h0.8M211.7 188.8h0.8M211.6 199.7h0.8M211.5 189.3h0.8M208.1 186.4h0.8M212.2 193.8h0.8M208.4 184.4h0.8M211.9 196.2h0.8M209.7 197.7h0.8M208.5 196.2h0.8M210.7 194.8h0.8M211.9 190.1h0.8M210.1 191.9h0.8M213.4 195.5h0.8M213.5 188.7h0.8M213.1 198.2h0.8M211.0 196.4h0.8M211.7 190.6h0.8M212.8 192.9h0.8M213.9 181.9h0.8M213.8 171.5h0.8M211.0 195.8h0.8M207.8 198.2h0.8M210.4 195.0h0.8M212.8 190.9h0.8M213.5 192.8h0.8M215.5 180.7h0.8M210.5 192.2h0.8M213.7 184.4h0.8M214.4 193.8h0.8M214.0 196.1h0.8M209.0 193.3h0.8M211.4 199.0h0.8M214.5 196.1h0.8M213.5 196.9h0.8M213.1 170.1h0.8M213.1 188.3h0.8M211.9 196.0h0.8M213.1 189.6h0.8M214.2 194.2h0.8M211.5 188.9h0.8M212.7 199.6h0.8M214.0 179.6h0.8M210.5 198.6h0.8M210.0 191.1h0.8M210.2 178.7h0.8M210.6 185.5h0.8M209.6 186.3h0.8M212.8 192.9h0.8M213.2 182.0h0.8M212.8 197.6h0.8M212.7 193.7h0.8M211.7 193.1h0.8M210.4 186.4h0.8M213.6 194.9h0.8M212.2 189.2h0.8M212.0 186.5h0.8M213.3 182.8h0.8M208.6 197.8h0.8M207.2 193.6h0.8M212.5 192.3h0.8M211.4 199.5h0.8M216.5 192.0h0.8M212.6 196.6h0.8M213.1 181.2h0.8M213.2 197.1h0.8M213.4 191.5h0.8M213.3 193.0h0.8M210.7 199.9h0.8M213.1 186.6h0.8M213.8 189.8h0.8M214.3 194.0h0.8M208.8 178.0h0.8M211.6 191.5h0.8M211.8 187.0h0.8M211.0 189.1h0.8M211.1 196.5h0.8M209.0 190.5h0.8M212.2 196.9h0.8M214.6 184.7h0.8M212.1 183.8h0.8M210.5 196.7h0.8M208.0 198.3h0.8M213.4 198.9h0.8M208.7 171.5h0.8M210.7 197.3h0.8M214.4 192.0h0.8M206.7 193.6h0.8M210.8 185.0h0.8M209.2 196.1h0.8M215.9 188.0h0.8M210.6 199.6h0.8M212.8 196.2h0.8M214.5 192.1h0.8M211.1 187.1h0.8M207.3 189.4h0.8M212.4 192.2h0.8M209.9 178.1h0.8M211.4 198.7h0.8M210.3 192.9h0.8M209.6 197.7h0.8M212.7 194.0h0.8M215.1 177.1h0.8M214.0 176.1h0.8M213.8 194.0h0.8M212.3 188.2h0.8M209.8 189.0h0.8M213.0 195.0h0.8M209.2 193.0h0.8M211.6 185.0h0.8M212.4 198.6h0.8M214.0 192.3h0.8M211.6 199.0h0.8M210.9 190.8h0.8M212.2 175.7h0.8M210.2 180.4h0.8M212.7 196.5h0.8M209.8 192.6h0.8M208.7 196.6h0.8M211.7 196.5h0.8M213.1 196.0h0.8M212.8 200.3h0.8M210.7 186.6h0.8M213.1 192.5h0.8M212.1 183.8h0.8M212.5 199.9h0.8M210.3 194.3h0.8M214.2 195.7h0.8M212.0 192.1h0.8M210.2 194.0h0.8M208.2 189.7h0.8M209.0 185.8h0.8M214.3 194.7h0.8M211.1 184.4h0.8M209.2 194.4h0.8M212.5 183.8h0.8M211.0 199.4h0.8M212.6 196.5h0.8M208.8 186.4h0.8M212.1 180.5h0.8M212.0 193.8h0.8M211.3 194.4h0.8M214.1 170.6h0.8M211.2 183.9h0.8M211.2 188.8h0.8M208.9 196.6h0.8M211.7 195.4h0.8M209.5 198.2h0.8M213.2 192.8h0.8M213.1 190.7h0.8M210.4 186.8h0.8M213.4 191.7h0.8M210.7 187.4h0.8M214.5 171.3h0.8M210.5 178.5h0.8M210.9 193.0h0.8M211.1 195.6h0.8M214.2 178.1h0.8M212.8 193.3h0.8M214.7 190.1h0.8M212.8 184.7h0.8M211.9 193.5h0.8M209.6 191.9h0.8M209.7 199.2h0.8M210.0 191.2h0.8M212.0 190.0h0.8M210.5 194.8h0.8M214.6 191.7h0.8M212.8 193.8h0.8M213.9 188.5h0.8M210.5 191.5h0.8M211.8 176.2h0.8M215.5 182.4h0.8M211.5 179.1h0.8M211.5 188.7h0.8M207.1 193.8h0.8M212.9 185.7h0.8M210.0 185.0h0.8M211.2 200.3h0.8M212.9 197.5h0.8M214.2 189.8h0.8M209.9 189.5h0.8M212.6 188.3h0.8M212.9 196.6h0.8M211.0 171.9h0.8M211.6 181.1h0.8M210.2 195.7h0.8M214.8 192.7h0.8M211.3 175.6h0.8M210.5 197.5h0.8M209.5 199.9h0.8M212.8 188.0h0.8M209.4 188.9h0.8M214.5 170.1h0.8M213.2 195.8h0.8M211.8 186.6h0.8M210.6 199.5h0.8M211.2 174.5h0.8" stroke="#000" stroke-width="0.9" stroke-opacity="0.85" fill="none"/>
<path d="M161.0 182.6h0.8M168.3 177.0h0.8M159.9 188.0h0.8M174.0 185.4h0.8M173.8 194.6h0.8M175.8 187.5h0.8M168.7 190.8h0.8M165.0 187.6h0.8M169.4 191.0h0.8M174.0 201.3h0.8M165.7 184.0h0.8M171.7 184.7h0.8M169.3 198.5h0.8M170.8 179.3h0.8M176.3 192.4h0.8M181.9 178.1h0.8M171.2 186.0h0.8M171.6 195.2h0.8M164.5 184.6h0.8M173.6 184.3h0.8M171.3 185.4h0.8M174.8 193.5h0.8M167.1 194.9h0.8M172.4 182.8h0.8M175.1 191.1h0.8M167.2 184.9h0.8M180.0 190.3h0.8M167.6 175.1h0.8M170.2 193.0h0.8M178.1 190.1h0.8M180.5 188.7h0.8M176.2 195.0h0.8M170.3 196.8h0.8M181.7 189.9h0.8M166.1 183.6h0.8M170.2 184.7h0.8M167.6 193.3h0.8M170.6 192.2h0.8M170.0 186.8h0.8M174.7 186.6h0.8M164.5 186.9h0.8M166.3 182.6h0.8M168.5 193.7h0.8M178.3 195.6h0.8M175.9 186.0h0.8M172.9 193.7h0.8M173.3 189.0h0.8M164.1 179.6h0.8M164.8 191.3h0.8M165.0 194.2h0.8M169.9 197.4h0.8M173.9 187.8h0.8M170.4 192.4h0.8M161.1 187.6h0.8M176.9 189.9h0.8M168.5 193.2h0.8M164.3 197.1h0.8M166.9 201.3h0.8M170.5 189.0h0.8M177.1 192.0h0.8M169.7 181.5h0.8M169.6 196.4h0.8M169.3 188.5h0.8M173.6 199.2h0.8M164.2 185.2h0.8M172.2 189.9h0.8M170.2 191.1h0.8M169.1 194.2h0.8M165.3 189.1h0.8M174.5 186.4h0.8M173.6 182.2h0.8M177.4 192.9h0.8M181.1 195.9h0.8M164.7 187.2h0.8M174.3 184.6h0.8M177.2 194.5h0.8M176.9 177.6h0.8M161.5 188.4h0.8M159.9 188.1h0.8M181.0 189.5h0.8M172.8 179.1h0.8M178.2 184.1h0.8M172.4 187.8h0.8M166.4 190.9h0.8M176.5 183.1h0.8M171.8 183.5h0.8M168.2 201.3h0.8M172.3 186.4h0.8M169.1 197.5h0.8M175.4 198.7h0.8M172.6 195.8h0.8M178.6 184.0h0.8M169.4 189.4h0.8M160.8 195.0h0.8M166.1 182.8h0.8M168.8 190.0h0.8M180.0 190.4h0.8M180.8 195.4h0.8M175.3 191.9h0.8M167.6 192.0h0.8M176.5 184.4h0.8M180.7 179.9h0.8M172.3 193.5h0.8M173.6 188.0h0.8M162.7 189.5h0.8M172.0 191.5h0.8M163.0 193.2h0.8M166.3 190.6h0.8M173.4 192.3h0.8M180.8 192.9h0.8" stroke="#666" stroke-width="0.7" stroke-opacity="0.6" fill="none"/>
<text x="204.4" y="129.6" font-size="9.7">98.1 ±0.1</text>
<path d="M131.1 66.0L144.7 54.1" stroke="#222" stroke-width="0.9"/>
<path d="M147.9 51.3L146.1 55.6L143.4 52.6z" fill="#111"/>
<path d="M131.1 143.3L144.3 154.1" stroke="#222" stroke-width="0.9"/>
<path d="M147.5 156.8L143.0 155.7L145.5 152.6z" fill="#111"/>
<path d="M307.9 176.5V55.9H489.5V176.5" fill="none" stroke="#9c9c9c" stroke-width="1.25"/>
<path d="M307.3 176.5H490.1" fill="none" stroke="#7a7a7a" stroke-width="1.2"/>
<path d="M307.9 176.5h-2.5" stroke="#777" stroke-width="1"/>
<text x="304.6" y="179.5" font-size="9.6" text-anchor="end">0.0</text>
<path d="M307.9 151.3h-2.5" stroke="#777" stroke-width="1"/>
<text x="304.6" y="154.3" font-size="9.6" text-anchor="end">2.5</text>
<path d="M307.9 126.2h-2.5" stroke="#777" stroke-width="1"/>
<text x="304.6" y="129.2" font-size="9.6" text-anchor="end">5.0</text>
<path d="M307.9 101.0h-2.5" stroke="#777" stroke-width="1"/>
<text x="304.6" y="104.0" font-size="9.6" text-anchor="end">7.5</text>
<path d="M307.9 75.8h-2.5" stroke="#777" stroke-width="1"/>
<text x="304.6" y="78.8" font-size="9.6" text-anchor="end">10.0</text>
<path d="M489.5 176.5h2.2" stroke="#777" stroke-width="1"/>
<text x="492.1" y="179.5" font-size="9.6">0</text>
<path d="M489.5 152.4h2.2" stroke="#777" stroke-width="1"/>
<text x="492.1" y="155.4" font-size="9.6">10</text>
<path d="M489.5 128.3h2.2" stroke="#777" stroke-width="1"/>
<text x="492.1" y="131.3" font-size="9.6">20</text>
<path d="M489.5 104.1h2.2" stroke="#777" stroke-width="1"/>
<text x="492.1" y="107.1" font-size="9.6">30</text>
<path d="M489.5 80.0h2.2" stroke="#777" stroke-width="1"/>
<text x="492.1" y="83.0" font-size="9.6">40</text>
<path d="M489.5 55.9h2.2" stroke="#777" stroke-width="1"/>
<text x="492.1" y="58.9" font-size="9.6">50</text>
<path d="M335.5 69.2V114.1M335.5 161.2V169.6M328.5 69.2H342.7M328.5 169.6H342.7M321.5 143.5H349.6" stroke="#262626" stroke-width="1" fill="none"/>
<rect x="321.5" y="114.1" width="28.1" height="47.1" fill="none" stroke="#262626" stroke-width="1"/>
<path d="M377.3 122.3V145.4M377.3 169.2V174.6M370.4 122.3H384.6M370.4 174.6H384.6M363.5 162.3H391.2" stroke="#262626" stroke-width="1" fill="none"/>
<rect x="363.5" y="145.4" width="27.7" height="23.8" fill="none" stroke="#262626" stroke-width="1"/>
<path d="M419.6 61.0V106.3M419.6 163.3V167.0M412.0 61.0H427.2M412.0 167.0H427.2M405.5 134.0H434.0" stroke="#262626" stroke-width="1" fill="none"/>
<rect x="405.5" y="106.3" width="28.5" height="57.0" fill="none" stroke="#262626" stroke-width="1"/>
<path d="M461.3 95.8V157.4M461.3 173.5V175.5M454.0 95.8H468.8M454.0 175.5H468.8M447.1 171.6H475.2" stroke="#262626" stroke-width="1" fill="none"/>
<rect x="447.1" y="157.4" width="28.1" height="16.1" fill="none" stroke="#262626" stroke-width="1"/>
<text x="315.7" y="188.8" font-size="9.6">cGVHD</text>
<text x="354.4" y="188.8" font-size="9.6">no GVHD</text>
<text x="400.6" y="188.6" font-size="9.6">cGVHD</text>
<text x="438.7" y="188.6" font-size="9.6">no GVHD</text>
<path d="M337.6 193V197.4H379.7V193M358.7 197.4V201" stroke="#222" stroke-width="1" fill="none"/>
<path d="M421.5 193V197.2H463.6V193M442.5 197.2V200.6" stroke="#222" stroke-width="1" fill="none"/>
<text x="344.5" y="210.5" font-size="9.5"><tspan font-style="italic">P</tspan> = .02</text>
<text x="428.8" y="210.5" font-size="9.5" textLength="32.6" lengthAdjust="spacing"><tspan font-style="italic">P</tspan> &lt; .001</text>
<text font-size="10.2" transform="translate(277.5 158.8) rotate(-90)" textLength="38.6" lengthAdjust="spacing">% CD25</text>
<text font-size="6.5" transform="translate(273.2 118.9) rotate(-90)" textLength="13.3" lengthAdjust="spacing">high</text>
<text font-size="10.2" transform="translate(277.5 103.4) rotate(-90)" textLength="39.2" lengthAdjust="spacing">of CD4+</text>
<text font-size="10.6" transform="translate(507.9 56.9) rotate(90)" textLength="56.0" lengthAdjust="spacing">CD4+CD25</text>
<text font-size="7.0" transform="translate(513.9 113.0) rotate(90)" textLength="16.5" lengthAdjust="spacing">high</text>
<text font-size="10.6" transform="translate(507.9 133.0) rotate(90)">x</text>
<text font-size="10.6" transform="translate(507.9 143.1) rotate(90)" textLength="11.4" lengthAdjust="spacing">10</text>
<text font-size="7.0" transform="translate(513.8 154.0) rotate(90)">6</text>
<text font-size="10.6" transform="translate(507.9 158.6) rotate(90)">/l</text>
<path d="M46 366.9H229.2" stroke="#707070" stroke-width="1.15" stroke-dasharray="1 1"/>
<path d="M46 379.8H229.2" stroke="#707070" stroke-width="1.15" stroke-dasharray="1 1"/>
<rect x="45.5" y="268.4" width="183.7" height="123.1" fill="none" stroke="#5a5a5a" stroke-width="1"/>
<path d="M45.5 391.5h-2.6" stroke="#333" stroke-width="1"/>
<text x="40.4" y="394.5" font-size="9.6" text-anchor="end">0.0</text>
<path d="M45.5 365.9h-2.6" stroke="#333" stroke-width="1"/>
<text x="40.4" y="368.9" font-size="9.6" text-anchor="end">2.5</text>
<path d="M45.5 340.3h-2.6" stroke="#333" stroke-width="1"/>
<text x="40.4" y="343.3" font-size="9.6" text-anchor="end">5.0</text>
<path d="M45.5 314.7h-2.6" stroke="#333" stroke-width="1"/>
<text x="40.4" y="317.7" font-size="9.6" text-anchor="end">7.5</text>
<path d="M45.5 289.1h-2.6" stroke="#333" stroke-width="1"/>
<text x="40.4" y="292.1" font-size="9.6" text-anchor="end">10.0</text>
<path d="M45.5 391.5v2.8" stroke="#333" stroke-width="1"/>
<text x="45.5" y="405.2" font-size="9.8" text-anchor="middle">0</text>
<path d="M63.9 391.5v2.8" stroke="#333" stroke-width="1"/>
<text x="63.9" y="405.2" font-size="9.8" text-anchor="middle">12</text>
<path d="M82.2 391.5v2.8" stroke="#333" stroke-width="1"/>
<text x="82.2" y="405.2" font-size="9.8" text-anchor="middle">24</text>
<path d="M100.6 391.5v2.8" stroke="#333" stroke-width="1"/>
<text x="100.6" y="405.2" font-size="9.8" text-anchor="middle">36</text>
<path d="M119.0 391.5v2.8" stroke="#333" stroke-width="1"/>
<text x="119.0" y="405.2" font-size="9.8" text-anchor="middle">48</text>
<path d="M137.3 391.5v2.8" stroke="#333" stroke-width="1"/>
<text x="137.3" y="405.2" font-size="9.8" text-anchor="middle">60</text>
<path d="M155.7 391.5v2.8" stroke="#333" stroke-width="1"/>
<text x="155.7" y="405.2" font-size="9.8" text-anchor="middle">72</text>
<path d="M174.1 391.5v2.8" stroke="#333" stroke-width="1"/>
<text x="174.1" y="405.2" font-size="9.8" text-anchor="middle">84</text>
<path d="M192.5 391.5v2.8" stroke="#333" stroke-width="1"/>
<text x="192.5" y="405.2" font-size="9.8" text-anchor="middle">96</text>
<path d="M210.8 391.5v2.8" stroke="#333" stroke-width="1"/>
<text x="210.8" y="405.2" font-size="9.8" text-anchor="middle">108</text>
<path d="M229.2 391.5v2.8" stroke="#333" stroke-width="1"/>
<text x="229.2" y="405.2" font-size="9.8" text-anchor="middle">120</text>
<rect x="51.7" y="357.5" width="7.4" height="7.4" fill="#050505"/>
<rect x="47.7" y="339.4" width="7.4" height="7.4" fill="#050505"/>
<rect x="51.2" y="335.2" width="7.4" height="7.4" fill="#050505"/>
<rect x="57.0" y="332.1" width="7.4" height="7.4" fill="#050505"/>
<rect x="49.6" y="356.3" width="7.4" height="7.4" fill="#050505"/>
<rect x="96.7" y="346.4" width="7.4" height="7.4" fill="#050505"/>
<rect x="79.9" y="351.5" width="7.4" height="7.4" fill="#050505"/>
<rect x="79.9" y="357.3" width="7.4" height="7.4" fill="#050505"/>
<rect x="50.4" y="369.9" width="7.4" height="7.4" fill="#050505"/>
<rect x="54.5" y="373.2" width="7.4" height="7.4" fill="#050505"/>
<rect x="49.1" y="380.6" width="7.4" height="7.4" fill="#050505"/>
<rect x="53.8" y="379.9" width="7.4" height="7.4" fill="#050505"/>
<rect x="58.5" y="379.7" width="7.4" height="7.4" fill="#050505"/>
<rect x="68.8" y="379.3" width="7.4" height="7.4" fill="#050505"/>
<rect x="92.2" y="377.1" width="7.4" height="7.4" fill="#050505"/>
<rect x="88.8" y="385.1" width="7.4" height="7.4" fill="#050505"/>
<rect x="60.6" y="363.3" width="7.4" height="7.4" fill="#050505"/>
<rect x="138.1" y="361.3" width="7.4" height="7.4" fill="#050505"/>
<rect x="129.2" y="380.1" width="7.4" height="7.4" fill="#050505"/>
<rect x="210.5" y="385.0" width="7.4" height="7.4" fill="#050505"/>
<rect x="47.8" y="278.4" width="7.35" height="7.35" fill="#fff" stroke="#111" stroke-width="1.2"/>
<rect x="56.6" y="308.4" width="7.35" height="7.35" fill="#fff" stroke="#111" stroke-width="1.2"/>
<rect x="63.1" y="307.3" width="7.35" height="7.35" fill="#fff" stroke="#111" stroke-width="1.2"/>
<rect x="82.8" y="314.1" width="7.35" height="7.35" fill="#fff" stroke="#111" stroke-width="1.2"/>
<rect x="70.8" y="333.5" width="7.35" height="7.35" fill="#fff" stroke="#111" stroke-width="1.2"/>
<rect x="55.2" y="346.9" width="7.35" height="7.35" fill="#fff" stroke="#111" stroke-width="1.2"/>
<rect x="64.3" y="345.2" width="7.35" height="7.35" fill="#fff" stroke="#111" stroke-width="1.2"/>
<rect x="58.2" y="353.5" width="7.35" height="7.35" fill="#fff" stroke="#111" stroke-width="1.2"/>
<rect x="89.0" y="350.2" width="7.35" height="7.35" fill="#fff" stroke="#111" stroke-width="1.2"/>
<rect x="61.3" y="360.3" width="7.35" height="7.35" fill="#fff" stroke="#111" stroke-width="1.2"/>
<rect x="72.0" y="366.4" width="7.35" height="7.35" fill="#fff" stroke="#111" stroke-width="1.2"/>
<rect x="62.9" y="371.9" width="7.35" height="7.35" fill="#fff" stroke="#111" stroke-width="1.2"/>
<rect x="70.5" y="372.8" width="7.35" height="7.35" fill="#fff" stroke="#111" stroke-width="1.2"/>
<rect x="78.3" y="377.4" width="7.35" height="7.35" fill="#fff" stroke="#111" stroke-width="1.2"/>
<rect x="85.9" y="380.0" width="7.35" height="7.35" fill="#fff" stroke="#111" stroke-width="1.2"/>
<rect x="150.7" y="371.5" width="7.35" height="7.35" fill="#fff" stroke="#111" stroke-width="1.2"/>
<text x="54.7" y="423" font-size="11.12">Time after transplantation (mo)</text>
<text font-size="11.0" transform="translate(12.9 381.6) rotate(-90)" textLength="45.8" lengthAdjust="spacing">% CD25</text>
<text font-size="7.5" transform="translate(7.6 334.8) rotate(-90)" textLength="17.7" lengthAdjust="spacing">high</text>
<text font-size="11.0" transform="translate(12.9 314.2) rotate(-90)" textLength="44.5" lengthAdjust="spacing">of CD4+</text>
<path d="M308 342.8H491.4" stroke="#707070" stroke-width="1.15" stroke-dasharray="1 1"/>
<path d="M308 373.5H491.4" stroke="#707070" stroke-width="1.15" stroke-dasharray="1 1"/>
<rect x="307.5" y="269.4" width="183.9" height="122.1" fill="none" stroke="#5a5a5a" stroke-width="1"/>
<path d="M307.5 391.5h-2.6" stroke="#333" stroke-width="1"/>
<text x="303.2" y="394.5" font-size="9.6" text-anchor="end">0</text>
<path d="M307.5 367.1h-2.6" stroke="#333" stroke-width="1"/>
<text x="303.2" y="370.1" font-size="9.6" text-anchor="end">10</text>
<path d="M307.5 342.7h-2.6" stroke="#333" stroke-width="1"/>
<text x="303.2" y="345.7" font-size="9.6" text-anchor="end">20</text>
<path d="M307.5 318.2h-2.6" stroke="#333" stroke-width="1"/>
<text x="303.2" y="321.2" font-size="9.6" text-anchor="end">30</text>
<path d="M307.5 293.8h-2.6" stroke="#333" stroke-width="1"/>
<text x="303.2" y="296.8" font-size="9.6" text-anchor="end">40</text>
<path d="M307.5 269.4h-2.6" stroke="#333" stroke-width="1"/>
<text x="303.2" y="272.4" font-size="9.6" text-anchor="end">50</text>
<path d="M307.5 391.5v2.8" stroke="#333" stroke-width="1"/>
<text x="307.5" y="405.2" font-size="9.8" text-anchor="middle">0</text>
<path d="M325.9 391.5v2.8" stroke="#333" stroke-width="1"/>
<text x="325.9" y="405.2" font-size="9.8" text-anchor="middle">12</text>
<path d="M344.3 391.5v2.8" stroke="#333" stroke-width="1"/>
<text x="344.3" y="405.2" font-size="9.8" text-anchor="middle">24</text>
<path d="M362.7 391.5v2.8" stroke="#333" stroke-width="1"/>
<text x="362.7" y="405.2" font-size="9.8" text-anchor="middle">36</text>
<path d="M381.1 391.5v2.8" stroke="#333" stroke-width="1"/>
<text x="381.1" y="405.2" font-size="9.8" text-anchor="middle">48</text>
<path d="M399.4 391.5v2.8" stroke="#333" stroke-width="1"/>
<text x="399.4" y="405.2" font-size="9.8" text-anchor="middle">60</text>
<path d="M417.8 391.5v2.8" stroke="#333" stroke-width="1"/>
<text x="417.8" y="405.2" font-size="9.8" text-anchor="middle">72</text>
<path d="M436.2 391.5v2.8" stroke="#333" stroke-width="1"/>
<text x="436.2" y="405.2" font-size="9.8" text-anchor="middle">84</text>
<path d="M454.6 391.5v2.8" stroke="#333" stroke-width="1"/>
<text x="454.6" y="405.2" font-size="9.8" text-anchor="middle">96</text>
<path d="M473.0 391.5v2.8" stroke="#333" stroke-width="1"/>
<text x="473.0" y="405.2" font-size="9.8" text-anchor="middle">108</text>
<path d="M491.4 391.5v2.8" stroke="#333" stroke-width="1"/>
<text x="491.4" y="405.2" font-size="9.8" text-anchor="middle">120</text>
<rect x="358.7" y="345.0" width="7.4" height="7.4" fill="#050505"/>
<rect x="323.3" y="349.1" width="7.4" height="7.4" fill="#050505"/>
<rect x="319.4" y="359.9" width="7.4" height="7.4" fill="#050505"/>
<rect x="311.1" y="368.1" width="7.4" height="7.4" fill="#050505"/>
<rect x="341.5" y="368.7" width="7.4" height="7.4" fill="#050505"/>
<rect x="312.9" y="378.3" width="7.4" height="7.4" fill="#050505"/>
<rect x="309.5" y="385.5" width="7.4" height="7.4" fill="#050505"/>
<rect x="314.1" y="384.8" width="7.4" height="7.4" fill="#050505"/>
<rect x="317.9" y="384.8" width="7.4" height="7.4" fill="#050505"/>
<rect x="331.3" y="384.6" width="7.4" height="7.4" fill="#050505"/>
<rect x="350.8" y="381.3" width="7.4" height="7.4" fill="#050505"/>
<rect x="354.7" y="385.6" width="7.4" height="7.4" fill="#050505"/>
<rect x="333.6" y="378.9" width="7.4" height="7.4" fill="#050505"/>
<rect x="400.4" y="362.2" width="7.4" height="7.4" fill="#050505"/>
<rect x="390.9" y="385.3" width="7.4" height="7.4" fill="#050505"/>
<rect x="472.4" y="386.9" width="7.4" height="7.4" fill="#050505"/>
<rect x="318.9" y="270.7" width="7.35" height="7.35" fill="#fff" stroke="#111" stroke-width="1.2"/>
<rect x="344.9" y="277.6" width="7.35" height="7.35" fill="#fff" stroke="#111" stroke-width="1.2"/>
<rect x="309.4" y="305.1" width="7.35" height="7.35" fill="#fff" stroke="#111" stroke-width="1.2"/>
<rect x="317.6" y="305.1" width="7.35" height="7.35" fill="#fff" stroke="#111" stroke-width="1.2"/>
<rect x="318.4" y="305.7" width="7.35" height="7.35" fill="#fff" stroke="#111" stroke-width="1.2"/>
<rect x="325.1" y="327.5" width="7.35" height="7.35" fill="#fff" stroke="#111" stroke-width="1.2"/>
<rect x="320.2" y="335.4" width="7.35" height="7.35" fill="#fff" stroke="#111" stroke-width="1.2"/>
<rect x="324.7" y="339.3" width="7.35" height="7.35" fill="#fff" stroke="#111" stroke-width="1.2"/>
<rect x="330.0" y="344.7" width="7.35" height="7.35" fill="#fff" stroke="#111" stroke-width="1.2"/>
<rect x="351.3" y="335.4" width="7.35" height="7.35" fill="#fff" stroke="#111" stroke-width="1.2"/>
<rect x="332.6" y="354.2" width="7.35" height="7.35" fill="#fff" stroke="#111" stroke-width="1.2"/>
<rect x="323.2" y="359.8" width="7.35" height="7.35" fill="#fff" stroke="#111" stroke-width="1.2"/>
<rect x="348.1" y="366.6" width="7.35" height="7.35" fill="#fff" stroke="#111" stroke-width="1.2"/>
<rect x="340.8" y="374.7" width="7.35" height="7.35" fill="#fff" stroke="#111" stroke-width="1.2"/>
<rect x="334.7" y="377.9" width="7.35" height="7.35" fill="#fff" stroke="#111" stroke-width="1.2"/>
<rect x="332.8" y="375.1" width="7.35" height="7.35" fill="#fff" stroke="#111" stroke-width="1.2"/>
<rect x="326.2" y="378.1" width="7.35" height="7.35" fill="#fff" stroke="#111" stroke-width="1.2"/>
<rect x="412.5" y="374.2" width="7.35" height="7.35" fill="#fff" stroke="#111" stroke-width="1.2"/>
<text x="317.2" y="423" font-size="11.12">Time after transplantation (mo)</text>
<text font-size="11.2" transform="translate(285.6 382.0) rotate(-90)" textLength="59.6" lengthAdjust="spacing">CD4+CD25</text>
<text font-size="7.5" transform="translate(280.1 321.4) rotate(-90)" textLength="18.2" lengthAdjust="spacing">high</text>
<text font-size="11.2" transform="translate(285.6 299.3) rotate(-90)">x</text>
<text font-size="11.2" transform="translate(285.6 289.6) rotate(-90)" textLength="12.4" lengthAdjust="spacing">10</text>
<text font-size="7.5" transform="translate(280.0 277.9) rotate(-90)">6</text>
<text font-size="11.2" transform="translate(285.6 273.5) rotate(-90)" textLength="7.2" lengthAdjust="spacing">/l</text>
</g></svg></body></html>
